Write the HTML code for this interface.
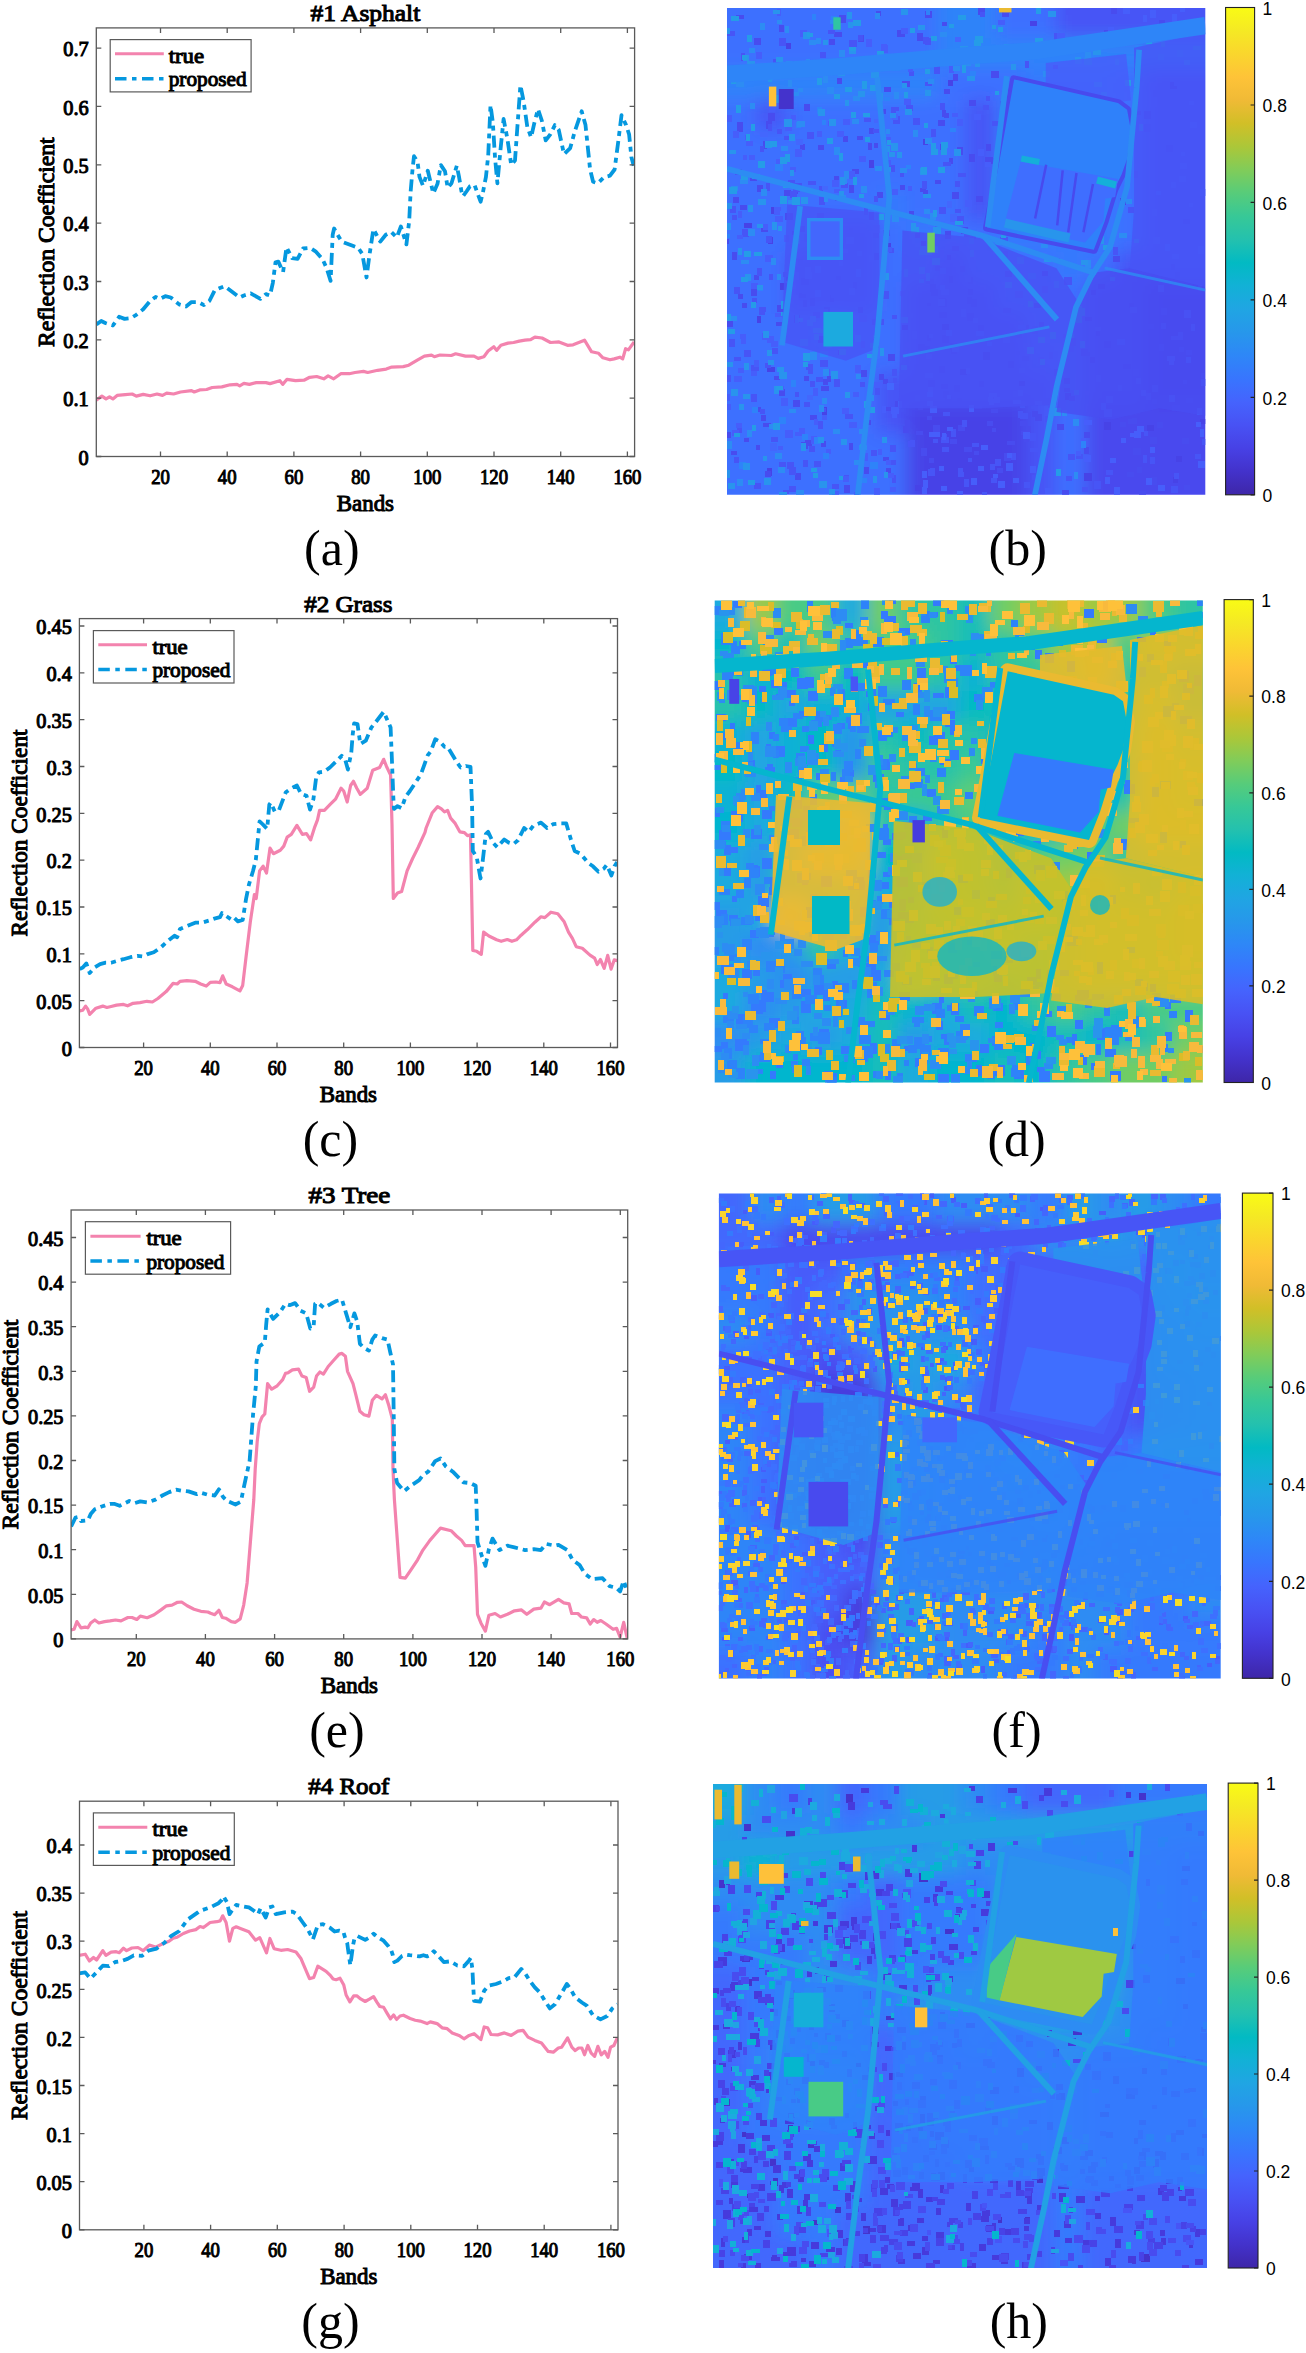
<!DOCTYPE html><html><head><meta charset='utf-8'><style>html,body{margin:0;padding:0;background:#fff}svg{display:block}</style></head><body>
<svg width='1306' height='2353' viewBox='0 0 1306 2353'>
<rect width='1306' height='2353' fill='#fff'/>
<clipPath id='clipa'><rect x='96.3' y='27.9' width='538.3000000000001' height='428.6'/></clipPath>
<g clip-path='url(#clipa)' fill='none' stroke-linejoin='round'>
<polyline points='95.0,400.9 101.9,396.1 106.0,398.9 109.5,396.8 112.9,398.9 117.1,395.4 125.3,394.7 132.2,394.0 136.3,396.1 143.2,394.4 150.1,395.8 157.0,394.0 162.5,395.4 166.7,393.1 173.6,394.0 180.5,392.0 191.5,390.6 194.2,392.0 199.7,389.9 206.6,389.5 212.2,387.5 221.8,386.9 230.1,384.8 237.0,384.4 239.7,385.8 243.9,383.4 249.4,384.4 256.3,382.6 265.9,382.6 270.0,383.6 279.9,380.7 282.7,384.4 287.0,379.3 295.5,380.7 304.0,380.2 309.7,377.3 316.7,376.5 323.8,378.8 328.1,375.9 333.7,378.8 340.8,373.7 349.3,373.7 355.0,372.5 363.5,371.4 367.7,372.5 377.7,370.3 386.2,369.1 391.8,367.1 403.2,366.6 408.8,365.2 417.3,360.1 424.4,356.1 431.5,355.2 434.3,356.7 440.0,355.0 451.3,355.5 455.6,353.8 465.5,356.1 474.0,356.1 478.2,358.4 483.9,356.7 488.1,351.0 493.8,346.7 496.6,350.4 500.9,345.3 508.0,343.1 513.6,342.5 519.3,341.1 525.0,340.2 530.6,339.7 534.9,337.1 542.0,338.0 550.5,342.5 559.0,341.9 567.5,345.3 573.1,344.8 578.8,342.5 584.5,340.2 591.6,351.8 598.6,353.3 602.9,357.8 610.0,359.8 614.2,358.9 619.9,357.2 622.7,358.9 625.6,348.7 628.4,349.9 634.1,341.9' stroke='#f383ae' stroke-width='3.2'/>
<polyline points='96.4,324.4 101.2,321.0 105.3,323.0 112.9,325.5 119.1,316.8 124.6,318.9 130.8,318.2 136.3,314.8 143.2,309.3 150.1,301.0 155.6,296.9 159.8,298.9 165.3,296.2 170.8,297.5 179.1,304.4 186.0,306.5 191.5,302.1 198.4,302.1 203.9,305.1 209.4,301.0 214.9,290.0 224.6,286.1 231.4,291.3 239.7,297.5 243.9,295.5 250.7,293.4 260.4,298.9 265.9,294.1 270.0,295.5 272.8,283.1 275.5,262.3 278.3,261.6 283.1,272.0 286.5,247.2 292.1,258.2 297.6,258.9 303.1,248.5 310.0,247.8 315.5,251.3 322.4,258.9 326.5,267.8 330.6,280.9 332.7,234.7 334.1,228.5 337.5,234.7 341.7,241.6 352.7,245.8 358.2,247.8 362.3,254.0 366.5,277.5 369.2,256.8 373.4,229.2 380.3,241.6 385.8,234.7 391.3,232.0 396.8,237.5 400.9,226.5 406.4,244.4 409.2,221.0 410.6,192.0 412.6,168.6 414.0,156.2 417.5,161.7 419.5,176.9 423.0,185.8 427.8,170.7 433.3,193.4 437.5,183.8 440.9,165.1 445.0,171.3 447.7,187.9 451.5,183.3 456.8,165.7 459.1,177.2 461.4,191.0 463.0,196.3 466.8,191.0 469.9,186.4 474.5,184.9 480.6,201.7 482.9,192.5 485.9,177.2 488.2,155.8 490.5,105.2 492.8,122.1 495.1,158.8 497.4,183.3 500.5,149.6 503.6,119.0 507.4,138.9 511.2,164.9 515.0,160.4 517.3,128.2 520.4,85.3 523.5,100.6 527.3,126.7 531.1,137.4 534.2,123.6 538.0,109.1 541.8,120.5 545.7,140.4 550.3,134.3 554.9,125.1 558.7,129.7 564.0,154.2 570.2,148.1 574.8,131.3 581.7,111.3 585.5,125.1 590.1,169.5 593.1,181.8 597.7,183.3 603.9,177.2 610.0,175.7 614.6,169.5 618.4,140.4 621.5,115.2 626.1,125.1 629.1,134.3 631.4,157.3 633.7,165.7' stroke='#0598df' stroke-width='3.8' stroke-dasharray='12 5 5 5'/>
</g>
<rect x='96.3' y='27.9' width='538.3' height='428.6' fill='none' stroke='#5a5a5a' stroke-width='1.3'/>
<text x='160.5' y='484.0' font-size='20.3' text-anchor='middle' font-weight='normal' font-family="'Liberation Serif', serif" textLength='18.7' lengthAdjust='spacingAndGlyphs' stroke='#000' stroke-width='1.0'>20</text>
<text x='227.2' y='484.0' font-size='20.3' text-anchor='middle' font-weight='normal' font-family="'Liberation Serif', serif" textLength='18.7' lengthAdjust='spacingAndGlyphs' stroke='#000' stroke-width='1.0'>40</text>
<text x='293.9' y='484.0' font-size='20.3' text-anchor='middle' font-weight='normal' font-family="'Liberation Serif', serif" textLength='18.7' lengthAdjust='spacingAndGlyphs' stroke='#000' stroke-width='1.0'>60</text>
<text x='360.6' y='484.0' font-size='20.3' text-anchor='middle' font-weight='normal' font-family="'Liberation Serif', serif" textLength='18.7' lengthAdjust='spacingAndGlyphs' stroke='#000' stroke-width='1.0'>80</text>
<text x='427.3' y='484.0' font-size='20.3' text-anchor='middle' font-weight='normal' font-family="'Liberation Serif', serif" textLength='28.0' lengthAdjust='spacingAndGlyphs' stroke='#000' stroke-width='1.0'>100</text>
<text x='494.0' y='484.0' font-size='20.3' text-anchor='middle' font-weight='normal' font-family="'Liberation Serif', serif" textLength='28.0' lengthAdjust='spacingAndGlyphs' stroke='#000' stroke-width='1.0'>120</text>
<text x='560.7' y='484.0' font-size='20.3' text-anchor='middle' font-weight='normal' font-family="'Liberation Serif', serif" textLength='28.0' lengthAdjust='spacingAndGlyphs' stroke='#000' stroke-width='1.0'>140</text>
<text x='627.4' y='484.0' font-size='20.3' text-anchor='middle' font-weight='normal' font-family="'Liberation Serif', serif" textLength='28.0' lengthAdjust='spacingAndGlyphs' stroke='#000' stroke-width='1.0'>160</text>
<text x='88.7' y='464.7' font-size='20.3' text-anchor='end' font-weight='normal' font-family="'Liberation Serif', serif" stroke='#000' stroke-width='1.0'>0</text>
<text x='88.7' y='406.3' font-size='20.3' text-anchor='end' font-weight='normal' font-family="'Liberation Serif', serif" stroke='#000' stroke-width='1.0'>0.1</text>
<text x='88.7' y='348.0' font-size='20.3' text-anchor='end' font-weight='normal' font-family="'Liberation Serif', serif" stroke='#000' stroke-width='1.0'>0.2</text>
<text x='88.7' y='289.6' font-size='20.3' text-anchor='end' font-weight='normal' font-family="'Liberation Serif', serif" stroke='#000' stroke-width='1.0'>0.3</text>
<text x='88.7' y='231.3' font-size='20.3' text-anchor='end' font-weight='normal' font-family="'Liberation Serif', serif" stroke='#000' stroke-width='1.0'>0.4</text>
<text x='88.7' y='172.9' font-size='20.3' text-anchor='end' font-weight='normal' font-family="'Liberation Serif', serif" stroke='#000' stroke-width='1.0'>0.5</text>
<text x='88.7' y='114.6' font-size='20.3' text-anchor='end' font-weight='normal' font-family="'Liberation Serif', serif" stroke='#000' stroke-width='1.0'>0.6</text>
<text x='88.7' y='56.2' font-size='20.3' text-anchor='end' font-weight='normal' font-family="'Liberation Serif', serif" stroke='#000' stroke-width='1.0'>0.7</text>
<path d='M160.5,456.5v-5M160.5,27.9v5M227.2,456.5v-5M227.2,27.9v5M293.9,456.5v-5M293.9,27.9v5M360.6,456.5v-5M360.6,27.9v5M427.3,456.5v-5M427.3,27.9v5M494.0,456.5v-5M494.0,27.9v5M560.7,456.5v-5M560.7,27.9v5M627.4,456.5v-5M627.4,27.9v5M96.3,456.5h5M634.6,456.5h-5M96.3,398.1h5M634.6,398.1h-5M96.3,339.8h5M634.6,339.8h-5M96.3,281.5h5M634.6,281.5h-5M96.3,223.1h5M634.6,223.1h-5M96.3,164.8h5M634.6,164.8h-5M96.3,106.4h5M634.6,106.4h-5M96.3,48.1h5M634.6,48.1h-5' stroke='#5a5a5a' stroke-width='1.3' fill='none'/>
<text x='365.4' y='21.0' font-size='23.5' text-anchor='middle' font-weight='normal' font-family="'Liberation Serif', serif" textLength='109.7' lengthAdjust='spacingAndGlyphs' stroke='#000' stroke-width='1.0'>#1 Asphalt</text>
<text x='365.4' y='510.7' font-size='22.3' text-anchor='middle' font-weight='normal' font-family="'Liberation Serif', serif" textLength='57.3' lengthAdjust='spacingAndGlyphs' stroke='#000' stroke-width='1.0'>Bands</text>
<text transform='translate(54.0,242.2) rotate(-90)' x='0' y='0' font-size='22.3' text-anchor='middle' font-weight='normal' stroke='#000' stroke-width='1.0' font-family="'Liberation Serif', serif" textLength='209.7' lengthAdjust='spacingAndGlyphs'>Reflection Coefficient</text>
<rect x='110.2' y='39.6' width='140.9' height='52.3' fill='#fff' stroke='#5a5a5a' stroke-width='1.2'/>
<line x1='115.0' y1='53.7' x2='163.8' y2='53.7' stroke='#f383ae' stroke-width='3.1'/>
<line x1='115.0' y1='78.7' x2='163.8' y2='78.7' stroke='#0598df' stroke-width='3.5' stroke-dasharray='11.5 5.5 4.5 5.5'/>
<text x='168.7' y='62.6' font-size='20.5' text-anchor='start' font-weight='normal' font-family="'Liberation Serif', serif" textLength='35.3' lengthAdjust='spacingAndGlyphs' stroke='#000' stroke-width='1.0'>true</text>
<text x='168.7' y='86.1' font-size='20.5' text-anchor='start' font-weight='normal' font-family="'Liberation Serif', serif" textLength='77.9' lengthAdjust='spacingAndGlyphs' stroke='#000' stroke-width='1.0'>proposed</text>
<clipPath id='clipc'><rect x='79.4' y='618.6' width='538.1' height='428.9'/></clipPath>
<g clip-path='url(#clipc)' fill='none' stroke-linejoin='round'>
<polyline points='79.7,1010.9 82.8,1010.2 85.6,1006.1 87.6,1008.9 89.7,1014.4 95.9,1008.2 102.8,1006.1 106.9,1007.5 111.1,1006.5 116.6,1005.1 123.5,1004.4 127.6,1005.8 133.1,1003.3 140.0,1002.6 146.9,1001.3 152.4,1002.0 157.9,998.5 166.2,991.6 173.1,983.4 177.2,984.0 180.0,981.3 186.9,980.6 195.2,981.3 200.7,984.0 206.2,986.1 210.3,982.4 215.8,982.0 220.0,982.7 222.7,975.8 226.2,984.0 232.4,986.8 239.9,990.9 242.7,985.4 246.1,956.5 250.3,922.0 254.4,894.5 256.2,898.5 259.6,870.9 263.1,866.1 266.5,873.0 270.0,848.2 273.4,853.7 280.3,850.2 283.8,846.1 287.2,837.1 291.3,834.4 296.9,825.4 302.4,834.4 306.5,833.7 310.6,839.9 314.8,826.8 317.5,819.9 319.6,810.3 324.4,810.3 329.9,804.7 335.5,799.2 341.0,788.2 343.7,791.0 347.2,802.0 350.6,785.5 353.4,781.3 356.8,788.2 360.3,794.4 367.2,788.2 372.7,770.3 379.6,767.5 383.7,759.3 386.4,766.2 390.6,775.1 392.0,824.0 393.3,898.5 397.5,893.0 401.6,891.6 407.1,870.9 412.6,858.5 418.1,847.5 425.0,832.3 426.1,828.0 432.3,812.7 437.6,806.6 441.4,808.9 444.5,811.9 447.6,810.4 450.6,818.1 455.2,823.4 459.8,831.8 464.4,832.6 467.5,835.7 470.5,834.9 472.8,950.5 476.7,951.3 481.3,954.3 483.6,932.1 488.9,936.0 496.6,939.8 501.2,941.3 507.3,939.5 511.9,941.3 516.5,939.8 521.1,935.2 527.2,929.8 534.9,922.2 541.0,916.8 544.8,917.6 550.9,912.2 557.8,913.8 564.0,921.4 568.5,932.1 572.4,938.3 576.2,946.7 582.3,948.2 590.0,955.1 594.6,958.2 597.3,964.5 600.4,959.5 604.2,968.3 607.7,955.3 611.1,969.1 614.2,959.9 617.2,960.6' stroke='#f383ae' stroke-width='3.2'/>
<polyline points='79.7,968.9 82.8,967.5 86.3,963.4 89.7,973.0 94.5,967.5 100.1,964.1 105.6,962.7 111.1,962.7 118.0,960.6 123.5,959.2 130.4,957.2 137.3,955.8 142.8,956.5 146.9,954.4 153.8,952.3 160.7,947.5 169.0,939.9 174.5,935.8 177.2,937.2 180.0,928.9 188.3,925.5 195.2,922.7 202.0,922.7 208.9,920.6 214.4,918.6 220.0,917.2 222.0,913.1 226.9,916.5 231.0,919.3 233.7,917.2 237.9,921.3 242.7,920.0 246.1,898.6 248.9,884.8 253.0,871.0 255.8,860.0 259.6,821.3 262.4,824.0 267.2,828.9 269.3,804.7 270.7,802.7 274.8,811.6 278.9,810.3 285.8,792.3 291.3,788.2 296.9,785.5 301.0,793.7 306.5,795.8 310.0,809.6 313.4,799.2 316.2,777.2 318.9,772.4 324.4,771.7 329.9,767.5 338.2,759.3 341.7,755.8 345.1,759.3 347.9,769.6 351.3,752.4 352.7,734.5 354.1,723.4 357.5,724.1 360.3,744.1 365.8,740.7 371.3,727.6 376.8,720.7 383.7,711.7 386.4,717.9 390.6,727.6 392.0,762.0 393.3,796.5 394.0,808.9 397.5,806.1 401.6,808.2 405.7,796.5 409.9,791.0 415.4,782.7 420.9,774.4 427.8,755.1 430.7,751.4 435.3,739.2 439.9,741.5 444.5,746.8 447.6,746.8 452.2,754.5 456.8,762.2 460.6,767.5 465.9,766.0 470.5,766.8 472.1,806.6 472.8,851.0 476.7,857.1 480.5,878.5 482.8,860.2 485.8,834.1 488.1,831.8 493.5,843.3 497.3,847.2 504.2,839.5 508.8,842.6 513.4,844.1 518.0,840.3 524.1,828.0 528.7,831.8 533.3,825.7 541.0,822.6 547.1,828.0 553.2,824.2 560.9,823.4 566.2,823.4 571.6,841.8 574.7,851.0 580.8,854.0 588.5,863.2 593.0,866.3 598.4,871.7 603.8,868.6 606.8,864.8 611.4,875.5 614.5,866.3 617.5,861.7 619.1,861.7' stroke='#0598df' stroke-width='3.8' stroke-dasharray='12 5 5 5'/>
</g>
<rect x='79.4' y='618.6' width='538.1' height='428.9' fill='none' stroke='#5a5a5a' stroke-width='1.3'/>
<text x='143.6' y='1075.0' font-size='20.3' text-anchor='middle' font-weight='normal' font-family="'Liberation Serif', serif" textLength='18.7' lengthAdjust='spacingAndGlyphs' stroke='#000' stroke-width='1.0'>20</text>
<text x='210.3' y='1075.0' font-size='20.3' text-anchor='middle' font-weight='normal' font-family="'Liberation Serif', serif" textLength='18.7' lengthAdjust='spacingAndGlyphs' stroke='#000' stroke-width='1.0'>40</text>
<text x='277.0' y='1075.0' font-size='20.3' text-anchor='middle' font-weight='normal' font-family="'Liberation Serif', serif" textLength='18.7' lengthAdjust='spacingAndGlyphs' stroke='#000' stroke-width='1.0'>60</text>
<text x='343.7' y='1075.0' font-size='20.3' text-anchor='middle' font-weight='normal' font-family="'Liberation Serif', serif" textLength='18.7' lengthAdjust='spacingAndGlyphs' stroke='#000' stroke-width='1.0'>80</text>
<text x='410.4' y='1075.0' font-size='20.3' text-anchor='middle' font-weight='normal' font-family="'Liberation Serif', serif" textLength='28.0' lengthAdjust='spacingAndGlyphs' stroke='#000' stroke-width='1.0'>100</text>
<text x='477.1' y='1075.0' font-size='20.3' text-anchor='middle' font-weight='normal' font-family="'Liberation Serif', serif" textLength='28.0' lengthAdjust='spacingAndGlyphs' stroke='#000' stroke-width='1.0'>120</text>
<text x='543.8' y='1075.0' font-size='20.3' text-anchor='middle' font-weight='normal' font-family="'Liberation Serif', serif" textLength='28.0' lengthAdjust='spacingAndGlyphs' stroke='#000' stroke-width='1.0'>140</text>
<text x='610.5' y='1075.0' font-size='20.3' text-anchor='middle' font-weight='normal' font-family="'Liberation Serif', serif" textLength='28.0' lengthAdjust='spacingAndGlyphs' stroke='#000' stroke-width='1.0'>160</text>
<text x='71.8' y='1055.7' font-size='20.3' text-anchor='end' font-weight='normal' font-family="'Liberation Serif', serif" stroke='#000' stroke-width='1.0'>0</text>
<text x='71.8' y='1008.9' font-size='20.3' text-anchor='end' font-weight='normal' font-family="'Liberation Serif', serif" stroke='#000' stroke-width='1.0'>0.05</text>
<text x='71.8' y='962.0' font-size='20.3' text-anchor='end' font-weight='normal' font-family="'Liberation Serif', serif" stroke='#000' stroke-width='1.0'>0.1</text>
<text x='71.8' y='915.2' font-size='20.3' text-anchor='end' font-weight='normal' font-family="'Liberation Serif', serif" stroke='#000' stroke-width='1.0'>0.15</text>
<text x='71.8' y='868.4' font-size='20.3' text-anchor='end' font-weight='normal' font-family="'Liberation Serif', serif" stroke='#000' stroke-width='1.0'>0.2</text>
<text x='71.8' y='821.5' font-size='20.3' text-anchor='end' font-weight='normal' font-family="'Liberation Serif', serif" stroke='#000' stroke-width='1.0'>0.25</text>
<text x='71.8' y='774.7' font-size='20.3' text-anchor='end' font-weight='normal' font-family="'Liberation Serif', serif" stroke='#000' stroke-width='1.0'>0.3</text>
<text x='71.8' y='727.9' font-size='20.3' text-anchor='end' font-weight='normal' font-family="'Liberation Serif', serif" stroke='#000' stroke-width='1.0'>0.35</text>
<text x='71.8' y='681.0' font-size='20.3' text-anchor='end' font-weight='normal' font-family="'Liberation Serif', serif" stroke='#000' stroke-width='1.0'>0.4</text>
<text x='71.8' y='634.2' font-size='20.3' text-anchor='end' font-weight='normal' font-family="'Liberation Serif', serif" stroke='#000' stroke-width='1.0'>0.45</text>
<path d='M143.6,1047.5v-5M143.6,618.6v5M210.3,1047.5v-5M210.3,618.6v5M277.0,1047.5v-5M277.0,618.6v5M343.7,1047.5v-5M343.7,618.6v5M410.4,1047.5v-5M410.4,618.6v5M477.1,1047.5v-5M477.1,618.6v5M543.8,1047.5v-5M543.8,618.6v5M610.5,1047.5v-5M610.5,618.6v5M79.4,1047.5h5M617.5,1047.5h-5M79.4,1000.7h5M617.5,1000.7h-5M79.4,953.8h5M617.5,953.8h-5M79.4,907.0h5M617.5,907.0h-5M79.4,860.2h5M617.5,860.2h-5M79.4,813.3h5M617.5,813.3h-5M79.4,766.5h5M617.5,766.5h-5M79.4,719.7h5M617.5,719.7h-5M79.4,672.8h5M617.5,672.8h-5M79.4,626.0h5M617.5,626.0h-5' stroke='#5a5a5a' stroke-width='1.3' fill='none'/>
<text x='348.4' y='611.7' font-size='23.5' text-anchor='middle' font-weight='normal' font-family="'Liberation Serif', serif" textLength='88.4' lengthAdjust='spacingAndGlyphs' stroke='#000' stroke-width='1.0'>#2 Grass</text>
<text x='348.4' y='1101.7' font-size='22.3' text-anchor='middle' font-weight='normal' font-family="'Liberation Serif', serif" textLength='57.3' lengthAdjust='spacingAndGlyphs' stroke='#000' stroke-width='1.0'>Bands</text>
<text transform='translate(27.2,833.0) rotate(-90)' x='0' y='0' font-size='22.3' text-anchor='middle' font-weight='normal' stroke='#000' stroke-width='1.0' font-family="'Liberation Serif', serif" textLength='207.0' lengthAdjust='spacingAndGlyphs'>Reflection Coefficient</text>
<rect x='93.4' y='630.6' width='140.6' height='52.4' fill='#fff' stroke='#5a5a5a' stroke-width='1.2'/>
<line x1='98.3' y1='644.8' x2='147.0' y2='644.8' stroke='#f383ae' stroke-width='3.1'/>
<line x1='98.3' y1='669.6' x2='147.0' y2='669.6' stroke='#0598df' stroke-width='3.5' stroke-dasharray='11.5 5.5 4.5 5.5'/>
<text x='152.4' y='653.7' font-size='20.5' text-anchor='start' font-weight='normal' font-family="'Liberation Serif', serif" textLength='35.3' lengthAdjust='spacingAndGlyphs' stroke='#000' stroke-width='1.0'>true</text>
<text x='152.4' y='677.2' font-size='20.5' text-anchor='start' font-weight='normal' font-family="'Liberation Serif', serif" textLength='77.9' lengthAdjust='spacingAndGlyphs' stroke='#000' stroke-width='1.0'>proposed</text>
<clipPath id='clipe'><rect x='71.1' y='1210.0' width='556.6' height='428.9000000000001'/></clipPath>
<g clip-path='url(#clipe)' fill='none' stroke-linejoin='round'>
<polyline points='71.1,1629.9 74.1,1629.2 76.9,1621.6 81.0,1627.8 85.2,1627.1 87.9,1627.8 90.7,1623.0 94.8,1620.0 98.9,1623.0 104.5,1621.6 110.0,1620.9 115.5,1620.0 121.0,1620.9 127.9,1617.5 132.0,1617.5 136.8,1619.5 140.3,1616.1 147.2,1617.7 154.1,1614.7 161.0,1609.9 166.5,1605.8 172.0,1605.1 177.5,1602.3 181.6,1602.0 187.2,1605.8 194.0,1609.2 200.9,1611.3 207.8,1612.0 210.6,1613.3 214.7,1614.7 218.9,1610.3 222.3,1617.5 225.7,1618.2 231.3,1621.6 235.4,1622.3 240.2,1618.9 243.7,1605.1 247.1,1583.0 253.8,1499.5 255.2,1469.2 257.2,1441.6 259.3,1423.7 262.1,1416.8 264.8,1414.0 267.6,1383.7 271.7,1389.2 277.2,1385.8 282.7,1379.6 285.5,1373.4 288.2,1372.7 292.4,1369.9 298.6,1369.2 302.0,1376.1 306.2,1377.5 309.6,1391.3 313.7,1387.2 316.5,1376.1 319.9,1372.0 323.4,1374.1 328.2,1366.5 333.7,1360.3 339.2,1354.1 342.0,1353.4 345.4,1356.2 347.5,1371.3 353.0,1383.7 355.8,1394.7 359.9,1411.3 364.0,1414.7 368.9,1416.1 372.3,1400.3 376.4,1395.4 382.0,1398.9 385.4,1394.7 388.9,1405.8 392.3,1418.9 393.0,1469.2 394.4,1499.5 400.0,1577.4 405.3,1578.2 410.6,1570.3 417.6,1559.8 422.9,1550.1 429.9,1540.4 435.2,1534.2 440.5,1528.1 451.1,1530.7 456.4,1536.0 461.6,1540.4 465.2,1545.7 474.0,1545.7 475.7,1566.8 477.5,1614.3 481.0,1623.2 485.4,1631.1 488.9,1615.2 495.1,1613.5 500.4,1617.0 507.4,1614.3 514.5,1610.8 521.5,1609.9 526.8,1614.3 533.8,1609.1 540.9,1608.2 544.4,1602.0 549.7,1604.7 558.5,1599.4 563.8,1602.9 569.1,1603.8 571.7,1613.5 577.9,1613.5 581.4,1617.0 586.7,1617.9 590.2,1624.0 593.7,1619.6 597.2,1622.3 600.8,1620.5 606.0,1624.0 613.1,1629.3 616.6,1628.4 620.1,1637.2 623.7,1622.3 627.2,1638.1' stroke='#f383ae' stroke-width='3.2'/>
<polyline points='71.1,1526.5 75.5,1517.5 78.3,1516.9 81.0,1521.0 87.9,1520.3 90.7,1514.1 94.8,1509.3 101.7,1506.5 110.0,1503.8 114.1,1503.8 119.6,1505.8 129.3,1501.0 134.8,1503.1 140.3,1501.4 147.2,1502.4 155.5,1499.6 162.3,1495.5 169.2,1492.1 176.1,1489.7 181.6,1490.7 188.5,1491.4 196.8,1494.1 200.9,1492.7 207.8,1494.8 214.7,1495.5 218.9,1489.3 223.0,1496.9 227.1,1501.0 235.4,1504.5 240.9,1501.7 243.7,1487.9 246.4,1475.5 249.6,1460.9 253.1,1414.0 255.8,1386.5 256.5,1361.7 259.3,1346.5 264.8,1342.4 266.2,1324.5 267.6,1309.3 273.1,1318.9 280.0,1312.1 285.5,1303.8 289.6,1305.2 295.1,1303.1 300.6,1310.7 306.2,1313.4 310.3,1328.6 313.7,1325.8 315.1,1303.8 317.2,1302.4 324.1,1307.9 331.0,1303.8 336.5,1301.0 342.0,1299.6 346.1,1313.4 350.3,1327.2 354.4,1313.4 357.2,1321.7 359.9,1343.8 364.0,1347.9 368.9,1350.6 372.3,1339.6 375.1,1335.5 382.0,1338.2 387.5,1339.6 390.2,1352.0 393.0,1364.4 393.7,1414.0 394.4,1469.2 397.1,1483.0 404.0,1491.2 410.9,1485.7 419.2,1480.2 422.9,1475.2 428.2,1471.7 435.2,1461.1 440.5,1458.5 445.8,1466.4 452.8,1471.7 463.4,1482.3 470.4,1483.1 475.7,1485.8 476.6,1510.4 477.5,1542.1 481.9,1556.2 485.4,1565.9 488.9,1549.2 492.5,1538.6 499.5,1550.1 507.4,1545.7 514.5,1547.4 525.0,1550.1 533.8,1549.2 540.9,1550.1 546.2,1543.9 555.0,1545.7 558.5,1544.8 567.3,1550.1 572.6,1559.8 579.6,1565.0 584.9,1573.8 592.0,1579.1 602.5,1578.2 609.6,1586.2 616.6,1587.9 620.1,1591.5 623.7,1580.9 627.2,1590.6' stroke='#0598df' stroke-width='3.8' stroke-dasharray='12 5 5 5'/>
</g>
<rect x='71.1' y='1210.0' width='556.6' height='428.9' fill='none' stroke='#5a5a5a' stroke-width='1.3'/>
<text x='136.3' y='1666.4' font-size='20.3' text-anchor='middle' font-weight='normal' font-family="'Liberation Serif', serif" textLength='18.7' lengthAdjust='spacingAndGlyphs' stroke='#000' stroke-width='1.0'>20</text>
<text x='205.4' y='1666.4' font-size='20.3' text-anchor='middle' font-weight='normal' font-family="'Liberation Serif', serif" textLength='18.7' lengthAdjust='spacingAndGlyphs' stroke='#000' stroke-width='1.0'>40</text>
<text x='274.6' y='1666.4' font-size='20.3' text-anchor='middle' font-weight='normal' font-family="'Liberation Serif', serif" textLength='18.7' lengthAdjust='spacingAndGlyphs' stroke='#000' stroke-width='1.0'>60</text>
<text x='343.7' y='1666.4' font-size='20.3' text-anchor='middle' font-weight='normal' font-family="'Liberation Serif', serif" textLength='18.7' lengthAdjust='spacingAndGlyphs' stroke='#000' stroke-width='1.0'>80</text>
<text x='412.9' y='1666.4' font-size='20.3' text-anchor='middle' font-weight='normal' font-family="'Liberation Serif', serif" textLength='28.0' lengthAdjust='spacingAndGlyphs' stroke='#000' stroke-width='1.0'>100</text>
<text x='482.0' y='1666.4' font-size='20.3' text-anchor='middle' font-weight='normal' font-family="'Liberation Serif', serif" textLength='28.0' lengthAdjust='spacingAndGlyphs' stroke='#000' stroke-width='1.0'>120</text>
<text x='551.1' y='1666.4' font-size='20.3' text-anchor='middle' font-weight='normal' font-family="'Liberation Serif', serif" textLength='28.0' lengthAdjust='spacingAndGlyphs' stroke='#000' stroke-width='1.0'>140</text>
<text x='620.3' y='1666.4' font-size='20.3' text-anchor='middle' font-weight='normal' font-family="'Liberation Serif', serif" textLength='28.0' lengthAdjust='spacingAndGlyphs' stroke='#000' stroke-width='1.0'>160</text>
<text x='63.5' y='1647.1' font-size='20.3' text-anchor='end' font-weight='normal' font-family="'Liberation Serif', serif" stroke='#000' stroke-width='1.0'>0</text>
<text x='63.5' y='1602.5' font-size='20.3' text-anchor='end' font-weight='normal' font-family="'Liberation Serif', serif" stroke='#000' stroke-width='1.0'>0.05</text>
<text x='63.5' y='1557.9' font-size='20.3' text-anchor='end' font-weight='normal' font-family="'Liberation Serif', serif" stroke='#000' stroke-width='1.0'>0.1</text>
<text x='63.5' y='1513.3' font-size='20.3' text-anchor='end' font-weight='normal' font-family="'Liberation Serif', serif" stroke='#000' stroke-width='1.0'>0.15</text>
<text x='63.5' y='1468.7' font-size='20.3' text-anchor='end' font-weight='normal' font-family="'Liberation Serif', serif" stroke='#000' stroke-width='1.0'>0.2</text>
<text x='63.5' y='1424.1' font-size='20.3' text-anchor='end' font-weight='normal' font-family="'Liberation Serif', serif" stroke='#000' stroke-width='1.0'>0.25</text>
<text x='63.5' y='1379.5' font-size='20.3' text-anchor='end' font-weight='normal' font-family="'Liberation Serif', serif" stroke='#000' stroke-width='1.0'>0.3</text>
<text x='63.5' y='1334.9' font-size='20.3' text-anchor='end' font-weight='normal' font-family="'Liberation Serif', serif" stroke='#000' stroke-width='1.0'>0.35</text>
<text x='63.5' y='1290.3' font-size='20.3' text-anchor='end' font-weight='normal' font-family="'Liberation Serif', serif" stroke='#000' stroke-width='1.0'>0.4</text>
<text x='63.5' y='1245.7' font-size='20.3' text-anchor='end' font-weight='normal' font-family="'Liberation Serif', serif" stroke='#000' stroke-width='1.0'>0.45</text>
<path d='M136.3,1638.9v-5M136.3,1210.0v5M205.4,1638.9v-5M205.4,1210.0v5M274.6,1638.9v-5M274.6,1210.0v5M343.7,1638.9v-5M343.7,1210.0v5M412.9,1638.9v-5M412.9,1210.0v5M482.0,1638.9v-5M482.0,1210.0v5M551.1,1638.9v-5M551.1,1210.0v5M620.3,1638.9v-5M620.3,1210.0v5M71.1,1638.9h5M627.7,1638.9h-5M71.1,1594.3h5M627.7,1594.3h-5M71.1,1549.7h5M627.7,1549.7h-5M71.1,1505.1h5M627.7,1505.1h-5M71.1,1460.5h5M627.7,1460.5h-5M71.1,1415.9h5M627.7,1415.9h-5M71.1,1371.3h5M627.7,1371.3h-5M71.1,1326.7h5M627.7,1326.7h-5M71.1,1282.1h5M627.7,1282.1h-5M71.1,1237.5h5M627.7,1237.5h-5' stroke='#5a5a5a' stroke-width='1.3' fill='none'/>
<text x='349.4' y='1203.1' font-size='23.5' text-anchor='middle' font-weight='normal' font-family="'Liberation Serif', serif" textLength='81.9' lengthAdjust='spacingAndGlyphs' stroke='#000' stroke-width='1.0'>#3 Tree</text>
<text x='349.4' y='1693.1' font-size='22.3' text-anchor='middle' font-weight='normal' font-family="'Liberation Serif', serif" textLength='57.3' lengthAdjust='spacingAndGlyphs' stroke='#000' stroke-width='1.0'>Bands</text>
<text transform='translate(17.6,1424.5) rotate(-90)' x='0' y='0' font-size='22.3' text-anchor='middle' font-weight='normal' stroke='#000' stroke-width='1.0' font-family="'Liberation Serif', serif" textLength='209.8' lengthAdjust='spacingAndGlyphs'>Reflection Coefficient</text>
<rect x='85.4' y='1221.7' width='145.2' height='52.5' fill='#fff' stroke='#5a5a5a' stroke-width='1.2'/>
<line x1='90.4' y1='1236.2' x2='140.6' y2='1236.2' stroke='#f383ae' stroke-width='3.1'/>
<line x1='90.4' y1='1260.9' x2='140.6' y2='1260.9' stroke='#0598df' stroke-width='3.5' stroke-dasharray='11.5 5.5 4.5 5.5'/>
<text x='146.4' y='1245.1' font-size='20.5' text-anchor='start' font-weight='normal' font-family="'Liberation Serif', serif" textLength='35.3' lengthAdjust='spacingAndGlyphs' stroke='#000' stroke-width='1.0'>true</text>
<text x='146.4' y='1268.6' font-size='20.5' text-anchor='start' font-weight='normal' font-family="'Liberation Serif', serif" textLength='77.9' lengthAdjust='spacingAndGlyphs' stroke='#000' stroke-width='1.0'>proposed</text>
<clipPath id='clipg'><rect x='79.5' y='1801.2' width='538.5' height='428.60000000000014'/></clipPath>
<g clip-path='url(#clipg)' fill='none' stroke-linejoin='round'>
<polyline points='79.0,1955.4 85.2,1954.2 89.4,1961.0 93.5,1957.5 96.6,1960.0 102.8,1950.7 105.9,1955.4 111.1,1952.1 116.2,1951.7 119.3,1952.7 123.5,1948.2 126.6,1950.7 131.8,1948.0 138.0,1947.5 143.1,1950.7 149.3,1945.1 155.5,1947.1 162.8,1943.8 169.0,1941.3 173.1,1938.2 177.2,1937.2 183.4,1933.5 189.6,1931.0 195.8,1929.6 200.0,1926.5 203.4,1927.6 210.1,1922.5 216.8,1921.7 220.2,1920.9 222.7,1915.8 226.1,1922.5 229.5,1941.1 232.8,1928.4 236.2,1926.8 240.4,1928.4 248.9,1931.8 255.6,1940.2 259.8,1937.7 266.5,1952.9 269.9,1938.5 274.1,1948.7 280.9,1950.3 287.6,1949.5 296.0,1952.0 301.1,1958.8 303.3,1964.1 309.5,1978.6 313.7,1977.5 317.8,1966.2 326.1,1971.3 330.0,1975.1 333.1,1979.0 336.1,1979.7 340.0,1978.2 343.8,1985.1 346.1,1995.0 349.9,2001.9 353.7,1995.8 356.8,1995.8 360.6,1998.9 365.2,2001.5 369.8,1998.9 373.6,1996.6 376.7,2001.9 379.8,2006.5 383.6,2007.3 386.7,2012.6 390.5,2018.8 393.6,2014.9 396.6,2019.5 400.0,2016.0 403.4,2015.2 410.1,2018.5 415.2,2020.2 420.2,2021.1 427.0,2023.6 430.3,2021.9 437.1,2023.6 442.1,2027.8 447.2,2028.7 452.2,2032.9 459.0,2035.4 464.0,2038.8 469.1,2035.4 474.1,2033.7 480.9,2039.6 484.2,2027.0 487.6,2027.8 491.0,2034.5 497.7,2034.9 504.4,2032.9 511.2,2035.4 517.9,2031.2 523.0,2030.3 528.0,2037.1 534.8,2040.4 541.5,2043.0 548.2,2051.4 553.3,2052.2 558.3,2048.0 561.7,2047.2 567.6,2037.9 571.8,2047.2 575.2,2050.6 578.6,2048.0 581.9,2048.0 584.5,2054.8 587.8,2045.5 591.2,2053.1 594.6,2056.4 597.9,2046.3 601.3,2054.8 604.7,2051.4 608.0,2057.3 610.6,2047.2 613.9,2045.5 617.3,2037.9' stroke='#f383ae' stroke-width='3.2'/>
<polyline points='79.0,1973.4 85.2,1972.4 90.4,1978.6 96.6,1972.4 102.8,1965.7 109.0,1966.2 115.2,1962.0 121.4,1961.0 127.6,1958.9 133.8,1955.4 142.1,1955.8 148.3,1950.7 156.6,1948.6 164.8,1942.4 171.0,1936.2 179.3,1931.0 187.6,1919.6 197.9,1912.4 200.0,1910.8 210.1,1907.4 218.5,1903.2 221.9,1899.8 223.6,1896.4 227.0,1902.3 229.5,1914.1 232.8,1909.1 236.2,1904.9 243.8,1906.5 248.9,1907.4 253.9,1910.8 258.1,1914.1 260.6,1908.2 265.7,1917.5 269.1,1907.4 272.4,1906.5 275.8,1914.1 284.2,1912.4 292.6,1911.6 296.9,1914.1 302.8,1922.5 307.8,1929.3 312.9,1939.4 317.9,1925.1 323.0,1924.2 330.0,1927.7 334.6,1931.5 339.2,1930.7 343.4,1931.9 345.3,1938.4 347.2,1943.0 348.0,1949.1 349.1,1956.8 350.3,1965.2 351.8,1954.5 353.0,1945.3 354.5,1938.4 357.6,1936.1 362.2,1938.4 365.2,1939.9 369.1,1937.6 373.6,1933.8 378.2,1937.6 383.6,1940.7 388.2,1946.0 391.3,1950.6 392.8,1955.2 394.3,1962.1 397.4,1960.6 402.0,1956.0 405.8,1954.5 409.6,1955.2 414.2,1955.6 419.6,1956.4 423.4,1955.2 427.2,1956.4 430.0,1955.2 433.7,1951.2 438.7,1956.2 443.8,1962.1 450.5,1961.3 457.3,1965.5 464.0,1966.3 469.1,1960.4 470.8,1957.9 472.4,1968.9 473.3,1987.4 474.1,2000.9 480.0,2001.7 484.2,1990.8 488.4,1985.7 496.0,1984.0 502.8,1981.5 508.7,1978.1 514.5,1977.3 521.3,1968.9 525.5,1973.9 529.7,1980.6 534.8,1987.4 539.8,1992.4 544.9,2000.9 549.9,2008.4 555.0,2004.2 560.0,1995.8 566.8,1984.0 570.1,1988.2 575.2,1997.5 581.9,2002.5 587.0,2005.9 592.9,2015.2 600.5,2019.4 607.2,2016.0 612.3,2008.4 617.3,2004.2' stroke='#0598df' stroke-width='3.8' stroke-dasharray='12 5 5 5'/>
</g>
<rect x='79.5' y='1801.2' width='538.5' height='428.6' fill='none' stroke='#5a5a5a' stroke-width='1.3'/>
<text x='143.9' y='2257.3' font-size='20.3' text-anchor='middle' font-weight='normal' font-family="'Liberation Serif', serif" textLength='18.7' lengthAdjust='spacingAndGlyphs' stroke='#000' stroke-width='1.0'>20</text>
<text x='210.6' y='2257.3' font-size='20.3' text-anchor='middle' font-weight='normal' font-family="'Liberation Serif', serif" textLength='18.7' lengthAdjust='spacingAndGlyphs' stroke='#000' stroke-width='1.0'>40</text>
<text x='277.3' y='2257.3' font-size='20.3' text-anchor='middle' font-weight='normal' font-family="'Liberation Serif', serif" textLength='18.7' lengthAdjust='spacingAndGlyphs' stroke='#000' stroke-width='1.0'>60</text>
<text x='344.1' y='2257.3' font-size='20.3' text-anchor='middle' font-weight='normal' font-family="'Liberation Serif', serif" textLength='18.7' lengthAdjust='spacingAndGlyphs' stroke='#000' stroke-width='1.0'>80</text>
<text x='410.8' y='2257.3' font-size='20.3' text-anchor='middle' font-weight='normal' font-family="'Liberation Serif', serif" textLength='28.0' lengthAdjust='spacingAndGlyphs' stroke='#000' stroke-width='1.0'>100</text>
<text x='477.5' y='2257.3' font-size='20.3' text-anchor='middle' font-weight='normal' font-family="'Liberation Serif', serif" textLength='28.0' lengthAdjust='spacingAndGlyphs' stroke='#000' stroke-width='1.0'>120</text>
<text x='544.2' y='2257.3' font-size='20.3' text-anchor='middle' font-weight='normal' font-family="'Liberation Serif', serif" textLength='28.0' lengthAdjust='spacingAndGlyphs' stroke='#000' stroke-width='1.0'>140</text>
<text x='610.9' y='2257.3' font-size='20.3' text-anchor='middle' font-weight='normal' font-family="'Liberation Serif', serif" textLength='28.0' lengthAdjust='spacingAndGlyphs' stroke='#000' stroke-width='1.0'>160</text>
<text x='71.9' y='2238.0' font-size='20.3' text-anchor='end' font-weight='normal' font-family="'Liberation Serif', serif" stroke='#000' stroke-width='1.0'>0</text>
<text x='71.9' y='2189.9' font-size='20.3' text-anchor='end' font-weight='normal' font-family="'Liberation Serif', serif" stroke='#000' stroke-width='1.0'>0.05</text>
<text x='71.9' y='2141.8' font-size='20.3' text-anchor='end' font-weight='normal' font-family="'Liberation Serif', serif" stroke='#000' stroke-width='1.0'>0.1</text>
<text x='71.9' y='2093.7' font-size='20.3' text-anchor='end' font-weight='normal' font-family="'Liberation Serif', serif" stroke='#000' stroke-width='1.0'>0.15</text>
<text x='71.9' y='2045.6' font-size='20.3' text-anchor='end' font-weight='normal' font-family="'Liberation Serif', serif" stroke='#000' stroke-width='1.0'>0.2</text>
<text x='71.9' y='1997.5' font-size='20.3' text-anchor='end' font-weight='normal' font-family="'Liberation Serif', serif" stroke='#000' stroke-width='1.0'>0.25</text>
<text x='71.9' y='1949.4' font-size='20.3' text-anchor='end' font-weight='normal' font-family="'Liberation Serif', serif" stroke='#000' stroke-width='1.0'>0.3</text>
<text x='71.9' y='1901.3' font-size='20.3' text-anchor='end' font-weight='normal' font-family="'Liberation Serif', serif" stroke='#000' stroke-width='1.0'>0.35</text>
<text x='71.9' y='1853.2' font-size='20.3' text-anchor='end' font-weight='normal' font-family="'Liberation Serif', serif" stroke='#000' stroke-width='1.0'>0.4</text>
<path d='M143.9,2229.8v-5M143.9,1801.2v5M210.6,2229.8v-5M210.6,1801.2v5M277.3,2229.8v-5M277.3,1801.2v5M344.1,2229.8v-5M344.1,1801.2v5M410.8,2229.8v-5M410.8,1801.2v5M477.5,2229.8v-5M477.5,1801.2v5M544.2,2229.8v-5M544.2,1801.2v5M610.9,2229.8v-5M610.9,1801.2v5M79.5,2229.8h5M618.0,2229.8h-5M79.5,2181.7h5M618.0,2181.7h-5M79.5,2133.6h5M618.0,2133.6h-5M79.5,2085.5h5M618.0,2085.5h-5M79.5,2037.4h5M618.0,2037.4h-5M79.5,1989.3h5M618.0,1989.3h-5M79.5,1941.2h5M618.0,1941.2h-5M79.5,1893.1h5M618.0,1893.1h-5M79.5,1845.0h5M618.0,1845.0h-5' stroke='#5a5a5a' stroke-width='1.3' fill='none'/>
<text x='348.8' y='1794.3' font-size='23.5' text-anchor='middle' font-weight='normal' font-family="'Liberation Serif', serif" textLength='80.9' lengthAdjust='spacingAndGlyphs' stroke='#000' stroke-width='1.0'>#4 Roof</text>
<text x='348.8' y='2284.0' font-size='22.3' text-anchor='middle' font-weight='normal' font-family="'Liberation Serif', serif" textLength='57.3' lengthAdjust='spacingAndGlyphs' stroke='#000' stroke-width='1.0'>Bands</text>
<text transform='translate(27.2,2015.5) rotate(-90)' x='0' y='0' font-size='22.3' text-anchor='middle' font-weight='normal' stroke='#000' stroke-width='1.0' font-family="'Liberation Serif', serif" textLength='209.2' lengthAdjust='spacingAndGlyphs'>Reflection Coefficient</text>
<rect x='93.4' y='1812.9' width='140.9' height='52.5' fill='#fff' stroke='#5a5a5a' stroke-width='1.2'/>
<line x1='98.3' y1='1827.3' x2='147.3' y2='1827.3' stroke='#f383ae' stroke-width='3.1'/>
<line x1='98.3' y1='1852.2' x2='147.3' y2='1852.2' stroke='#0598df' stroke-width='3.5' stroke-dasharray='11.5 5.5 4.5 5.5'/>
<text x='152.4' y='1836.2' font-size='20.5' text-anchor='start' font-weight='normal' font-family="'Liberation Serif', serif" textLength='35.3' lengthAdjust='spacingAndGlyphs' stroke='#000' stroke-width='1.0'>true</text>
<text x='152.4' y='1859.7' font-size='20.5' text-anchor='start' font-weight='normal' font-family="'Liberation Serif', serif" textLength='77.9' lengthAdjust='spacingAndGlyphs' stroke='#000' stroke-width='1.0'>proposed</text>
<text x='331.8' y='564.5' font-size='50' text-anchor='middle' font-family="'Liberation Serif', serif">(a)</text>
<text x='1017.7' y='564.5' font-size='50' text-anchor='middle' font-family="'Liberation Serif', serif">(b)</text>
<text x='330.4' y='1155.7' font-size='50' text-anchor='middle' font-family="'Liberation Serif', serif">(c)</text>
<text x='1016.6' y='1155.7' font-size='50' text-anchor='middle' font-family="'Liberation Serif', serif">(d)</text>
<text x='336.9' y='1746.5' font-size='50' text-anchor='middle' font-family="'Liberation Serif', serif">(e)</text>
<text x='1016.6' y='1746.5' font-size='50' text-anchor='middle' font-family="'Liberation Serif', serif">(f)</text>
<text x='330.4' y='2337.9' font-size='50' text-anchor='middle' font-family="'Liberation Serif', serif">(g)</text>
<text x='1018.8' y='2337.9' font-size='50' text-anchor='middle' font-family="'Liberation Serif', serif">(h)</text>
<filter id='mblur' x='-5%' y='-5%' width='110%' height='110%'><feGaussianBlur stdDeviation='9'/></filter>
<clipPath id='mcb'><rect x='727.0' y='8.0' width='478.3' height='486.8'/></clipPath>
<g clip-path='url(#mcb)'>
<g filter='url(#mblur)'>
<rect x='697.1' y='-22.4' width='30.5' height='31.0' fill='#3d70ff'/>
<rect x='727.0' y='-22.4' width='30.5' height='31.0' fill='#3d70ff'/>
<rect x='756.9' y='-22.4' width='30.5' height='31.0' fill='#3d70ff'/>
<rect x='786.8' y='-22.4' width='30.5' height='31.0' fill='#3d70ff'/>
<rect x='816.7' y='-22.4' width='30.5' height='31.0' fill='#3d70ff'/>
<rect x='846.6' y='-22.4' width='30.5' height='31.0' fill='#3d70ff'/>
<rect x='876.5' y='-22.4' width='30.5' height='31.0' fill='#3d70ff'/>
<rect x='906.4' y='-22.4' width='30.5' height='31.0' fill='#3d70ff'/>
<rect x='936.3' y='-22.4' width='30.5' height='31.0' fill='#2e83f9'/>
<rect x='966.1' y='-22.4' width='30.5' height='31.0' fill='#2e83f9'/>
<rect x='996.0' y='-22.4' width='30.5' height='31.0' fill='#3d70ff'/>
<rect x='1025.9' y='-22.4' width='30.5' height='31.0' fill='#3d70ff'/>
<rect x='1055.8' y='-22.4' width='30.5' height='31.0' fill='#4755f6'/>
<rect x='1085.7' y='-22.4' width='30.5' height='31.0' fill='#4755f6'/>
<rect x='1115.6' y='-22.4' width='30.5' height='31.0' fill='#4755f6'/>
<rect x='1145.5' y='-22.4' width='30.5' height='31.0' fill='#4755f6'/>
<rect x='1175.4' y='-22.4' width='30.5' height='31.0' fill='#4755f6'/>
<rect x='1205.3' y='-22.4' width='30.5' height='31.0' fill='#4755f6'/>
<rect x='697.1' y='8.0' width='30.5' height='31.0' fill='#3d70ff'/>
<rect x='727.0' y='8.0' width='30.5' height='31.0' fill='#3d70ff'/>
<rect x='756.9' y='8.0' width='30.5' height='31.0' fill='#3d70ff'/>
<rect x='786.8' y='8.0' width='30.5' height='31.0' fill='#3d70ff'/>
<rect x='816.7' y='8.0' width='30.5' height='31.0' fill='#3d70ff'/>
<rect x='846.6' y='8.0' width='30.5' height='31.0' fill='#3d70ff'/>
<rect x='876.5' y='8.0' width='30.5' height='31.0' fill='#3d70ff'/>
<rect x='906.4' y='8.0' width='30.5' height='31.0' fill='#3d70ff'/>
<rect x='936.3' y='8.0' width='30.5' height='31.0' fill='#2e83f9'/>
<rect x='966.1' y='8.0' width='30.5' height='31.0' fill='#2e83f9'/>
<rect x='996.0' y='8.0' width='30.5' height='31.0' fill='#3d70ff'/>
<rect x='1025.9' y='8.0' width='30.5' height='31.0' fill='#3d70ff'/>
<rect x='1055.8' y='8.0' width='30.5' height='31.0' fill='#4755f6'/>
<rect x='1085.7' y='8.0' width='30.5' height='31.0' fill='#4755f6'/>
<rect x='1115.6' y='8.0' width='30.5' height='31.0' fill='#4755f6'/>
<rect x='1145.5' y='8.0' width='30.5' height='31.0' fill='#4755f6'/>
<rect x='1175.4' y='8.0' width='30.5' height='31.0' fill='#4755f6'/>
<rect x='1205.3' y='8.0' width='30.5' height='31.0' fill='#4755f6'/>
<rect x='697.1' y='38.4' width='30.5' height='31.0' fill='#3d70ff'/>
<rect x='727.0' y='38.4' width='30.5' height='31.0' fill='#3d70ff'/>
<rect x='756.9' y='38.4' width='30.5' height='31.0' fill='#3d70ff'/>
<rect x='786.8' y='38.4' width='30.5' height='31.0' fill='#3d70ff'/>
<rect x='816.7' y='38.4' width='30.5' height='31.0' fill='#3d70ff'/>
<rect x='846.6' y='38.4' width='30.5' height='31.0' fill='#3d70ff'/>
<rect x='876.5' y='38.4' width='30.5' height='31.0' fill='#3d70ff'/>
<rect x='906.4' y='38.4' width='30.5' height='31.0' fill='#3d70ff'/>
<rect x='936.3' y='38.4' width='30.5' height='31.0' fill='#2e83f9'/>
<rect x='966.1' y='38.4' width='30.5' height='31.0' fill='#2e83f9'/>
<rect x='996.0' y='38.4' width='30.5' height='31.0' fill='#2e83f9'/>
<rect x='1025.9' y='38.4' width='30.5' height='31.0' fill='#2e83f9'/>
<rect x='1055.8' y='38.4' width='30.5' height='31.0' fill='#2e83f9'/>
<rect x='1085.7' y='38.4' width='30.5' height='31.0' fill='#2e83f9'/>
<rect x='1115.6' y='38.4' width='30.5' height='31.0' fill='#2e83f9'/>
<rect x='1145.5' y='38.4' width='30.5' height='31.0' fill='#2e83f9'/>
<rect x='1175.4' y='38.4' width='30.5' height='31.0' fill='#2e83f9'/>
<rect x='1205.3' y='38.4' width='30.5' height='31.0' fill='#2e83f9'/>
<rect x='697.1' y='68.8' width='30.5' height='31.0' fill='#2e83f9'/>
<rect x='727.0' y='68.8' width='30.5' height='31.0' fill='#2e83f9'/>
<rect x='756.9' y='68.8' width='30.5' height='31.0' fill='#2e83f9'/>
<rect x='786.8' y='68.8' width='30.5' height='31.0' fill='#2e83f9'/>
<rect x='816.7' y='68.8' width='30.5' height='31.0' fill='#2e83f9'/>
<rect x='846.6' y='68.8' width='30.5' height='31.0' fill='#2e83f9'/>
<rect x='876.5' y='68.8' width='30.5' height='31.0' fill='#2e83f9'/>
<rect x='906.4' y='68.8' width='30.5' height='31.0' fill='#2e83f9'/>
<rect x='936.3' y='68.8' width='30.5' height='31.0' fill='#3d70ff'/>
<rect x='966.1' y='68.8' width='30.5' height='31.0' fill='#3d70ff'/>
<rect x='996.0' y='68.8' width='30.5' height='31.0' fill='#3d70ff'/>
<rect x='1025.9' y='68.8' width='30.5' height='31.0' fill='#347afd'/>
<rect x='1055.8' y='68.8' width='30.5' height='31.0' fill='#347afd'/>
<rect x='1085.7' y='68.8' width='30.5' height='31.0' fill='#347afd'/>
<rect x='1115.6' y='68.8' width='30.5' height='31.0' fill='#3d70ff'/>
<rect x='1145.5' y='68.8' width='30.5' height='31.0' fill='#4755f6'/>
<rect x='1175.4' y='68.8' width='30.5' height='31.0' fill='#4755f6'/>
<rect x='1205.3' y='68.8' width='30.5' height='31.0' fill='#4755f6'/>
<rect x='697.1' y='99.3' width='30.5' height='31.0' fill='#3d70ff'/>
<rect x='727.0' y='99.3' width='30.5' height='31.0' fill='#3d70ff'/>
<rect x='756.9' y='99.3' width='30.5' height='31.0' fill='#4755f6'/>
<rect x='786.8' y='99.3' width='30.5' height='31.0' fill='#3d70ff'/>
<rect x='816.7' y='99.3' width='30.5' height='31.0' fill='#3d70ff'/>
<rect x='846.6' y='99.3' width='30.5' height='31.0' fill='#3d70ff'/>
<rect x='876.5' y='99.3' width='30.5' height='31.0' fill='#3d70ff'/>
<rect x='906.4' y='99.3' width='30.5' height='31.0' fill='#3d70ff'/>
<rect x='936.3' y='99.3' width='30.5' height='31.0' fill='#3d70ff'/>
<rect x='966.1' y='99.3' width='30.5' height='31.0' fill='#4755f6'/>
<rect x='996.0' y='99.3' width='30.5' height='31.0' fill='#347afd'/>
<rect x='1025.9' y='99.3' width='30.5' height='31.0' fill='#347afd'/>
<rect x='1055.8' y='99.3' width='30.5' height='31.0' fill='#347afd'/>
<rect x='1085.7' y='99.3' width='30.5' height='31.0' fill='#347afd'/>
<rect x='1115.6' y='99.3' width='30.5' height='31.0' fill='#3d70ff'/>
<rect x='1145.5' y='99.3' width='30.5' height='31.0' fill='#4755f6'/>
<rect x='1175.4' y='99.3' width='30.5' height='31.0' fill='#4755f6'/>
<rect x='1205.3' y='99.3' width='30.5' height='31.0' fill='#4755f6'/>
<rect x='697.1' y='129.7' width='30.5' height='31.0' fill='#3d70ff'/>
<rect x='727.0' y='129.7' width='30.5' height='31.0' fill='#3d70ff'/>
<rect x='756.9' y='129.7' width='30.5' height='31.0' fill='#3d70ff'/>
<rect x='786.8' y='129.7' width='30.5' height='31.0' fill='#3d70ff'/>
<rect x='816.7' y='129.7' width='30.5' height='31.0' fill='#3d70ff'/>
<rect x='846.6' y='129.7' width='30.5' height='31.0' fill='#3d70ff'/>
<rect x='876.5' y='129.7' width='30.5' height='31.0' fill='#3d70ff'/>
<rect x='906.4' y='129.7' width='30.5' height='31.0' fill='#3d70ff'/>
<rect x='936.3' y='129.7' width='30.5' height='31.0' fill='#3d70ff'/>
<rect x='966.1' y='129.7' width='30.5' height='31.0' fill='#4755f6'/>
<rect x='996.0' y='129.7' width='30.5' height='31.0' fill='#347afd'/>
<rect x='1025.9' y='129.7' width='30.5' height='31.0' fill='#347afd'/>
<rect x='1055.8' y='129.7' width='30.5' height='31.0' fill='#347afd'/>
<rect x='1085.7' y='129.7' width='30.5' height='31.0' fill='#347afd'/>
<rect x='1115.6' y='129.7' width='30.5' height='31.0' fill='#3d70ff'/>
<rect x='1145.5' y='129.7' width='30.5' height='31.0' fill='#4755f6'/>
<rect x='1175.4' y='129.7' width='30.5' height='31.0' fill='#4755f6'/>
<rect x='1205.3' y='129.7' width='30.5' height='31.0' fill='#4755f6'/>
<rect x='697.1' y='160.1' width='30.5' height='31.0' fill='#3d70ff'/>
<rect x='727.0' y='160.1' width='30.5' height='31.0' fill='#3d70ff'/>
<rect x='756.9' y='160.1' width='30.5' height='31.0' fill='#3d70ff'/>
<rect x='786.8' y='160.1' width='30.5' height='31.0' fill='#3d70ff'/>
<rect x='816.7' y='160.1' width='30.5' height='31.0' fill='#3d70ff'/>
<rect x='846.6' y='160.1' width='30.5' height='31.0' fill='#3d70ff'/>
<rect x='876.5' y='160.1' width='30.5' height='31.0' fill='#3d70ff'/>
<rect x='906.4' y='160.1' width='30.5' height='31.0' fill='#3d70ff'/>
<rect x='936.3' y='160.1' width='30.5' height='31.0' fill='#3d70ff'/>
<rect x='966.1' y='160.1' width='30.5' height='31.0' fill='#4755f6'/>
<rect x='996.0' y='160.1' width='30.5' height='31.0' fill='#347afd'/>
<rect x='1025.9' y='160.1' width='30.5' height='31.0' fill='#4367fd'/>
<rect x='1055.8' y='160.1' width='30.5' height='31.0' fill='#4367fd'/>
<rect x='1085.7' y='160.1' width='30.5' height='31.0' fill='#347afd'/>
<rect x='1115.6' y='160.1' width='30.5' height='31.0' fill='#3d70ff'/>
<rect x='1145.5' y='160.1' width='30.5' height='31.0' fill='#4755f6'/>
<rect x='1175.4' y='160.1' width='30.5' height='31.0' fill='#4755f6'/>
<rect x='1205.3' y='160.1' width='30.5' height='31.0' fill='#4755f6'/>
<rect x='697.1' y='190.6' width='30.5' height='31.0' fill='#3d70ff'/>
<rect x='727.0' y='190.6' width='30.5' height='31.0' fill='#3d70ff'/>
<rect x='756.9' y='190.6' width='30.5' height='31.0' fill='#3d70ff'/>
<rect x='786.8' y='190.6' width='30.5' height='31.0' fill='#3d70ff'/>
<rect x='816.7' y='190.6' width='30.5' height='31.0' fill='#3d70ff'/>
<rect x='846.6' y='190.6' width='30.5' height='31.0' fill='#3d70ff'/>
<rect x='876.5' y='190.6' width='30.5' height='31.0' fill='#347afd'/>
<rect x='906.4' y='190.6' width='30.5' height='31.0' fill='#3d70ff'/>
<rect x='936.3' y='190.6' width='30.5' height='31.0' fill='#3d70ff'/>
<rect x='966.1' y='190.6' width='30.5' height='31.0' fill='#4755f6'/>
<rect x='996.0' y='190.6' width='30.5' height='31.0' fill='#347afd'/>
<rect x='1025.9' y='190.6' width='30.5' height='31.0' fill='#4367fd'/>
<rect x='1055.8' y='190.6' width='30.5' height='31.0' fill='#4367fd'/>
<rect x='1085.7' y='190.6' width='30.5' height='31.0' fill='#347afd'/>
<rect x='1115.6' y='190.6' width='30.5' height='31.0' fill='#3d70ff'/>
<rect x='1145.5' y='190.6' width='30.5' height='31.0' fill='#4755f6'/>
<rect x='1175.4' y='190.6' width='30.5' height='31.0' fill='#4755f6'/>
<rect x='1205.3' y='190.6' width='30.5' height='31.0' fill='#4755f6'/>
<rect x='697.1' y='221.0' width='30.5' height='31.0' fill='#3d70ff'/>
<rect x='727.0' y='221.0' width='30.5' height='31.0' fill='#3d70ff'/>
<rect x='756.9' y='221.0' width='30.5' height='31.0' fill='#3d70ff'/>
<rect x='786.8' y='221.0' width='30.5' height='31.0' fill='#3d70ff'/>
<rect x='816.7' y='221.0' width='30.5' height='31.0' fill='#4755f6'/>
<rect x='846.6' y='221.0' width='30.5' height='31.0' fill='#4755f6'/>
<rect x='876.5' y='221.0' width='30.5' height='31.0' fill='#3d70ff'/>
<rect x='906.4' y='221.0' width='30.5' height='31.0' fill='#347afd'/>
<rect x='936.3' y='221.0' width='30.5' height='31.0' fill='#3d70ff'/>
<rect x='966.1' y='221.0' width='30.5' height='31.0' fill='#3d70ff'/>
<rect x='996.0' y='221.0' width='30.5' height='31.0' fill='#347afd'/>
<rect x='1025.9' y='221.0' width='30.5' height='31.0' fill='#347afd'/>
<rect x='1055.8' y='221.0' width='30.5' height='31.0' fill='#347afd'/>
<rect x='1085.7' y='221.0' width='30.5' height='31.0' fill='#347afd'/>
<rect x='1115.6' y='221.0' width='30.5' height='31.0' fill='#3d70ff'/>
<rect x='1145.5' y='221.0' width='30.5' height='31.0' fill='#4755f6'/>
<rect x='1175.4' y='221.0' width='30.5' height='31.0' fill='#4755f6'/>
<rect x='1205.3' y='221.0' width='30.5' height='31.0' fill='#4755f6'/>
<rect x='697.1' y='251.4' width='30.5' height='31.0' fill='#3d70ff'/>
<rect x='727.0' y='251.4' width='30.5' height='31.0' fill='#3d70ff'/>
<rect x='756.9' y='251.4' width='30.5' height='31.0' fill='#3d70ff'/>
<rect x='786.8' y='251.4' width='30.5' height='31.0' fill='#4755f6'/>
<rect x='816.7' y='251.4' width='30.5' height='31.0' fill='#4755f6'/>
<rect x='846.6' y='251.4' width='30.5' height='31.0' fill='#4755f6'/>
<rect x='876.5' y='251.4' width='30.5' height='31.0' fill='#3d70ff'/>
<rect x='906.4' y='251.4' width='30.5' height='31.0' fill='#3d70ff'/>
<rect x='936.3' y='251.4' width='30.5' height='31.0' fill='#4755f6'/>
<rect x='966.1' y='251.4' width='30.5' height='31.0' fill='#3d70ff'/>
<rect x='996.0' y='251.4' width='30.5' height='31.0' fill='#3d70ff'/>
<rect x='1025.9' y='251.4' width='30.5' height='31.0' fill='#3d70ff'/>
<rect x='1055.8' y='251.4' width='30.5' height='31.0' fill='#347afd'/>
<rect x='1085.7' y='251.4' width='30.5' height='31.0' fill='#3d70ff'/>
<rect x='1115.6' y='251.4' width='30.5' height='31.0' fill='#4755f6'/>
<rect x='1145.5' y='251.4' width='30.5' height='31.0' fill='#4755f6'/>
<rect x='1175.4' y='251.4' width='30.5' height='31.0' fill='#4755f6'/>
<rect x='1205.3' y='251.4' width='30.5' height='31.0' fill='#4755f6'/>
<rect x='697.1' y='281.8' width='30.5' height='31.0' fill='#3d70ff'/>
<rect x='727.0' y='281.8' width='30.5' height='31.0' fill='#3d70ff'/>
<rect x='756.9' y='281.8' width='30.5' height='31.0' fill='#3d70ff'/>
<rect x='786.8' y='281.8' width='30.5' height='31.0' fill='#4755f6'/>
<rect x='816.7' y='281.8' width='30.5' height='31.0' fill='#4755f6'/>
<rect x='846.6' y='281.8' width='30.5' height='31.0' fill='#4755f6'/>
<rect x='876.5' y='281.8' width='30.5' height='31.0' fill='#3d70ff'/>
<rect x='906.4' y='281.8' width='30.5' height='31.0' fill='#4755f6'/>
<rect x='936.3' y='281.8' width='30.5' height='31.0' fill='#4755f6'/>
<rect x='966.1' y='281.8' width='30.5' height='31.0' fill='#4755f6'/>
<rect x='996.0' y='281.8' width='30.5' height='31.0' fill='#3d70ff'/>
<rect x='1025.9' y='281.8' width='30.5' height='31.0' fill='#3d70ff'/>
<rect x='1055.8' y='281.8' width='30.5' height='31.0' fill='#3d70ff'/>
<rect x='1085.7' y='281.8' width='30.5' height='31.0' fill='#4755f6'/>
<rect x='1115.6' y='281.8' width='30.5' height='31.0' fill='#4755f6'/>
<rect x='1145.5' y='281.8' width='30.5' height='31.0' fill='#4743e7'/>
<rect x='1175.4' y='281.8' width='30.5' height='31.0' fill='#4743e7'/>
<rect x='1205.3' y='281.8' width='30.5' height='31.0' fill='#4743e7'/>
<rect x='697.1' y='312.2' width='30.5' height='31.0' fill='#3d70ff'/>
<rect x='727.0' y='312.2' width='30.5' height='31.0' fill='#3d70ff'/>
<rect x='756.9' y='312.2' width='30.5' height='31.0' fill='#3d70ff'/>
<rect x='786.8' y='312.2' width='30.5' height='31.0' fill='#3d70ff'/>
<rect x='816.7' y='312.2' width='30.5' height='31.0' fill='#347afd'/>
<rect x='846.6' y='312.2' width='30.5' height='31.0' fill='#3d70ff'/>
<rect x='876.5' y='312.2' width='30.5' height='31.0' fill='#3d70ff'/>
<rect x='906.4' y='312.2' width='30.5' height='31.0' fill='#4755f6'/>
<rect x='936.3' y='312.2' width='30.5' height='31.0' fill='#4755f6'/>
<rect x='966.1' y='312.2' width='30.5' height='31.0' fill='#4755f6'/>
<rect x='996.0' y='312.2' width='30.5' height='31.0' fill='#4755f6'/>
<rect x='1025.9' y='312.2' width='30.5' height='31.0' fill='#3d70ff'/>
<rect x='1055.8' y='312.2' width='30.5' height='31.0' fill='#3d70ff'/>
<rect x='1085.7' y='312.2' width='30.5' height='31.0' fill='#4755f6'/>
<rect x='1115.6' y='312.2' width='30.5' height='31.0' fill='#4755f6'/>
<rect x='1145.5' y='312.2' width='30.5' height='31.0' fill='#4743e7'/>
<rect x='1175.4' y='312.2' width='30.5' height='31.0' fill='#4743e7'/>
<rect x='1205.3' y='312.2' width='30.5' height='31.0' fill='#4743e7'/>
<rect x='697.1' y='342.7' width='30.5' height='31.0' fill='#3d70ff'/>
<rect x='727.0' y='342.7' width='30.5' height='31.0' fill='#3d70ff'/>
<rect x='756.9' y='342.7' width='30.5' height='31.0' fill='#3d70ff'/>
<rect x='786.8' y='342.7' width='30.5' height='31.0' fill='#3d70ff'/>
<rect x='816.7' y='342.7' width='30.5' height='31.0' fill='#3d70ff'/>
<rect x='846.6' y='342.7' width='30.5' height='31.0' fill='#3d70ff'/>
<rect x='876.5' y='342.7' width='30.5' height='31.0' fill='#3d70ff'/>
<rect x='906.4' y='342.7' width='30.5' height='31.0' fill='#4755f6'/>
<rect x='936.3' y='342.7' width='30.5' height='31.0' fill='#4755f6'/>
<rect x='966.1' y='342.7' width='30.5' height='31.0' fill='#4755f6'/>
<rect x='996.0' y='342.7' width='30.5' height='31.0' fill='#4755f6'/>
<rect x='1025.9' y='342.7' width='30.5' height='31.0' fill='#4367fd'/>
<rect x='1055.8' y='342.7' width='30.5' height='31.0' fill='#3d70ff'/>
<rect x='1085.7' y='342.7' width='30.5' height='31.0' fill='#4755f6'/>
<rect x='1115.6' y='342.7' width='30.5' height='31.0' fill='#4755f6'/>
<rect x='1145.5' y='342.7' width='30.5' height='31.0' fill='#4743e7'/>
<rect x='1175.4' y='342.7' width='30.5' height='31.0' fill='#4743e7'/>
<rect x='1205.3' y='342.7' width='30.5' height='31.0' fill='#4743e7'/>
<rect x='697.1' y='373.1' width='30.5' height='31.0' fill='#3d70ff'/>
<rect x='727.0' y='373.1' width='30.5' height='31.0' fill='#3d70ff'/>
<rect x='756.9' y='373.1' width='30.5' height='31.0' fill='#3d70ff'/>
<rect x='786.8' y='373.1' width='30.5' height='31.0' fill='#3d70ff'/>
<rect x='816.7' y='373.1' width='30.5' height='31.0' fill='#3d70ff'/>
<rect x='846.6' y='373.1' width='30.5' height='31.0' fill='#3d70ff'/>
<rect x='876.5' y='373.1' width='30.5' height='31.0' fill='#4755f6'/>
<rect x='906.4' y='373.1' width='30.5' height='31.0' fill='#4755f6'/>
<rect x='936.3' y='373.1' width='30.5' height='31.0' fill='#4755f6'/>
<rect x='966.1' y='373.1' width='30.5' height='31.0' fill='#4755f6'/>
<rect x='996.0' y='373.1' width='30.5' height='31.0' fill='#4755f6'/>
<rect x='1025.9' y='373.1' width='30.5' height='31.0' fill='#4755f6'/>
<rect x='1055.8' y='373.1' width='30.5' height='31.0' fill='#3d70ff'/>
<rect x='1085.7' y='373.1' width='30.5' height='31.0' fill='#4755f6'/>
<rect x='1115.6' y='373.1' width='30.5' height='31.0' fill='#4755f6'/>
<rect x='1145.5' y='373.1' width='30.5' height='31.0' fill='#4743e7'/>
<rect x='1175.4' y='373.1' width='30.5' height='31.0' fill='#4743e7'/>
<rect x='1205.3' y='373.1' width='30.5' height='31.0' fill='#4743e7'/>
<rect x='697.1' y='403.5' width='30.5' height='31.0' fill='#3d70ff'/>
<rect x='727.0' y='403.5' width='30.5' height='31.0' fill='#3d70ff'/>
<rect x='756.9' y='403.5' width='30.5' height='31.0' fill='#3d70ff'/>
<rect x='786.8' y='403.5' width='30.5' height='31.0' fill='#3d70ff'/>
<rect x='816.7' y='403.5' width='30.5' height='31.0' fill='#3d70ff'/>
<rect x='846.6' y='403.5' width='30.5' height='31.0' fill='#3d70ff'/>
<rect x='876.5' y='403.5' width='30.5' height='31.0' fill='#4755f6'/>
<rect x='906.4' y='403.5' width='30.5' height='31.0' fill='#4743e7'/>
<rect x='936.3' y='403.5' width='30.5' height='31.0' fill='#4743e7'/>
<rect x='966.1' y='403.5' width='30.5' height='31.0' fill='#4743e7'/>
<rect x='996.0' y='403.5' width='30.5' height='31.0' fill='#4743e7'/>
<rect x='1025.9' y='403.5' width='30.5' height='31.0' fill='#4755f6'/>
<rect x='1055.8' y='403.5' width='30.5' height='31.0' fill='#3d70ff'/>
<rect x='1085.7' y='403.5' width='30.5' height='31.0' fill='#484aee'/>
<rect x='1115.6' y='403.5' width='30.5' height='31.0' fill='#484aee'/>
<rect x='1145.5' y='403.5' width='30.5' height='31.0' fill='#484aee'/>
<rect x='1175.4' y='403.5' width='30.5' height='31.0' fill='#484aee'/>
<rect x='1205.3' y='403.5' width='30.5' height='31.0' fill='#484aee'/>
<rect x='697.1' y='433.9' width='30.5' height='31.0' fill='#3d70ff'/>
<rect x='727.0' y='433.9' width='30.5' height='31.0' fill='#3d70ff'/>
<rect x='756.9' y='433.9' width='30.5' height='31.0' fill='#3d70ff'/>
<rect x='786.8' y='433.9' width='30.5' height='31.0' fill='#3d70ff'/>
<rect x='816.7' y='433.9' width='30.5' height='31.0' fill='#3d70ff'/>
<rect x='846.6' y='433.9' width='30.5' height='31.0' fill='#3d70ff'/>
<rect x='876.5' y='433.9' width='30.5' height='31.0' fill='#3d70ff'/>
<rect x='906.4' y='433.9' width='30.5' height='31.0' fill='#4743e7'/>
<rect x='936.3' y='433.9' width='30.5' height='31.0' fill='#4743e7'/>
<rect x='966.1' y='433.9' width='30.5' height='31.0' fill='#4743e7'/>
<rect x='996.0' y='433.9' width='30.5' height='31.0' fill='#4743e7'/>
<rect x='1025.9' y='433.9' width='30.5' height='31.0' fill='#4755f6'/>
<rect x='1055.8' y='433.9' width='30.5' height='31.0' fill='#3d70ff'/>
<rect x='1085.7' y='433.9' width='30.5' height='31.0' fill='#484aee'/>
<rect x='1115.6' y='433.9' width='30.5' height='31.0' fill='#484aee'/>
<rect x='1145.5' y='433.9' width='30.5' height='31.0' fill='#484aee'/>
<rect x='1175.4' y='433.9' width='30.5' height='31.0' fill='#484aee'/>
<rect x='1205.3' y='433.9' width='30.5' height='31.0' fill='#484aee'/>
<rect x='697.1' y='464.4' width='30.5' height='31.0' fill='#3d70ff'/>
<rect x='727.0' y='464.4' width='30.5' height='31.0' fill='#3d70ff'/>
<rect x='756.9' y='464.4' width='30.5' height='31.0' fill='#3d70ff'/>
<rect x='786.8' y='464.4' width='30.5' height='31.0' fill='#3d70ff'/>
<rect x='816.7' y='464.4' width='30.5' height='31.0' fill='#3d70ff'/>
<rect x='846.6' y='464.4' width='30.5' height='31.0' fill='#3d70ff'/>
<rect x='876.5' y='464.4' width='30.5' height='31.0' fill='#3d70ff'/>
<rect x='906.4' y='464.4' width='30.5' height='31.0' fill='#4743e7'/>
<rect x='936.3' y='464.4' width='30.5' height='31.0' fill='#4743e7'/>
<rect x='966.1' y='464.4' width='30.5' height='31.0' fill='#4743e7'/>
<rect x='996.0' y='464.4' width='30.5' height='31.0' fill='#4743e7'/>
<rect x='1025.9' y='464.4' width='30.5' height='31.0' fill='#4755f6'/>
<rect x='1055.8' y='464.4' width='30.5' height='31.0' fill='#3d70ff'/>
<rect x='1085.7' y='464.4' width='30.5' height='31.0' fill='#484aee'/>
<rect x='1115.6' y='464.4' width='30.5' height='31.0' fill='#484aee'/>
<rect x='1145.5' y='464.4' width='30.5' height='31.0' fill='#484aee'/>
<rect x='1175.4' y='464.4' width='30.5' height='31.0' fill='#484aee'/>
<rect x='1205.3' y='464.4' width='30.5' height='31.0' fill='#484aee'/>
<rect x='697.1' y='494.8' width='30.5' height='31.0' fill='#3d70ff'/>
<rect x='727.0' y='494.8' width='30.5' height='31.0' fill='#3d70ff'/>
<rect x='756.9' y='494.8' width='30.5' height='31.0' fill='#3d70ff'/>
<rect x='786.8' y='494.8' width='30.5' height='31.0' fill='#3d70ff'/>
<rect x='816.7' y='494.8' width='30.5' height='31.0' fill='#3d70ff'/>
<rect x='846.6' y='494.8' width='30.5' height='31.0' fill='#3d70ff'/>
<rect x='876.5' y='494.8' width='30.5' height='31.0' fill='#3d70ff'/>
<rect x='906.4' y='494.8' width='30.5' height='31.0' fill='#4743e7'/>
<rect x='936.3' y='494.8' width='30.5' height='31.0' fill='#4743e7'/>
<rect x='966.1' y='494.8' width='30.5' height='31.0' fill='#4743e7'/>
<rect x='996.0' y='494.8' width='30.5' height='31.0' fill='#4743e7'/>
<rect x='1025.9' y='494.8' width='30.5' height='31.0' fill='#4755f6'/>
<rect x='1055.8' y='494.8' width='30.5' height='31.0' fill='#3d70ff'/>
<rect x='1085.7' y='494.8' width='30.5' height='31.0' fill='#484aee'/>
<rect x='1115.6' y='494.8' width='30.5' height='31.0' fill='#484aee'/>
<rect x='1145.5' y='494.8' width='30.5' height='31.0' fill='#484aee'/>
<rect x='1175.4' y='494.8' width='30.5' height='31.0' fill='#484aee'/>
<rect x='1205.3' y='494.8' width='30.5' height='31.0' fill='#484aee'/>
</g>
<path d='M1030 21h7v5h-7zM786 43h5v6h-5zM948 80h5v6h-5zM1170 82h7v7h-7zM923 139h5v6h-5zM869 160h5v8h-5zM771 207h7v7h-7zM1120 198h6v7h-6zM744 223h8v5h-8zM768 237h5v7h-5zM884 243h7v4h-7zM786 274h7v7h-7zM780 283h8v7h-8zM757 316h4v7h-4zM902 325h6v5h-6zM942 324h7v6h-7zM767 367h8v5h-8zM960 369h7v6h-7zM983 352h7v8h-7zM1019 381h6v5h-6zM822 407h5v8h-5zM1104 422h7v8h-7zM1147 425h7v6h-7zM1200 419h7v5h-7zM1176 456h6v6h-6zM767 468h5v8h-5zM915 485h6v6h-6zM1084 473h8v8h-8zM1173 477h5v6h-5z' fill='#4743e7'/>
<path d='M736 15h8v4h-8zM779 25h5v7h-5zM834 32h8v5h-8zM839 15h7v8h-7zM858 35h6v7h-6zM897 30h8v7h-8zM876 11h5v5h-5zM925 11h7v7h-7zM917 33h6v8h-6zM942 22h5v4h-5zM978 7h7v8h-7zM1002 12h7v5h-7zM1104 30h7v4h-7zM1111 6h6v8h-6zM1123 7h7v7h-7zM1159 20h6v7h-6zM1193 19h7v8h-7zM754 38h7v7h-7zM800 65h7v6h-7zM829 39h6v6h-6zM932 55h5v5h-5zM1001 48h8v7h-8zM1008 50h4v6h-4zM837 78h5v6h-5zM902 81h8v6h-8zM884 87h7v5h-7zM944 89h6v5h-6zM953 74h5v7h-5zM991 71h8v7h-8zM737 122h6v4h-6zM737 125h6v7h-6zM768 113h7v8h-7zM766 121h6v8h-6zM804 104h6v7h-6zM881 109h5v5h-5zM944 113h5v5h-5zM942 110h4v7h-4zM938 120h7v6h-7zM969 100h7v6h-7zM1018 97h4v7h-4zM1026 105h8v6h-8zM1059 109h6v7h-6zM1081 125h5v6h-5zM1083 120h6v6h-6zM1144 111h7v8h-7zM763 141h4v8h-4zM800 144h5v6h-5zM843 136h5v6h-5zM818 145h6v5h-6zM869 128h5v6h-5zM874 143h4v5h-4zM868 143h4v7h-4zM857 136h6v4h-6zM957 147h6v8h-6zM940 144h4v6h-4zM986 144h5v7h-5zM969 154h6v8h-6zM1040 145h4v4h-4zM1166 145h7v7h-7zM750 174h7v7h-7zM757 185h6v7h-6zM793 187h5v7h-5zM834 176h5v7h-5zM852 169h7v5h-7zM849 185h5v8h-5zM900 185h5v5h-5zM920 188h6v4h-6zM949 158h4v6h-4zM935 180h6v4h-6zM985 157h8v7h-8zM1028 178h5v7h-5zM1026 161h7v4h-7zM733 197h6v6h-6zM740 205h7v5h-7zM785 213h8v7h-8zM784 190h7v6h-7zM835 197h8v4h-8zM869 212h5v8h-5zM877 192h6v6h-6zM909 211h5v4h-5zM923 190h5v5h-5zM952 192h7v7h-7zM976 196h7v6h-7zM725 239h4v5h-4zM761 226h7v6h-7zM792 231h6v4h-6zM804 236h6v5h-6zM839 243h5v5h-5zM921 241h5v6h-5zM945 231h6v8h-6zM961 227h7v7h-7zM1042 219h7v5h-7zM1183 219h7v5h-7zM732 252h5v8h-5zM754 275h5v5h-5zM801 278h8v7h-8zM836 276h5v4h-5zM874 253h5v7h-5zM949 276h4v7h-4zM947 255h4v5h-4zM1042 271h6v5h-6zM1113 256h7v6h-7zM1172 278h5v8h-5zM1171 264h4v6h-4zM1175 272h5v8h-5zM738 294h5v5h-5zM742 303h5v5h-5zM751 289h6v7h-6zM777 305h8v7h-8zM810 298h5v8h-5zM803 300h4v7h-4zM799 293h7v5h-7zM827 295h7v7h-7zM824 307h6v6h-6zM853 282h4v7h-4zM858 307h5v6h-5zM881 294h7v5h-7zM927 300h4v6h-4zM930 284h6v8h-6zM931 289h7v7h-7zM939 299h8v8h-8zM939 298h7v5h-7zM967 297h5v7h-5zM968 289h5v6h-5zM971 299h6v8h-6zM1034 303h7v5h-7zM1091 290h5v5h-5zM1098 284h7v5h-7zM1129 303h5v5h-5zM1161 308h6v7h-6zM1186 279h5v8h-5zM727 321h6v6h-6zM776 322h7v4h-7zM794 315h6v8h-6zM818 336h6v7h-6zM927 335h4v6h-4zM942 335h7v8h-7zM939 312h8v6h-8zM967 313h7v8h-7zM978 325h6v6h-6zM1096 329h4v7h-4zM1085 317h7v4h-7zM1147 324h7v5h-7zM838 350h6v5h-6zM888 354h7v7h-7zM918 344h7v6h-7zM922 346h8v7h-8zM939 366h6v7h-6zM951 347h6v7h-6zM950 343h7v7h-7zM1008 361h6v7h-6zM1104 341h7v7h-7zM1090 357h5v6h-5zM1123 364h8v5h-8zM1159 344h5v7h-5zM1179 347h5v5h-5zM1186 350h6v5h-6zM779 389h6v7h-6zM774 376h6v4h-6zM793 400h7v7h-7zM804 376h5v5h-5zM827 376h4v6h-4zM821 386h8v5h-8zM823 379h5v6h-5zM861 370h6v7h-6zM879 374h5v6h-5zM883 379h5v5h-5zM928 380h7v7h-7zM945 396h7v7h-7zM941 384h7v5h-7zM943 391h6v7h-6zM957 398h5v5h-5zM954 385h6v7h-6zM979 381h5v6h-5zM1048 399h6v5h-6zM1065 393h6v7h-6zM1152 399h5v5h-5zM1201 373h4v5h-4zM1186 398h7v5h-7zM1183 380h4v4h-4zM761 415h5v6h-5zM756 407h5v5h-5zM763 423h8v4h-8zM810 415h7v5h-7zM867 420h4v5h-4zM886 407h6v4h-6zM895 401h7v6h-7zM918 405h5v5h-5zM905 420h5v8h-5zM927 416h5v4h-5zM903 426h6v7h-6zM916 431h7v4h-7zM933 425h7v7h-7zM958 425h7v6h-7zM991 409h7v4h-7zM987 421h6v5h-6zM992 428h4v4h-4zM975 404h7v5h-7zM1020 421h7v5h-7zM1021 431h8v4h-8zM1032 411h6v6h-6zM1027 426h4v7h-4zM1035 414h7v7h-7zM1057 424h7v6h-7zM1120 422h6v5h-6zM1128 419h4v5h-4zM1132 418h5v6h-5zM1172 405h8v6h-8zM1157 422h6v6h-6zM731 451h6v4h-6zM725 432h6v6h-6zM744 438h5v4h-5zM756 445h4v5h-4zM801 442h7v7h-7zM805 440h7v6h-7zM821 441h5v6h-5zM849 443h4v7h-4zM883 457h6v4h-6zM929 458h5v5h-5zM921 448h6v8h-6zM950 439h7v5h-7zM974 451h5v4h-5zM964 447h8v5h-8zM1007 441h8v4h-8zM1004 453h7v8h-7zM1024 437h5v5h-5zM1084 432h6v6h-6zM1084 447h5v7h-5zM1133 448h8v7h-8zM1150 437h7v7h-7zM1182 438h7v6h-7zM765 471h6v6h-6zM795 473h6v7h-6zM844 485h6v8h-6zM864 467h5v7h-5zM886 468h5v7h-5zM997 468h6v5h-6zM1062 490h7v5h-7zM1127 472h7v5h-7zM1139 491h7v6h-7zM1137 467h5v6h-5zM1151 477h6v8h-6zM1184 485h6v5h-6z' fill='#484cef'/>
<path d='M727 31h8v5h-8zM828 30h7v4h-7zM858 35h5v6h-5zM980 12h5v5h-5zM1004 7h6v6h-6zM1054 33h6v7h-6zM1066 9h7v6h-7zM1173 14h7v6h-7zM741 53h4v8h-4zM779 38h7v8h-7zM773 59h7v7h-7zM820 52h6v6h-6zM849 40h8v7h-8zM884 59h6v5h-6zM923 37h6v7h-6zM925 38h6v7h-6zM1053 65h5v4h-5zM1025 61h4v7h-4zM728 74h7v7h-7zM925 82h7v4h-7zM909 71h5v5h-5zM934 66h6v8h-6zM986 96h4v5h-4zM1153 90h8v7h-8zM1174 80h6v6h-6zM1180 86h6v4h-6zM768 124h4v7h-4zM864 118h7v4h-7zM891 110h5v8h-5zM893 116h7v8h-7zM891 107h8v4h-8zM904 101h7v4h-7zM906 105h7v6h-7zM913 118h7v7h-7zM940 103h5v7h-5zM983 105h6v5h-6zM992 121h7v5h-7zM1000 101h5v8h-5zM1104 122h7v5h-7zM1135 111h6v4h-6zM1144 124h7v8h-7zM760 146h4v6h-4zM777 129h5v5h-5zM784 136h6v4h-6zM807 132h7v7h-7zM873 129h6v4h-6zM931 129h5v8h-5zM1165 129h5v7h-5zM1176 135h6v8h-6zM735 169h7v6h-7zM766 183h4v8h-4zM808 181h8v4h-8zM795 183h7v6h-7zM788 180h7v7h-7zM793 184h7v8h-7zM819 186h4v7h-4zM841 183h7v5h-7zM900 169h4v8h-4zM887 165h8v7h-8zM922 181h5v8h-5zM958 173h8v4h-8zM943 162h8v4h-8zM955 181h5v6h-5zM993 158h6v4h-6zM1017 178h6v7h-6zM1067 159h8v4h-8zM1158 168h4v7h-4zM732 215h5v5h-5zM730 206h6v7h-6zM799 206h4v7h-4zM790 191h7v7h-7zM819 197h6v8h-6zM817 213h7v5h-7zM874 196h4v6h-4zM864 207h4v8h-4zM956 216h8v8h-8zM955 209h6v4h-6zM939 207h7v7h-7zM1012 201h8v5h-8zM1060 187h7v8h-7zM1100 197h8v5h-8zM1128 207h6v6h-6zM742 229h7v8h-7zM766 236h6v7h-6zM797 226h8v6h-8zM806 237h5v4h-5zM835 220h7v7h-7zM873 232h6v6h-6zM849 228h4v7h-4zM889 248h5v5h-5zM883 230h7v6h-7zM915 233h5v5h-5zM952 246h7v5h-7zM935 223h4v8h-4zM970 233h6v6h-6zM964 231h8v6h-8zM1000 237h8v6h-8zM1094 226h7v4h-7zM1113 247h5v8h-5zM783 272h6v5h-6zM769 274h4v6h-4zM757 268h5v8h-5zM798 259h5v7h-5zM822 275h4v8h-4zM836 263h6v5h-6zM836 266h7v7h-7zM838 260h4v4h-4zM960 266h5v6h-5zM935 266h7v5h-7zM968 277h5v7h-5zM1005 271h7v6h-7zM1056 258h4v4h-4zM1064 277h8v8h-8zM1126 276h4v6h-4zM752 298h5v5h-5zM734 287h6v7h-6zM759 307h6v8h-6zM759 307h7v5h-7zM807 290h5v8h-5zM802 287h4v7h-4zM836 282h7v7h-7zM831 294h5v4h-5zM826 295h4v7h-4zM882 291h7v8h-7zM926 279h8v5h-8zM926 298h7v5h-7zM958 300h8v4h-8zM1003 308h8v5h-8zM1198 285h4v6h-4zM729 339h6v8h-6zM813 312h7v6h-7zM836 332h7v5h-7zM872 319h6v6h-6zM892 315h5v4h-5zM877 319h7v6h-7zM925 323h5v7h-5zM920 310h4v8h-4zM934 337h8v6h-8zM1016 330h6v8h-6zM1021 325h8v4h-8zM1039 322h5v6h-5zM1114 329h4v8h-4zM1122 338h4v6h-4zM1171 336h8v4h-8zM1161 323h5v6h-5zM1178 332h5v8h-5zM744 350h7v7h-7zM734 357h7v4h-7zM751 365h8v6h-8zM765 363h6v5h-6zM772 348h6v6h-6zM808 369h5v5h-5zM806 364h7v6h-7zM820 360h8v7h-8zM892 369h5v7h-5zM929 361h7v5h-7zM920 350h5v7h-5zM947 354h7v8h-7zM969 365h6v5h-6zM1016 351h4v4h-4zM1022 356h7v5h-7zM1054 369h7v7h-7zM1081 349h7v7h-7zM1085 352h5v4h-5zM1113 343h7v7h-7zM1133 369h6v7h-6zM726 375h5v7h-5zM751 394h6v8h-6zM795 392h4v5h-4zM810 381h5v6h-5zM834 379h6v8h-6zM816 377h7v5h-7zM860 382h5v5h-5zM893 378h4v5h-4zM875 387h5v8h-5zM915 395h5v6h-5zM988 386h5v5h-5zM1013 391h7v6h-7zM1043 399h5v7h-5zM1043 398h8v6h-8zM1069 396h6v5h-6zM1064 388h6v4h-6zM1064 378h6v6h-6zM1109 384h4v5h-4zM1125 378h7v7h-7zM1152 385h6v7h-6zM1146 393h5v7h-5zM737 427h5v6h-5zM760 409h5v5h-5zM804 402h6v5h-6zM819 408h7v4h-7zM818 421h5v8h-5zM845 414h8v5h-8zM951 429h5v8h-5zM962 420h5v7h-5zM943 412h7v4h-7zM1020 401h5v7h-5zM1020 413h8v6h-8zM1018 411h5v7h-5zM1045 416h8v6h-8zM1048 402h5v6h-5zM1144 431h4v5h-4zM734 457h5v6h-5zM779 462h7v5h-7zM771 437h7v5h-7zM809 446h6v6h-6zM803 460h5v7h-5zM814 461h7v6h-7zM871 450h6v6h-6zM890 445h6v7h-6zM891 460h5v5h-5zM910 440h5v7h-5zM933 439h5v4h-5zM908 441h6v6h-6zM941 437h8v6h-8zM942 447h7v5h-7zM942 434h5v4h-5zM968 458h4v4h-4zM972 443h7v4h-7zM1011 453h5v7h-5zM995 459h6v7h-6zM1030 433h6v8h-6zM1030 448h8v4h-8zM1038 453h6v7h-6zM1068 454h7v6h-7zM1076 454h7v5h-7zM1143 455h4v8h-4zM1150 457h5v7h-5zM1202 439h7v6h-7zM1195 454h6v5h-6zM783 490h6v4h-6zM754 483h7v6h-7zM787 462h7v7h-7zM789 486h7v6h-7zM789 467h7v8h-7zM832 484h7v5h-7zM844 475h5v4h-5zM892 475h4v8h-4zM930 468h5v7h-5zM928 469h7v7h-7zM958 472h6v5h-6zM958 468h5v7h-5zM964 479h5v8h-5zM982 492h5v4h-5zM991 478h6v5h-6zM990 464h5v6h-5zM1044 490h6v4h-6zM1032 475h4v5h-4zM1024 482h6v6h-6zM1082 487h6v5h-6zM1066 476h6v5h-6zM1094 481h7v8h-7zM1106 470h7v5h-7zM1171 486h7v7h-7zM1174 473h5v6h-5z' fill='#4755f6'/>
<path d='M777 9h4v7h-4zM800 30h7v7h-7zM901 28h7v6h-7zM998 20h7v5h-7zM1057 33h8v6h-8zM1108 27h6v7h-6zM1123 8h7v6h-7zM1143 15h4v7h-4zM1172 14h5v8h-5zM1150 10h6v8h-6zM1180 5h5v7h-5zM756 52h6v7h-6zM866 39h6v8h-6zM884 45h4v8h-4zM881 44h6v7h-6zM908 64h5v8h-5zM952 49h5v7h-5zM949 66h5v7h-5zM1134 69h6v8h-6zM727 115h5v7h-5zM782 103h4v7h-4zM769 108h6v4h-6zM769 105h5v6h-5zM785 123h7v8h-7zM791 115h5v5h-5zM828 121h5v5h-5zM843 119h7v6h-7zM904 99h7v6h-7zM952 113h6v4h-6zM957 119h6v7h-6zM974 114h7v6h-7zM1190 122h7v6h-7zM1189 101h5v4h-5zM733 131h6v7h-6zM746 141h7v5h-7zM745 135h4v5h-4zM749 155h6v5h-6zM743 155h4v5h-4zM795 149h7v8h-7zM817 131h5v6h-5zM837 131h7v6h-7zM859 156h7v6h-7zM884 137h7v8h-7zM978 149h6v7h-6zM1034 139h6v5h-6zM1085 133h6v7h-6zM1118 150h4v6h-4zM1118 129h6v6h-6zM1181 152h4v4h-4zM776 159h7v6h-7zM790 167h6v5h-6zM832 180h7v7h-7zM849 171h6v8h-6zM885 160h6v6h-6zM908 186h4v5h-4zM985 162h6v5h-6zM1067 172h6v4h-6zM1134 171h4v7h-4zM1112 160h7v6h-7zM1171 182h5v6h-5zM1180 163h7v6h-7zM1179 176h7v6h-7zM738 211h4v7h-4zM774 208h6v7h-6zM775 216h8v6h-8zM774 207h7v4h-7zM834 189h6v4h-6zM892 189h6v6h-6zM965 200h7v7h-7zM991 209h6v6h-6zM1069 215h7v5h-7zM1101 214h7v6h-7zM1152 209h5v7h-5zM1200 189h6v7h-6zM1189 203h4v4h-4zM737 235h6v4h-6zM763 224h5v6h-5zM804 234h4v8h-4zM784 235h5v7h-5zM828 243h8v7h-8zM819 219h7v8h-7zM816 240h5v8h-5zM841 249h7v4h-7zM823 219h4v6h-4zM873 225h7v8h-7zM846 237h8v7h-8zM886 247h6v5h-6zM1153 237h7v7h-7zM1198 246h6v8h-6zM765 255h8v7h-8zM805 272h7v7h-7zM796 252h6v5h-6zM805 267h6v5h-6zM793 272h6v8h-6zM839 261h4v5h-4zM869 255h5v7h-5zM857 251h5v5h-5zM940 250h4v8h-4zM965 275h6v7h-6zM1003 251h5v8h-5zM1172 254h7v5h-7zM751 283h7v6h-7zM790 285h6v4h-6zM792 295h6v5h-6zM821 309h7v6h-7zM849 288h6v7h-6zM900 291h5v5h-5zM919 279h6v5h-6zM938 299h7v7h-7zM941 289h8v6h-8zM1015 291h8v7h-8zM1042 286h6v7h-6zM1130 307h7v6h-7zM1158 285h6v7h-6zM741 336h5v8h-5zM740 334h6v5h-6zM767 336h7v7h-7zM775 313h7v4h-7zM762 333h6v7h-6zM823 322h4v4h-4zM827 337h7v6h-7zM859 315h8v7h-8zM929 334h4v4h-4zM912 331h5v8h-5zM908 313h5v5h-5zM961 309h5v8h-5zM973 318h5v5h-5zM1003 335h7v8h-7zM1032 326h6v8h-6zM1069 338h7v8h-7zM1063 334h5v4h-5zM1095 327h6v4h-6zM1191 324h4v7h-4zM1184 310h7v8h-7zM754 360h5v7h-5zM738 368h6v5h-6zM771 341h7v6h-7zM825 369h5v7h-5zM855 365h6v8h-6zM861 341h4v7h-4zM926 354h6v5h-6zM905 342h5v6h-5zM952 347h7v5h-7zM966 368h4v6h-4zM1019 368h6v5h-6zM1038 357h6v6h-6zM1049 352h4v7h-4zM1167 356h8v5h-8zM1169 358h5v7h-5zM734 376h8v6h-8zM725 394h5v7h-5zM751 371h6v5h-6zM781 398h7v8h-7zM779 386h5v5h-5zM813 388h5v8h-5zM853 392h6v5h-6zM874 382h8v6h-8zM928 387h5v5h-5zM927 401h6v5h-6zM925 373h8v5h-8zM947 395h4v4h-4zM989 393h8v4h-8zM988 397h5v5h-5zM989 399h5v6h-5zM994 397h6v6h-6zM1018 390h5v6h-5zM1013 400h8v4h-8zM1035 401h7v4h-7zM1047 375h7v5h-7zM1106 396h7v7h-7zM1085 391h4v4h-4zM1096 375h5v7h-5zM1141 390h5v6h-5zM1136 378h5v6h-5zM1118 385h4v6h-4zM1169 395h6v7h-6zM1201 379h5v7h-5zM736 423h6v5h-6zM724 404h7v6h-7zM732 430h7v6h-7zM795 432h8v4h-8zM785 430h8v8h-8zM814 419h4v6h-4zM799 428h6v6h-6zM822 415h5v5h-5zM842 408h7v6h-7zM849 422h8v6h-8zM898 401h4v7h-4zM891 407h8v7h-8zM892 412h5v6h-5zM882 406h4v7h-4zM930 406h7v7h-7zM947 427h6v4h-6zM969 405h5v7h-5zM1104 409h8v8h-8zM1084 420h8v5h-8zM1137 426h7v6h-7zM1196 422h5v5h-5zM1200 429h4v8h-4zM1197 408h5v7h-5zM778 446h5v4h-5zM811 436h6v8h-6zM826 449h5v5h-5zM863 453h5v8h-5zM886 460h5v5h-5zM878 449h4v6h-4zM929 432h7v5h-7zM933 432h7v5h-7zM942 433h4v7h-4zM981 445h7v5h-7zM1007 453h5v5h-5zM1023 432h7v7h-7zM1076 451h5v5h-5zM1081 438h5v6h-5zM1084 455h7v7h-7zM1110 458h6v5h-6zM1134 431h7v7h-7zM1121 438h5v5h-5zM1130 433h6v4h-6zM1150 447h5v6h-5zM843 476h6v6h-6zM832 491h7v5h-7zM854 492h5v4h-5zM890 487h6v5h-6zM874 488h6v7h-6zM886 473h8v5h-8zM922 487h5v7h-5zM922 471h5v7h-5zM923 480h5v8h-5zM941 486h6v5h-6zM957 491h6v5h-6zM939 466h5v5h-5zM971 478h6v7h-6zM978 466h6v5h-6zM998 481h7v7h-7zM993 474h5v4h-5zM1013 478h6v5h-6zM1006 463h7v8h-7zM1030 466h6v7h-6zM1045 488h7v6h-7zM1105 477h5v7h-5zM1114 487h6v8h-6zM1158 485h7v6h-7zM1146 478h6v7h-6zM1198 461h7v7h-7z' fill='#465efb'/>
<path d='M955 37h6v5h-6zM874 119h4v4h-4zM892 114h6v6h-6zM760 132h8v5h-8zM796 139h7v6h-7zM822 186h6v4h-6zM947 201h5v7h-5zM950 214h7v8h-7zM1035 199h5v7h-5zM1156 191h5v4h-5zM1165 244h5v7h-5zM815 266h6v7h-6zM856 269h5v8h-5zM940 268h6v6h-6zM815 290h6v7h-6zM940 285h5v5h-5zM946 330h6v6h-6zM976 331h8v5h-8zM1018 325h8v4h-8zM1117 339h8v6h-8zM987 342h5v4h-5zM1068 346h6v6h-6zM1186 357h5v6h-5zM807 395h6v5h-6zM887 383h7v7h-7zM927 392h6v5h-6zM1058 410h5v5h-5zM1101 403h5v7h-5zM770 443h7v8h-7z' fill='#4367fd'/>
<path d='M812 14h4v6h-4zM831 16h6v6h-6zM926 10h4v5h-4zM946 30h6v6h-6zM972 24h7v7h-7zM892 64h8v7h-8zM947 47h6v5h-6zM1068 59h5v6h-5zM1135 45h7v7h-7zM738 84h8v4h-8zM763 70h6v6h-6zM801 68h7v5h-7zM884 97h6v4h-6zM970 71h6v5h-6zM1060 86h5v5h-5zM796 122h5v6h-5zM817 107h5v7h-5zM822 120h4v5h-4zM1022 105h8v6h-8zM950 128h6v4h-6zM1073 154h4v6h-4zM775 164h8v7h-8zM906 165h5v4h-5zM725 234h5v4h-5zM969 238h5v6h-5zM919 279h5v4h-5zM1028 273h8v6h-8zM758 285h5v6h-5zM795 315h4v8h-4zM813 351h4v7h-4zM820 351h8v6h-8zM791 380h5v7h-5zM752 407h6v6h-6zM779 417h7v7h-7zM802 434h6v6h-6zM814 437h7v7h-7zM823 453h6v6h-6zM1081 441h5v7h-5zM739 462h7v7h-7zM870 462h8v7h-8zM862 478h5v5h-5z' fill='#2e83f9'/>
<path d='M760 23h5v7h-5zM777 20h5v4h-5zM785 26h4v7h-4zM830 20h7v4h-7zM875 13h5v6h-5zM940 32h7v5h-7zM749 48h6v5h-6zM806 59h4v6h-4zM786 61h6v5h-6zM809 40h7v5h-7zM816 38h5v6h-5zM839 50h6v7h-6zM953 66h7v5h-7zM963 62h8v4h-8zM1078 59h4v5h-4zM1085 52h6v8h-6zM1158 54h6v6h-6zM1177 50h6v7h-6zM736 80h8v7h-8zM768 73h5v7h-5zM779 96h8v5h-8zM779 71h8v6h-8zM798 88h5v4h-5zM795 73h6v4h-6zM793 92h6v4h-6zM788 80h4v7h-4zM827 87h7v7h-7zM823 76h5v7h-5zM853 96h7v5h-7zM894 92h5v7h-5zM928 79h6v5h-6zM1043 71h7v6h-7zM1057 93h5v6h-5zM750 103h5v6h-5zM797 121h8v6h-8zM852 119h7v5h-7zM890 113h6v5h-6zM781 146h7v5h-7zM834 147h6v8h-6zM886 129h4v5h-4zM925 138h7v6h-7zM913 130h5v7h-5zM1002 136h7v4h-7zM1022 143h7v7h-7zM999 133h8v7h-8zM1061 129h8v5h-8zM740 179h8v5h-8zM731 186h7v5h-7zM843 178h4v6h-4zM844 171h5v8h-5zM861 186h6v7h-6zM875 166h7v5h-7zM900 168h7v5h-7zM1018 181h4v7h-4zM1016 175h6v5h-6zM1107 181h5v7h-5zM1098 167h5v7h-5zM761 189h6v7h-6zM788 200h8v4h-8zM841 195h5v7h-5zM824 196h4v6h-4zM892 215h7v7h-7zM924 209h6v5h-6zM930 213h6v7h-6zM996 216h5v6h-5zM993 191h7v4h-7zM1035 197h8v5h-8zM1092 194h5v6h-5zM1126 199h6v5h-6zM748 229h7v7h-7zM920 246h8v8h-8zM995 239h7v6h-7zM1041 244h7v4h-7zM1119 233h8v5h-8zM741 260h8v4h-8zM777 274h4v6h-4zM771 258h5v7h-5zM904 269h4v8h-4zM919 267h6v7h-6zM926 273h4v8h-4zM970 250h4v7h-4zM1017 257h7v7h-7zM1110 277h5v4h-5zM1085 260h6v8h-6zM1054 281h5v7h-5zM731 316h6v5h-6zM807 320h6v6h-6zM810 316h6v6h-6zM855 335h6v7h-6zM901 317h7v6h-7zM810 352h7v8h-7zM800 339h8v7h-8zM826 341h6v7h-6zM823 369h6v7h-6zM901 365h6v5h-6zM822 398h5v6h-5zM867 395h7v6h-7zM856 374h5v5h-5zM1074 390h5v5h-5zM769 424h4v5h-4zM789 409h7v4h-7zM819 405h5v7h-5zM833 429h7v5h-7zM859 429h6v5h-6zM1062 410h5v6h-5zM1073 419h6v7h-6zM726 441h6v8h-6zM747 430h5v7h-5zM775 453h7v6h-7zM854 460h6v5h-6zM859 445h8v5h-8zM737 479h6v7h-6zM778 467h7v6h-7zM796 490h8v7h-8zM1074 472h4v7h-4z' fill='#2d8cf3'/>
<path d='M725 28h5v6h-5zM773 10h7v4h-7zM803 32h7v7h-7zM848 22h5v6h-5zM847 12h5v7h-5zM901 9h7v6h-7zM918 25h7v5h-7zM1048 11h8v6h-8zM747 61h8v7h-8zM743 55h6v6h-6zM776 57h7v5h-7zM823 40h5v5h-5zM849 47h7v7h-7zM960 46h8v5h-8zM975 59h5v8h-5zM1011 64h5v6h-5zM1075 57h6v7h-6zM1093 49h8v6h-8zM1115 59h4v6h-4zM1134 63h4v5h-4zM1184 60h6v5h-6zM744 72h5v6h-5zM768 75h4v7h-4zM774 95h5v8h-5zM785 89h5v7h-5zM838 71h7v5h-7zM858 91h7v6h-7zM871 72h8v6h-8zM877 93h6v8h-6zM902 83h5v5h-5zM925 90h6v6h-6zM967 76h8v5h-8zM1101 92h6v5h-6zM1094 82h8v5h-8zM784 119h8v8h-8zM829 119h7v7h-7zM818 109h7v7h-7zM845 100h4v6h-4zM905 109h7v6h-7zM1004 105h6v7h-6zM1048 104h5v7h-5zM1139 124h4v7h-4zM729 150h7v4h-7zM765 141h7v7h-7zM789 134h6v7h-6zM891 143h7v8h-7zM889 152h6v5h-6zM897 152h5v6h-5zM882 146h8v6h-8zM954 149h7v7h-7zM1107 155h7v6h-7zM790 170h4v6h-4zM840 177h5v8h-5zM887 167h4v5h-4zM920 168h7v7h-7zM725 203h7v6h-7zM748 205h5v7h-5zM758 199h8v6h-8zM801 197h7v7h-7zM839 191h5v5h-5zM923 194h8v4h-8zM726 223h5v7h-5zM757 224h6v4h-6zM778 226h4v5h-4zM772 222h5v8h-5zM911 227h8v6h-8zM911 223h5v7h-5zM934 246h4v7h-4zM933 227h8v7h-8zM1055 231h4v6h-4zM1099 236h5v8h-5zM1134 239h5v4h-5zM738 248h4v7h-4zM745 274h6v7h-6zM884 273h5v7h-5zM919 250h8v5h-8zM1044 256h7v6h-7zM1081 260h7v5h-7zM757 285h6v5h-6zM1005 282h7v6h-7zM763 331h6v7h-6zM798 318h5v4h-5zM813 328h8v5h-8zM873 335h5v4h-5zM726 362h7v5h-7zM744 363h5v7h-5zM767 350h5v6h-5zM777 367h7v5h-7zM768 360h6v5h-6zM880 348h4v8h-4zM1027 347h7v7h-7zM1080 341h5v7h-5zM743 394h7v5h-7zM731 389h7v7h-7zM779 372h8v7h-8zM774 386h5v8h-5zM831 371h7v8h-7zM845 392h5v6h-5zM739 404h5v6h-5zM1054 408h7v8h-7zM763 456h4v5h-4zM801 443h5v8h-5zM841 439h6v6h-6zM818 437h6v6h-6zM882 437h5v6h-5zM724 473h6v5h-6zM725 470h5v6h-5zM743 463h7v7h-7zM728 483h7v6h-7zM764 478h7v7h-7zM779 492h8v5h-8zM829 489h6v6h-6zM819 481h8v7h-8zM873 476h4v7h-4zM884 472h4v6h-4z' fill='#2994ed'/>
<path d='M747 35h5v7h-5zM731 16h8v5h-8zM807 33h6v4h-6zM853 20h8v6h-8zM910 28h5v5h-5zM949 24h5v4h-5zM958 15h8v5h-8zM992 25h4v4h-4zM998 27h5v5h-5zM1036 6h5v8h-5zM742 55h5v5h-5zM863 63h4v7h-4zM849 47h7v4h-7zM877 51h7v5h-7zM931 36h6v5h-6zM975 36h8v7h-8zM974 40h7v6h-7zM1004 44h6v5h-6zM1035 38h8v5h-8zM1084 58h8v7h-8zM1146 40h6v4h-6zM1161 42h4v5h-4zM1193 46h8v4h-8zM731 79h5v5h-5zM735 76h6v4h-6zM834 94h6v5h-6zM817 78h5v7h-5zM845 87h7v5h-7zM870 85h8v6h-8zM862 81h5v8h-5zM925 69h5v5h-5zM904 92h4v6h-4zM962 65h4v8h-4zM1011 85h7v4h-7zM1012 78h7v8h-7zM995 91h4v4h-4zM1013 82h5v7h-5zM1024 83h6v7h-6zM1125 80h6v6h-6zM751 124h4v7h-4zM736 105h5v8h-5zM851 112h5v6h-5zM863 113h7v4h-7zM924 123h4v5h-4zM746 134h4v7h-4zM770 141h7v6h-7zM785 154h5v8h-5zM839 153h4v8h-4zM827 138h6v6h-6zM865 137h5v5h-5zM887 140h4v5h-4zM931 149h7v6h-7zM931 143h5v6h-5zM941 142h7v6h-7zM941 147h6v8h-6zM741 173h7v7h-7zM729 187h8v7h-8zM752 174h8v5h-8zM783 182h7v6h-7zM780 157h7v7h-7zM758 161h7v7h-7zM853 177h4v8h-4zM921 167h6v7h-6zM938 167h7v6h-7zM780 196h7v8h-7zM792 197h8v8h-8zM859 194h5v4h-5zM878 214h6v6h-6zM933 210h4v7h-4zM796 237h4v7h-4zM955 221h8v4h-8zM1001 231h5v7h-5zM1060 229h7v5h-7zM1103 245h7v5h-7zM744 251h7v6h-7zM741 277h7v5h-7zM754 252h8v4h-8zM932 258h8v7h-8zM926 250h6v5h-6zM751 302h5v6h-5zM781 301h6v8h-6zM1028 301h5v6h-5zM1076 306h6v5h-6zM1077 308h8v8h-8zM728 329h7v5h-7zM725 314h6v7h-6zM781 312h5v4h-5zM814 334h5v6h-5zM818 329h5v4h-5zM824 323h7v6h-7zM1038 337h7v6h-7zM1050 332h6v7h-6zM1067 334h7v4h-7zM1074 316h8v7h-8zM803 353h7v8h-7zM803 362h5v5h-5zM839 349h7v6h-7zM870 343h7v5h-7zM867 354h8v4h-8zM1040 359h5v6h-5zM776 386h7v4h-7zM752 425h4v6h-4zM773 423h7v7h-7zM864 401h5v7h-5zM868 407h7v6h-7zM734 433h6v4h-6zM860 444h5v6h-5zM748 480h7v5h-7zM811 468h6v4h-6zM813 473h5v5h-5zM839 476h4v4h-4zM1056 469h5v7h-5z' fill='#259ce7'/>
<polygon points='1096.8,272.2 1129.8,268.3 1205.5,287.2 1205.5,415.8 1159.2,408.3 1111.4,419.6 1056.5,412.1 1065.7,347.8 1078.5,302.4' fill='#484ef1' fill-opacity='0.8'/>
<polygon points='902.4,230.5 979.4,238.1 1056.5,268.3 1078.5,302.4 1065.7,347.8 1056.5,404.5 983.2,408.3 898.8,408.3' fill='#4851f4' fill-opacity='0.8'/>
<polygon points='787.1,204.4 879.2,212.5 878.9,347.8 845.9,360.8 781.5,341.8' fill='#4755f6' fill-opacity='0.8'/>
<polygon points='1045.8,63.0 1126.1,53.9 1131.0,100.3 1119.3,102.3 1045.8,86.2' fill='#475cfa' fill-opacity='0.8'/>
<polygon points='1134.0,47.8 1205.5,32.6 1205.5,287.2 1129.8,268.3 1134.0,209.4' fill='#4755f6' fill-opacity='0.8'/>
<polygon points='1014.1,79.4 1118.0,103.1 1127.1,109.7 1130.9,130.6 1127.1,159.0 1121.7,174.2 1114.4,189.2 1104.6,221.5 1093.8,249.8 987.0,227.6 993.0,196.9' fill='none' stroke='#484aee' stroke-width='8' stroke-linejoin='round'/>
<polygon points='1014.1,79.4 1118.0,103.1 1127.1,109.7 1130.9,130.6 1127.1,159.0 1121.7,174.2 1114.4,189.2 1104.6,221.5 1093.8,249.8 987.0,227.6 993.0,196.9' fill='#2f81fa'/>
<polygon points='1020.6,161.8 1118.0,178.9 1115.2,196.9 1105.2,198.8 1103.3,221.5 1085.0,242.4 1004.0,225.4' fill='#3f6eff'/>
<polyline points='727.0,74.1 840.0,66.5 965.4,55.9 1036.0,50.8 1205.5,25.6' fill='none' stroke='#2e85f8' stroke-width='17.2'/>
<polyline points='1139.1,49.7 1136.7,87.2 1131.8,137.2 1127.0,187.2 1110.0,247.2 1090.6,277.2 1076.0,307.2 1066.3,347.2 1056.5,387.2 1046.9,437.2 1034.8,495.3' fill='none' stroke='#2d8cf3' stroke-width='5.7' stroke-linejoin='round'/>
<polyline points='727.0,168.7 848.0,200.8 980.1,234.9 1093.9,272.8' fill='none' stroke='#2d8cf3' stroke-width='5.7' stroke-linejoin='round'/>
<polyline points='877.2,77.6 889.3,197.2 884.1,259.9 877.1,337.2 867.4,411.5 857.7,495.3' fill='none' stroke='#2d8cf3' stroke-width='5.7' stroke-linejoin='round'/>
<polyline points='800.2,206.1 782.0,345.4' fill='none' stroke='#2d8cf3' stroke-width='5.7' stroke-linejoin='round'/>
<polyline points='1006.8,76.1 987.7,227.0' fill='none' stroke='#2d8cf3' stroke-width='5.7' stroke-linejoin='round'/>
<polyline points='983.3,235.3 1057.0,319.5' fill='none' stroke='#2d8cf3' stroke-width='5.7' stroke-linejoin='round'/>
<polyline points='1104.6,268.0 1205.5,290.2' fill='none' stroke='#2d8cf3' stroke-width='2.9' stroke-opacity='0.8'/>
<polyline points='903.0,356.1 1049.4,326.9' fill='none' stroke='#2d8cf3' stroke-width='2.9' stroke-opacity='0.8'/>
<line x1='1046.2' y1='164.7' x2='1035.1' y2='218.5' stroke='#484aee' stroke-width='2.5'/>
<line x1='1062.7' y1='170.3' x2='1057.2' y2='225.4' stroke='#484aee' stroke-width='2.5'/>
<line x1='1076.5' y1='173.0' x2='1068.2' y2='232.3' stroke='#484aee' stroke-width='2.5'/>
<line x1='1093.0' y1='184.0' x2='1083.4' y2='232.3' stroke='#484aee' stroke-width='2.5'/>
<line x1='1021.3' y1='158.5' x2='1039.3' y2='162.0' stroke='#15afd9' stroke-width='6'/>
<line x1='1097.0' y1='180.0' x2='1116.0' y2='185.0' stroke='#15afd9' stroke-width='7'/>
<line x1='1004.8' y1='223.0' x2='1069.6' y2='238.0' stroke='#2895ec' stroke-width='9'/>
<rect x='807.0' y='218.0' width='36.0' height='42.0' fill='#2d8cf3'/>
<rect x='810.5' y='221.3' width='29.1' height='35.3' fill='#4367fd'/>
<rect x='768.9' y='86.6' width='7.4' height='19.8' fill='#fec13a'/>
<rect x='778.8' y='89.0' width='14.9' height='20.0' fill='#4433cc'/>
<rect x='927.3' y='232.7' width='7.5' height='19.8' fill='#71cd64'/>
<rect x='833.3' y='17.3' width='7.4' height='12.4' fill='#2fc5a2'/>
<rect x='999.0' y='7.4' width='12.5' height='5.0' fill='#eaba31'/>
<rect x='823.4' y='311.9' width='29.6' height='34.6' fill='#1caadf'/>
</g>
<clipPath id='mcd'><rect x='714.7' y='600.6' width='488.1' height='481.9'/></clipPath>
<g clip-path='url(#mcd)'>
<g filter='url(#mblur)'>
<rect x='684.2' y='570.5' width='31.1' height='30.7' fill='#1caadf'/>
<rect x='714.7' y='570.5' width='31.1' height='30.7' fill='#1caadf'/>
<rect x='745.2' y='570.5' width='31.1' height='30.7' fill='#9fc942'/>
<rect x='775.7' y='570.5' width='31.1' height='30.7' fill='#48cb86'/>
<rect x='806.2' y='570.5' width='31.1' height='30.7' fill='#48cb86'/>
<rect x='836.7' y='570.5' width='31.1' height='30.7' fill='#1caadf'/>
<rect x='867.2' y='570.5' width='31.1' height='30.7' fill='#71cd64'/>
<rect x='897.7' y='570.5' width='31.1' height='30.7' fill='#2fc5a2'/>
<rect x='928.2' y='570.5' width='31.1' height='30.7' fill='#2fc5a2'/>
<rect x='958.8' y='570.5' width='31.1' height='30.7' fill='#12beb9'/>
<rect x='989.3' y='570.5' width='31.1' height='30.7' fill='#71cd64'/>
<rect x='1019.8' y='570.5' width='31.1' height='30.7' fill='#9fc942'/>
<rect x='1050.3' y='570.5' width='31.1' height='30.7' fill='#c8c129'/>
<rect x='1080.8' y='570.5' width='31.1' height='30.7' fill='#9fc942'/>
<rect x='1111.3' y='570.5' width='31.1' height='30.7' fill='#9fc942'/>
<rect x='1141.8' y='570.5' width='31.1' height='30.7' fill='#48cb86'/>
<rect x='1172.3' y='570.5' width='31.1' height='30.7' fill='#2fc5a2'/>
<rect x='1202.8' y='570.5' width='31.1' height='30.7' fill='#2fc5a2'/>
<rect x='684.2' y='600.6' width='31.1' height='30.7' fill='#1caadf'/>
<rect x='714.7' y='600.6' width='31.1' height='30.7' fill='#1caadf'/>
<rect x='745.2' y='600.6' width='31.1' height='30.7' fill='#9fc942'/>
<rect x='775.7' y='600.6' width='31.1' height='30.7' fill='#48cb86'/>
<rect x='806.2' y='600.6' width='31.1' height='30.7' fill='#48cb86'/>
<rect x='836.7' y='600.6' width='31.1' height='30.7' fill='#1caadf'/>
<rect x='867.2' y='600.6' width='31.1' height='30.7' fill='#71cd64'/>
<rect x='897.7' y='600.6' width='31.1' height='30.7' fill='#2fc5a2'/>
<rect x='928.2' y='600.6' width='31.1' height='30.7' fill='#2fc5a2'/>
<rect x='958.8' y='600.6' width='31.1' height='30.7' fill='#12beb9'/>
<rect x='989.3' y='600.6' width='31.1' height='30.7' fill='#71cd64'/>
<rect x='1019.8' y='600.6' width='31.1' height='30.7' fill='#9fc942'/>
<rect x='1050.3' y='600.6' width='31.1' height='30.7' fill='#c8c129'/>
<rect x='1080.8' y='600.6' width='31.1' height='30.7' fill='#9fc942'/>
<rect x='1111.3' y='600.6' width='31.1' height='30.7' fill='#9fc942'/>
<rect x='1141.8' y='600.6' width='31.1' height='30.7' fill='#48cb86'/>
<rect x='1172.3' y='600.6' width='31.1' height='30.7' fill='#2fc5a2'/>
<rect x='1202.8' y='600.6' width='31.1' height='30.7' fill='#2fc5a2'/>
<rect x='684.2' y='630.7' width='31.1' height='30.7' fill='#05b6ce'/>
<rect x='714.7' y='630.7' width='31.1' height='30.7' fill='#05b6ce'/>
<rect x='745.2' y='630.7' width='31.1' height='30.7' fill='#48cb86'/>
<rect x='775.7' y='630.7' width='31.1' height='30.7' fill='#12beb9'/>
<rect x='806.2' y='630.7' width='31.1' height='30.7' fill='#71cd64'/>
<rect x='836.7' y='630.7' width='31.1' height='30.7' fill='#2fc5a2'/>
<rect x='867.2' y='630.7' width='31.1' height='30.7' fill='#48cb86'/>
<rect x='897.7' y='630.7' width='31.1' height='30.7' fill='#48cb86'/>
<rect x='928.2' y='630.7' width='31.1' height='30.7' fill='#2fc5a2'/>
<rect x='958.8' y='630.7' width='31.1' height='30.7' fill='#12beb9'/>
<rect x='989.3' y='630.7' width='31.1' height='30.7' fill='#2fc5a2'/>
<rect x='1019.8' y='630.7' width='31.1' height='30.7' fill='#48cb86'/>
<rect x='1050.3' y='630.7' width='31.1' height='30.7' fill='#9fc942'/>
<rect x='1080.8' y='630.7' width='31.1' height='30.7' fill='#c8c129'/>
<rect x='1111.3' y='630.7' width='31.1' height='30.7' fill='#48cb86'/>
<rect x='1141.8' y='630.7' width='31.1' height='30.7' fill='#9fc942'/>
<rect x='1172.3' y='630.7' width='31.1' height='30.7' fill='#71cd64'/>
<rect x='1202.8' y='630.7' width='31.1' height='30.7' fill='#71cd64'/>
<rect x='684.2' y='660.8' width='31.1' height='30.7' fill='#27c2ac'/>
<rect x='714.7' y='660.8' width='31.1' height='30.7' fill='#27c2ac'/>
<rect x='745.2' y='660.8' width='31.1' height='30.7' fill='#11b1d6'/>
<rect x='775.7' y='660.8' width='31.1' height='30.7' fill='#04bbc2'/>
<rect x='806.2' y='660.8' width='31.1' height='30.7' fill='#3bc992'/>
<rect x='836.7' y='660.8' width='31.1' height='30.7' fill='#04bbc2'/>
<rect x='867.2' y='660.8' width='31.1' height='30.7' fill='#3bc992'/>
<rect x='897.7' y='660.8' width='31.1' height='30.7' fill='#3bc992'/>
<rect x='928.2' y='660.8' width='31.1' height='30.7' fill='#27c2ac'/>
<rect x='958.8' y='660.8' width='31.1' height='30.7' fill='#11b1d6'/>
<rect x='989.3' y='660.8' width='31.1' height='30.7' fill='#2fc5a2'/>
<rect x='1019.8' y='660.8' width='31.1' height='30.7' fill='#2fc5a2'/>
<rect x='1050.3' y='660.8' width='31.1' height='30.7' fill='#71cd64'/>
<rect x='1080.8' y='660.8' width='31.1' height='30.7' fill='#c8c129'/>
<rect x='1111.3' y='660.8' width='31.1' height='30.7' fill='#2fc5a2'/>
<rect x='1141.8' y='660.8' width='31.1' height='30.7' fill='#48cb86'/>
<rect x='1172.3' y='660.8' width='31.1' height='30.7' fill='#12beb9'/>
<rect x='1202.8' y='660.8' width='31.1' height='30.7' fill='#12beb9'/>
<rect x='684.2' y='691.0' width='31.1' height='30.7' fill='#27c2ac'/>
<rect x='714.7' y='691.0' width='31.1' height='30.7' fill='#27c2ac'/>
<rect x='745.2' y='691.0' width='31.1' height='30.7' fill='#04bbc2'/>
<rect x='775.7' y='691.0' width='31.1' height='30.7' fill='#20a4e3'/>
<rect x='806.2' y='691.0' width='31.1' height='30.7' fill='#11b1d6'/>
<rect x='836.7' y='691.0' width='31.1' height='30.7' fill='#11b1d6'/>
<rect x='867.2' y='691.0' width='31.1' height='30.7' fill='#20a4e3'/>
<rect x='897.7' y='691.0' width='31.1' height='30.7' fill='#20a4e3'/>
<rect x='928.2' y='691.0' width='31.1' height='30.7' fill='#20a4e3'/>
<rect x='958.8' y='691.0' width='31.1' height='30.7' fill='#04bbc2'/>
<rect x='989.3' y='691.0' width='31.1' height='30.7' fill='#12beb9'/>
<rect x='1019.8' y='691.0' width='31.1' height='30.7' fill='#05b6ce'/>
<rect x='1050.3' y='691.0' width='31.1' height='30.7' fill='#05b6ce'/>
<rect x='1080.8' y='691.0' width='31.1' height='30.7' fill='#12beb9'/>
<rect x='1111.3' y='691.0' width='31.1' height='30.7' fill='#2fc5a2'/>
<rect x='1141.8' y='691.0' width='31.1' height='30.7' fill='#9fc942'/>
<rect x='1172.3' y='691.0' width='31.1' height='30.7' fill='#12beb9'/>
<rect x='1202.8' y='691.0' width='31.1' height='30.7' fill='#12beb9'/>
<rect x='684.2' y='721.1' width='31.1' height='30.7' fill='#11b1d6'/>
<rect x='714.7' y='721.1' width='31.1' height='30.7' fill='#11b1d6'/>
<rect x='745.2' y='721.1' width='31.1' height='30.7' fill='#20a4e3'/>
<rect x='775.7' y='721.1' width='31.1' height='30.7' fill='#11b1d6'/>
<rect x='806.2' y='721.1' width='31.1' height='30.7' fill='#04bbc2'/>
<rect x='836.7' y='721.1' width='31.1' height='30.7' fill='#2895ec'/>
<rect x='867.2' y='721.1' width='31.1' height='30.7' fill='#27c2ac'/>
<rect x='897.7' y='721.1' width='31.1' height='30.7' fill='#04bbc2'/>
<rect x='928.2' y='721.1' width='31.1' height='30.7' fill='#27c2ac'/>
<rect x='958.8' y='721.1' width='31.1' height='30.7' fill='#27c2ac'/>
<rect x='989.3' y='721.1' width='31.1' height='30.7' fill='#05b6ce'/>
<rect x='1019.8' y='721.1' width='31.1' height='30.7' fill='#05b6ce'/>
<rect x='1050.3' y='721.1' width='31.1' height='30.7' fill='#05b6ce'/>
<rect x='1080.8' y='721.1' width='31.1' height='30.7' fill='#12beb9'/>
<rect x='1111.3' y='721.1' width='31.1' height='30.7' fill='#48cb86'/>
<rect x='1141.8' y='721.1' width='31.1' height='30.7' fill='#c8c129'/>
<rect x='1172.3' y='721.1' width='31.1' height='30.7' fill='#71cd64'/>
<rect x='1202.8' y='721.1' width='31.1' height='30.7' fill='#71cd64'/>
<rect x='684.2' y='751.2' width='31.1' height='30.7' fill='#04bbc2'/>
<rect x='714.7' y='751.2' width='31.1' height='30.7' fill='#04bbc2'/>
<rect x='745.2' y='751.2' width='31.1' height='30.7' fill='#20a4e3'/>
<rect x='775.7' y='751.2' width='31.1' height='30.7' fill='#11b1d6'/>
<rect x='806.2' y='751.2' width='31.1' height='30.7' fill='#04bbc2'/>
<rect x='836.7' y='751.2' width='31.1' height='30.7' fill='#2895ec'/>
<rect x='867.2' y='751.2' width='31.1' height='30.7' fill='#3bc992'/>
<rect x='897.7' y='751.2' width='31.1' height='30.7' fill='#27c2ac'/>
<rect x='928.2' y='751.2' width='31.1' height='30.7' fill='#27c2ac'/>
<rect x='958.8' y='751.2' width='31.1' height='30.7' fill='#3bc992'/>
<rect x='989.3' y='751.2' width='31.1' height='30.7' fill='#259ce7'/>
<rect x='1019.8' y='751.2' width='31.1' height='30.7' fill='#347afd'/>
<rect x='1050.3' y='751.2' width='31.1' height='30.7' fill='#2d8cf3'/>
<rect x='1080.8' y='751.2' width='31.1' height='30.7' fill='#12beb9'/>
<rect x='1111.3' y='751.2' width='31.1' height='30.7' fill='#2fc5a2'/>
<rect x='1141.8' y='751.2' width='31.1' height='30.7' fill='#c8c129'/>
<rect x='1172.3' y='751.2' width='31.1' height='30.7' fill='#9fc942'/>
<rect x='1202.8' y='751.2' width='31.1' height='30.7' fill='#9fc942'/>
<rect x='684.2' y='781.3' width='31.1' height='30.7' fill='#11b1d6'/>
<rect x='714.7' y='781.3' width='31.1' height='30.7' fill='#11b1d6'/>
<rect x='745.2' y='781.3' width='31.1' height='30.7' fill='#20a4e3'/>
<rect x='775.7' y='781.3' width='31.1' height='30.7' fill='#04bbc2'/>
<rect x='806.2' y='781.3' width='31.1' height='30.7' fill='#60cd72'/>
<rect x='836.7' y='781.3' width='31.1' height='30.7' fill='#60cd72'/>
<rect x='867.2' y='781.3' width='31.1' height='30.7' fill='#27c2ac'/>
<rect x='897.7' y='781.3' width='31.1' height='30.7' fill='#3bc992'/>
<rect x='928.2' y='781.3' width='31.1' height='30.7' fill='#3bc992'/>
<rect x='958.8' y='781.3' width='31.1' height='30.7' fill='#60cd72'/>
<rect x='989.3' y='781.3' width='31.1' height='30.7' fill='#05b6ce'/>
<rect x='1019.8' y='781.3' width='31.1' height='30.7' fill='#347afd'/>
<rect x='1050.3' y='781.3' width='31.1' height='30.7' fill='#347afd'/>
<rect x='1080.8' y='781.3' width='31.1' height='30.7' fill='#1caadf'/>
<rect x='1111.3' y='781.3' width='31.1' height='30.7' fill='#2fc5a2'/>
<rect x='1141.8' y='781.3' width='31.1' height='30.7' fill='#c8c129'/>
<rect x='1172.3' y='781.3' width='31.1' height='30.7' fill='#9fc942'/>
<rect x='1202.8' y='781.3' width='31.1' height='30.7' fill='#9fc942'/>
<rect x='684.2' y='811.4' width='31.1' height='30.7' fill='#05b6ce'/>
<rect x='714.7' y='811.4' width='31.1' height='30.7' fill='#05b6ce'/>
<rect x='745.2' y='811.4' width='31.1' height='30.7' fill='#1caadf'/>
<rect x='775.7' y='811.4' width='31.1' height='30.7' fill='#05b6ce'/>
<rect x='806.2' y='811.4' width='31.1' height='30.7' fill='#05b6ce'/>
<rect x='836.7' y='811.4' width='31.1' height='30.7' fill='#eaba31'/>
<rect x='867.2' y='811.4' width='31.1' height='30.7' fill='#2fc5a2'/>
<rect x='897.7' y='811.4' width='31.1' height='30.7' fill='#1caadf'/>
<rect x='928.2' y='811.4' width='31.1' height='30.7' fill='#2fc5a2'/>
<rect x='958.8' y='811.4' width='31.1' height='30.7' fill='#48cb86'/>
<rect x='989.3' y='811.4' width='31.1' height='30.7' fill='#12beb9'/>
<rect x='1019.8' y='811.4' width='31.1' height='30.7' fill='#05b6ce'/>
<rect x='1050.3' y='811.4' width='31.1' height='30.7' fill='#12beb9'/>
<rect x='1080.8' y='811.4' width='31.1' height='30.7' fill='#48cb86'/>
<rect x='1111.3' y='811.4' width='31.1' height='30.7' fill='#71cd64'/>
<rect x='1141.8' y='811.4' width='31.1' height='30.7' fill='#c8c129'/>
<rect x='1172.3' y='811.4' width='31.1' height='30.7' fill='#c8c129'/>
<rect x='1202.8' y='811.4' width='31.1' height='30.7' fill='#c8c129'/>
<rect x='684.2' y='841.5' width='31.1' height='30.7' fill='#1caadf'/>
<rect x='714.7' y='841.5' width='31.1' height='30.7' fill='#1caadf'/>
<rect x='745.2' y='841.5' width='31.1' height='30.7' fill='#259ce7'/>
<rect x='775.7' y='841.5' width='31.1' height='30.7' fill='#2fc5a2'/>
<rect x='806.2' y='841.5' width='31.1' height='30.7' fill='#c8c129'/>
<rect x='836.7' y='841.5' width='31.1' height='30.7' fill='#c8c129'/>
<rect x='867.2' y='841.5' width='31.1' height='30.7' fill='#05b6ce'/>
<rect x='897.7' y='841.5' width='31.1' height='30.7' fill='#05b6ce'/>
<rect x='928.2' y='841.5' width='31.1' height='30.7' fill='#9fc942'/>
<rect x='958.8' y='841.5' width='31.1' height='30.7' fill='#71cd64'/>
<rect x='989.3' y='841.5' width='31.1' height='30.7' fill='#12beb9'/>
<rect x='1019.8' y='841.5' width='31.1' height='30.7' fill='#48cb86'/>
<rect x='1050.3' y='841.5' width='31.1' height='30.7' fill='#71cd64'/>
<rect x='1080.8' y='841.5' width='31.1' height='30.7' fill='#71cd64'/>
<rect x='1111.3' y='841.5' width='31.1' height='30.7' fill='#2fc5a2'/>
<rect x='1141.8' y='841.5' width='31.1' height='30.7' fill='#71cd64'/>
<rect x='1172.3' y='841.5' width='31.1' height='30.7' fill='#71cd64'/>
<rect x='1202.8' y='841.5' width='31.1' height='30.7' fill='#71cd64'/>
<rect x='684.2' y='871.7' width='31.1' height='30.7' fill='#1caadf'/>
<rect x='714.7' y='871.7' width='31.1' height='30.7' fill='#1caadf'/>
<rect x='745.2' y='871.7' width='31.1' height='30.7' fill='#259ce7'/>
<rect x='775.7' y='871.7' width='31.1' height='30.7' fill='#2fc5a2'/>
<rect x='806.2' y='871.7' width='31.1' height='30.7' fill='#2fc5a2'/>
<rect x='836.7' y='871.7' width='31.1' height='30.7' fill='#48cb86'/>
<rect x='867.2' y='871.7' width='31.1' height='30.7' fill='#1caadf'/>
<rect x='897.7' y='871.7' width='31.1' height='30.7' fill='#05b6ce'/>
<rect x='928.2' y='871.7' width='31.1' height='30.7' fill='#9fc942'/>
<rect x='958.8' y='871.7' width='31.1' height='30.7' fill='#71cd64'/>
<rect x='989.3' y='871.7' width='31.1' height='30.7' fill='#2fc5a2'/>
<rect x='1019.8' y='871.7' width='31.1' height='30.7' fill='#9fc942'/>
<rect x='1050.3' y='871.7' width='31.1' height='30.7' fill='#9fc942'/>
<rect x='1080.8' y='871.7' width='31.1' height='30.7' fill='#c8c129'/>
<rect x='1111.3' y='871.7' width='31.1' height='30.7' fill='#71cd64'/>
<rect x='1141.8' y='871.7' width='31.1' height='30.7' fill='#48cb86'/>
<rect x='1172.3' y='871.7' width='31.1' height='30.7' fill='#9fc942'/>
<rect x='1202.8' y='871.7' width='31.1' height='30.7' fill='#9fc942'/>
<rect x='684.2' y='901.8' width='31.1' height='30.7' fill='#259ce7'/>
<rect x='714.7' y='901.8' width='31.1' height='30.7' fill='#259ce7'/>
<rect x='745.2' y='901.8' width='31.1' height='30.7' fill='#1caadf'/>
<rect x='775.7' y='901.8' width='31.1' height='30.7' fill='#eaba31'/>
<rect x='806.2' y='901.8' width='31.1' height='30.7' fill='#12beb9'/>
<rect x='836.7' y='901.8' width='31.1' height='30.7' fill='#2fc5a2'/>
<rect x='867.2' y='901.8' width='31.1' height='30.7' fill='#259ce7'/>
<rect x='897.7' y='901.8' width='31.1' height='30.7' fill='#2fc5a2'/>
<rect x='928.2' y='901.8' width='31.1' height='30.7' fill='#71cd64'/>
<rect x='958.8' y='901.8' width='31.1' height='30.7' fill='#9fc942'/>
<rect x='989.3' y='901.8' width='31.1' height='30.7' fill='#71cd64'/>
<rect x='1019.8' y='901.8' width='31.1' height='30.7' fill='#9fc942'/>
<rect x='1050.3' y='901.8' width='31.1' height='30.7' fill='#71cd64'/>
<rect x='1080.8' y='901.8' width='31.1' height='30.7' fill='#9fc942'/>
<rect x='1111.3' y='901.8' width='31.1' height='30.7' fill='#9fc942'/>
<rect x='1141.8' y='901.8' width='31.1' height='30.7' fill='#9fc942'/>
<rect x='1172.3' y='901.8' width='31.1' height='30.7' fill='#c8c129'/>
<rect x='1202.8' y='901.8' width='31.1' height='30.7' fill='#c8c129'/>
<rect x='684.2' y='931.9' width='31.1' height='30.7' fill='#259ce7'/>
<rect x='714.7' y='931.9' width='31.1' height='30.7' fill='#259ce7'/>
<rect x='745.2' y='931.9' width='31.1' height='30.7' fill='#2d8cf3'/>
<rect x='775.7' y='931.9' width='31.1' height='30.7' fill='#259ce7'/>
<rect x='806.2' y='931.9' width='31.1' height='30.7' fill='#2fc5a2'/>
<rect x='836.7' y='931.9' width='31.1' height='30.7' fill='#1caadf'/>
<rect x='867.2' y='931.9' width='31.1' height='30.7' fill='#259ce7'/>
<rect x='897.7' y='931.9' width='31.1' height='30.7' fill='#48cb86'/>
<rect x='928.2' y='931.9' width='31.1' height='30.7' fill='#48cb86'/>
<rect x='958.8' y='931.9' width='31.1' height='30.7' fill='#48cb86'/>
<rect x='989.3' y='931.9' width='31.1' height='30.7' fill='#9fc942'/>
<rect x='1019.8' y='931.9' width='31.1' height='30.7' fill='#48cb86'/>
<rect x='1050.3' y='931.9' width='31.1' height='30.7' fill='#71cd64'/>
<rect x='1080.8' y='931.9' width='31.1' height='30.7' fill='#9fc942'/>
<rect x='1111.3' y='931.9' width='31.1' height='30.7' fill='#9fc942'/>
<rect x='1141.8' y='931.9' width='31.1' height='30.7' fill='#9fc942'/>
<rect x='1172.3' y='931.9' width='31.1' height='30.7' fill='#c8c129'/>
<rect x='1202.8' y='931.9' width='31.1' height='30.7' fill='#c8c129'/>
<rect x='684.2' y='962.0' width='31.1' height='30.7' fill='#1caadf'/>
<rect x='714.7' y='962.0' width='31.1' height='30.7' fill='#1caadf'/>
<rect x='745.2' y='962.0' width='31.1' height='30.7' fill='#259ce7'/>
<rect x='775.7' y='962.0' width='31.1' height='30.7' fill='#2d8cf3'/>
<rect x='806.2' y='962.0' width='31.1' height='30.7' fill='#259ce7'/>
<rect x='836.7' y='962.0' width='31.1' height='30.7' fill='#259ce7'/>
<rect x='867.2' y='962.0' width='31.1' height='30.7' fill='#1caadf'/>
<rect x='897.7' y='962.0' width='31.1' height='30.7' fill='#71cd64'/>
<rect x='928.2' y='962.0' width='31.1' height='30.7' fill='#48cb86'/>
<rect x='958.8' y='962.0' width='31.1' height='30.7' fill='#48cb86'/>
<rect x='989.3' y='962.0' width='31.1' height='30.7' fill='#2fc5a2'/>
<rect x='1019.8' y='962.0' width='31.1' height='30.7' fill='#48cb86'/>
<rect x='1050.3' y='962.0' width='31.1' height='30.7' fill='#71cd64'/>
<rect x='1080.8' y='962.0' width='31.1' height='30.7' fill='#9fc942'/>
<rect x='1111.3' y='962.0' width='31.1' height='30.7' fill='#9fc942'/>
<rect x='1141.8' y='962.0' width='31.1' height='30.7' fill='#9fc942'/>
<rect x='1172.3' y='962.0' width='31.1' height='30.7' fill='#9fc942'/>
<rect x='1202.8' y='962.0' width='31.1' height='30.7' fill='#9fc942'/>
<rect x='684.2' y='992.1' width='31.1' height='30.7' fill='#1caadf'/>
<rect x='714.7' y='992.1' width='31.1' height='30.7' fill='#1caadf'/>
<rect x='745.2' y='992.1' width='31.1' height='30.7' fill='#2d8cf3'/>
<rect x='775.7' y='992.1' width='31.1' height='30.7' fill='#259ce7'/>
<rect x='806.2' y='992.1' width='31.1' height='30.7' fill='#1caadf'/>
<rect x='836.7' y='992.1' width='31.1' height='30.7' fill='#1caadf'/>
<rect x='867.2' y='992.1' width='31.1' height='30.7' fill='#12beb9'/>
<rect x='897.7' y='992.1' width='31.1' height='30.7' fill='#05b6ce'/>
<rect x='928.2' y='992.1' width='31.1' height='30.7' fill='#1caadf'/>
<rect x='958.8' y='992.1' width='31.1' height='30.7' fill='#12beb9'/>
<rect x='989.3' y='992.1' width='31.1' height='30.7' fill='#05b6ce'/>
<rect x='1019.8' y='992.1' width='31.1' height='30.7' fill='#2fc5a2'/>
<rect x='1050.3' y='992.1' width='31.1' height='30.7' fill='#48cb86'/>
<rect x='1080.8' y='992.1' width='31.1' height='30.7' fill='#2fc5a2'/>
<rect x='1111.3' y='992.1' width='31.1' height='30.7' fill='#12beb9'/>
<rect x='1141.8' y='992.1' width='31.1' height='30.7' fill='#48cb86'/>
<rect x='1172.3' y='992.1' width='31.1' height='30.7' fill='#48cb86'/>
<rect x='1202.8' y='992.1' width='31.1' height='30.7' fill='#48cb86'/>
<rect x='684.2' y='1022.3' width='31.1' height='30.7' fill='#2d8cf3'/>
<rect x='714.7' y='1022.3' width='31.1' height='30.7' fill='#2d8cf3'/>
<rect x='745.2' y='1022.3' width='31.1' height='30.7' fill='#259ce7'/>
<rect x='775.7' y='1022.3' width='31.1' height='30.7' fill='#1caadf'/>
<rect x='806.2' y='1022.3' width='31.1' height='30.7' fill='#259ce7'/>
<rect x='836.7' y='1022.3' width='31.1' height='30.7' fill='#1caadf'/>
<rect x='867.2' y='1022.3' width='31.1' height='30.7' fill='#12beb9'/>
<rect x='897.7' y='1022.3' width='31.1' height='30.7' fill='#259ce7'/>
<rect x='928.2' y='1022.3' width='31.1' height='30.7' fill='#1caadf'/>
<rect x='958.8' y='1022.3' width='31.1' height='30.7' fill='#1caadf'/>
<rect x='989.3' y='1022.3' width='31.1' height='30.7' fill='#05b6ce'/>
<rect x='1019.8' y='1022.3' width='31.1' height='30.7' fill='#05b6ce'/>
<rect x='1050.3' y='1022.3' width='31.1' height='30.7' fill='#12beb9'/>
<rect x='1080.8' y='1022.3' width='31.1' height='30.7' fill='#05b6ce'/>
<rect x='1111.3' y='1022.3' width='31.1' height='30.7' fill='#12beb9'/>
<rect x='1141.8' y='1022.3' width='31.1' height='30.7' fill='#2fc5a2'/>
<rect x='1172.3' y='1022.3' width='31.1' height='30.7' fill='#71cd64'/>
<rect x='1202.8' y='1022.3' width='31.1' height='30.7' fill='#71cd64'/>
<rect x='684.2' y='1052.4' width='31.1' height='30.7' fill='#259ce7'/>
<rect x='714.7' y='1052.4' width='31.1' height='30.7' fill='#259ce7'/>
<rect x='745.2' y='1052.4' width='31.1' height='30.7' fill='#05b6ce'/>
<rect x='775.7' y='1052.4' width='31.1' height='30.7' fill='#05b6ce'/>
<rect x='806.2' y='1052.4' width='31.1' height='30.7' fill='#05b6ce'/>
<rect x='836.7' y='1052.4' width='31.1' height='30.7' fill='#05b6ce'/>
<rect x='867.2' y='1052.4' width='31.1' height='30.7' fill='#12beb9'/>
<rect x='897.7' y='1052.4' width='31.1' height='30.7' fill='#1caadf'/>
<rect x='928.2' y='1052.4' width='31.1' height='30.7' fill='#05b6ce'/>
<rect x='958.8' y='1052.4' width='31.1' height='30.7' fill='#05b6ce'/>
<rect x='989.3' y='1052.4' width='31.1' height='30.7' fill='#12beb9'/>
<rect x='1019.8' y='1052.4' width='31.1' height='30.7' fill='#05b6ce'/>
<rect x='1050.3' y='1052.4' width='31.1' height='30.7' fill='#2fc5a2'/>
<rect x='1080.8' y='1052.4' width='31.1' height='30.7' fill='#48cb86'/>
<rect x='1111.3' y='1052.4' width='31.1' height='30.7' fill='#71cd64'/>
<rect x='1141.8' y='1052.4' width='31.1' height='30.7' fill='#71cd64'/>
<rect x='1172.3' y='1052.4' width='31.1' height='30.7' fill='#9fc942'/>
<rect x='1202.8' y='1052.4' width='31.1' height='30.7' fill='#9fc942'/>
<rect x='684.2' y='1082.5' width='31.1' height='30.7' fill='#259ce7'/>
<rect x='714.7' y='1082.5' width='31.1' height='30.7' fill='#259ce7'/>
<rect x='745.2' y='1082.5' width='31.1' height='30.7' fill='#05b6ce'/>
<rect x='775.7' y='1082.5' width='31.1' height='30.7' fill='#05b6ce'/>
<rect x='806.2' y='1082.5' width='31.1' height='30.7' fill='#05b6ce'/>
<rect x='836.7' y='1082.5' width='31.1' height='30.7' fill='#05b6ce'/>
<rect x='867.2' y='1082.5' width='31.1' height='30.7' fill='#12beb9'/>
<rect x='897.7' y='1082.5' width='31.1' height='30.7' fill='#1caadf'/>
<rect x='928.2' y='1082.5' width='31.1' height='30.7' fill='#05b6ce'/>
<rect x='958.8' y='1082.5' width='31.1' height='30.7' fill='#05b6ce'/>
<rect x='989.3' y='1082.5' width='31.1' height='30.7' fill='#12beb9'/>
<rect x='1019.8' y='1082.5' width='31.1' height='30.7' fill='#05b6ce'/>
<rect x='1050.3' y='1082.5' width='31.1' height='30.7' fill='#2fc5a2'/>
<rect x='1080.8' y='1082.5' width='31.1' height='30.7' fill='#48cb86'/>
<rect x='1111.3' y='1082.5' width='31.1' height='30.7' fill='#71cd64'/>
<rect x='1141.8' y='1082.5' width='31.1' height='30.7' fill='#71cd64'/>
<rect x='1172.3' y='1082.5' width='31.1' height='30.7' fill='#9fc942'/>
<rect x='1202.8' y='1082.5' width='31.1' height='30.7' fill='#9fc942'/>
</g>
<path d='M733 601h9v7h-9zM723 608h10v5h-10zM808 609h6v7h-6zM832 612h10v9h-10zM845 623h8v5h-8zM881 611h7v8h-7zM889 598h7v6h-7zM884 616h12v10h-12zM933 596h11v10h-11zM931 612h7v5h-7zM1084 609h10v9h-10zM1150 627h6v8h-6zM1192 616h8v6h-8zM774 628h9v7h-9zM902 647h6v9h-6zM899 628h11v7h-11zM941 640h12v7h-12zM950 657h7v7h-7zM973 636h6v12h-6zM1035 650h7v9h-7zM1097 631h10v12h-10zM1137 637h9v5h-9zM1134 655h7v6h-7zM1164 641h7v9h-7zM711 681h11v9h-11zM762 669h10v7h-10zM771 680h8v8h-8zM759 686h7v6h-7zM791 665h8v12h-8zM782 682h5v7h-5zM797 678h11v11h-11zM805 677h9v11h-9zM857 657h11v11h-11zM852 656h5v11h-5zM917 668h9v11h-9zM914 683h8v12h-8zM955 665h12v6h-12zM1179 671h10v11h-10zM716 714h10v7h-10zM742 696h8v6h-8zM799 711h9v6h-9zM789 701h6v5h-6zM776 694h8v6h-8zM786 690h10v8h-10zM808 691h10v10h-10zM868 703h6v8h-6zM866 691h8v6h-8zM871 688h5v10h-5zM896 712h8v5h-8zM945 687h10v11h-10zM944 711h11v8h-11zM933 693h11v5h-11zM1039 707h9v12h-9zM730 723h5v7h-5zM766 744h5v6h-5zM769 732h6v7h-6zM774 746h11v11h-11zM788 718h9v9h-9zM821 744h7v8h-7zM808 735h6v9h-6zM848 721h7v8h-7zM837 723h8v6h-8zM882 730h5v7h-5zM945 720h10v7h-10zM929 736h9v9h-9zM950 727h9v8h-9zM934 732h11v10h-11zM984 748h7v6h-7zM1030 731h11v10h-11zM1092 720h6v8h-6zM713 765h10v5h-10zM748 760h7v11h-7zM767 764h6v11h-6zM765 767h10v7h-10zM816 773h8v7h-8zM840 777h9v5h-9zM835 750h6v7h-6zM848 770h6v7h-6zM880 759h10v11h-10zM873 774h11v8h-11zM940 759h11v6h-11zM950 750h9v10h-9zM981 757h11v7h-11zM1011 774h5v9h-5zM756 790h11v10h-11zM756 785h5v12h-5zM904 783h11v6h-11zM927 789h9v8h-9zM999 803h10v12h-10zM1025 788h7v9h-7zM1026 799h9v9h-9zM1100 803h6v8h-6zM1124 784h11v10h-11zM1125 780h6v6h-6zM1152 787h7v10h-7zM1194 799h11v7h-11zM731 811h12v11h-12zM719 830h12v10h-12zM715 808h5v9h-5zM762 810h10v9h-10zM751 829h11v10h-11zM818 825h10v8h-10zM817 829h12v7h-12zM892 833h11v7h-11zM923 812h9v9h-9zM942 828h6v10h-6zM1015 826h9v10h-9zM724 845h7v10h-7zM731 847h7v6h-7zM749 865h9v7h-9zM762 858h10v11h-10zM753 866h7v11h-7zM874 852h12v6h-12zM883 839h8v6h-8zM895 856h8v10h-8zM1087 852h9v7h-9zM1117 839h10v11h-10zM1180 841h6v7h-6zM732 896h5v6h-5zM724 867h7v9h-7zM769 887h10v8h-10zM802 876h6v9h-6zM821 876h11v11h-11zM857 877h7v11h-7zM883 872h7v5h-7zM878 882h11v7h-11zM896 877h12v10h-12zM1006 868h5v10h-5zM729 915h9v6h-9zM711 902h9v8h-9zM716 910h11v7h-11zM758 896h11v11h-11zM755 906h9v11h-9zM755 912h7v9h-7zM806 907h9v11h-9zM822 918h6v10h-6zM834 909h9v9h-9zM860 907h11v10h-11zM889 899h5v9h-5zM897 912h9v7h-9zM750 930h9v8h-9zM866 936h9v5h-9zM869 935h10v10h-10zM948 943h9v10h-9zM721 963h8v11h-8zM742 969h10v10h-10zM753 964h7v12h-7zM783 974h9v9h-9zM780 980h12v8h-12zM827 963h9v6h-9zM814 984h12v11h-12zM832 981h6v7h-6zM866 963h10v12h-10zM869 970h12v11h-12zM933 972h7v9h-7zM994 972h8v10h-8zM1036 969h5v10h-5zM1047 970h6v10h-6zM1027 977h10v8h-10zM1150 984h6v8h-6zM723 993h5v6h-5zM736 1014h10v10h-10zM761 990h6v11h-6zM751 1004h12v10h-12zM766 992h8v10h-8zM757 1000h9v12h-9zM800 989h11v8h-11zM801 1001h6v9h-6zM823 989h7v12h-7zM801 1003h10v10h-10zM836 1000h9v6h-9zM841 1000h6v8h-6zM880 1010h10v10h-10zM899 995h8v10h-8zM951 1003h8v12h-8zM932 1003h10v11h-10zM939 997h5v6h-5zM1045 1011h7v6h-7zM1077 990h12v8h-12zM1165 1002h6v7h-6zM1185 1010h8v12h-8zM711 1046h11v6h-11zM741 1041h8v9h-8zM721 1042h7v7h-7zM735 1039h12v12h-12zM769 1018h11v10h-11zM797 1043h7v7h-7zM815 1047h7v8h-7zM819 1037h8v6h-8zM819 1029h10v12h-10zM841 1046h11v6h-11zM841 1046h10v8h-10zM870 1043h7v11h-7zM904 1046h6v5h-6zM936 1021h7v9h-7zM941 1034h12v5h-12zM944 1038h5v7h-5zM980 1044h9v9h-9zM1028 1048h11v7h-11zM1072 1034h5v11h-5zM1047 1026h9v11h-9zM1075 1020h8v9h-8zM1097 1028h8v12h-8zM1165 1032h7v9h-7zM770 1071h6v8h-6zM776 1060h7v8h-7zM824 1071h8v7h-8zM827 1073h10v11h-10zM885 1069h6v11h-6zM915 1058h7v9h-7zM938 1074h11v11h-11zM976 1065h6v11h-6zM994 1065h11v11h-11zM1014 1068h10v11h-10zM1035 1051h6v8h-6zM1037 1067h8v5h-8zM1039 1071h11v11h-11zM1105 1049h11v8h-11zM1079 1055h8v10h-8zM1091 1063h10v7h-10zM1110 1071h11v10h-11zM1162 1076h5v6h-5z' fill='#347afd'/>
<path d='M713 606h8v9h-8zM797 621h10v8h-10zM831 606h6v12h-6zM807 601h6v11h-6zM861 599h8v10h-8zM921 611h9v12h-9zM1011 620h7v7h-7zM1195 612h11v6h-11zM1192 618h5v6h-5zM1197 600h10v6h-10zM721 633h10v12h-10zM733 646h7v8h-7zM731 641h6v12h-6zM739 641h7v8h-7zM789 644h11v7h-11zM852 638h9v8h-9zM854 653h10v12h-10zM852 630h9v11h-9zM845 638h8v10h-8zM857 637h11v9h-11zM873 637h11v10h-11zM869 651h6v6h-6zM943 647h11v6h-11zM1045 653h9v10h-9zM1027 640h8v10h-8zM1053 635h10v11h-10zM722 672h11v8h-11zM726 665h8v11h-8zM750 664h9v5h-9zM771 668h9v7h-9zM781 657h11v10h-11zM844 668h9v11h-9zM855 683h10v8h-10zM867 682h8v10h-8zM902 680h9v10h-9zM960 665h12v11h-12zM990 682h7v6h-7zM1067 661h8v11h-8zM1194 675h7v11h-7zM793 713h10v6h-10zM815 711h9v11h-9zM822 715h10v5h-10zM855 713h7v11h-7zM837 689h8v12h-8zM846 717h9v6h-9zM878 686h9v11h-9zM883 699h12v6h-12zM913 704h7v11h-7zM930 710h12v11h-12zM974 694h10v8h-10zM1061 702h10v7h-10zM1180 716h12v8h-12zM734 742h9v9h-9zM723 732h10v8h-10zM751 732h8v12h-8zM802 726h7v6h-7zM779 718h9v8h-9zM773 734h6v7h-6zM781 726h11v6h-11zM800 746h9v6h-9zM832 740h8v7h-8zM811 720h11v7h-11zM850 725h6v7h-6zM857 726h12v7h-12zM833 724h9v10h-9zM886 729h7v8h-7zM878 731h9v10h-9zM999 746h9v5h-9zM1009 726h9v11h-9zM773 750h6v8h-6zM796 753h9v8h-9zM793 777h9v8h-9zM831 772h5v9h-5zM842 769h8v11h-8zM844 761h9v11h-9zM855 749h6v10h-6zM878 760h9v9h-9zM915 768h10v8h-10zM937 768h9v9h-9zM1011 764h10v7h-10zM1002 769h10v9h-10zM769 806h6v5h-6zM792 798h10v11h-10zM784 795h5v12h-5zM810 794h7v11h-7zM803 806h7v6h-7zM880 798h10v9h-10zM884 800h9v10h-9zM914 779h9v9h-9zM965 792h8v7h-8zM994 806h9v8h-9zM1057 783h11v12h-11zM1049 804h8v5h-8zM721 821h9v10h-9zM789 829h10v11h-10zM806 830h7v8h-7zM883 824h5v10h-5zM879 828h10v12h-10zM909 816h8v8h-8zM1031 813h10v9h-10zM1044 811h12v10h-12zM1062 825h6v10h-6zM1088 828h12v8h-12zM718 841h8v6h-8zM746 863h8v6h-8zM1034 865h11v9h-11zM1033 841h8v6h-8zM1117 843h12v5h-12zM736 890h8v8h-8zM719 889h11v6h-11zM744 878h7v10h-7zM764 877h11v7h-11zM770 884h7v10h-7zM749 868h10v10h-10zM853 881h12v9h-12zM877 896h6v8h-6zM868 866h8v12h-8zM908 897h6v6h-6zM922 882h8v7h-8zM958 875h10v8h-10zM1006 871h6v6h-6zM1110 895h6v9h-6zM730 918h10v8h-10zM721 914h7v11h-7zM741 917h11v8h-11zM824 926h11v9h-11zM867 900h9v8h-9zM881 909h9v10h-9zM889 917h10v8h-10zM899 899h7v12h-7zM905 912h9v11h-9zM954 907h7v8h-7zM986 919h9v8h-9zM988 897h7v10h-7zM729 954h11v7h-11zM713 947h6v8h-6zM763 931h11v6h-11zM767 928h8v7h-8zM742 939h10v11h-10zM859 956h10v6h-10zM843 950h5v7h-5zM840 927h7v12h-7zM855 929h12v11h-12zM870 943h8v9h-8zM927 947h6v6h-6zM967 940h6v5h-6zM991 951h11v12h-11zM723 964h10v7h-10zM766 961h11v11h-11zM777 966h8v7h-8zM817 975h7v10h-7zM813 968h9v7h-9zM838 983h11v10h-11zM858 958h7v9h-7zM852 980h5v9h-5zM869 982h8v9h-8zM884 970h10v7h-10zM944 974h9v10h-9zM995 973h6v5h-6zM1097 962h6v12h-6zM1138 983h10v8h-10zM723 1016h11v7h-11zM748 994h11v10h-11zM743 1016h10v12h-10zM792 990h10v9h-10zM792 1012h7v12h-7zM805 995h12v9h-12zM824 1005h7v6h-7zM839 999h5v10h-5zM835 1008h7v9h-7zM856 1017h9v10h-9zM867 987h5v11h-5zM899 992h11v9h-11zM912 1017h12v6h-12zM936 1009h9v9h-9zM947 1005h8v6h-8zM974 1006h10v10h-10zM955 1016h9v6h-9zM1013 1001h7v9h-7zM993 1003h10v8h-10zM1075 995h11v6h-11zM1104 1007h6v9h-6zM1080 990h8v9h-8zM1170 995h11v8h-11zM1169 1011h8v7h-8zM764 1023h11v8h-11zM749 1025h9v8h-9zM760 1039h10v5h-10zM798 1037h8v9h-8zM796 1031h8v9h-8zM818 1032h12v12h-12zM810 1033h9v8h-9zM859 1035h12v9h-12zM861 1046h12v12h-12zM863 1021h12v6h-12zM892 1039h9v7h-9zM908 1045h9v8h-9zM920 1045h11v11h-11zM914 1037h11v12h-11zM914 1022h6v5h-6zM926 1036h6v6h-6zM956 1031h9v9h-9zM964 1027h5v11h-5zM960 1024h10v8h-10zM995 1022h8v6h-8zM992 1036h6v10h-6zM994 1039h10v11h-10zM1030 1043h7v6h-7zM1066 1037h6v6h-6zM1096 1044h5v11h-5zM1105 1027h9v10h-9zM1109 1035h10v10h-10zM1111 1025h11v12h-11zM1163 1044h5v8h-5zM1197 1046h6v7h-6zM727 1060h10v9h-10zM736 1068h9v11h-9zM724 1048h8v11h-8zM759 1055h11v7h-11zM756 1069h7v5h-7zM760 1052h6v7h-6zM793 1054h5v6h-5zM802 1059h8v7h-8zM791 1061h7v6h-7zM825 1077h11v7h-11zM861 1057h7v5h-7zM873 1071h7v7h-7zM883 1066h6v10h-6zM897 1073h6v7h-6zM904 1060h5v6h-5zM938 1048h11v9h-11zM951 1074h9v9h-9zM965 1054h12v8h-12zM1012 1065h8v12h-8zM1011 1068h10v9h-10zM987 1068h8v11h-8zM1026 1055h5v10h-5z' fill='#2e83f9'/>
<path d='M729 607h6v8h-6zM773 608h8v10h-8zM833 617h8v7h-8zM836 609h11v12h-11zM860 617h8v5h-8zM921 606h5v10h-5zM947 606h6v8h-6zM929 612h8v6h-8zM965 606h6v7h-6zM1126 604h11v10h-11zM1138 616h10v8h-10zM720 651h8v5h-8zM723 653h11v9h-11zM763 635h11v10h-11zM823 631h9v7h-9zM840 640h6v12h-6zM910 639h6v7h-6zM898 631h7v11h-7zM928 646h6v6h-6zM971 633h8v9h-8zM986 645h5v11h-5zM977 634h11v11h-11zM1015 628h9v9h-9zM1147 654h7v8h-7zM736 665h7v11h-7zM715 661h5v9h-5zM743 685h11v6h-11zM916 659h9v8h-9zM944 672h12v11h-12zM940 666h8v7h-8zM950 678h8v10h-8zM1025 680h8v8h-8zM1183 684h11v10h-11zM719 693h6v10h-6zM727 690h6v10h-6zM746 686h11v12h-11zM747 697h10v7h-10zM761 697h6v6h-6zM778 687h9v11h-9zM772 695h12v5h-12zM831 707h8v10h-8zM823 716h6v10h-6zM830 687h6v9h-6zM837 687h5v11h-5zM924 706h6v11h-6zM917 692h11v6h-11zM940 707h7v7h-7zM982 687h11v11h-11zM997 706h6v6h-6zM1086 694h5v11h-5zM1163 706h12v11h-12zM1172 703h7v7h-7zM765 746h11v11h-11zM766 722h6v9h-6zM859 739h7v8h-7zM893 727h5v6h-5zM902 732h10v9h-10zM971 738h6v6h-6zM1014 718h5v6h-5zM1013 745h6v8h-6zM1008 741h8v9h-8zM1043 733h9v6h-9zM1063 744h10v9h-10zM713 754h10v8h-10zM745 766h11v11h-11zM747 762h6v8h-6zM748 751h5v10h-5zM785 762h7v11h-7zM795 758h7v8h-7zM798 764h9v11h-9zM807 753h12v12h-12zM820 769h9v9h-9zM833 751h11v6h-11zM845 776h8v6h-8zM889 754h7v8h-7zM876 755h7v10h-7zM925 775h5v8h-5zM909 763h8v7h-8zM930 755h7v7h-7zM969 748h6v8h-6zM1034 776h5v11h-5zM1048 775h5v10h-5zM735 797h9v9h-9zM741 789h5v7h-5zM736 793h10v7h-10zM751 793h9v8h-9zM795 803h6v6h-6zM875 781h9v7h-9zM901 776h9v12h-9zM937 806h12v8h-12zM993 806h10v10h-10zM1077 799h12v8h-12zM1083 788h9v8h-9zM1160 781h11v8h-11zM722 825h8v7h-8zM743 829h7v9h-7zM769 835h7v6h-7zM792 818h10v9h-10zM790 818h7v5h-7zM814 829h8v6h-8zM866 824h9v8h-9zM897 832h9v7h-9zM897 811h11v9h-11zM918 826h6v7h-6zM904 822h10v7h-10zM1098 829h9v9h-9zM1129 818h10v5h-10zM1160 832h7v11h-7zM714 840h11v9h-11zM759 844h9v6h-9zM890 853h7v9h-7zM888 867h10v8h-10zM902 854h12v5h-12zM988 838h9v11h-9zM1067 842h11v7h-11zM1052 862h8v8h-8zM755 884h10v11h-10zM774 868h9v7h-9zM797 873h12v10h-12zM810 894h7v6h-7zM805 873h6v7h-6zM846 870h11v9h-11zM848 879h8v11h-8zM870 880h12v11h-12zM1062 891h6v11h-6zM714 920h8v8h-8zM712 916h12v8h-12zM745 915h9v9h-9zM828 903h7v5h-7zM836 909h10v7h-10zM722 943h6v9h-6zM724 944h11v11h-11zM760 927h9v11h-9zM756 928h10v9h-10zM798 940h8v8h-8zM780 933h5v11h-5zM794 949h8v7h-8zM784 939h10v10h-10zM822 932h12v8h-12zM827 959h12v5h-12zM809 931h9v6h-9zM851 948h9v8h-9zM847 949h11v5h-11zM876 931h11v10h-11zM877 956h10v5h-10zM1004 957h9v6h-9zM1067 935h11v11h-11zM1127 947h8v6h-8zM728 967h11v11h-11zM767 979h7v10h-7zM747 961h7v7h-7zM784 979h11v11h-11zM801 961h12v6h-12zM813 975h7v10h-7zM824 983h9v7h-9zM860 979h11v7h-11zM862 967h9v9h-9zM849 958h12v8h-12zM875 987h8v9h-8zM902 977h10v8h-10zM952 971h6v8h-6zM973 962h7v5h-7zM993 965h6v11h-6zM1035 982h8v5h-8zM1032 986h7v5h-7zM1060 970h9v6h-9zM1135 979h8v9h-8zM726 1011h11v6h-11zM728 1011h10v8h-10zM743 992h5v5h-5zM793 1006h6v11h-6zM775 998h12v6h-12zM814 1013h8v6h-8zM833 1016h5v11h-5zM884 1009h11v6h-11zM900 1003h7v7h-7zM915 1006h9v9h-9zM924 1004h11v7h-11zM966 991h12v6h-12zM1010 995h10v8h-10zM1009 1004h6v10h-6zM989 998h7v11h-7zM1020 989h12v8h-12zM1057 1006h12v5h-12zM1052 994h9v6h-9zM1095 994h9v5h-9zM1129 1016h10v12h-10zM1152 993h9v10h-9zM1158 997h11v10h-11zM736 1024h11v5h-11zM727 1021h7v8h-7zM715 1028h6v9h-6zM742 1033h8v6h-8zM743 1045h6v10h-6zM785 1045h6v8h-6zM813 1027h5v9h-5zM822 1018h9v8h-9zM807 1047h5v6h-5zM846 1027h8v7h-8zM883 1044h7v9h-7zM882 1048h6v5h-6zM902 1036h11v8h-11zM922 1034h7v10h-7zM961 1035h7v5h-7zM956 1036h10v7h-10zM988 1038h8v5h-8zM1032 1025h10v6h-10zM1059 1039h8v6h-8zM1056 1035h8v5h-8zM1106 1043h5v6h-5zM1125 1036h7v5h-7zM1168 1048h6v5h-6zM718 1064h8v9h-8zM721 1053h8v8h-8zM752 1055h7v11h-7zM792 1064h6v9h-6zM806 1066h5v9h-5zM848 1075h7v6h-7zM844 1055h5v7h-5zM849 1056h6v7h-6zM893 1076h10v7h-10zM876 1071h7v8h-7zM930 1060h11v9h-11zM967 1061h5v6h-5zM964 1067h8v7h-8zM1044 1063h9v6h-9zM1029 1050h5v11h-5zM1068 1053h10v5h-10z' fill='#2d8cf3'/>
<path d='M719 610h10v6h-10zM882 597h9v8h-9zM966 612h7v11h-7zM775 652h8v9h-8zM970 647h6v9h-6zM833 684h10v5h-10zM854 661h6v6h-6zM1139 667h7v10h-7zM739 695h8v5h-8zM717 692h7v9h-7zM820 711h6v6h-6zM924 690h6v12h-6zM933 707h11v10h-11zM976 700h7v10h-7zM809 721h9v10h-9zM841 743h7v9h-7zM834 739h7v10h-7zM911 725h7v11h-7zM1095 731h8v10h-8zM744 771h6v5h-6zM798 756h8v11h-8zM807 750h9v10h-9zM868 765h11v10h-11zM1028 761h8v7h-8zM733 796h6v9h-6zM716 807h8v6h-8zM922 784h5v12h-5zM933 796h8v9h-8zM754 825h7v10h-7zM800 812h11v9h-11zM801 836h5v10h-5zM719 867h5v9h-5zM912 853h10v10h-10zM972 890h8v9h-8zM731 919h10v7h-10zM817 926h8v10h-8zM887 910h11v8h-11zM870 901h12v9h-12zM717 932h6v6h-6zM734 957h7v8h-7zM753 958h6v7h-6zM761 952h10v7h-10zM775 941h12v8h-12zM912 942h10v6h-10zM906 936h5v7h-5zM775 967h8v9h-8zM892 963h8v8h-8zM732 1006h7v7h-7zM787 1011h10v9h-10zM968 993h7v9h-7zM992 998h9v10h-9zM1085 999h7v9h-7zM1092 994h9v6h-9zM897 1036h10v8h-10zM947 1033h7v9h-7zM949 1036h7v12h-7zM949 1049h8v5h-8zM970 1040h9v10h-9zM1020 1037h6v7h-6zM1094 1018h9v11h-9zM1093 1026h9v12h-9zM728 1072h10v6h-10zM746 1069h12v10h-12zM922 1052h7v12h-7zM1007 1056h9v9h-9zM1046 1057h10v7h-10zM1184 1078h7v5h-7z' fill='#2994ed'/>
<path d='M740 621h10v10h-10zM768 602h6v9h-6zM771 622h10v6h-10zM796 619h7v10h-7zM940 612h5v10h-5zM1023 626h7v7h-7zM723 632h10v11h-10zM760 645h12v9h-12zM836 626h7v9h-7zM882 638h10v7h-10zM863 644h10v12h-10zM1059 650h7v7h-7zM947 681h9v6h-9zM1162 681h7v7h-7zM872 696h6v10h-6zM949 687h9v11h-9zM1076 690h7v5h-7zM1144 695h9v9h-9zM717 719h6v12h-6zM746 717h5v9h-5zM746 741h6v11h-6zM721 763h6v10h-6zM820 774h10v9h-10zM851 828h10v7h-10zM838 854h11v9h-11zM853 839h6v12h-6zM938 840h8v10h-8zM946 859h10v11h-10zM1094 855h11v8h-11zM1152 867h10v9h-10zM1036 870h9v11h-9zM1190 886h11v10h-11zM802 910h5v10h-5zM850 925h12v11h-12zM962 907h12v10h-12zM1156 924h10v12h-10zM1193 904h10v9h-10zM816 953h11v12h-11zM921 943h9v6h-9zM980 940h7v11h-7zM1021 947h11v10h-11zM727 978h9v7h-9zM863 977h10v12h-10zM1132 959h9v9h-9zM1167 984h12v10h-12zM1168 971h12v11h-12zM843 1009h6v6h-6zM889 998h11v6h-11zM888 1001h9v11h-9zM873 991h7v11h-7zM1066 1004h6v9h-6zM1175 989h11v9h-11zM839 1020h5v8h-5zM878 1044h7v12h-7zM794 1065h8v12h-8zM776 1056h8v6h-8zM826 1050h7v10h-7zM880 1054h9v8h-9zM924 1074h11v6h-11zM1078 1057h5v8h-5zM1179 1053h10v8h-10zM1195 1057h7v9h-7z' fill='#dabd28'/>
<path d='M738 599h7v7h-7zM744 607h9v11h-9zM791 612h11v10h-11zM831 602h8v6h-8zM820 605h10v10h-10zM893 623h6v8h-6zM918 603h9v11h-9zM901 598h7v12h-7zM910 625h12v8h-12zM906 596h9v11h-9zM957 614h11v6h-11zM969 604h8v11h-8zM979 603h12v9h-12zM1020 603h10v11h-10zM1037 600h10v7h-10zM1044 613h10v11h-10zM1074 600h10v7h-10zM1067 598h11v11h-11zM1082 623h6v9h-6zM1119 614h8v8h-8zM1112 610h5v6h-5zM1153 601h11v11h-11zM1156 605h6v12h-6zM1154 601h10v8h-10zM789 641h11v10h-11zM783 646h6v9h-6zM808 634h6v8h-6zM807 638h11v7h-11zM827 644h10v12h-10zM832 629h8v10h-8zM870 633h7v11h-7zM863 631h9v9h-9zM901 636h7v10h-7zM917 629h10v7h-10zM932 643h8v8h-8zM941 641h7v6h-7zM964 642h7v7h-7zM984 631h11v9h-11zM1014 629h6v6h-6zM986 636h7v10h-7zM1008 653h7v6h-7zM1071 645h12v10h-12zM1049 634h7v8h-7zM1088 640h8v11h-8zM1111 653h5v9h-5zM1165 649h8v11h-8zM1164 646h12v6h-12zM1195 632h9v7h-9zM1198 627h10v9h-10zM759 671h11v10h-11zM776 668h10v10h-10zM820 674h7v6h-7zM825 679h6v9h-6zM891 668h9v7h-9zM868 657h9v10h-9zM870 666h10v12h-10zM913 684h5v9h-5zM946 668h10v11h-10zM937 665h6v8h-6zM930 658h10v11h-10zM1004 679h6v10h-6zM1004 671h11v11h-11zM985 666h12v12h-12zM1066 676h11v7h-11zM1116 681h12v11h-12zM1160 661h7v12h-7zM1187 683h5v5h-5zM762 692h5v10h-5zM804 707h12v9h-12zM892 703h11v6h-11zM899 698h8v11h-8zM942 714h8v11h-8zM1016 714h8v8h-8zM1121 701h7v8h-7zM1121 699h10v6h-10zM1150 688h5v10h-5zM1182 693h8v7h-8zM824 733h10v11h-10zM874 723h8v7h-8zM864 746h9v10h-9zM920 717h7v11h-7zM909 742h12v11h-12zM912 731h8v8h-8zM954 731h6v6h-6zM938 739h10v9h-10zM977 721h7v5h-7zM978 739h8v9h-8zM1162 746h11v6h-11zM1190 738h9v12h-9zM744 768h7v6h-7zM818 759h10v6h-10zM881 777h7v9h-7zM909 761h7v7h-7zM909 771h12v11h-12zM899 748h6v9h-6zM944 761h7v6h-7zM999 753h9v11h-9zM1088 747h6v11h-6zM1138 763h7v8h-7zM1139 761h10v11h-10zM1152 774h7v9h-7zM1180 759h6v8h-6zM1197 773h11v10h-11zM1183 771h10v9h-10zM716 794h6v9h-6zM793 781h9v10h-9zM795 791h6v9h-6zM825 802h5v7h-5zM856 780h10v12h-10zM846 786h8v8h-8zM888 794h8v9h-8zM870 802h6v10h-6zM895 793h12v10h-12zM938 782h6v11h-6zM954 797h10v8h-10zM1161 782h9v7h-9zM1150 778h5v8h-5zM1190 785h6v8h-6zM1187 782h8v8h-8zM738 835h7v11h-7zM780 826h9v5h-9zM833 830h8v6h-8zM806 832h8v8h-8zM841 811h11v7h-11zM840 833h7v8h-7zM872 832h7v8h-7zM934 837h6v6h-6zM929 824h7v7h-7zM930 835h9v11h-9zM962 817h7v12h-7zM996 826h11v8h-11zM1013 835h5v7h-5zM1085 813h12v10h-12zM1077 836h10v11h-10zM1129 828h7v10h-7zM1180 820h6v10h-6zM727 863h10v5h-10zM716 856h10v12h-10zM780 850h8v6h-8zM812 853h12v10h-12zM854 845h12v7h-12zM857 838h9v9h-9zM865 860h8v10h-8zM905 846h9v7h-9zM936 857h12v6h-12zM940 845h11v11h-11zM961 839h5v9h-5zM1015 852h8v7h-8zM1067 842h10v7h-10zM1064 845h9v7h-9zM1092 859h12v8h-12zM1148 850h9v6h-9zM1182 845h8v10h-8zM733 883h11v6h-11zM854 883h5v6h-5zM918 885h6v7h-6zM937 880h10v6h-10zM931 894h12v11h-12zM963 874h10v7h-10zM996 894h11v6h-11zM993 871h6v8h-6zM1026 885h5v9h-5zM1023 897h8v7h-8zM1046 866h11v12h-11zM1178 882h8v11h-8zM760 912h9v11h-9zM753 905h8v11h-8zM800 922h8v11h-8zM861 924h9v9h-9zM870 908h5v6h-5zM956 919h9v7h-9zM958 899h5v6h-5zM986 901h11v7h-11zM1035 917h9v7h-9zM1024 917h10v6h-10zM1063 900h12v10h-12zM1121 908h8v11h-8zM1127 915h12v11h-12zM1158 926h7v12h-7zM1178 905h11v11h-11zM825 940h12v11h-12zM897 932h7v11h-7zM934 940h10v9h-10zM1008 949h11v11h-11zM1019 942h10v8h-10zM1043 936h12v8h-12zM1076 939h6v6h-6zM1157 940h12v10h-12zM1156 951h7v6h-7zM753 961h7v9h-7zM750 960h6v10h-6zM776 959h8v7h-8zM835 985h7v5h-7zM921 963h9v5h-9zM923 968h8v10h-8zM903 975h6v9h-6zM896 971h9v11h-9zM932 962h7v9h-7zM972 982h5v9h-5zM1003 976h5v10h-5zM1021 981h12v8h-12zM1074 971h6v5h-6zM1051 987h8v6h-8zM1088 968h6v7h-6zM1110 960h7v10h-7zM1135 986h11v9h-11zM745 1011h11v9h-11zM781 992h8v8h-8zM832 1006h9v10h-9zM879 1011h7v7h-7zM901 1004h6v6h-6zM952 1003h6v8h-6zM977 1013h10v6h-10zM1114 995h9v9h-9zM1127 1002h9v7h-9zM1128 1007h8v12h-8zM1152 1001h8v5h-8zM1146 995h8v8h-8zM1190 1015h9v10h-9zM769 1030h7v12h-7zM778 1021h7v10h-7zM1002 1035h12v8h-12zM1003 1044h9v5h-9zM1014 1034h10v8h-10zM1032 1044h5v8h-5zM1034 1020h6v6h-6zM1059 1046h6v7h-6zM1151 1045h8v12h-8zM1179 1025h5v11h-5zM764 1051h7v9h-7zM831 1061h8v9h-8zM807 1049h12v8h-12zM855 1050h9v9h-9zM857 1060h8v5h-8zM887 1060h9v11h-9zM894 1049h11v8h-11zM932 1050h8v5h-8zM970 1069h8v8h-8zM972 1051h7v9h-7zM989 1064h9v7h-9zM1059 1059h10v7h-10zM1094 1066h11v11h-11zM1113 1063h7v6h-7zM1150 1070h11v6h-11zM1198 1074h8v6h-8zM1183 1051h7v9h-7z' fill='#eaba31'/>
<path d='M728 618h6v9h-6zM761 617h5v9h-5zM746 607h10v11h-10zM800 620h10v7h-10zM785 627h7v5h-7zM812 615h11v6h-11zM881 623h6v11h-6zM907 612h11v9h-11zM943 598h7v8h-7zM978 606h10v6h-10zM987 599h5v7h-5zM1013 627h12v8h-12zM1037 622h12v8h-12zM1069 612h5v7h-5zM1100 613h10v7h-10zM1106 595h9v12h-9zM1099 601h12v11h-12zM1116 605h9v10h-9zM1170 597h10v9h-10zM1184 625h9v11h-9zM761 651h6v11h-6zM765 639h7v8h-7zM767 639h11v8h-11zM758 632h8v12h-8zM795 630h11v5h-11zM793 647h7v11h-7zM817 654h8v12h-8zM825 651h5v9h-5zM851 629h5v10h-5zM915 650h12v12h-12zM951 651h6v11h-6zM985 634h12v7h-12zM1024 646h5v9h-5zM1092 657h11v6h-11zM1087 645h7v6h-7zM1083 649h6v7h-6zM1130 642h5v5h-5zM1164 654h8v7h-8zM1168 635h9v7h-9zM717 662h10v9h-10zM718 680h7v7h-7zM734 663h8v12h-8zM750 668h7v9h-7zM792 659h8v5h-8zM832 657h8v12h-8zM825 673h7v11h-7zM851 684h7v8h-7zM852 656h11v12h-11zM868 677h12v6h-12zM879 664h5v11h-5zM867 666h7v7h-7zM917 678h11v7h-11zM907 667h5v12h-5zM929 668h10v7h-10zM1037 682h10v9h-10zM1089 681h5v7h-5zM1088 677h9v10h-9zM1108 661h9v7h-9zM717 715h11v5h-11zM749 695h6v11h-6zM746 689h6v8h-6zM791 695h8v8h-8zM844 707h12v6h-12zM851 715h9v11h-9zM879 703h6v9h-6zM906 693h12v10h-12zM917 717h11v7h-11zM1000 715h10v12h-10zM1081 699h12v8h-12zM726 738h10v10h-10zM716 733h7v12h-7zM725 729h9v9h-9zM789 730h7v7h-7zM826 731h8v10h-8zM819 745h5v7h-5zM884 725h9v7h-9zM908 740h10v6h-10zM902 726h10v9h-10zM908 730h8v10h-8zM955 725h7v10h-7zM1060 739h8v10h-8zM1111 735h11v9h-11zM1121 739h9v11h-9zM1142 741h11v12h-11zM1160 740h10v8h-10zM1187 719h8v10h-8zM1183 736h10v12h-10zM719 751h9v11h-9zM742 762h6v5h-6zM733 749h11v6h-11zM799 770h11v8h-11zM918 754h11v6h-11zM981 748h7v11h-7zM1060 766h8v12h-8zM1108 774h9v8h-9zM1116 762h12v6h-12zM1142 760h10v12h-10zM761 798h7v9h-7zM778 794h11v6h-11zM775 781h6v7h-6zM807 784h10v6h-10zM839 784h6v11h-6zM839 794h8v10h-8zM857 785h7v5h-7zM889 793h11v11h-11zM898 779h12v10h-12zM940 800h10v9h-10zM974 784h6v8h-6zM1100 799h10v10h-10zM1109 791h10v9h-10zM1132 802h9v10h-9zM1188 787h10v8h-10zM751 808h9v7h-9zM783 835h11v6h-11zM817 807h9v11h-9zM854 833h6v5h-6zM984 838h10v6h-10zM957 836h8v11h-8zM1041 834h8v8h-8zM1082 813h11v10h-11zM1135 822h10v11h-10zM1114 838h7v7h-7zM1107 810h10v6h-10zM1162 825h6v7h-6zM1139 814h10v11h-10zM1183 811h10v6h-10zM771 837h6v10h-6zM769 844h9v8h-9zM784 859h5v11h-5zM814 861h8v9h-8zM835 863h7v7h-7zM981 860h10v8h-10zM957 840h9v9h-9zM997 845h6v7h-6zM1025 850h6v10h-6zM1113 843h10v11h-10zM1157 845h7v5h-7zM717 886h7v6h-7zM802 868h7v12h-7zM827 896h11v10h-11zM882 894h11v8h-11zM913 872h9v10h-9zM943 872h12v6h-12zM939 885h6v7h-6zM1070 875h12v11h-12zM1133 883h7v11h-7zM757 906h9v9h-9zM794 921h11v10h-11zM777 920h8v5h-8zM803 922h10v10h-10zM843 909h10v12h-10zM893 921h12v10h-12zM909 910h9v11h-9zM936 927h7v9h-7zM944 921h7v9h-7zM953 926h7v12h-7zM926 924h10v10h-10zM982 913h8v7h-8zM968 926h9v11h-9zM998 915h9v8h-9zM1062 924h9v6h-9zM1046 917h11v7h-11zM1110 922h7v6h-7zM1149 909h12v7h-12zM717 956h12v9h-12zM869 953h8v11h-8zM955 940h7v10h-7zM928 951h9v8h-9zM974 931h9v10h-9zM969 929h10v7h-10zM1002 950h9v6h-9zM1099 935h9v8h-9zM1182 945h11v12h-11zM724 967h11v8h-11zM738 978h12v8h-12zM794 985h7v9h-7zM793 978h12v6h-12zM872 986h8v9h-8zM922 979h9v6h-9zM948 970h7v7h-7zM930 966h10v12h-10zM964 988h10v7h-10zM960 975h6v9h-6zM959 988h8v6h-8zM959 965h9v11h-9zM965 958h7v8h-7zM999 968h8v7h-8zM997 965h11v9h-11zM991 959h11v7h-11zM1050 979h5v12h-5zM1124 972h6v9h-6zM1164 961h11v9h-11zM1139 958h6v11h-6zM1149 971h10v7h-10zM1141 981h6v6h-6zM1191 974h11v11h-11zM1180 961h11v9h-11zM1181 975h9v10h-9zM1194 962h11v6h-11zM715 1007h12v8h-12zM720 999h6v8h-6zM960 991h12v8h-12zM969 988h6v11h-6zM992 993h7v11h-7zM1030 989h10v8h-10zM1057 1011h7v6h-7zM1122 989h9v7h-9zM1153 1016h7v7h-7zM763 1041h8v12h-8zM891 1046h9v11h-9zM931 1018h10v9h-10zM1015 1037h11v8h-11zM1075 1041h10v12h-10zM1105 1038h7v11h-7zM1083 1044h12v11h-12zM1125 1019h8v10h-8zM1123 1032h11v5h-11zM1132 1037h8v10h-8zM1140 1019h6v8h-6zM1157 1036h9v12h-9zM1160 1045h5v10h-5zM1179 1027h8v12h-8zM1191 1032h11v6h-11zM1189 1042h10v10h-10zM1197 1045h6v8h-6zM718 1060h6v10h-6zM725 1069h7v6h-7zM822 1072h11v8h-11zM883 1066h5v10h-5zM919 1059h8v12h-8zM918 1066h5v9h-5zM982 1066h11v12h-11zM997 1067h6v11h-6zM1052 1073h12v7h-12zM1059 1053h10v7h-10zM1095 1061h10v7h-10zM1084 1048h5v9h-5zM1079 1073h10v6h-10zM1115 1056h12v11h-12zM1131 1049h6v9h-6zM1114 1055h10v10h-10zM1138 1056h7v12h-7zM1150 1055h11v7h-11zM1156 1059h7v10h-7zM1140 1069h8v6h-8zM1165 1059h11v5h-11zM1196 1070h9v10h-9zM1169 1078h8v7h-8z' fill='#f8ba3d'/>
<path d='M721 598h11v12h-11zM757 606h12v5h-12zM762 618h11v9h-11zM747 602h7v7h-7zM800 621h7v10h-7zM813 622h9v8h-9zM808 606h12v10h-12zM861 620h8v6h-8zM859 627h8v7h-8zM885 599h8v10h-8zM884 622h9v10h-9zM909 617h10v6h-10zM949 598h8v12h-8zM941 597h9v11h-9zM995 620h10v5h-10zM990 624h8v12h-8zM1002 611h11v8h-11zM1024 615h11v11h-11zM1077 616h6v12h-6zM1062 615h7v9h-7zM1068 601h12v11h-12zM1097 601h6v9h-6zM1108 600h9v11h-9zM1116 598h7v11h-7zM1161 621h8v9h-8zM733 628h11v9h-11zM741 640h11v5h-11zM751 654h5v7h-5zM776 654h11v6h-11zM821 643h6v11h-6zM890 649h6v5h-6zM890 633h12v12h-12zM919 633h6v12h-6zM948 644h7v7h-7zM1019 636h7v11h-7zM1017 653h10v5h-10zM1075 648h10v9h-10zM1077 634h6v10h-6zM1077 648h10v8h-10zM1116 651h7v9h-7zM1138 654h5v7h-5zM1155 634h9v8h-9zM1195 644h6v10h-6zM1185 649h11v7h-11zM1179 628h7v7h-7zM774 674h8v12h-8zM791 659h8v9h-8zM828 668h8v9h-8zM817 680h7v6h-7zM817 684h8v9h-8zM865 679h11v10h-11zM920 683h8v7h-8zM972 670h7v6h-7zM982 663h5v11h-5zM1151 660h12v5h-12zM1167 674h9v10h-9zM1177 670h10v9h-10zM719 688h5v11h-5zM741 689h8v11h-8zM747 707h8v9h-8zM846 700h9v8h-9zM834 694h9v11h-9zM985 692h8v11h-8zM1013 715h9v11h-9zM993 708h11v9h-11zM1155 712h8v7h-8zM1160 686h8v12h-8zM1171 711h5v9h-5zM1174 705h10v5h-10zM740 742h6v6h-6zM743 741h6v9h-6zM882 727h9v8h-9zM933 726h9v9h-9zM955 740h8v6h-8zM1164 730h10v11h-10zM1148 717h11v10h-11zM1194 744h11v6h-11zM1170 735h6v11h-6zM733 767h7v6h-7zM716 753h8v9h-8zM804 768h8v11h-8zM892 765h8v7h-8zM918 753h7v9h-7zM925 749h11v11h-11zM939 757h6v6h-6zM937 750h12v6h-12zM976 766h10v8h-10zM961 757h9v7h-9zM990 764h6v9h-6zM1099 768h10v11h-10zM1166 754h8v6h-8zM1179 762h6v7h-6zM1187 772h10v6h-10zM737 802h10v12h-10zM745 788h9v7h-9zM766 783h7v11h-7zM809 787h6v10h-6zM819 806h10v8h-10zM821 782h7v12h-7zM837 782h11v7h-11zM864 780h6v6h-6zM880 780h9v11h-9zM955 789h7v6h-7zM981 803h6v11h-6zM980 790h12v10h-12zM1014 779h11v11h-11zM988 797h11v11h-11zM1103 803h11v12h-11zM1134 796h6v8h-6zM731 815h10v11h-10zM768 822h7v6h-7zM849 820h10v6h-10zM854 828h7v6h-7zM862 826h7v6h-7zM891 809h8v9h-8zM889 812h6v10h-6zM945 818h11v10h-11zM944 821h6v9h-6zM962 818h6v11h-6zM954 829h12v8h-12zM1006 815h8v10h-8zM1006 825h10v10h-10zM1146 834h12v9h-12zM1177 808h7v10h-7zM1189 824h10v10h-10zM790 839h12v8h-12zM792 860h10v11h-10zM825 839h8v8h-8zM808 855h7v6h-7zM834 854h9v11h-9zM892 865h8v11h-8zM897 860h10v7h-10zM934 841h9v6h-9zM964 843h10v8h-10zM987 843h6v12h-6zM1019 852h8v10h-8zM1173 841h6v9h-6zM739 870h10v7h-10zM762 893h6v5h-6zM843 876h10v10h-10zM945 867h9v10h-9zM981 869h8v7h-8zM1035 894h7v9h-7zM1054 891h11v8h-11zM1081 895h5v11h-5zM1080 880h10v8h-10zM1101 897h12v8h-12zM1120 887h5v5h-5zM1162 879h10v11h-10zM1146 896h7v9h-7zM1160 891h10v11h-10zM1194 875h7v10h-7zM775 898h8v8h-8zM799 927h6v8h-6zM839 901h12v12h-12zM1007 921h7v9h-7zM1022 909h6v6h-6zM1030 912h7v5h-7zM1072 927h11v9h-11zM1098 901h8v10h-8zM1086 925h9v12h-9zM1080 910h8v6h-8zM1185 911h9v8h-9zM737 947h9v10h-9zM784 944h7v9h-7zM812 931h6v10h-6zM845 945h9v9h-9zM880 932h8v12h-8zM911 950h9v12h-9zM972 937h9v10h-9zM994 928h8v11h-8zM1038 941h9v9h-9zM1064 937h9v5h-9zM1058 942h7v10h-7zM1083 932h6v5h-6zM1094 939h9v6h-9zM1125 934h12v7h-12zM1123 949h6v11h-6zM1158 956h10v11h-10zM1181 957h9v6h-9zM1180 955h8v11h-8zM734 963h10v5h-10zM711 972h8v7h-8zM756 986h6v7h-6zM848 959h5v9h-5zM905 962h11v10h-11zM941 988h11v5h-11zM1073 960h10v5h-10zM1049 960h10v10h-10zM1079 976h8v7h-8zM1086 977h6v8h-6zM1106 971h8v8h-8zM1081 962h12v10h-12zM1129 973h7v7h-7zM815 999h8v11h-8zM828 989h10v8h-10zM834 992h9v8h-9zM883 1002h5v8h-5zM899 1000h8v10h-8zM1037 1011h9v7h-9zM1018 1004h10v12h-10zM1040 1003h9v11h-9zM1061 1012h12v7h-12zM1139 1017h6v10h-6zM1192 989h11v8h-11zM726 1028h6v11h-6zM801 1044h7v6h-7zM789 1040h11v11h-11zM792 1033h9v7h-9zM860 1025h8v10h-8zM853 1046h9v11h-9zM883 1030h8v8h-8zM963 1030h7v6h-7zM995 1032h11v12h-11zM1026 1046h6v10h-6zM1119 1021h6v6h-6zM1128 1024h8v11h-8zM1178 1026h8v6h-8zM771 1053h5v6h-5zM772 1057h11v8h-11zM839 1074h7v6h-7zM859 1072h10v9h-10zM921 1054h7v6h-7zM936 1056h6v6h-6zM939 1052h9v12h-9zM958 1066h7v7h-7zM1024 1075h9v7h-9zM1018 1063h8v7h-8zM1069 1049h11v11h-11zM1060 1065h8v6h-8zM1073 1068h10v10h-10zM1137 1071h6v9h-6zM1111 1075h7v9h-7zM1161 1063h11v8h-11z' fill='#fec13a'/>
<polygon points='1092.1,862.1 1125.8,858.3 1203.0,877.0 1203.0,1004.3 1155.8,996.9 1107.0,1008.1 1051.0,1000.6 1060.3,937.0 1073.4,892.0' fill='#d7be28' fill-opacity='0.9'/>
<polygon points='893.7,820.9 972.3,828.4 1051.0,858.3 1073.4,892.0 1060.3,937.0 1051.0,993.1 976.1,996.9 890.0,996.9' fill='#c8c129' fill-opacity='0.9'/>
<polygon points='776.0,795.0 870.0,803.0 869.7,937.0 836.0,949.8 770.3,931.0' fill='#eaba31' fill-opacity='0.9'/>
<polygon points='1040.0,655.0 1122.0,646.0 1127.0,692.0 1115.0,694.0 1040.0,678.0' fill='#e4bb2c' fill-opacity='0.9'/>
<polygon points='1130.0,640.0 1203.0,625.0 1203.0,877.0 1125.8,858.3 1130.0,800.0' fill='#debd29' fill-opacity='0.9'/>
<polygon points='1007.7,671.3 1113.7,694.7 1123.0,701.3 1126.9,722.0 1123.0,750.1 1117.5,765.1 1110.0,780.0 1100.0,812.0 1089.0,840.0 980.0,818.0 986.1,787.6' fill='none' stroke='#eaba31' stroke-width='16' stroke-linejoin='round'/>
<polygon points='1007.7,671.3 1113.7,694.7 1123.0,701.3 1126.9,722.0 1123.0,750.1 1117.5,765.1 1110.0,780.0 1100.0,812.0 1089.0,840.0 980.0,818.0 986.1,787.6' fill='#05b6ce'/>
<polygon points='1014.3,752.9 1113.7,769.8 1110.9,787.6 1100.6,789.5 1098.7,812.0 1080.0,832.6 997.4,815.8' fill='#347afd'/>
<polyline points='714.7,666.0 830.0,658.5 958.0,648.0 1030.0,643.0 1203.0,618.0' fill='none' stroke='#05b6ce' stroke-width='14.2'/>
<polyline points='1135.2,641.9 1132.8,679.0 1127.8,728.5 1122.9,778.0 1105.5,837.4 1085.7,867.1 1070.9,896.8 1061.0,936.4 1051.0,976.0 1041.2,1025.5 1028.8,1083.0' fill='none' stroke='#05b6ce' stroke-width='5.9' stroke-linejoin='round'/>
<polyline points='714.7,759.7 838.2,791.5 973.0,825.2 1089.1,862.7' fill='none' stroke='#05b6ce' stroke-width='5.9' stroke-linejoin='round'/>
<polyline points='868.0,669.5 880.3,787.9 875.0,850.0 867.9,926.5 858.0,1000.0 848.1,1083.0' fill='none' stroke='#05b6ce' stroke-width='5.9' stroke-linejoin='round'/>
<polyline points='789.4,796.7 770.8,934.6' fill='none' stroke='#05b6ce' stroke-width='5.9' stroke-linejoin='round'/>
<polyline points='1000.2,668.0 980.7,817.4' fill='none' stroke='#05b6ce' stroke-width='5.9' stroke-linejoin='round'/>
<polyline points='976.3,825.6 1051.5,909.0' fill='none' stroke='#05b6ce' stroke-width='5.9' stroke-linejoin='round'/>
<polyline points='1100.0,858.0 1203.0,880.0' fill='none' stroke='#05b6ce' stroke-width='2.9' stroke-opacity='0.8'/>
<polyline points='894.3,945.2 1043.7,916.2' fill='none' stroke='#05b6ce' stroke-width='2.9' stroke-opacity='0.8'/>
<rect x='912.5' y='820.1' width='12.4' height='22.3' fill='#463cde'/>
<rect x='729.3' y='679.0' width='9.9' height='24.8' fill='#4743e7'/>
<rect x='808.0' y='810.0' width='32.0' height='35.0' fill='#01b9c6'/>
<rect x='812.0' y='896.0' width='37.5' height='38.0' fill='#01b9c6'/>
<rect x='850.6' y='676.5' width='7.4' height='14.9' fill='#4755f6'/>
<ellipse cx='939.7' cy='891.9' rx='17.3' ry='14.9' fill='#15afd9' fill-opacity='0.75'/>
<ellipse cx='971.9' cy='956.2' rx='34.6' ry='19.8' fill='#05b6ce' fill-opacity='0.75'/>
<ellipse cx='1021.4' cy='951.3' rx='14.9' ry='9.9' fill='#15afd9' fill-opacity='0.75'/>
<ellipse cx='1100.0' cy='905.0' rx='10.0' ry='10.0' fill='#05b6ce' fill-opacity='0.75'/>
</g>
<clipPath id='mcf'><rect x='718.9' y='1193.4' width='501.8' height='485.2'/></clipPath>
<g clip-path='url(#mcf)'>
<g filter='url(#mblur)'>
<rect x='687.5' y='1163.1' width='32.0' height='30.9' fill='#4367fd'/>
<rect x='718.9' y='1163.1' width='32.0' height='30.9' fill='#4367fd'/>
<rect x='750.3' y='1163.1' width='32.0' height='30.9' fill='#2d8cf3'/>
<rect x='781.6' y='1163.1' width='32.0' height='30.9' fill='#347afd'/>
<rect x='813.0' y='1163.1' width='32.0' height='30.9' fill='#259ce7'/>
<rect x='844.4' y='1163.1' width='32.0' height='30.9' fill='#259ce7'/>
<rect x='875.7' y='1163.1' width='32.0' height='30.9' fill='#347afd'/>
<rect x='907.1' y='1163.1' width='32.0' height='30.9' fill='#347afd'/>
<rect x='938.4' y='1163.1' width='32.0' height='30.9' fill='#2d8cf3'/>
<rect x='969.8' y='1163.1' width='32.0' height='30.9' fill='#2d8cf3'/>
<rect x='1001.2' y='1163.1' width='32.0' height='30.9' fill='#2d8cf3'/>
<rect x='1032.5' y='1163.1' width='32.0' height='30.9' fill='#347afd'/>
<rect x='1063.9' y='1163.1' width='32.0' height='30.9' fill='#259ce7'/>
<rect x='1095.2' y='1163.1' width='32.0' height='30.9' fill='#2d8cf3'/>
<rect x='1126.6' y='1163.1' width='32.0' height='30.9' fill='#259ce7'/>
<rect x='1158.0' y='1163.1' width='32.0' height='30.9' fill='#2d8cf3'/>
<rect x='1189.3' y='1163.1' width='32.0' height='30.9' fill='#347afd'/>
<rect x='1220.7' y='1163.1' width='32.0' height='30.9' fill='#347afd'/>
<rect x='687.5' y='1193.4' width='32.0' height='30.9' fill='#4367fd'/>
<rect x='718.9' y='1193.4' width='32.0' height='30.9' fill='#4367fd'/>
<rect x='750.3' y='1193.4' width='32.0' height='30.9' fill='#2d8cf3'/>
<rect x='781.6' y='1193.4' width='32.0' height='30.9' fill='#347afd'/>
<rect x='813.0' y='1193.4' width='32.0' height='30.9' fill='#259ce7'/>
<rect x='844.4' y='1193.4' width='32.0' height='30.9' fill='#259ce7'/>
<rect x='875.7' y='1193.4' width='32.0' height='30.9' fill='#347afd'/>
<rect x='907.1' y='1193.4' width='32.0' height='30.9' fill='#347afd'/>
<rect x='938.4' y='1193.4' width='32.0' height='30.9' fill='#2d8cf3'/>
<rect x='969.8' y='1193.4' width='32.0' height='30.9' fill='#2d8cf3'/>
<rect x='1001.2' y='1193.4' width='32.0' height='30.9' fill='#2d8cf3'/>
<rect x='1032.5' y='1193.4' width='32.0' height='30.9' fill='#347afd'/>
<rect x='1063.9' y='1193.4' width='32.0' height='30.9' fill='#259ce7'/>
<rect x='1095.2' y='1193.4' width='32.0' height='30.9' fill='#2d8cf3'/>
<rect x='1126.6' y='1193.4' width='32.0' height='30.9' fill='#259ce7'/>
<rect x='1158.0' y='1193.4' width='32.0' height='30.9' fill='#2d8cf3'/>
<rect x='1189.3' y='1193.4' width='32.0' height='30.9' fill='#347afd'/>
<rect x='1220.7' y='1193.4' width='32.0' height='30.9' fill='#347afd'/>
<rect x='687.5' y='1223.7' width='32.0' height='30.9' fill='#4367fd'/>
<rect x='718.9' y='1223.7' width='32.0' height='30.9' fill='#4367fd'/>
<rect x='750.3' y='1223.7' width='32.0' height='30.9' fill='#4367fd'/>
<rect x='781.6' y='1223.7' width='32.0' height='30.9' fill='#484aee'/>
<rect x='813.0' y='1223.7' width='32.0' height='30.9' fill='#484aee'/>
<rect x='844.4' y='1223.7' width='32.0' height='30.9' fill='#484aee'/>
<rect x='875.7' y='1223.7' width='32.0' height='30.9' fill='#484aee'/>
<rect x='907.1' y='1223.7' width='32.0' height='30.9' fill='#484aee'/>
<rect x='938.4' y='1223.7' width='32.0' height='30.9' fill='#484aee'/>
<rect x='969.8' y='1223.7' width='32.0' height='30.9' fill='#484aee'/>
<rect x='1001.2' y='1223.7' width='32.0' height='30.9' fill='#4367fd'/>
<rect x='1032.5' y='1223.7' width='32.0' height='30.9' fill='#2d8cf3'/>
<rect x='1063.9' y='1223.7' width='32.0' height='30.9' fill='#2d8cf3'/>
<rect x='1095.2' y='1223.7' width='32.0' height='30.9' fill='#259ce7'/>
<rect x='1126.6' y='1223.7' width='32.0' height='30.9' fill='#2d8cf3'/>
<rect x='1158.0' y='1223.7' width='32.0' height='30.9' fill='#2d8cf3'/>
<rect x='1189.3' y='1223.7' width='32.0' height='30.9' fill='#2d8cf3'/>
<rect x='1220.7' y='1223.7' width='32.0' height='30.9' fill='#2d8cf3'/>
<rect x='687.5' y='1254.1' width='32.0' height='30.9' fill='#347afd'/>
<rect x='718.9' y='1254.1' width='32.0' height='30.9' fill='#347afd'/>
<rect x='750.3' y='1254.1' width='32.0' height='30.9' fill='#347afd'/>
<rect x='781.6' y='1254.1' width='32.0' height='30.9' fill='#475cfa'/>
<rect x='813.0' y='1254.1' width='32.0' height='30.9' fill='#475cfa'/>
<rect x='844.4' y='1254.1' width='32.0' height='30.9' fill='#2f81fa'/>
<rect x='875.7' y='1254.1' width='32.0' height='30.9' fill='#2f81fa'/>
<rect x='907.1' y='1254.1' width='32.0' height='30.9' fill='#2f81fa'/>
<rect x='938.4' y='1254.1' width='32.0' height='30.9' fill='#2f81fa'/>
<rect x='969.8' y='1254.1' width='32.0' height='30.9' fill='#3f6eff'/>
<rect x='1001.2' y='1254.1' width='32.0' height='30.9' fill='#4367fd'/>
<rect x='1032.5' y='1254.1' width='32.0' height='30.9' fill='#4367fd'/>
<rect x='1063.9' y='1254.1' width='32.0' height='30.9' fill='#4367fd'/>
<rect x='1095.2' y='1254.1' width='32.0' height='30.9' fill='#4367fd'/>
<rect x='1126.6' y='1254.1' width='32.0' height='30.9' fill='#4367fd'/>
<rect x='1158.0' y='1254.1' width='32.0' height='30.9' fill='#259ce7'/>
<rect x='1189.3' y='1254.1' width='32.0' height='30.9' fill='#2d8cf3'/>
<rect x='1220.7' y='1254.1' width='32.0' height='30.9' fill='#2d8cf3'/>
<rect x='687.5' y='1284.4' width='32.0' height='30.9' fill='#347afd'/>
<rect x='718.9' y='1284.4' width='32.0' height='30.9' fill='#347afd'/>
<rect x='750.3' y='1284.4' width='32.0' height='30.9' fill='#347afd'/>
<rect x='781.6' y='1284.4' width='32.0' height='30.9' fill='#475cfa'/>
<rect x='813.0' y='1284.4' width='32.0' height='30.9' fill='#3f6eff'/>
<rect x='844.4' y='1284.4' width='32.0' height='30.9' fill='#2a92ee'/>
<rect x='875.7' y='1284.4' width='32.0' height='30.9' fill='#2a92ee'/>
<rect x='907.1' y='1284.4' width='32.0' height='30.9' fill='#2a92ee'/>
<rect x='938.4' y='1284.4' width='32.0' height='30.9' fill='#2f81fa'/>
<rect x='969.8' y='1284.4' width='32.0' height='30.9' fill='#3f6eff'/>
<rect x='1001.2' y='1284.4' width='32.0' height='30.9' fill='#4367fd'/>
<rect x='1032.5' y='1284.4' width='32.0' height='30.9' fill='#4367fd'/>
<rect x='1063.9' y='1284.4' width='32.0' height='30.9' fill='#4367fd'/>
<rect x='1095.2' y='1284.4' width='32.0' height='30.9' fill='#4367fd'/>
<rect x='1126.6' y='1284.4' width='32.0' height='30.9' fill='#4367fd'/>
<rect x='1158.0' y='1284.4' width='32.0' height='30.9' fill='#2d8cf3'/>
<rect x='1189.3' y='1284.4' width='32.0' height='30.9' fill='#259ce7'/>
<rect x='1220.7' y='1284.4' width='32.0' height='30.9' fill='#259ce7'/>
<rect x='687.5' y='1314.7' width='32.0' height='30.9' fill='#2d8cf3'/>
<rect x='718.9' y='1314.7' width='32.0' height='30.9' fill='#2d8cf3'/>
<rect x='750.3' y='1314.7' width='32.0' height='30.9' fill='#347afd'/>
<rect x='781.6' y='1314.7' width='32.0' height='30.9' fill='#475cfa'/>
<rect x='813.0' y='1314.7' width='32.0' height='30.9' fill='#3f6eff'/>
<rect x='844.4' y='1314.7' width='32.0' height='30.9' fill='#2a92ee'/>
<rect x='875.7' y='1314.7' width='32.0' height='30.9' fill='#2a92ee'/>
<rect x='907.1' y='1314.7' width='32.0' height='30.9' fill='#2a92ee'/>
<rect x='938.4' y='1314.7' width='32.0' height='30.9' fill='#2a92ee'/>
<rect x='969.8' y='1314.7' width='32.0' height='30.9' fill='#3f6eff'/>
<rect x='1001.2' y='1314.7' width='32.0' height='30.9' fill='#4367fd'/>
<rect x='1032.5' y='1314.7' width='32.0' height='30.9' fill='#3d70ff'/>
<rect x='1063.9' y='1314.7' width='32.0' height='30.9' fill='#3d70ff'/>
<rect x='1095.2' y='1314.7' width='32.0' height='30.9' fill='#4367fd'/>
<rect x='1126.6' y='1314.7' width='32.0' height='30.9' fill='#4755f6'/>
<rect x='1158.0' y='1314.7' width='32.0' height='30.9' fill='#347afd'/>
<rect x='1189.3' y='1314.7' width='32.0' height='30.9' fill='#2d8cf3'/>
<rect x='1220.7' y='1314.7' width='32.0' height='30.9' fill='#2d8cf3'/>
<rect x='687.5' y='1345.0' width='32.0' height='30.9' fill='#3b72ff'/>
<rect x='718.9' y='1345.0' width='32.0' height='30.9' fill='#3b72ff'/>
<rect x='750.3' y='1345.0' width='32.0' height='30.9' fill='#3b72ff'/>
<rect x='781.6' y='1345.0' width='32.0' height='30.9' fill='#465ffb'/>
<rect x='813.0' y='1345.0' width='32.0' height='30.9' fill='#484ef1'/>
<rect x='844.4' y='1345.0' width='32.0' height='30.9' fill='#465ffb'/>
<rect x='875.7' y='1345.0' width='32.0' height='30.9' fill='#1caadf'/>
<rect x='907.1' y='1345.0' width='32.0' height='30.9' fill='#259ce7'/>
<rect x='938.4' y='1345.0' width='32.0' height='30.9' fill='#1caadf'/>
<rect x='969.8' y='1345.0' width='32.0' height='30.9' fill='#347afd'/>
<rect x='1001.2' y='1345.0' width='32.0' height='30.9' fill='#4367fd'/>
<rect x='1032.5' y='1345.0' width='32.0' height='30.9' fill='#3d70ff'/>
<rect x='1063.9' y='1345.0' width='32.0' height='30.9' fill='#3d70ff'/>
<rect x='1095.2' y='1345.0' width='32.0' height='30.9' fill='#4367fd'/>
<rect x='1126.6' y='1345.0' width='32.0' height='30.9' fill='#4755f6'/>
<rect x='1158.0' y='1345.0' width='32.0' height='30.9' fill='#347afd'/>
<rect x='1189.3' y='1345.0' width='32.0' height='30.9' fill='#347afd'/>
<rect x='1220.7' y='1345.0' width='32.0' height='30.9' fill='#347afd'/>
<rect x='687.5' y='1375.3' width='32.0' height='30.9' fill='#3b72ff'/>
<rect x='718.9' y='1375.3' width='32.0' height='30.9' fill='#3b72ff'/>
<rect x='750.3' y='1375.3' width='32.0' height='30.9' fill='#3b72ff'/>
<rect x='781.6' y='1375.3' width='32.0' height='30.9' fill='#465ffb'/>
<rect x='813.0' y='1375.3' width='32.0' height='30.9' fill='#463cde'/>
<rect x='844.4' y='1375.3' width='32.0' height='30.9' fill='#463cde'/>
<rect x='875.7' y='1375.3' width='32.0' height='30.9' fill='#2d8cf3'/>
<rect x='907.1' y='1375.3' width='32.0' height='30.9' fill='#259ce7'/>
<rect x='938.4' y='1375.3' width='32.0' height='30.9' fill='#2d8cf3'/>
<rect x='969.8' y='1375.3' width='32.0' height='30.9' fill='#4367fd'/>
<rect x='1001.2' y='1375.3' width='32.0' height='30.9' fill='#4367fd'/>
<rect x='1032.5' y='1375.3' width='32.0' height='30.9' fill='#3d70ff'/>
<rect x='1063.9' y='1375.3' width='32.0' height='30.9' fill='#4367fd'/>
<rect x='1095.2' y='1375.3' width='32.0' height='30.9' fill='#4367fd'/>
<rect x='1126.6' y='1375.3' width='32.0' height='30.9' fill='#4755f6'/>
<rect x='1158.0' y='1375.3' width='32.0' height='30.9' fill='#4367fd'/>
<rect x='1189.3' y='1375.3' width='32.0' height='30.9' fill='#347afd'/>
<rect x='1220.7' y='1375.3' width='32.0' height='30.9' fill='#347afd'/>
<rect x='687.5' y='1405.7' width='32.0' height='30.9' fill='#2e85f8'/>
<rect x='718.9' y='1405.7' width='32.0' height='30.9' fill='#2e85f8'/>
<rect x='750.3' y='1405.7' width='32.0' height='30.9' fill='#3b72ff'/>
<rect x='781.6' y='1405.7' width='32.0' height='30.9' fill='#465ffb'/>
<rect x='813.0' y='1405.7' width='32.0' height='30.9' fill='#463cde'/>
<rect x='844.4' y='1405.7' width='32.0' height='30.9' fill='#463cde'/>
<rect x='875.7' y='1405.7' width='32.0' height='30.9' fill='#2d8cf3'/>
<rect x='907.1' y='1405.7' width='32.0' height='30.9' fill='#259ce7'/>
<rect x='938.4' y='1405.7' width='32.0' height='30.9' fill='#347afd'/>
<rect x='969.8' y='1405.7' width='32.0' height='30.9' fill='#347afd'/>
<rect x='1001.2' y='1405.7' width='32.0' height='30.9' fill='#4367fd'/>
<rect x='1032.5' y='1405.7' width='32.0' height='30.9' fill='#4367fd'/>
<rect x='1063.9' y='1405.7' width='32.0' height='30.9' fill='#4367fd'/>
<rect x='1095.2' y='1405.7' width='32.0' height='30.9' fill='#4367fd'/>
<rect x='1126.6' y='1405.7' width='32.0' height='30.9' fill='#4755f6'/>
<rect x='1158.0' y='1405.7' width='32.0' height='30.9' fill='#4367fd'/>
<rect x='1189.3' y='1405.7' width='32.0' height='30.9' fill='#347afd'/>
<rect x='1220.7' y='1405.7' width='32.0' height='30.9' fill='#347afd'/>
<rect x='687.5' y='1436.0' width='32.0' height='30.9' fill='#2e85f8'/>
<rect x='718.9' y='1436.0' width='32.0' height='30.9' fill='#2e85f8'/>
<rect x='750.3' y='1436.0' width='32.0' height='30.9' fill='#3b72ff'/>
<rect x='781.6' y='1436.0' width='32.0' height='30.9' fill='#484ef1'/>
<rect x='813.0' y='1436.0' width='32.0' height='30.9' fill='#463cde'/>
<rect x='844.4' y='1436.0' width='32.0' height='30.9' fill='#463cde'/>
<rect x='875.7' y='1436.0' width='32.0' height='30.9' fill='#259ce7'/>
<rect x='907.1' y='1436.0' width='32.0' height='30.9' fill='#2d8cf3'/>
<rect x='938.4' y='1436.0' width='32.0' height='30.9' fill='#347afd'/>
<rect x='969.8' y='1436.0' width='32.0' height='30.9' fill='#2d8cf3'/>
<rect x='1001.2' y='1436.0' width='32.0' height='30.9' fill='#259ce7'/>
<rect x='1032.5' y='1436.0' width='32.0' height='30.9' fill='#2d8cf3'/>
<rect x='1063.9' y='1436.0' width='32.0' height='30.9' fill='#347afd'/>
<rect x='1095.2' y='1436.0' width='32.0' height='30.9' fill='#4367fd'/>
<rect x='1126.6' y='1436.0' width='32.0' height='30.9' fill='#347afd'/>
<rect x='1158.0' y='1436.0' width='32.0' height='30.9' fill='#2d8cf3'/>
<rect x='1189.3' y='1436.0' width='32.0' height='30.9' fill='#2d8cf3'/>
<rect x='1220.7' y='1436.0' width='32.0' height='30.9' fill='#2d8cf3'/>
<rect x='687.5' y='1466.3' width='32.0' height='30.9' fill='#2e85f8'/>
<rect x='718.9' y='1466.3' width='32.0' height='30.9' fill='#2e85f8'/>
<rect x='750.3' y='1466.3' width='32.0' height='30.9' fill='#3b72ff'/>
<rect x='781.6' y='1466.3' width='32.0' height='30.9' fill='#484ef1'/>
<rect x='813.0' y='1466.3' width='32.0' height='30.9' fill='#463cde'/>
<rect x='844.4' y='1466.3' width='32.0' height='30.9' fill='#463cde'/>
<rect x='875.7' y='1466.3' width='32.0' height='30.9' fill='#259ce7'/>
<rect x='907.1' y='1466.3' width='32.0' height='30.9' fill='#2d8cf3'/>
<rect x='938.4' y='1466.3' width='32.0' height='30.9' fill='#347afd'/>
<rect x='969.8' y='1466.3' width='32.0' height='30.9' fill='#347afd'/>
<rect x='1001.2' y='1466.3' width='32.0' height='30.9' fill='#2d8cf3'/>
<rect x='1032.5' y='1466.3' width='32.0' height='30.9' fill='#347afd'/>
<rect x='1063.9' y='1466.3' width='32.0' height='30.9' fill='#347afd'/>
<rect x='1095.2' y='1466.3' width='32.0' height='30.9' fill='#347afd'/>
<rect x='1126.6' y='1466.3' width='32.0' height='30.9' fill='#347afd'/>
<rect x='1158.0' y='1466.3' width='32.0' height='30.9' fill='#347afd'/>
<rect x='1189.3' y='1466.3' width='32.0' height='30.9' fill='#347afd'/>
<rect x='1220.7' y='1466.3' width='32.0' height='30.9' fill='#347afd'/>
<rect x='687.5' y='1496.7' width='32.0' height='30.9' fill='#2e85f8'/>
<rect x='718.9' y='1496.7' width='32.0' height='30.9' fill='#2e85f8'/>
<rect x='750.3' y='1496.7' width='32.0' height='30.9' fill='#3b72ff'/>
<rect x='781.6' y='1496.7' width='32.0' height='30.9' fill='#484ef1'/>
<rect x='813.0' y='1496.7' width='32.0' height='30.9' fill='#422ebe'/>
<rect x='844.4' y='1496.7' width='32.0' height='30.9' fill='#463cde'/>
<rect x='875.7' y='1496.7' width='32.0' height='30.9' fill='#259ce7'/>
<rect x='907.1' y='1496.7' width='32.0' height='30.9' fill='#2d8cf3'/>
<rect x='938.4' y='1496.7' width='32.0' height='30.9' fill='#347afd'/>
<rect x='969.8' y='1496.7' width='32.0' height='30.9' fill='#347afd'/>
<rect x='1001.2' y='1496.7' width='32.0' height='30.9' fill='#347afd'/>
<rect x='1032.5' y='1496.7' width='32.0' height='30.9' fill='#2d8cf3'/>
<rect x='1063.9' y='1496.7' width='32.0' height='30.9' fill='#347afd'/>
<rect x='1095.2' y='1496.7' width='32.0' height='30.9' fill='#347afd'/>
<rect x='1126.6' y='1496.7' width='32.0' height='30.9' fill='#347afd'/>
<rect x='1158.0' y='1496.7' width='32.0' height='30.9' fill='#347afd'/>
<rect x='1189.3' y='1496.7' width='32.0' height='30.9' fill='#347afd'/>
<rect x='1220.7' y='1496.7' width='32.0' height='30.9' fill='#347afd'/>
<rect x='687.5' y='1527.0' width='32.0' height='30.9' fill='#2e85f8'/>
<rect x='718.9' y='1527.0' width='32.0' height='30.9' fill='#2e85f8'/>
<rect x='750.3' y='1527.0' width='32.0' height='30.9' fill='#2e85f8'/>
<rect x='781.6' y='1527.0' width='32.0' height='30.9' fill='#3b72ff'/>
<rect x='813.0' y='1527.0' width='32.0' height='30.9' fill='#465ffb'/>
<rect x='844.4' y='1527.0' width='32.0' height='30.9' fill='#484ef1'/>
<rect x='875.7' y='1527.0' width='32.0' height='30.9' fill='#2d8cf3'/>
<rect x='907.1' y='1527.0' width='32.0' height='30.9' fill='#347afd'/>
<rect x='938.4' y='1527.0' width='32.0' height='30.9' fill='#347afd'/>
<rect x='969.8' y='1527.0' width='32.0' height='30.9' fill='#347afd'/>
<rect x='1001.2' y='1527.0' width='32.0' height='30.9' fill='#347afd'/>
<rect x='1032.5' y='1527.0' width='32.0' height='30.9' fill='#347afd'/>
<rect x='1063.9' y='1527.0' width='32.0' height='30.9' fill='#347afd'/>
<rect x='1095.2' y='1527.0' width='32.0' height='30.9' fill='#4367fd'/>
<rect x='1126.6' y='1527.0' width='32.0' height='30.9' fill='#4367fd'/>
<rect x='1158.0' y='1527.0' width='32.0' height='30.9' fill='#4367fd'/>
<rect x='1189.3' y='1527.0' width='32.0' height='30.9' fill='#4367fd'/>
<rect x='1220.7' y='1527.0' width='32.0' height='30.9' fill='#4367fd'/>
<rect x='687.5' y='1557.3' width='32.0' height='30.9' fill='#2e85f8'/>
<rect x='718.9' y='1557.3' width='32.0' height='30.9' fill='#2e85f8'/>
<rect x='750.3' y='1557.3' width='32.0' height='30.9' fill='#2e85f8'/>
<rect x='781.6' y='1557.3' width='32.0' height='30.9' fill='#3b72ff'/>
<rect x='813.0' y='1557.3' width='32.0' height='30.9' fill='#465ffb'/>
<rect x='844.4' y='1557.3' width='32.0' height='30.9' fill='#465ffb'/>
<rect x='875.7' y='1557.3' width='32.0' height='30.9' fill='#2d8cf3'/>
<rect x='907.1' y='1557.3' width='32.0' height='30.9' fill='#347afd'/>
<rect x='938.4' y='1557.3' width='32.0' height='30.9' fill='#347afd'/>
<rect x='969.8' y='1557.3' width='32.0' height='30.9' fill='#347afd'/>
<rect x='1001.2' y='1557.3' width='32.0' height='30.9' fill='#347afd'/>
<rect x='1032.5' y='1557.3' width='32.0' height='30.9' fill='#2d8cf3'/>
<rect x='1063.9' y='1557.3' width='32.0' height='30.9' fill='#4367fd'/>
<rect x='1095.2' y='1557.3' width='32.0' height='30.9' fill='#4367fd'/>
<rect x='1126.6' y='1557.3' width='32.0' height='30.9' fill='#4367fd'/>
<rect x='1158.0' y='1557.3' width='32.0' height='30.9' fill='#4367fd'/>
<rect x='1189.3' y='1557.3' width='32.0' height='30.9' fill='#4367fd'/>
<rect x='1220.7' y='1557.3' width='32.0' height='30.9' fill='#4367fd'/>
<rect x='687.5' y='1587.6' width='32.0' height='30.9' fill='#2e85f8'/>
<rect x='718.9' y='1587.6' width='32.0' height='30.9' fill='#2e85f8'/>
<rect x='750.3' y='1587.6' width='32.0' height='30.9' fill='#2e85f8'/>
<rect x='781.6' y='1587.6' width='32.0' height='30.9' fill='#3b72ff'/>
<rect x='813.0' y='1587.6' width='32.0' height='30.9' fill='#465ffb'/>
<rect x='844.4' y='1587.6' width='32.0' height='30.9' fill='#463cde'/>
<rect x='875.7' y='1587.6' width='32.0' height='30.9' fill='#259ce7'/>
<rect x='907.1' y='1587.6' width='32.0' height='30.9' fill='#259ce7'/>
<rect x='938.4' y='1587.6' width='32.0' height='30.9' fill='#2d8cf3'/>
<rect x='969.8' y='1587.6' width='32.0' height='30.9' fill='#2d8cf3'/>
<rect x='1001.2' y='1587.6' width='32.0' height='30.9' fill='#2d8cf3'/>
<rect x='1032.5' y='1587.6' width='32.0' height='30.9' fill='#2d8cf3'/>
<rect x='1063.9' y='1587.6' width='32.0' height='30.9' fill='#2d8cf3'/>
<rect x='1095.2' y='1587.6' width='32.0' height='30.9' fill='#2d8cf3'/>
<rect x='1126.6' y='1587.6' width='32.0' height='30.9' fill='#347afd'/>
<rect x='1158.0' y='1587.6' width='32.0' height='30.9' fill='#347afd'/>
<rect x='1189.3' y='1587.6' width='32.0' height='30.9' fill='#2d8cf3'/>
<rect x='1220.7' y='1587.6' width='32.0' height='30.9' fill='#2d8cf3'/>
<rect x='687.5' y='1617.9' width='32.0' height='30.9' fill='#2e85f8'/>
<rect x='718.9' y='1617.9' width='32.0' height='30.9' fill='#2e85f8'/>
<rect x='750.3' y='1617.9' width='32.0' height='30.9' fill='#2e85f8'/>
<rect x='781.6' y='1617.9' width='32.0' height='30.9' fill='#3b72ff'/>
<rect x='813.0' y='1617.9' width='32.0' height='30.9' fill='#484ef1'/>
<rect x='844.4' y='1617.9' width='32.0' height='30.9' fill='#463cde'/>
<rect x='875.7' y='1617.9' width='32.0' height='30.9' fill='#259ce7'/>
<rect x='907.1' y='1617.9' width='32.0' height='30.9' fill='#259ce7'/>
<rect x='938.4' y='1617.9' width='32.0' height='30.9' fill='#2d8cf3'/>
<rect x='969.8' y='1617.9' width='32.0' height='30.9' fill='#2d8cf3'/>
<rect x='1001.2' y='1617.9' width='32.0' height='30.9' fill='#2d8cf3'/>
<rect x='1032.5' y='1617.9' width='32.0' height='30.9' fill='#347afd'/>
<rect x='1063.9' y='1617.9' width='32.0' height='30.9' fill='#2d8cf3'/>
<rect x='1095.2' y='1617.9' width='32.0' height='30.9' fill='#2d8cf3'/>
<rect x='1126.6' y='1617.9' width='32.0' height='30.9' fill='#347afd'/>
<rect x='1158.0' y='1617.9' width='32.0' height='30.9' fill='#347afd'/>
<rect x='1189.3' y='1617.9' width='32.0' height='30.9' fill='#347afd'/>
<rect x='1220.7' y='1617.9' width='32.0' height='30.9' fill='#347afd'/>
<rect x='687.5' y='1648.3' width='32.0' height='30.9' fill='#3b72ff'/>
<rect x='718.9' y='1648.3' width='32.0' height='30.9' fill='#3b72ff'/>
<rect x='750.3' y='1648.3' width='32.0' height='30.9' fill='#2e85f8'/>
<rect x='781.6' y='1648.3' width='32.0' height='30.9' fill='#3b72ff'/>
<rect x='813.0' y='1648.3' width='32.0' height='30.9' fill='#484ef1'/>
<rect x='844.4' y='1648.3' width='32.0' height='30.9' fill='#465ffb'/>
<rect x='875.7' y='1648.3' width='32.0' height='30.9' fill='#259ce7'/>
<rect x='907.1' y='1648.3' width='32.0' height='30.9' fill='#2d8cf3'/>
<rect x='938.4' y='1648.3' width='32.0' height='30.9' fill='#2d8cf3'/>
<rect x='969.8' y='1648.3' width='32.0' height='30.9' fill='#2d8cf3'/>
<rect x='1001.2' y='1648.3' width='32.0' height='30.9' fill='#347afd'/>
<rect x='1032.5' y='1648.3' width='32.0' height='30.9' fill='#347afd'/>
<rect x='1063.9' y='1648.3' width='32.0' height='30.9' fill='#2d8cf3'/>
<rect x='1095.2' y='1648.3' width='32.0' height='30.9' fill='#347afd'/>
<rect x='1126.6' y='1648.3' width='32.0' height='30.9' fill='#347afd'/>
<rect x='1158.0' y='1648.3' width='32.0' height='30.9' fill='#347afd'/>
<rect x='1189.3' y='1648.3' width='32.0' height='30.9' fill='#347afd'/>
<rect x='1220.7' y='1648.3' width='32.0' height='30.9' fill='#347afd'/>
<rect x='687.5' y='1678.6' width='32.0' height='30.9' fill='#3b72ff'/>
<rect x='718.9' y='1678.6' width='32.0' height='30.9' fill='#3b72ff'/>
<rect x='750.3' y='1678.6' width='32.0' height='30.9' fill='#2e85f8'/>
<rect x='781.6' y='1678.6' width='32.0' height='30.9' fill='#3b72ff'/>
<rect x='813.0' y='1678.6' width='32.0' height='30.9' fill='#484ef1'/>
<rect x='844.4' y='1678.6' width='32.0' height='30.9' fill='#465ffb'/>
<rect x='875.7' y='1678.6' width='32.0' height='30.9' fill='#259ce7'/>
<rect x='907.1' y='1678.6' width='32.0' height='30.9' fill='#2d8cf3'/>
<rect x='938.4' y='1678.6' width='32.0' height='30.9' fill='#2d8cf3'/>
<rect x='969.8' y='1678.6' width='32.0' height='30.9' fill='#2d8cf3'/>
<rect x='1001.2' y='1678.6' width='32.0' height='30.9' fill='#347afd'/>
<rect x='1032.5' y='1678.6' width='32.0' height='30.9' fill='#347afd'/>
<rect x='1063.9' y='1678.6' width='32.0' height='30.9' fill='#2d8cf3'/>
<rect x='1095.2' y='1678.6' width='32.0' height='30.9' fill='#347afd'/>
<rect x='1126.6' y='1678.6' width='32.0' height='30.9' fill='#347afd'/>
<rect x='1158.0' y='1678.6' width='32.0' height='30.9' fill='#347afd'/>
<rect x='1189.3' y='1678.6' width='32.0' height='30.9' fill='#347afd'/>
<rect x='1220.7' y='1678.6' width='32.0' height='30.9' fill='#347afd'/>
</g>
<path d='M743 1210h4v4h-4zM812 1221h6v4h-6zM923 1199h4v6h-4zM930 1191h4v7h-4zM961 1203h6v5h-6zM951 1197h5v6h-5zM1015 1213h5v4h-5zM1040 1207h4v4h-4zM1099 1211h7v4h-7zM1185 1210h5v5h-5zM739 1242h5v5h-5zM768 1232h6v4h-6zM802 1235h6v4h-6zM831 1227h5v6h-5zM869 1245h6v4h-6zM847 1249h7v5h-7zM925 1229h4v4h-4zM909 1250h6v4h-6zM955 1236h5v5h-5zM980 1235h4v6h-4zM1008 1233h5v6h-5zM1035 1228h5v6h-5zM1063 1235h4v6h-4zM1136 1229h6v6h-6zM1152 1237h4v7h-4zM1178 1235h4v7h-4zM756 1268h4v7h-4zM790 1271h5v5h-5zM833 1263h5v6h-5zM812 1260h7v4h-7zM858 1278h4v5h-4zM973 1267h5v7h-5zM981 1266h7v6h-7zM1020 1260h5v6h-5zM1006 1265h4v5h-4zM1133 1268h6v7h-6zM751 1295h6v6h-6zM794 1301h7v6h-7zM796 1284h5v5h-5zM838 1304h7v6h-7zM963 1306h7v4h-7zM938 1310h5v6h-5zM994 1308h6v5h-6zM975 1298h6v7h-6zM1128 1298h4v6h-4zM733 1331h6v7h-6zM744 1334h5v5h-5zM768 1313h6v5h-6zM766 1331h6v5h-6zM791 1339h6v5h-6zM830 1334h5v4h-5zM899 1338h5v5h-5zM936 1325h6v5h-6zM971 1339h6v6h-6zM973 1325h6v5h-6zM1020 1318h6v6h-6zM1031 1333h6v5h-6zM1051 1339h5v6h-5zM1068 1322h6v6h-6zM730 1354h5v5h-5zM724 1366h6v4h-6zM746 1357h6v5h-6zM792 1353h5v7h-5zM791 1360h6v6h-6zM873 1366h4v6h-4zM848 1347h4v6h-4zM848 1346h6v4h-6zM921 1344h7v6h-7zM939 1358h5v7h-5zM936 1360h7v5h-7zM943 1346h5v4h-5zM984 1363h5v6h-5zM1021 1346h7v6h-7zM1050 1343h7v4h-7zM1162 1356h7v4h-7zM1194 1357h6v7h-6zM923 1387h5v6h-5zM944 1386h6v5h-6zM945 1377h4v5h-4zM993 1398h7v6h-7zM1029 1401h5v7h-5zM1037 1379h4v6h-4zM808 1418h6v5h-6zM831 1432h5v4h-5zM824 1403h5v5h-5zM825 1426h7v7h-7zM861 1430h7v6h-7zM847 1426h6v6h-6zM849 1416h5v5h-5zM914 1421h6v4h-6zM725 1440h5v4h-5zM795 1452h4v5h-4zM799 1443h6v4h-6zM796 1447h4v5h-4zM839 1460h6v4h-6zM1177 1451h5v7h-5zM1209 1443h5v6h-5zM761 1486h4v7h-4zM761 1479h6v4h-6zM761 1467h5v5h-5zM793 1480h6v4h-6zM810 1483h6v5h-6zM850 1466h5v5h-5zM924 1465h6v7h-6zM939 1476h6v7h-6zM1074 1484h6v6h-6zM1082 1480h6v5h-6zM1163 1474h7v5h-7zM1185 1464h4v7h-4zM732 1499h7v5h-7zM758 1497h5v4h-5zM850 1495h6v7h-6zM860 1511h6v6h-6zM935 1516h6v5h-6zM927 1514h4v6h-4zM926 1500h6v5h-6zM940 1510h7v6h-7zM1090 1506h5v7h-5zM1184 1510h5v5h-5zM746 1531h5v7h-5zM725 1525h5v7h-5zM802 1552h7v4h-7zM794 1536h5v4h-5zM830 1534h5v7h-5zM817 1537h6v7h-6zM855 1537h4v6h-4zM953 1527h7v5h-7zM958 1549h7v5h-7zM1042 1535h6v7h-6zM1106 1542h6v5h-6zM1167 1544h6v7h-6zM1193 1544h4v6h-4zM731 1580h7v6h-7zM781 1578h5v6h-5zM836 1558h5v5h-5zM864 1571h4v6h-4zM918 1581h6v6h-6zM998 1572h5v6h-5zM1007 1580h4v4h-4zM1017 1573h4v6h-4zM1038 1565h5v7h-5zM1069 1569h7v7h-7zM1127 1582h6v5h-6zM1182 1555h6v7h-6zM1216 1575h6v5h-6zM1198 1575h6v5h-6zM808 1600h7v5h-7zM801 1589h4v6h-4zM828 1597h5v6h-5zM870 1590h6v4h-6zM865 1614h6v4h-6zM899 1589h5v5h-5zM873 1601h7v4h-7zM875 1600h5v7h-5zM988 1608h6v6h-6zM1015 1612h6v6h-6zM1078 1603h4v5h-4zM1117 1609h6v6h-6zM1127 1590h7v7h-7zM722 1637h7v4h-7zM749 1626h6v5h-6zM826 1639h5v5h-5zM816 1618h7v5h-7zM825 1640h5v5h-5zM857 1628h5v5h-5zM935 1636h6v5h-6zM906 1637h5v6h-5zM906 1620h7v6h-7zM966 1643h6v5h-6zM943 1637h6v4h-6zM944 1621h4v5h-4zM1048 1633h6v6h-6zM1066 1622h6v4h-6zM1069 1634h5v7h-5zM1104 1628h5v7h-5zM1098 1619h6v4h-6zM1159 1619h4v6h-4zM1183 1616h5v6h-5zM852 1666h6v5h-6zM877 1661h6v4h-6zM928 1673h4v5h-4zM981 1666h4v7h-4zM1051 1646h5v7h-5zM1110 1666h7v6h-7zM1215 1656h5v5h-5zM1207 1663h5v4h-5z' fill='#465efb'/>
<path d='M724 1195h5v4h-5zM738 1218h6v6h-6zM775 1205h6v6h-6zM769 1197h5v6h-5zM777 1196h4v6h-4zM823 1214h7v5h-7zM815 1219h4v5h-4zM817 1201h6v5h-6zM849 1200h6v4h-6zM859 1203h6v5h-6zM848 1194h4v7h-4zM884 1211h4v5h-4zM883 1196h6v6h-6zM896 1191h7v5h-7zM899 1216h6v7h-6zM919 1199h6v5h-6zM912 1205h6v7h-6zM920 1193h4v6h-4zM947 1216h6v5h-6zM940 1201h7v6h-7zM947 1216h7v6h-7zM936 1215h6v4h-6zM984 1193h4v5h-4zM1030 1196h5v6h-5zM1009 1193h6v5h-6zM1042 1211h6v5h-6zM1043 1205h5v6h-5zM1034 1219h5v6h-5zM1067 1195h6v5h-6zM1122 1203h6v5h-6zM1109 1196h6v6h-6zM1130 1219h6v6h-6zM1129 1199h6v7h-6zM1139 1217h5v5h-5zM1151 1194h7v5h-7zM1160 1194h6v6h-6zM1206 1212h4v5h-4zM720 1242h5v7h-5zM736 1229h5v5h-5zM731 1224h6v6h-6zM792 1238h7v5h-7zM789 1249h6v7h-6zM840 1230h7v6h-7zM819 1246h5v5h-5zM833 1221h7v7h-7zM837 1231h5v4h-5zM822 1232h5v5h-5zM843 1247h6v7h-6zM870 1237h4v7h-4zM862 1240h5v6h-5zM897 1240h7v5h-7zM873 1250h6v5h-6zM880 1240h5v6h-5zM886 1250h6v6h-6zM914 1241h5v4h-5zM911 1243h5v4h-5zM951 1250h5v6h-5zM950 1237h5v6h-5zM949 1240h5v6h-5zM945 1237h5v5h-5zM989 1226h6v4h-6zM986 1234h7v7h-7zM970 1234h4v6h-4zM1025 1239h7v5h-7zM1026 1233h6v4h-6zM1001 1248h5v7h-5zM1007 1240h5v6h-5zM1000 1229h5v4h-5zM1043 1244h5v4h-5zM1047 1225h4v4h-4zM1058 1242h6v7h-6zM1037 1228h4v5h-4zM1100 1225h5v7h-5zM1130 1241h5v5h-5zM1142 1231h6v7h-6zM1197 1231h4v5h-4zM1208 1245h4v4h-4zM720 1258h5v4h-5zM743 1264h6v7h-6zM747 1258h5v5h-5zM762 1252h5v6h-5zM751 1255h4v6h-4zM781 1267h5v5h-5zM800 1256h6v5h-6zM822 1280h5v5h-5zM812 1264h4v4h-4zM869 1260h6v6h-6zM846 1273h5v6h-5zM849 1262h7v5h-7zM887 1261h6v5h-6zM893 1260h6v7h-6zM895 1274h6v5h-6zM882 1276h7v5h-7zM903 1271h6v7h-6zM885 1282h5v4h-5zM909 1270h5v6h-5zM918 1261h5v6h-5zM914 1254h5v4h-5zM961 1252h4v7h-4zM967 1260h4v5h-4zM955 1275h4v6h-4zM989 1278h6v5h-6zM1023 1264h7v6h-7zM1013 1264h5v6h-5zM1014 1272h5v7h-5zM1144 1266h5v6h-5zM1131 1265h4v6h-4zM1173 1260h6v6h-6zM1165 1268h6v6h-6zM1180 1260h5v4h-5zM1195 1262h6v6h-6zM1190 1262h7v5h-7zM1199 1273h6v6h-6zM1210 1270h6v7h-6zM1192 1254h6v5h-6zM718 1306h5v6h-5zM721 1285h5v6h-5zM724 1287h6v4h-6zM771 1302h6v6h-6zM768 1293h6v6h-6zM758 1294h6v5h-6zM782 1297h6v5h-6zM807 1309h7v6h-7zM823 1286h5v7h-5zM828 1285h7v6h-7zM815 1292h4v7h-4zM819 1282h6v6h-6zM851 1310h7v5h-7zM862 1299h4v6h-4zM867 1308h5v6h-5zM881 1285h6v5h-6zM895 1286h6v7h-6zM923 1290h6v5h-6zM910 1284h5v5h-5zM922 1308h6v6h-6zM918 1283h5v6h-5zM950 1309h5v5h-5zM995 1284h6v6h-6zM999 1302h6v7h-6zM1000 1312h6v5h-6zM1029 1294h4v6h-4zM1109 1309h6v5h-6zM1147 1299h5v6h-5zM1159 1305h6v7h-6zM1185 1309h4v7h-4zM1186 1305h5v5h-5zM1213 1290h5v5h-5zM731 1339h5v5h-5zM723 1326h6v5h-6zM745 1325h6v5h-6zM750 1317h5v6h-5zM776 1313h6v6h-6zM779 1331h5v6h-5zM770 1339h6v4h-6zM766 1329h5v4h-5zM791 1340h5v5h-5zM786 1329h5v5h-5zM799 1334h7v5h-7zM783 1339h5v7h-5zM782 1324h5v7h-5zM799 1331h4v5h-4zM824 1313h5v6h-5zM839 1318h5v7h-5zM811 1325h7v6h-7zM856 1331h5v5h-5zM867 1337h5v7h-5zM861 1338h6v5h-6zM856 1319h4v5h-4zM884 1334h5v6h-5zM898 1342h7v5h-7zM903 1317h5v6h-5zM923 1322h4v6h-4zM925 1331h5v7h-5zM910 1317h5v4h-5zM953 1326h6v4h-6zM944 1326h6v5h-6zM995 1334h6v4h-6zM981 1316h5v6h-5zM983 1320h5v4h-5zM1011 1312h7v6h-7zM1012 1316h6v5h-6zM1015 1337h5v6h-5zM1019 1332h7v7h-7zM1049 1330h6v4h-6zM1049 1334h6v6h-6zM1057 1330h6v7h-6zM1054 1313h6v4h-6zM1071 1318h6v6h-6zM1092 1337h5v6h-5zM1184 1321h6v6h-6zM1202 1312h6v7h-6zM766 1347h6v5h-6zM758 1356h6v5h-6zM770 1355h6v4h-6zM777 1353h7v5h-7zM793 1356h7v4h-7zM781 1346h6v6h-6zM807 1361h6v6h-6zM791 1346h6v6h-6zM800 1355h7v5h-7zM815 1368h5v7h-5zM811 1345h5v6h-5zM837 1361h6v7h-6zM854 1358h7v6h-7zM879 1354h6v6h-6zM883 1353h5v5h-5zM899 1361h6v5h-6zM899 1366h5v6h-5zM922 1370h7v7h-7zM921 1356h4v6h-4zM930 1363h4v4h-4zM953 1362h6v6h-6zM941 1347h5v6h-5zM964 1371h6v5h-6zM976 1349h6v6h-6zM980 1362h4v4h-4zM1025 1360h5v7h-5zM1025 1369h6v6h-6zM1028 1356h5v4h-5zM1020 1366h5v5h-5zM1039 1344h5v6h-5zM1033 1349h7v4h-7zM1037 1368h6v6h-6zM1039 1345h5v4h-5zM1050 1348h5v6h-5zM1077 1354h4v5h-4zM1081 1347h7v4h-7zM1071 1343h7v5h-7zM1064 1368h6v7h-6zM1173 1371h6v4h-6zM1177 1360h6v4h-6zM1211 1352h5v6h-5zM1197 1362h6v4h-6zM1205 1347h6v5h-6zM740 1377h6v5h-6zM744 1398h4v7h-4zM746 1399h5v5h-5zM744 1400h6v4h-6zM728 1379h5v6h-5zM744 1383h6v4h-6zM728 1376h5v4h-5zM772 1390h7v5h-7zM758 1399h6v6h-6zM755 1389h6v4h-6zM748 1389h5v6h-5zM748 1383h4v4h-4zM795 1382h7v6h-7zM779 1379h5v5h-5zM795 1393h5v7h-5zM808 1386h6v4h-6zM794 1401h4v6h-4zM803 1387h6v6h-6zM838 1377h5v5h-5zM841 1396h4v6h-4zM814 1376h6v5h-6zM836 1379h7v6h-7zM827 1384h5v5h-5zM847 1382h6v6h-6zM891 1391h7v5h-7zM922 1400h7v5h-7zM910 1403h6v4h-6zM942 1392h4v4h-4zM960 1401h6v6h-6zM955 1398h7v5h-7zM947 1376h6v5h-6zM940 1375h5v5h-5zM983 1394h6v4h-6zM993 1377h5v6h-5zM989 1393h6v5h-6zM997 1378h6v7h-6zM1078 1390h7v6h-7zM1207 1402h5v4h-5zM722 1414h7v7h-7zM742 1410h7v5h-7zM776 1426h5v4h-5zM769 1406h5v6h-5zM773 1430h5v5h-5zM775 1425h7v7h-7zM770 1430h6v4h-6zM766 1407h5v6h-5zM792 1410h6v6h-6zM807 1415h6v5h-6zM803 1403h5v5h-5zM795 1418h6v6h-6zM803 1404h5v4h-5zM782 1416h5v5h-5zM799 1407h6v6h-6zM784 1405h5v6h-5zM810 1430h4v4h-4zM817 1405h7v7h-7zM838 1415h4v5h-4zM815 1404h6v7h-6zM831 1418h5v5h-5zM816 1432h6v6h-6zM858 1404h6v6h-6zM856 1428h4v6h-4zM859 1427h6v6h-6zM871 1403h6v6h-6zM888 1415h4v6h-4zM880 1418h5v5h-5zM887 1410h5v4h-5zM906 1430h6v7h-6zM945 1426h7v5h-7zM957 1424h6v7h-6zM961 1404h5v6h-5zM962 1427h5v7h-5zM946 1421h6v5h-6zM956 1424h6v6h-6zM943 1429h5v6h-5zM996 1405h6v5h-6zM987 1407h6v6h-6zM968 1408h4v5h-4zM988 1413h4v7h-4zM1022 1411h5v7h-5zM1021 1432h5v7h-5zM998 1408h6v5h-6zM1041 1407h7v4h-7zM1099 1410h5v4h-5zM1170 1405h7v7h-7zM1157 1409h6v5h-6zM744 1451h6v5h-6zM727 1457h6v5h-6zM733 1433h5v7h-5zM765 1461h6v6h-6zM809 1450h5v6h-5zM797 1437h4v5h-4zM788 1436h4v7h-4zM781 1454h5v4h-5zM830 1446h5v6h-5zM815 1440h6v4h-6zM832 1433h6v7h-6zM838 1436h5v4h-5zM838 1436h7v7h-7zM836 1461h6v4h-6zM814 1443h6v6h-6zM833 1443h7v5h-7zM856 1440h7v5h-7zM855 1446h4v6h-4zM931 1464h5v4h-5zM929 1446h7v6h-7zM925 1446h5v7h-5zM961 1452h6v6h-6zM937 1456h5v5h-5zM949 1446h7v7h-7zM1010 1446h5v6h-5zM1018 1437h5v5h-5zM1059 1450h6v7h-6zM1076 1439h4v5h-4zM1121 1445h7v6h-7zM1124 1441h4v6h-4zM718 1491h6v5h-6zM742 1490h5v6h-5zM774 1491h6v7h-6zM775 1472h6v5h-6zM806 1482h6v5h-6zM779 1483h5v5h-5zM805 1491h5v5h-5zM790 1494h4v5h-4zM784 1476h5v5h-5zM796 1490h5v6h-5zM825 1467h4v6h-4zM840 1479h6v5h-6zM829 1467h4v6h-4zM814 1491h6v6h-6zM855 1475h4v6h-4zM874 1478h4v6h-4zM927 1476h6v4h-6zM912 1493h7v7h-7zM910 1479h6v7h-6zM917 1490h5v6h-5zM950 1481h7v6h-7zM942 1473h6v5h-6zM964 1469h5v6h-5zM1023 1485h6v5h-6zM1060 1485h5v4h-5zM1037 1490h4v4h-4zM1054 1474h6v4h-6zM1077 1478h4v4h-4zM1077 1475h7v5h-7zM1203 1493h7v7h-7zM1202 1489h7v5h-7zM742 1503h5v5h-5zM729 1503h7v4h-7zM755 1512h6v7h-6zM762 1497h4v6h-4zM776 1508h4v4h-4zM776 1515h4v7h-4zM750 1500h6v6h-6zM788 1513h6v6h-6zM804 1503h6v7h-6zM785 1497h5v5h-5zM805 1514h5v5h-5zM810 1519h4v5h-4zM824 1524h4v5h-4zM836 1516h6v5h-6zM830 1506h5v4h-5zM841 1501h7v4h-7zM835 1497h7v4h-7zM820 1523h6v5h-6zM849 1522h5v4h-5zM870 1512h6v6h-6zM891 1519h5v4h-5zM883 1503h5v5h-5zM928 1499h5v7h-5zM920 1511h4v4h-4zM927 1505h5v6h-5zM925 1517h6v6h-6zM908 1501h4v5h-4zM958 1495h4v5h-4zM984 1517h5v6h-5zM999 1495h4v5h-4zM983 1509h7v5h-7zM1029 1514h6v7h-6zM1017 1498h6v7h-6zM1049 1511h5v6h-5zM1042 1518h7v6h-7zM1087 1504h5v5h-5zM1120 1505h6v7h-6zM1101 1505h7v5h-7zM1161 1503h6v5h-6zM1187 1518h4v4h-4zM1192 1498h6v6h-6zM750 1545h7v4h-7zM749 1553h4v7h-4zM752 1525h6v6h-6zM753 1527h7v6h-7zM790 1543h6v5h-6zM781 1527h6v4h-6zM810 1528h5v7h-5zM825 1549h6v6h-6zM830 1551h6v4h-6zM836 1540h4v5h-4zM832 1543h5v6h-5zM861 1531h4v5h-4zM847 1540h6v7h-6zM858 1552h6v6h-6zM855 1531h5v5h-5zM853 1554h4v5h-4zM851 1536h5v4h-5zM877 1535h6v5h-6zM877 1542h6v6h-6zM911 1548h6v4h-6zM909 1548h6v7h-6zM907 1548h4v6h-4zM951 1537h7v5h-7zM941 1525h6v5h-6zM963 1546h6v4h-6zM968 1552h4v4h-4zM986 1527h4v5h-4zM1011 1537h7v4h-7zM1011 1550h5v6h-5zM1054 1547h6v6h-6zM1051 1553h6v5h-6zM1079 1539h4v6h-4zM1091 1537h4v5h-4zM1177 1528h6v7h-6zM725 1570h7v6h-7zM753 1563h7v4h-7zM769 1555h6v6h-6zM791 1557h5v6h-5zM809 1570h6v6h-6zM805 1567h7v6h-7zM801 1578h6v7h-6zM827 1577h7v6h-7zM831 1585h6v4h-6zM840 1562h6v4h-6zM818 1573h6v6h-6zM860 1562h7v5h-7zM853 1574h7v5h-7zM870 1583h4v6h-4zM888 1558h5v6h-5zM899 1575h7v5h-7zM888 1578h6v6h-6zM909 1575h6v5h-6zM931 1556h7v6h-7zM923 1580h5v4h-5zM931 1560h4v5h-4zM957 1555h7v7h-7zM967 1579h6v7h-6zM959 1567h4v5h-4zM946 1572h7v6h-7zM948 1570h4v5h-4zM986 1560h5v5h-5zM990 1563h4v6h-4zM1004 1563h6v4h-6zM1042 1559h6v6h-6zM1042 1564h5v6h-5zM1061 1561h5v7h-5zM1041 1564h7v4h-7zM1062 1563h6v6h-6zM1080 1581h6v4h-6zM1063 1582h7v4h-7zM1116 1568h7v6h-7zM1102 1571h6v5h-6zM1124 1582h5v6h-5zM1181 1581h4v6h-4zM1161 1570h4v7h-4zM1191 1577h5v6h-5zM744 1587h4v6h-4zM736 1598h6v4h-6zM733 1594h5v6h-5zM728 1595h7v7h-7zM755 1586h4v6h-4zM798 1610h7v6h-7zM802 1607h7v6h-7zM781 1600h6v4h-6zM822 1615h6v5h-6zM834 1605h5v6h-5zM830 1595h7v6h-7zM872 1602h4v6h-4zM849 1599h7v5h-7zM844 1605h7v6h-7zM857 1591h5v6h-5zM885 1596h4v5h-4zM896 1595h5v6h-5zM881 1608h5v5h-5zM903 1589h6v4h-6zM887 1606h6v5h-6zM909 1608h5v7h-5zM932 1592h4v6h-4zM964 1588h6v7h-6zM951 1588h6v6h-6zM961 1589h5v6h-5zM942 1594h6v6h-6zM936 1605h5v5h-5zM940 1598h6v4h-6zM1023 1593h6v7h-6zM1024 1603h4v5h-4zM1051 1588h4v4h-4zM1049 1604h6v5h-6zM1036 1612h6v6h-6zM1084 1592h4v5h-4zM1089 1603h6v4h-6zM1071 1587h6v5h-6zM1066 1614h4v5h-4zM1117 1601h5v5h-5zM1107 1586h7v4h-7zM1097 1591h7v6h-7zM1096 1592h4v5h-4zM1113 1591h5v5h-5zM1115 1607h5v6h-5zM1128 1607h6v5h-6zM1162 1612h4v5h-4zM1192 1611h6v6h-6zM1202 1595h5v6h-5zM1215 1586h6v5h-6zM738 1637h5v4h-5zM721 1628h7v4h-7zM725 1644h5v5h-5zM759 1621h6v6h-6zM761 1618h6v4h-6zM763 1624h5v4h-5zM777 1617h5v6h-5zM766 1636h6v4h-6zM784 1633h5v5h-5zM784 1618h5v5h-5zM792 1645h5v5h-5zM796 1631h5v6h-5zM838 1637h4v5h-4zM839 1634h5v5h-5zM811 1627h7v5h-7zM812 1624h5v4h-5zM839 1625h5v6h-5zM812 1629h6v6h-6zM828 1618h6v7h-6zM850 1632h6v6h-6zM857 1631h4v7h-4zM850 1641h5v6h-5zM881 1643h5v5h-5zM896 1638h6v6h-6zM919 1616h5v7h-5zM912 1622h4v5h-4zM927 1620h6v4h-6zM963 1630h4v6h-4zM944 1632h6v5h-6zM946 1621h7v5h-7zM998 1632h5v6h-5zM998 1629h5v7h-5zM968 1642h5v5h-5zM1026 1621h7v5h-7zM1006 1639h4v6h-4zM1022 1631h5v6h-5zM1008 1634h6v5h-6zM1042 1634h5v7h-5zM1083 1627h5v5h-5zM1071 1623h6v7h-6zM1080 1627h6v5h-6zM1116 1619h5v6h-5zM1136 1636h4v4h-4zM1127 1641h6v4h-6zM1166 1624h5v6h-5zM1167 1627h6v4h-6zM1184 1619h6v4h-6zM1161 1619h6v5h-6zM1205 1621h6v5h-6zM1203 1621h6v5h-6zM1187 1625h6v4h-6zM746 1667h4v4h-4zM719 1670h5v5h-5zM728 1650h6v7h-6zM722 1668h7v4h-7zM732 1664h5v4h-5zM761 1671h6v5h-6zM764 1667h5v6h-5zM771 1660h5v4h-5zM757 1674h5v5h-5zM757 1646h6v6h-6zM810 1675h5v5h-5zM807 1669h5v6h-5zM791 1649h6v5h-6zM790 1657h5v4h-5zM791 1653h6v6h-6zM821 1672h4v4h-4zM836 1658h5v7h-5zM818 1646h6v6h-6zM816 1673h6v5h-6zM816 1664h4v5h-4zM811 1653h5v5h-5zM843 1675h7v5h-7zM866 1671h4v5h-4zM845 1670h4v6h-4zM872 1667h5v6h-5zM854 1659h7v5h-7zM879 1657h5v6h-5zM884 1665h6v5h-6zM894 1646h6v6h-6zM892 1655h5v7h-5zM956 1664h6v4h-6zM951 1649h4v7h-4zM953 1655h6v4h-6zM944 1656h6v5h-6zM944 1660h7v6h-7zM993 1659h6v4h-6zM991 1652h7v6h-7zM1007 1650h4v5h-4zM1044 1651h5v5h-5zM1053 1646h4v6h-4zM1050 1671h6v5h-6zM1050 1673h6v6h-6zM1037 1658h6v6h-6zM1067 1649h6v5h-6zM1117 1673h6v6h-6zM1103 1654h5v6h-5zM1131 1672h5v7h-5zM1152 1667h6v4h-6zM1184 1656h5v4h-5zM1179 1676h6v5h-6zM1180 1652h5v5h-5zM1215 1659h5v5h-5zM1197 1665h4v6h-4z' fill='#4367fd'/>
<path d='M740 1215h4v5h-4zM729 1206h6v6h-6zM717 1198h7v5h-7zM752 1206h6v6h-6zM751 1207h7v6h-7zM784 1218h6v7h-6zM809 1195h5v5h-5zM780 1202h5v6h-5zM791 1217h5v7h-5zM812 1215h6v5h-6zM868 1219h7v6h-7zM879 1192h5v4h-5zM904 1216h6v5h-6zM896 1201h4v6h-4zM908 1194h5v5h-5zM954 1202h6v5h-6zM947 1221h6v5h-6zM991 1215h7v6h-7zM995 1218h5v4h-5zM975 1198h6v6h-6zM987 1204h6v6h-6zM1020 1205h6v7h-6zM1031 1194h7v6h-7zM1059 1197h5v6h-5zM1067 1199h5v6h-5zM1087 1218h5v5h-5zM1115 1193h4v6h-4zM1105 1220h4v5h-4zM1109 1202h5v6h-5zM1126 1212h5v6h-5zM1173 1210h5v7h-5zM1182 1203h5v5h-5zM1176 1207h4v4h-4zM1162 1198h5v5h-5zM1215 1213h7v6h-7zM1191 1194h4v6h-4zM747 1231h5v6h-5zM737 1226h5v7h-5zM728 1247h6v6h-6zM743 1246h7v4h-7zM772 1246h6v6h-6zM767 1244h4v6h-4zM766 1231h4v6h-4zM760 1230h6v4h-6zM752 1223h6v5h-6zM797 1249h5v4h-5zM796 1243h6v7h-6zM781 1250h6v4h-6zM797 1232h6v6h-6zM798 1238h6v7h-6zM791 1247h6v5h-6zM812 1245h7v4h-7zM851 1226h7v6h-7zM842 1238h5v7h-5zM858 1244h6v6h-6zM896 1237h7v6h-7zM895 1233h6v6h-6zM879 1226h7v5h-7zM909 1239h4v5h-4zM930 1235h5v5h-5zM914 1245h4v5h-4zM913 1230h4v6h-4zM941 1225h7v4h-7zM954 1235h7v5h-7zM958 1230h7v6h-7zM980 1227h6v6h-6zM994 1235h7v6h-7zM976 1244h5v7h-5zM989 1248h5v4h-5zM1007 1242h5v7h-5zM1000 1233h5v5h-5zM1058 1248h4v5h-4zM1053 1237h6v6h-6zM1036 1231h6v5h-6zM1092 1236h5v4h-5zM1080 1238h4v5h-4zM1062 1243h4v7h-4zM1091 1236h5v5h-5zM1093 1250h5v7h-5zM1105 1241h4v4h-4zM1144 1240h7v6h-7zM1178 1229h6v5h-6zM1182 1233h5v5h-5zM1178 1240h7v5h-7zM1209 1236h5v4h-5zM1188 1248h5v5h-5zM769 1256h6v7h-6zM788 1261h6v6h-6zM801 1262h7v6h-7zM783 1273h4v5h-4zM799 1261h4v7h-4zM779 1274h6v5h-6zM818 1270h5v7h-5zM812 1275h4v6h-4zM819 1269h5v6h-5zM825 1253h5v7h-5zM831 1282h5v4h-5zM868 1279h6v5h-6zM851 1280h5v5h-5zM865 1261h7v6h-7zM842 1267h7v7h-7zM867 1252h7v6h-7zM900 1273h7v5h-7zM874 1273h6v5h-6zM884 1261h6v6h-6zM930 1273h7v5h-7zM913 1259h6v6h-6zM934 1277h6v4h-6zM966 1258h6v4h-6zM954 1281h6v5h-6zM967 1260h5v6h-5zM961 1253h5v6h-5zM994 1279h4v6h-4zM985 1279h7v5h-7zM1097 1278h7v5h-7zM1142 1254h6v6h-6zM1184 1281h7v5h-7zM1188 1276h6v4h-6zM1191 1279h5v6h-5zM739 1309h4v5h-4zM749 1285h6v5h-6zM780 1301h4v6h-4zM805 1287h5v5h-5zM787 1289h5v5h-5zM828 1283h6v5h-6zM822 1299h7v5h-7zM859 1305h4v7h-4zM844 1299h6v5h-6zM857 1281h6v7h-6zM891 1302h4v5h-4zM888 1304h5v4h-5zM886 1303h5v6h-5zM880 1312h5v5h-5zM932 1288h6v6h-6zM946 1296h4v6h-4zM952 1298h5v6h-5zM955 1306h6v6h-6zM953 1287h5v5h-5zM970 1290h4v4h-4zM988 1288h6v4h-6zM978 1284h5v6h-5zM1025 1306h5v5h-5zM1016 1292h5v5h-5zM1006 1281h6v7h-6zM1095 1286h5v4h-5zM1183 1299h6v7h-6zM1156 1305h6v6h-6zM1203 1299h6v5h-6zM725 1326h6v7h-6zM718 1315h6v4h-6zM729 1317h6v6h-6zM748 1317h7v5h-7zM759 1312h6v5h-6zM777 1316h6v4h-6zM779 1324h6v7h-6zM788 1313h6v6h-6zM781 1334h5v7h-5zM787 1335h6v4h-6zM812 1331h6v5h-6zM836 1319h4v4h-4zM822 1323h6v7h-6zM833 1342h4v5h-4zM841 1329h5v6h-5zM835 1334h4v5h-4zM815 1338h4v5h-4zM855 1323h5v5h-5zM858 1339h5v7h-5zM860 1332h6v5h-6zM904 1319h4v4h-4zM906 1336h4v6h-4zM936 1316h4v7h-4zM913 1324h6v6h-6zM922 1335h4v5h-4zM962 1340h6v7h-6zM943 1325h5v7h-5zM940 1342h6v4h-6zM987 1314h4v6h-4zM986 1339h7v7h-7zM1004 1341h7v6h-7zM1021 1338h5v6h-5zM1010 1313h5v6h-5zM1005 1325h6v6h-6zM1017 1336h6v7h-6zM1032 1330h5v6h-5zM1039 1326h6v6h-6zM1059 1317h6v6h-6zM1085 1322h5v5h-5zM1069 1338h6v6h-6zM1073 1329h5v5h-5zM1216 1336h7v5h-7zM726 1351h7v5h-7zM726 1351h5v7h-5zM718 1365h6v5h-6zM731 1362h7v5h-7zM721 1344h5v4h-5zM721 1346h4v5h-4zM753 1351h6v6h-6zM760 1363h7v4h-7zM762 1355h6v5h-6zM754 1351h7v7h-7zM763 1342h6v7h-6zM768 1359h4v5h-4zM753 1357h5v4h-5zM806 1343h5v6h-5zM784 1349h4v6h-4zM800 1367h5v5h-5zM801 1365h5v7h-5zM800 1366h6v4h-6zM808 1358h5v4h-5zM822 1348h5v4h-5zM837 1366h7v4h-7zM840 1362h5v6h-5zM823 1370h5v7h-5zM836 1365h6v6h-6zM837 1372h6v5h-6zM872 1352h7v5h-7zM867 1358h6v4h-6zM842 1354h7v5h-7zM851 1342h6v6h-6zM868 1355h5v4h-5zM860 1348h7v6h-7zM870 1361h5v7h-5zM899 1351h6v5h-6zM896 1350h5v5h-5zM892 1352h7v7h-7zM905 1357h4v5h-4zM923 1366h5v6h-5zM906 1344h6v4h-6zM926 1349h7v5h-7zM968 1370h7v5h-7zM997 1348h6v5h-6zM982 1369h7v5h-7zM991 1357h4v4h-4zM1021 1358h5v6h-5zM1036 1369h7v5h-7zM1038 1372h7v6h-7zM1083 1365h6v7h-6zM1077 1346h6v5h-6zM1070 1355h5v5h-5zM744 1379h5v4h-5zM739 1402h6v6h-6zM762 1374h7v6h-7zM760 1376h5v5h-5zM757 1394h5v5h-5zM759 1396h7v7h-7zM751 1382h5v4h-5zM799 1381h5v5h-5zM789 1380h5v7h-5zM832 1396h5v6h-5zM822 1380h5v5h-5zM839 1378h6v4h-6zM839 1379h6v5h-6zM823 1398h6v4h-6zM815 1386h6v6h-6zM816 1381h6v4h-6zM863 1399h4v5h-4zM868 1394h4v5h-4zM849 1395h4v6h-4zM864 1378h5v6h-5zM890 1385h7v6h-7zM882 1401h5v6h-5zM905 1379h5v5h-5zM923 1377h6v5h-6zM906 1394h7v5h-7zM932 1396h5v6h-5zM963 1399h5v4h-5zM947 1383h6v7h-6zM1005 1399h4v5h-4zM1018 1388h5v6h-5zM1107 1385h6v5h-6zM1101 1388h5v6h-5zM1155 1399h4v5h-4zM1173 1393h5v6h-5zM1199 1388h4v4h-4zM736 1414h4v6h-4zM729 1416h6v5h-6zM743 1423h7v4h-7zM736 1407h7v6h-7zM740 1402h6v7h-6zM744 1411h6v5h-6zM733 1419h6v5h-6zM762 1407h5v6h-5zM777 1409h6v7h-6zM750 1414h5v5h-5zM761 1427h7v7h-7zM799 1418h6v6h-6zM812 1426h4v6h-4zM833 1420h5v5h-5zM839 1422h5v6h-5zM812 1425h5v5h-5zM837 1433h5v6h-5zM898 1421h6v4h-6zM882 1408h6v6h-6zM928 1433h5v4h-5zM964 1429h7v6h-7zM953 1408h7v5h-7zM962 1413h5v7h-5zM996 1424h6v5h-6zM971 1428h7v6h-7zM1029 1427h5v4h-5zM1000 1423h7v6h-7zM1116 1414h5v4h-5zM1115 1404h4v6h-4zM1128 1408h6v6h-6zM1149 1412h6v7h-6zM1178 1413h7v5h-7zM1210 1406h4v6h-4zM1201 1424h6v7h-6zM718 1447h5v6h-5zM723 1447h4v4h-4zM764 1454h6v4h-6zM757 1436h5v7h-5zM775 1454h7v6h-7zM788 1455h6v4h-6zM788 1445h4v5h-4zM799 1444h6v6h-6zM790 1455h7v6h-7zM822 1437h6v6h-6zM838 1444h6v6h-6zM838 1459h5v4h-5zM848 1446h6v7h-6zM869 1447h6v7h-6zM845 1434h6v6h-6zM894 1452h5v5h-5zM917 1440h6v6h-6zM926 1441h4v6h-4zM923 1446h7v4h-7zM959 1452h6v6h-6zM940 1456h7v4h-7zM997 1436h5v5h-5zM1016 1455h5v4h-5zM999 1456h7v5h-7zM1017 1454h6v4h-6zM1057 1457h5v6h-5zM1054 1460h6v6h-6zM1083 1450h7v5h-7zM1109 1445h5v6h-5zM743 1477h6v6h-6zM728 1490h7v7h-7zM743 1485h4v5h-4zM732 1480h5v7h-5zM724 1493h5v5h-5zM725 1480h6v7h-6zM762 1465h5v5h-5zM748 1467h6v7h-6zM771 1464h6v6h-6zM775 1473h6v7h-6zM770 1493h7v5h-7zM749 1466h6v7h-6zM774 1475h5v7h-5zM784 1464h6v6h-6zM806 1479h7v6h-7zM825 1482h6v7h-6zM816 1473h6v4h-6zM838 1463h5v7h-5zM841 1492h4v6h-4zM811 1478h5v5h-5zM869 1493h6v6h-6zM844 1479h7v6h-7zM897 1478h5v5h-5zM906 1477h5v5h-5zM909 1482h4v7h-4zM978 1485h5v7h-5zM994 1477h5v5h-5zM985 1465h6v7h-6zM1002 1492h4v7h-4zM1015 1489h6v5h-6zM1056 1490h5v7h-5zM1041 1476h7v6h-7zM1091 1467h5v4h-5zM1078 1487h5v7h-5zM1111 1473h6v6h-6zM1097 1484h6v6h-6zM1151 1466h6v4h-6zM1136 1469h7v5h-7zM1159 1487h6v5h-6zM1194 1467h7v7h-7zM726 1496h5v6h-5zM717 1502h6v7h-6zM751 1515h6v7h-6zM753 1516h6v4h-6zM754 1510h5v6h-5zM770 1523h6v4h-6zM797 1506h7v5h-7zM802 1517h5v5h-5zM804 1520h6v6h-6zM806 1495h6v5h-6zM815 1507h5v6h-5zM840 1504h6v6h-6zM829 1515h5v7h-5zM820 1514h5v6h-5zM829 1504h5v4h-5zM839 1506h5v7h-5zM815 1496h6v4h-6zM860 1495h4v6h-4zM847 1495h4v4h-4zM868 1510h6v6h-6zM896 1500h4v7h-4zM875 1518h5v5h-5zM908 1516h4v7h-4zM951 1497h5v5h-5zM947 1496h5v6h-5zM959 1519h6v5h-6zM938 1503h6v5h-6zM973 1502h5v5h-5zM1002 1503h7v7h-7zM1017 1510h5v7h-5zM1010 1521h6v6h-6zM1003 1503h7v5h-7zM1058 1508h5v5h-5zM1041 1500h6v5h-6zM1075 1512h4v5h-4zM1071 1520h6v5h-6zM1098 1509h5v6h-5zM1096 1505h5v6h-5zM1106 1505h5v7h-5zM1218 1510h5v6h-5zM732 1547h5v5h-5zM731 1527h7v5h-7zM755 1536h5v6h-5zM776 1531h6v5h-6zM773 1544h6v6h-6zM773 1549h5v6h-5zM805 1526h6v5h-6zM782 1530h5v4h-5zM781 1550h5v7h-5zM801 1526h7v6h-7zM789 1528h5v6h-5zM810 1538h4v6h-4zM827 1546h5v5h-5zM819 1535h6v6h-6zM828 1548h4v6h-4zM837 1531h6v4h-6zM904 1544h5v4h-5zM903 1535h7v4h-7zM910 1540h5v6h-5zM924 1550h6v7h-6zM922 1535h4v6h-4zM922 1539h6v7h-6zM913 1537h7v6h-7zM967 1533h5v7h-5zM952 1537h7v6h-7zM961 1525h5v6h-5zM984 1544h4v4h-4zM998 1525h5v7h-5zM1024 1541h6v6h-6zM1017 1551h6v4h-6zM1029 1526h5v4h-5zM1052 1543h5v5h-5zM1032 1540h6v6h-6zM1035 1551h5v7h-5zM1066 1542h5v5h-5zM1085 1533h7v4h-7zM1075 1528h5v5h-5zM1061 1551h5v4h-5zM1086 1547h5v6h-5zM1077 1529h6v6h-6zM1098 1554h6v5h-6zM1147 1540h6v6h-6zM1145 1525h6v6h-6zM1165 1549h5v5h-5zM1191 1534h5v6h-5zM1200 1553h7v5h-7zM716 1583h6v6h-6zM735 1585h4v4h-4zM737 1557h4v6h-4zM748 1571h4v5h-4zM726 1570h7v6h-7zM759 1583h6v5h-6zM749 1581h6v6h-6zM758 1567h5v5h-5zM750 1582h5v4h-5zM754 1558h5v5h-5zM783 1566h4v7h-4zM782 1558h7v7h-7zM829 1564h6v5h-6zM838 1568h6v4h-6zM840 1580h6v4h-6zM823 1558h4v6h-4zM823 1582h7v4h-7zM827 1579h5v7h-5zM813 1566h5v6h-5zM834 1574h4v5h-4zM815 1566h5v6h-5zM861 1555h7v7h-7zM864 1583h5v5h-5zM844 1567h6v5h-6zM860 1573h5v4h-5zM849 1565h5v5h-5zM850 1576h4v5h-4zM867 1564h5v7h-5zM863 1583h7v6h-7zM879 1563h5v5h-5zM918 1558h4v6h-4zM907 1571h6v5h-6zM931 1580h6v5h-6zM962 1583h6v5h-6zM945 1571h6v5h-6zM948 1562h6v5h-6zM937 1572h7v6h-7zM995 1571h6v6h-6zM979 1556h5v7h-5zM1030 1584h5v6h-5zM1026 1582h4v5h-4zM1000 1572h6v6h-6zM1049 1583h5v6h-5zM1038 1576h5v6h-5zM1088 1560h5v7h-5zM1086 1566h5v6h-5zM1065 1563h5v5h-5zM1064 1576h4v5h-4zM1089 1578h6v6h-6zM1088 1555h6v5h-6zM1064 1579h6v5h-6zM1112 1579h5v5h-5zM1114 1558h5v7h-5zM1107 1577h5v5h-5zM1103 1583h6v5h-6zM1148 1569h4v6h-4zM1142 1555h6v7h-6zM1153 1580h6v6h-6zM1146 1582h5v5h-5zM1169 1559h5v5h-5zM1176 1576h7v5h-7zM1162 1557h7v7h-7zM1195 1562h7v4h-7zM1199 1560h6v7h-6zM1215 1582h5v4h-5zM718 1591h4v4h-4zM716 1605h7v6h-7zM732 1590h6v5h-6zM720 1601h5v5h-5zM746 1602h7v7h-7zM736 1603h7v5h-7zM750 1585h6v7h-6zM755 1594h4v7h-4zM763 1585h6v6h-6zM800 1611h6v6h-6zM781 1604h7v5h-7zM809 1590h5v7h-5zM799 1588h5v4h-5zM817 1600h7v7h-7zM816 1593h5v4h-5zM813 1604h4v7h-4zM819 1589h5v6h-5zM814 1587h5v4h-5zM816 1611h6v5h-6zM812 1591h5v6h-5zM856 1613h4v6h-4zM846 1605h5v6h-5zM852 1590h6v7h-6zM852 1593h6v6h-6zM862 1597h4v6h-4zM888 1614h6v5h-6zM892 1604h7v6h-7zM883 1602h7v5h-7zM923 1586h5v5h-5zM930 1589h5v4h-5zM944 1597h5v5h-5zM946 1609h5v7h-5zM947 1591h5v6h-5zM942 1613h7v6h-7zM970 1608h5v6h-5zM981 1601h4v5h-4zM989 1607h6v4h-6zM970 1610h6v5h-6zM983 1604h6v7h-6zM989 1598h6v6h-6zM974 1594h5v6h-5zM977 1598h5v7h-5zM1026 1613h5v7h-5zM1018 1604h7v5h-7zM1020 1609h6v5h-6zM1002 1603h5v6h-5zM1014 1608h6v6h-6zM1059 1615h5v5h-5zM1032 1604h7v5h-7zM1038 1586h5v7h-5zM1049 1607h7v7h-7zM1058 1606h5v6h-5zM1040 1604h4v7h-4zM1041 1592h4v6h-4zM1083 1595h5v5h-5zM1064 1611h5v7h-5zM1106 1589h7v4h-7zM1114 1600h7v4h-7zM1103 1607h7v4h-7zM1150 1596h4v5h-4zM1130 1604h6v6h-6zM1148 1603h7v7h-7zM1168 1593h6v5h-6zM1202 1600h4v6h-4zM1210 1614h7v5h-7zM1213 1609h5v7h-5zM723 1623h4v5h-4zM720 1622h5v6h-5zM731 1644h7v6h-7zM746 1645h6v5h-6zM750 1623h5v5h-5zM766 1623h7v6h-7zM807 1640h4v5h-4zM782 1635h6v6h-6zM800 1622h4v6h-4zM788 1632h6v4h-6zM793 1624h4v4h-4zM783 1631h7v4h-7zM827 1637h5v6h-5zM814 1635h6v6h-6zM831 1632h5v6h-5zM835 1632h6v4h-6zM843 1620h7v6h-7zM856 1634h5v6h-5zM849 1633h6v6h-6zM843 1618h7v5h-7zM848 1621h5v7h-5zM898 1633h6v6h-6zM880 1628h6v5h-6zM892 1633h5v7h-5zM893 1640h5v4h-5zM888 1643h5v7h-5zM917 1618h7v6h-7zM960 1623h5v6h-5zM961 1643h5v5h-5zM936 1634h6v4h-6zM987 1632h6v5h-6zM1002 1629h6v7h-6zM1010 1616h6v7h-6zM1043 1623h7v7h-7zM1059 1627h4v5h-4zM1052 1636h6v5h-6zM1062 1620h7v6h-7zM1114 1641h5v5h-5zM1146 1630h7v7h-7zM1159 1616h4v7h-4zM1217 1643h5v6h-5zM1198 1638h6v7h-6zM1200 1621h4v6h-4zM1193 1622h6v6h-6zM746 1672h6v4h-6zM741 1646h7v6h-7zM726 1657h6v5h-6zM720 1655h6v5h-6zM739 1649h4v4h-4zM719 1666h6v6h-6zM751 1655h5v6h-5zM810 1647h5v6h-5zM811 1659h5v6h-5zM795 1653h5v4h-5zM824 1666h4v6h-4zM820 1673h6v7h-6zM956 1661h5v6h-5zM938 1653h5v4h-5zM1013 1675h4v4h-4zM1002 1672h5v5h-5zM1024 1646h6v6h-6zM1035 1667h6v5h-6zM1034 1653h5v6h-5zM1035 1656h5v5h-5zM1063 1656h6v5h-6zM1063 1676h6v4h-6zM1109 1659h5v5h-5zM1098 1647h5v5h-5zM1111 1659h6v6h-6zM1120 1669h7v5h-7zM1128 1646h5v6h-5zM1125 1658h6v6h-6zM1147 1657h5v7h-5zM1141 1652h7v4h-7zM1178 1673h6v5h-6zM1197 1667h6v4h-6zM1201 1648h7v5h-7z' fill='#3d70ff'/>
<path d='M721 1201h6v5h-6zM745 1201h5v6h-5zM754 1212h6v7h-6zM761 1214h5v6h-5zM800 1219h6v4h-6zM821 1193h6v5h-6zM853 1201h6v6h-6zM892 1203h6v7h-6zM919 1199h5v7h-5zM966 1210h6v4h-6zM965 1209h7v7h-7zM948 1215h5v6h-5zM997 1199h5v4h-5zM985 1214h4v6h-4zM1005 1205h5v6h-5zM1020 1195h7v6h-7zM1014 1199h5v4h-5zM1057 1205h7v4h-7zM1053 1213h5v5h-5zM1080 1193h5v6h-5zM1120 1195h6v5h-6zM1122 1204h5v5h-5zM1105 1217h4v4h-4zM1109 1219h7v4h-7zM1151 1199h6v6h-6zM1182 1216h5v4h-5zM1172 1218h7v6h-7zM1204 1212h4v5h-4zM1217 1197h7v6h-7zM1201 1202h6v5h-6zM727 1231h6v5h-6zM750 1245h7v5h-7zM804 1245h7v6h-7zM820 1235h7v7h-7zM835 1238h6v7h-6zM854 1223h5v4h-5zM862 1222h6v5h-6zM851 1229h5v5h-5zM876 1250h7v6h-7zM881 1224h5v4h-5zM919 1241h7v5h-7zM908 1225h6v5h-6zM958 1241h5v5h-5zM946 1232h5v6h-5zM988 1237h7v7h-7zM984 1228h6v5h-6zM978 1250h5v5h-5zM1004 1248h5v5h-5zM1013 1232h5v6h-5zM1031 1234h4v4h-4zM1039 1229h6v5h-6zM1109 1232h4v6h-4zM1196 1228h7v4h-7zM726 1269h7v4h-7zM745 1258h7v6h-7zM751 1275h6v4h-6zM778 1263h7v6h-7zM750 1256h5v7h-5zM769 1275h6v6h-6zM763 1279h5v5h-5zM795 1277h7v7h-7zM786 1257h4v5h-4zM841 1256h5v6h-5zM835 1263h6v4h-6zM908 1264h7v6h-7zM905 1261h6v6h-6zM933 1272h5v6h-5zM943 1277h5v5h-5zM968 1256h5v7h-5zM978 1259h6v5h-6zM980 1254h4v7h-4zM971 1271h5v5h-5zM1000 1267h5v6h-5zM1027 1273h5v6h-5zM1005 1278h6v6h-6zM1107 1270h5v5h-5zM1104 1267h6v4h-6zM1095 1269h6v6h-6zM1098 1256h5v7h-5zM1167 1269h6v5h-6zM719 1296h6v5h-6zM732 1311h5v5h-5zM719 1298h7v4h-7zM808 1293h5v7h-5zM801 1308h6v5h-6zM790 1282h6v5h-6zM820 1311h6v6h-6zM848 1286h5v6h-5zM871 1286h5v5h-5zM857 1291h7v6h-7zM878 1292h5v6h-5zM933 1284h5v4h-5zM913 1311h6v4h-6zM939 1300h6v7h-6zM943 1310h7v7h-7zM998 1283h5v5h-5zM976 1308h7v6h-7zM984 1291h5v6h-5zM1008 1300h5v4h-5zM1018 1299h5v6h-5zM1120 1290h6v6h-6zM1108 1287h4v5h-4zM1106 1297h5v4h-5zM1187 1293h5v5h-5zM1202 1287h6v6h-6zM744 1330h7v6h-7zM741 1325h7v4h-7zM728 1334h6v4h-6zM740 1329h5v7h-5zM728 1315h6v6h-6zM763 1316h6v5h-6zM775 1335h5v6h-5zM778 1340h4v6h-4zM782 1336h6v7h-6zM786 1318h6v7h-6zM796 1341h4v6h-4zM822 1341h4v4h-4zM818 1322h5v6h-5zM833 1337h6v5h-6zM826 1327h5v7h-5zM861 1319h5v6h-5zM902 1317h4v4h-4zM893 1333h4v7h-4zM877 1328h5v6h-5zM931 1314h5v5h-5zM948 1342h4v5h-4zM989 1327h6v6h-6zM997 1333h5v5h-5zM997 1335h5v6h-5zM989 1328h7v4h-7zM975 1327h7v4h-7zM1005 1316h5v6h-5zM1023 1324h7v7h-7zM1019 1314h6v6h-6zM1027 1331h6v5h-6zM1010 1313h5v6h-5zM1047 1327h5v6h-5zM1032 1312h7v6h-7zM1089 1315h5v5h-5zM1062 1339h5v6h-5zM1163 1324h6v6h-6zM1196 1322h6v5h-6zM1212 1339h7v4h-7zM717 1368h5v6h-5zM730 1371h6v6h-6zM758 1344h4v7h-4zM764 1350h4v4h-4zM773 1347h4v7h-4zM767 1356h5v6h-5zM788 1354h5v4h-5zM795 1345h7v5h-7zM781 1370h7v5h-7zM814 1362h5v6h-5zM823 1354h5v5h-5zM836 1345h5v5h-5zM824 1355h5v6h-5zM827 1362h4v4h-4zM847 1358h4v4h-4zM872 1343h4v5h-4zM854 1368h4v6h-4zM853 1365h4v5h-4zM905 1363h5v5h-5zM889 1372h4v6h-4zM917 1343h7v4h-7zM924 1357h5v4h-5zM923 1344h4v5h-4zM941 1361h6v4h-6zM951 1367h6v4h-6zM969 1352h6v7h-6zM968 1345h4v6h-4zM1004 1353h5v4h-5zM1005 1350h7v7h-7zM1013 1369h4v4h-4zM1024 1345h6v4h-6zM1024 1347h6v6h-6zM1011 1352h4v5h-4zM1029 1343h6v5h-6zM1033 1357h6v6h-6zM1082 1348h6v5h-6zM739 1384h5v5h-5zM723 1375h4v6h-4zM776 1396h6v7h-6zM769 1389h6v6h-6zM784 1386h5v5h-5zM806 1387h4v6h-4zM788 1403h5v6h-5zM782 1384h7v7h-7zM800 1387h6v5h-6zM790 1384h4v6h-4zM792 1380h5v5h-5zM819 1380h7v5h-7zM832 1399h4v6h-4zM826 1376h5v5h-5zM837 1373h6v4h-6zM867 1399h6v6h-6zM855 1392h5v4h-5zM855 1392h7v5h-7zM868 1388h5v5h-5zM904 1392h4v6h-4zM921 1384h5v6h-5zM921 1380h4v6h-4zM918 1402h7v6h-7zM954 1377h5v6h-5zM967 1378h5v6h-5zM979 1375h5v6h-5zM1074 1382h4v4h-4zM1104 1380h5v5h-5zM1143 1400h6v6h-6zM1138 1384h6v4h-6zM735 1404h5v6h-5zM742 1414h6v5h-6zM741 1408h5v4h-5zM755 1421h5v6h-5zM764 1432h5v5h-5zM754 1408h7v7h-7zM754 1409h4v6h-4zM761 1407h7v4h-7zM754 1408h6v7h-6zM780 1409h6v5h-6zM792 1430h5v6h-5zM795 1407h5v6h-5zM828 1421h6v4h-6zM841 1409h6v6h-6zM835 1431h5v7h-5zM848 1416h7v6h-7zM872 1410h5v6h-5zM897 1414h5v5h-5zM907 1415h7v4h-7zM928 1431h6v7h-6zM940 1414h5v6h-5zM1078 1434h6v4h-6zM1080 1408h5v4h-5zM1178 1428h6v4h-6zM1192 1420h6v6h-6zM737 1456h4v5h-4zM721 1455h6v6h-6zM734 1447h7v4h-7zM730 1452h5v6h-5zM738 1451h5v5h-5zM778 1443h6v4h-6zM763 1457h4v7h-4zM772 1449h5v5h-5zM752 1444h5v4h-5zM772 1437h5v5h-5zM756 1442h5v4h-5zM794 1438h5v7h-5zM786 1461h4v6h-4zM781 1451h6v6h-6zM785 1450h7v4h-7zM834 1452h6v6h-6zM838 1451h6v7h-6zM815 1445h5v6h-5zM832 1463h6v5h-6zM823 1458h4v5h-4zM842 1456h6v7h-6zM933 1446h7v7h-7zM966 1460h4v4h-4zM943 1434h5v5h-5zM949 1441h5v4h-5zM953 1433h6v5h-6zM969 1437h5v5h-5zM994 1459h7v7h-7zM985 1447h5v6h-5zM1075 1447h5v5h-5zM1116 1438h6v7h-6zM1127 1458h4v7h-4zM1128 1439h5v5h-5zM1170 1448h6v6h-6zM737 1481h5v6h-5zM733 1481h7v5h-7zM722 1491h5v4h-5zM739 1481h5v4h-5zM719 1481h6v5h-6zM736 1470h4v4h-4zM770 1482h6v6h-6zM772 1484h5v5h-5zM754 1486h5v5h-5zM776 1492h5v4h-5zM782 1465h6v6h-6zM786 1492h7v6h-7zM791 1493h6v5h-6zM780 1479h7v5h-7zM808 1487h5v5h-5zM833 1464h6v5h-6zM834 1491h7v7h-7zM829 1471h5v7h-5zM817 1491h4v5h-4zM841 1480h4v6h-4zM818 1478h6v6h-6zM870 1487h6v4h-6zM870 1466h5v5h-5zM851 1473h5v6h-5zM903 1490h5v5h-5zM901 1491h5v4h-5zM895 1464h6v7h-6zM911 1467h7v4h-7zM921 1489h5v6h-5zM962 1478h7v7h-7zM955 1474h5v5h-5zM949 1473h6v6h-6zM989 1483h6v5h-6zM990 1470h5v6h-5zM1004 1474h7v6h-7zM1002 1477h5v6h-5zM1028 1491h5v7h-5zM1042 1485h5v6h-5zM1034 1476h5v4h-5zM1098 1474h5v7h-5zM1102 1493h7v6h-7zM1140 1481h6v5h-6zM721 1509h6v5h-6zM718 1502h6v5h-6zM717 1516h4v7h-4zM719 1495h6v6h-6zM745 1495h4v6h-4zM721 1514h4v6h-4zM729 1519h6v5h-6zM719 1494h5v6h-5zM727 1514h4v5h-4zM743 1507h5v5h-5zM728 1518h4v7h-4zM774 1516h6v7h-6zM776 1498h5v6h-5zM775 1515h5v5h-5zM804 1501h5v5h-5zM784 1493h5v7h-5zM788 1505h4v7h-4zM813 1517h5v5h-5zM840 1511h4v6h-4zM831 1512h6v5h-6zM837 1505h7v4h-7zM818 1496h7v5h-7zM845 1503h6v6h-6zM859 1519h4v7h-4zM866 1524h5v5h-5zM890 1517h7v5h-7zM885 1519h5v6h-5zM936 1514h4v6h-4zM908 1505h6v6h-6zM908 1525h5v4h-5zM961 1513h5v5h-5zM942 1505h6v7h-6zM959 1516h7v7h-7zM945 1520h6v5h-6zM971 1509h7v6h-7zM1057 1502h4v7h-4zM1072 1519h7v5h-7zM1075 1506h6v7h-6zM1086 1521h7v5h-7zM1126 1518h6v4h-6zM1159 1507h5v6h-5zM730 1552h6v4h-6zM729 1529h5v6h-5zM748 1546h5v4h-5zM726 1547h7v6h-7zM719 1529h6v6h-6zM725 1548h4v7h-4zM764 1537h7v7h-7zM759 1549h6v6h-6zM750 1546h5v6h-5zM778 1534h6v4h-6zM792 1525h6v7h-6zM794 1540h5v6h-5zM832 1540h5v6h-5zM817 1529h5v7h-5zM833 1546h6v6h-6zM826 1539h4v6h-4zM851 1545h4v7h-4zM863 1535h5v6h-5zM883 1550h6v4h-6zM899 1535h6v7h-6zM884 1539h6v5h-6zM909 1529h5v5h-5zM912 1539h5v7h-5zM954 1539h7v6h-7zM939 1534h7v7h-7zM959 1546h7v5h-7zM946 1530h6v4h-6zM945 1543h5v7h-5zM991 1534h7v6h-7zM994 1530h6v5h-6zM1026 1524h5v7h-5zM1041 1531h5v7h-5zM1047 1537h6v6h-6zM1089 1541h6v5h-6zM1067 1535h6v6h-6zM1112 1543h6v6h-6zM1113 1530h4v4h-4zM1110 1534h5v5h-5zM1130 1538h7v5h-7zM1172 1546h5v7h-5zM726 1581h5v7h-5zM718 1582h5v7h-5zM755 1556h4v7h-4zM768 1581h7v6h-7zM765 1574h6v7h-6zM750 1567h4v5h-4zM804 1560h7v6h-7zM809 1583h7v4h-7zM785 1575h4v5h-4zM792 1558h4v7h-4zM795 1568h5v4h-5zM813 1571h6v6h-6zM827 1577h4v6h-4zM817 1585h6v5h-6zM869 1556h4v5h-4zM848 1557h4v6h-4zM859 1576h4v5h-4zM881 1575h7v4h-7zM897 1567h6v4h-6zM893 1568h5v6h-5zM883 1557h6v5h-6zM926 1584h6v5h-6zM922 1584h4v5h-4zM927 1580h5v4h-5zM988 1570h6v6h-6zM982 1554h5v7h-5zM980 1572h5v5h-5zM974 1571h4v5h-4zM986 1575h6v4h-6zM972 1585h6v4h-6zM1000 1577h5v4h-5zM1002 1577h5v5h-5zM1024 1564h7v6h-7zM1028 1583h7v6h-7zM1028 1576h6v5h-6zM1031 1574h7v4h-7zM1057 1571h6v5h-6zM1052 1567h6v4h-6zM1061 1567h6v6h-6zM1111 1556h6v6h-6zM1126 1576h4v5h-4zM1124 1573h6v4h-6zM1185 1559h5v5h-5zM1178 1583h5v4h-5zM1179 1564h7v5h-7zM1194 1579h6v5h-6zM1206 1567h4v5h-4zM729 1614h6v4h-6zM734 1603h5v5h-5zM729 1596h4v6h-4zM754 1597h6v6h-6zM775 1609h6v4h-6zM776 1595h4v6h-4zM770 1599h5v5h-5zM777 1612h5v7h-5zM769 1614h5v7h-5zM805 1600h6v6h-6zM804 1586h4v6h-4zM821 1608h5v5h-5zM814 1607h6v5h-6zM812 1588h5v5h-5zM871 1605h4v4h-4zM871 1614h7v5h-7zM861 1587h4v5h-4zM871 1596h7v5h-7zM877 1605h5v6h-5zM933 1599h5v6h-5zM905 1599h5v5h-5zM928 1601h5v7h-5zM967 1586h4v6h-4zM942 1590h5v5h-5zM1047 1588h5v5h-5zM1069 1610h5v6h-5zM1081 1604h5v6h-5zM1074 1600h5v5h-5zM1078 1588h7v4h-7zM1069 1615h5v4h-5zM1137 1604h6v6h-6zM1159 1607h4v6h-4zM1155 1588h6v6h-6zM1164 1590h4v6h-4zM1174 1613h4v7h-4zM1159 1608h5v5h-5zM1213 1606h7v4h-7zM1206 1596h4v6h-4zM737 1645h4v5h-4zM725 1646h5v5h-5zM726 1633h6v6h-6zM735 1616h7v7h-7zM727 1618h5v5h-5zM770 1630h6v6h-6zM770 1621h5v4h-5zM754 1644h5v7h-5zM753 1621h5v4h-5zM750 1619h4v6h-4zM802 1625h4v6h-4zM792 1637h6v6h-6zM793 1635h5v6h-5zM836 1625h5v6h-5zM846 1621h5v5h-5zM867 1621h4v5h-4zM849 1615h6v6h-6zM860 1643h6v6h-6zM843 1629h6v6h-6zM853 1630h4v5h-4zM855 1641h6v5h-6zM904 1646h6v4h-6zM892 1624h6v7h-6zM891 1632h6v6h-6zM934 1624h4v5h-4zM938 1635h5v5h-5zM963 1623h5v7h-5zM942 1621h5v4h-5zM947 1619h5v5h-5zM940 1636h5v5h-5zM981 1620h7v5h-7zM994 1619h7v5h-7zM996 1619h5v5h-5zM975 1645h5v4h-5zM1017 1644h6v7h-6zM1023 1640h6v6h-6zM1014 1646h4v5h-4zM1007 1639h6v6h-6zM1060 1617h4v6h-4zM1087 1628h5v5h-5zM1091 1634h5v6h-5zM1071 1619h5v6h-5zM1073 1626h6v5h-6zM1119 1641h5v4h-5zM1127 1630h4v7h-4zM1148 1628h7v6h-7zM1135 1626h4v5h-4zM1125 1639h7v6h-7zM1162 1643h6v5h-6zM1178 1621h6v6h-6zM768 1658h5v7h-5zM755 1664h6v6h-6zM755 1649h4v6h-4zM752 1656h4v5h-4zM766 1649h7v4h-7zM804 1672h5v5h-5zM795 1661h5v7h-5zM796 1665h5v6h-5zM806 1673h4v6h-4zM829 1658h5v7h-5zM829 1676h7v5h-7zM826 1654h4v7h-4zM824 1651h7v6h-7zM819 1668h7v4h-7zM872 1667h6v5h-6zM842 1648h6v5h-6zM860 1665h5v6h-5zM905 1669h5v5h-5zM927 1666h5v5h-5zM927 1675h5v4h-5zM908 1670h6v6h-6zM904 1652h6v4h-6zM935 1654h5v6h-5zM950 1669h7v4h-7zM983 1674h4v5h-4zM983 1648h6v4h-6zM972 1659h7v5h-7zM999 1652h5v5h-5zM1000 1653h7v6h-7zM1011 1676h5v4h-5zM1010 1648h5v7h-5zM1032 1670h4v5h-4zM1052 1655h6v5h-6zM1035 1672h6v6h-6zM1048 1660h7v6h-7zM1087 1654h7v4h-7zM1079 1655h4v6h-4zM1076 1666h6v7h-6zM1070 1673h4v5h-4zM1100 1653h5v6h-5zM1125 1666h4v6h-4zM1151 1656h5v7h-5zM1140 1647h5v5h-5zM1170 1659h5v6h-5zM1189 1652h5v6h-5z' fill='#347afd'/>
<path d='M785 1193h7v4h-7zM812 1211h7v4h-7zM840 1204h6v5h-6zM823 1209h6v5h-6zM820 1194h7v4h-7zM863 1218h5v7h-5zM857 1216h6v5h-6zM900 1200h4v7h-4zM887 1212h5v6h-5zM933 1199h6v7h-6zM917 1216h4v7h-4zM922 1194h7v6h-7zM980 1201h6v4h-6zM1022 1219h7v5h-7zM1002 1220h6v4h-6zM1002 1208h5v5h-5zM1055 1192h6v6h-6zM1048 1206h7v5h-7zM1061 1198h5v5h-5zM1070 1203h7v5h-7zM1074 1216h4v4h-4zM1159 1211h6v6h-6zM1184 1213h6v6h-6zM1203 1195h4v6h-4zM721 1250h6v7h-6zM735 1242h4v5h-4zM742 1221h7v5h-7zM753 1245h5v5h-5zM754 1236h6v4h-6zM797 1232h5v6h-5zM789 1236h4v6h-4zM812 1241h4v5h-4zM889 1236h5v6h-5zM901 1235h5v6h-5zM976 1250h5v4h-5zM1098 1230h6v7h-6zM1099 1229h7v4h-7zM1108 1230h6v5h-6zM1165 1224h5v4h-5zM1217 1224h5v6h-5zM794 1281h4v6h-4zM845 1276h7v6h-7zM851 1272h7v6h-7zM860 1272h4v7h-4zM875 1265h4v7h-4zM885 1272h6v7h-6zM878 1267h5v7h-5zM930 1253h7v4h-7zM923 1274h5v5h-5zM951 1261h5v4h-5zM951 1263h5v5h-5zM1022 1264h7v6h-7zM1157 1263h6v5h-6zM1157 1277h5v6h-5zM1204 1257h5v6h-5zM746 1292h5v7h-5zM776 1295h6v6h-6zM782 1283h4v6h-4zM865 1283h7v7h-7zM867 1309h4v6h-4zM890 1293h4v5h-4zM886 1285h4v7h-4zM896 1298h7v7h-7zM879 1301h7v5h-7zM917 1310h7v5h-7zM931 1304h6v6h-6zM945 1310h7v6h-7zM937 1308h7v6h-7zM967 1285h6v5h-6zM998 1287h4v6h-4zM991 1290h5v4h-5zM1017 1296h6v5h-6zM1015 1306h5v6h-5zM1013 1283h7v6h-7zM1135 1298h7v7h-7zM1149 1290h4v6h-4zM1155 1311h7v6h-7zM1199 1285h4v7h-4zM1198 1294h7v6h-7zM1196 1282h7v5h-7zM1203 1292h6v5h-6zM735 1333h4v4h-4zM799 1315h5v6h-5zM814 1317h5v5h-5zM831 1318h5v5h-5zM851 1335h6v7h-6zM847 1327h7v6h-7zM898 1312h5v7h-5zM897 1341h5v7h-5zM900 1326h6v7h-6zM911 1325h6v5h-6zM915 1312h6v7h-6zM928 1317h6v5h-6zM916 1326h4v7h-4zM951 1316h5v6h-5zM965 1333h4v4h-4zM957 1329h7v6h-7zM952 1329h4v6h-4zM938 1317h5v6h-5zM965 1335h6v7h-6zM989 1314h6v5h-6zM1080 1337h4v6h-4zM1089 1339h7v7h-7zM1159 1319h5v5h-5zM1180 1324h5v5h-5zM732 1357h6v6h-6zM777 1369h7v6h-7zM910 1343h6v5h-6zM963 1367h5v5h-5zM967 1349h4v5h-4zM965 1362h5v6h-5zM956 1344h5v6h-5zM963 1371h5v6h-5zM977 1357h5v5h-5zM979 1372h5v4h-5zM1024 1350h4v4h-4zM1079 1356h7v5h-7zM1161 1351h6v6h-6zM1157 1367h6v4h-6zM742 1383h4v4h-4zM733 1383h7v5h-7zM721 1384h6v6h-6zM720 1391h5v5h-5zM748 1401h7v7h-7zM775 1394h4v5h-4zM803 1389h4v6h-4zM838 1376h6v7h-6zM847 1375h6v6h-6zM899 1378h6v7h-6zM892 1398h7v5h-7zM934 1391h6v5h-6zM938 1400h5v5h-5zM1117 1386h5v5h-5zM729 1416h6v6h-6zM750 1422h6v5h-6zM781 1427h5v5h-5zM798 1417h5v6h-5zM863 1410h5v4h-5zM888 1416h7v6h-7zM920 1431h6v7h-6zM932 1423h6v6h-6zM933 1426h6v5h-6zM914 1418h7v7h-7zM967 1405h5v7h-5zM724 1454h7v5h-7zM728 1435h7v4h-7zM751 1447h7v5h-7zM765 1451h6v5h-6zM856 1463h6v4h-6zM902 1441h7v4h-7zM922 1462h4v5h-4zM933 1450h7v5h-7zM921 1463h7v4h-7zM917 1459h6v7h-6zM924 1450h7v6h-7zM932 1464h5v4h-5zM956 1453h6v6h-6zM968 1462h5v7h-5zM1037 1440h7v5h-7zM1065 1439h5v5h-5zM1152 1439h6v5h-6zM1219 1436h4v6h-4zM733 1480h4v4h-4zM787 1475h6v5h-6zM813 1482h5v5h-5zM880 1466h5v6h-5zM904 1472h5v6h-5zM927 1478h6v4h-6zM926 1474h4v5h-4zM908 1481h5v7h-5zM939 1470h6v6h-6zM949 1479h6v5h-6zM986 1472h5v5h-5zM997 1481h6v6h-6zM991 1487h6v4h-6zM1214 1487h7v4h-7zM757 1501h5v5h-5zM898 1496h6v5h-6zM883 1498h5v6h-5zM912 1519h5v6h-5zM933 1502h6v4h-6zM951 1524h6v5h-6zM966 1497h6v4h-6zM938 1506h4v6h-4zM976 1521h5v6h-5zM997 1495h5v5h-5zM1041 1512h7v7h-7zM1044 1503h6v6h-6zM1044 1501h5v7h-5zM1112 1501h5v6h-5zM1132 1501h7v7h-7zM1151 1499h5v5h-5zM1125 1524h4v6h-4zM1165 1503h4v5h-4zM744 1535h5v5h-5zM739 1527h7v6h-7zM735 1535h5v6h-5zM718 1542h5v6h-5zM734 1534h5v6h-5zM777 1536h7v6h-7zM760 1553h6v5h-6zM810 1546h5v6h-5zM950 1552h6v5h-6zM979 1551h6v5h-6zM1021 1540h5v7h-5zM1027 1534h7v6h-7zM723 1575h7v5h-7zM750 1572h7v5h-7zM758 1554h6v7h-6zM797 1557h6v4h-6zM799 1562h7v4h-7zM886 1558h6v6h-6zM914 1562h5v6h-5zM939 1557h5v5h-5zM937 1580h7v5h-7zM964 1582h6v5h-6zM959 1559h7v6h-7zM990 1566h6v6h-6zM974 1580h5v5h-5zM984 1584h5v6h-5zM1013 1558h7v4h-7zM1024 1578h7v7h-7zM1019 1573h6v7h-6zM1035 1567h6v6h-6zM1033 1558h5v5h-5zM1072 1578h4v5h-4zM1065 1565h5v5h-5zM1093 1572h5v6h-5zM1141 1572h7v5h-7zM1169 1567h6v6h-6zM1196 1562h6v6h-6zM723 1596h5v6h-5zM773 1594h4v6h-4zM789 1606h7v5h-7zM798 1606h6v4h-6zM800 1595h5v4h-5zM823 1613h6v6h-6zM841 1609h5v4h-5zM865 1607h7v7h-7zM909 1589h6v7h-6zM942 1587h6v5h-6zM981 1599h5v4h-5zM968 1613h5v6h-5zM981 1593h5v7h-5zM978 1612h5v6h-5zM1018 1597h5v5h-5zM1012 1607h6v4h-6zM1032 1591h5v4h-5zM1051 1614h5v6h-5zM1097 1585h7v6h-7zM1144 1606h6v6h-6zM1130 1604h6v5h-6zM1131 1588h6v5h-6zM1132 1599h4v5h-4zM730 1622h5v5h-5zM741 1619h5v6h-5zM743 1629h4v5h-4zM768 1634h5v5h-5zM779 1624h5v7h-5zM808 1631h6v5h-6zM829 1627h7v5h-7zM877 1632h7v5h-7zM891 1626h5v6h-5zM935 1624h6v6h-6zM947 1641h6v6h-6zM983 1628h4v7h-4zM979 1629h6v4h-6zM976 1628h5v4h-5zM970 1619h6v7h-6zM1029 1633h6v6h-6zM1001 1629h5v5h-5zM1000 1617h5v5h-5zM1019 1629h4v5h-4zM1037 1619h6v6h-6zM1047 1633h5v6h-5zM1043 1626h5v6h-5zM1033 1627h6v5h-6zM1046 1642h5v4h-5zM1075 1638h4v7h-4zM1077 1624h4v6h-4zM1113 1616h7v5h-7zM1111 1632h4v6h-4zM1145 1639h6v6h-6zM1128 1640h4v4h-4zM1174 1645h4v6h-4zM1214 1631h4v5h-4zM733 1675h5v6h-5zM745 1665h6v5h-6zM779 1661h5v4h-5zM751 1669h7v5h-7zM775 1650h4v6h-4zM780 1649h6v4h-6zM784 1650h5v5h-5zM819 1650h7v5h-7zM815 1667h6v4h-6zM862 1666h4v5h-4zM853 1645h6v6h-6zM895 1647h4v5h-4zM900 1661h5v4h-5zM873 1659h6v6h-6zM923 1648h5v4h-5zM913 1655h5v6h-5zM904 1672h7v7h-7zM944 1676h7v4h-7zM947 1657h5v4h-5zM948 1668h7v4h-7zM938 1669h6v7h-6zM992 1649h7v5h-7zM997 1676h6v5h-6zM967 1650h7v6h-7zM1004 1654h7v7h-7zM1017 1674h6v6h-6zM1073 1668h7v6h-7zM1061 1664h6v6h-6zM1080 1652h6v5h-6zM1127 1669h6v5h-6zM1154 1654h4v5h-4zM1185 1668h5v5h-5zM1173 1664h6v5h-6z' fill='#fec13a'/>
<path d='M722 1217h6v6h-6zM748 1207h4v5h-4zM775 1200h7v6h-7zM800 1216h6v5h-6zM797 1220h7v6h-7zM826 1192h6v5h-6zM833 1197h7v4h-7zM849 1205h6v5h-6zM885 1205h6v7h-6zM922 1212h7v5h-7zM950 1192h4v6h-4zM986 1207h7v5h-7zM984 1198h6v6h-6zM993 1198h5v4h-5zM1013 1195h4v5h-4zM1011 1208h5v5h-5zM1079 1218h6v6h-6zM1072 1217h7v4h-7zM1073 1212h6v7h-6zM1084 1197h4v6h-4zM1075 1193h6v6h-6zM1192 1207h5v4h-5zM765 1231h5v4h-5zM751 1247h4v6h-4zM817 1245h6v4h-6zM849 1241h4v7h-4zM915 1237h7v6h-7zM926 1229h4v4h-4zM1001 1240h5v7h-5zM1042 1247h4v5h-4zM1036 1238h4v5h-4zM1067 1229h4v5h-4zM1082 1224h5v7h-5zM1067 1232h4v6h-4zM1081 1239h6v6h-6zM1093 1242h4v4h-4zM1103 1234h6v5h-6zM1145 1236h7v6h-7zM1156 1232h4v5h-4zM1168 1251h6v4h-6zM1180 1228h5v5h-5zM1189 1250h5v7h-5zM1201 1226h6v6h-6zM1210 1242h4v7h-4zM1216 1226h5v6h-5zM738 1269h7v6h-7zM739 1277h6v7h-6zM777 1269h5v7h-5zM809 1260h5v6h-5zM830 1259h6v7h-6zM842 1261h6v4h-6zM850 1264h5v6h-5zM866 1268h6v6h-6zM879 1272h6v5h-6zM883 1261h5v5h-5zM885 1265h7v5h-7zM918 1263h6v5h-6zM904 1255h7v5h-7zM917 1254h6v6h-6zM946 1271h6v4h-6zM939 1263h6v6h-6zM944 1269h5v6h-5zM969 1266h5v5h-5zM989 1278h5v5h-5zM1024 1263h5v5h-5zM1028 1252h7v5h-7zM1008 1258h7v6h-7zM1022 1281h5v5h-5zM773 1289h6v6h-6zM836 1291h4v5h-4zM818 1305h7v4h-7zM870 1298h6v6h-6zM856 1289h5v4h-5zM865 1282h6v6h-6zM860 1310h7v5h-7zM895 1294h4v5h-4zM918 1290h5v4h-5zM917 1284h4v5h-4zM922 1288h6v6h-6zM944 1294h6v5h-6zM941 1281h7v6h-7zM990 1295h7v7h-7zM1004 1300h6v6h-6zM1191 1299h7v5h-7zM741 1327h5v5h-5zM717 1313h7v7h-7zM751 1331h7v5h-7zM751 1319h4v6h-4zM768 1323h5v6h-5zM784 1314h7v5h-7zM807 1340h5v5h-5zM817 1321h4v6h-4zM859 1323h6v5h-6zM870 1341h4v6h-4zM849 1321h5v7h-5zM868 1316h5v5h-5zM890 1335h7v6h-7zM903 1330h5v4h-5zM880 1320h5v6h-5zM886 1332h5v6h-5zM912 1313h6v6h-6zM919 1326h7v5h-7zM913 1317h7v5h-7zM973 1328h5v6h-5zM1061 1331h6v6h-6zM1086 1322h5v7h-5zM1157 1340h5v5h-5zM1167 1328h6v6h-6zM718 1369h6v7h-6zM724 1354h5v4h-5zM729 1359h6v5h-6zM785 1353h5v7h-5zM815 1365h4v5h-4zM829 1349h6v6h-6zM818 1370h5v5h-5zM846 1360h5v5h-5zM864 1363h5v6h-5zM893 1354h4v6h-4zM901 1366h7v5h-7zM901 1357h7v5h-7zM875 1349h6v6h-6zM934 1348h5v4h-5zM935 1358h5v5h-5zM955 1361h7v7h-7zM968 1356h4v5h-4zM988 1354h6v7h-6zM1019 1355h4v7h-4zM1020 1353h4v7h-4zM1046 1362h7v6h-7zM1055 1360h6v5h-6zM1038 1361h6v6h-6zM1031 1350h7v5h-7zM1088 1373h6v4h-6zM1087 1360h4v5h-4zM1069 1355h4v7h-4zM1161 1359h6v5h-6zM747 1378h5v6h-5zM806 1381h6v6h-6zM822 1384h4v4h-4zM924 1376h6v7h-6zM917 1394h5v6h-5zM952 1394h6v6h-6zM966 1395h6v7h-6zM1005 1394h6v5h-6zM1004 1387h7v4h-7zM1003 1392h5v5h-5zM1034 1381h5v7h-5zM1153 1383h7v5h-7zM1207 1387h6v5h-6zM1193 1401h7v4h-7zM809 1433h5v6h-5zM822 1428h5v5h-5zM902 1403h4v7h-4zM890 1406h5v6h-5zM916 1420h6v4h-6zM911 1413h5v4h-5zM924 1403h4v6h-4zM910 1404h5v5h-5zM943 1432h6v6h-6zM1042 1426h5v4h-5zM1133 1407h6v6h-6zM1154 1422h4v5h-4zM1198 1432h4v7h-4zM744 1445h5v4h-5zM718 1449h5v6h-5zM720 1452h6v5h-6zM773 1449h7v4h-7zM769 1454h6v6h-6zM748 1444h7v5h-7zM761 1442h5v6h-5zM822 1445h6v7h-6zM925 1456h6v5h-6zM962 1453h5v5h-5zM958 1453h4v6h-4zM986 1449h7v7h-7zM988 1444h6v6h-6zM1044 1451h4v5h-4zM1052 1456h4v7h-4zM1045 1444h4v5h-4zM1087 1460h7v6h-7zM1088 1437h4v4h-4zM1179 1450h5v7h-5zM723 1474h5v6h-5zM729 1465h5v7h-5zM774 1492h6v5h-6zM799 1477h5v5h-5zM798 1487h6v5h-6zM921 1476h6v6h-6zM909 1474h5v5h-5zM922 1476h6v4h-6zM942 1490h6v5h-6zM950 1487h5v7h-5zM1015 1475h4v7h-4zM1068 1484h5v5h-5zM763 1510h5v6h-5zM761 1507h6v7h-6zM781 1513h7v6h-7zM811 1501h4v6h-4zM800 1515h6v5h-6zM904 1498h6v5h-6zM893 1502h5v5h-5zM919 1504h5v6h-5zM1018 1507h7v5h-7zM1004 1500h5v5h-5zM1036 1506h6v4h-6zM1089 1520h5v4h-5zM1068 1520h4v6h-4zM751 1527h6v4h-6zM841 1533h5v6h-5zM893 1536h5v5h-5zM908 1529h4v4h-4zM930 1527h6v4h-6zM959 1531h4v4h-4zM1008 1554h6v6h-6zM1000 1552h5v5h-5zM1058 1531h4v7h-4zM732 1567h5v6h-5zM737 1574h6v4h-6zM726 1584h7v6h-7zM717 1556h7v6h-7zM776 1569h7v7h-7zM773 1584h5v5h-5zM781 1577h6v5h-6zM843 1561h4v6h-4zM880 1570h6v5h-6zM888 1579h5v6h-5zM903 1576h4v6h-4zM912 1570h4v5h-4zM929 1583h4v6h-4zM947 1561h6v6h-6zM951 1573h6v5h-6zM981 1581h5v7h-5zM978 1567h6v6h-6zM999 1581h5v6h-5zM1024 1571h4v6h-4zM1037 1585h5v6h-5zM1065 1573h6v6h-6zM1081 1569h6v4h-6zM1114 1576h5v5h-5zM1107 1557h4v5h-4zM1153 1580h4v4h-4zM736 1610h5v5h-5zM724 1594h5v6h-5zM770 1603h6v6h-6zM768 1610h6v6h-6zM794 1593h6v4h-6zM826 1595h4v5h-4zM874 1597h5v6h-5zM883 1590h6v7h-6zM889 1603h6v4h-6zM928 1609h5v6h-5zM926 1601h6v6h-6zM924 1594h6v5h-6zM946 1605h7v7h-7zM978 1600h7v5h-7zM1013 1598h6v6h-6zM1060 1589h7v7h-7zM1058 1590h7v6h-7zM1081 1602h4v7h-4zM1124 1609h7v7h-7zM1130 1593h5v5h-5zM1167 1595h5v5h-5zM766 1623h5v6h-5zM791 1633h7v7h-7zM816 1641h6v6h-6zM877 1624h7v5h-7zM920 1625h6v6h-6zM933 1617h7v5h-7zM918 1619h5v6h-5zM978 1618h5v6h-5zM982 1622h5v4h-5zM981 1621h4v6h-4zM1022 1640h5v7h-5zM1034 1621h5v6h-5zM1089 1631h4v4h-4zM1119 1622h6v4h-6zM741 1662h6v7h-6zM723 1672h4v6h-4zM728 1650h5v7h-5zM747 1662h4v6h-4zM763 1660h6v5h-6zM748 1659h6v6h-6zM797 1651h6v6h-6zM784 1647h6v5h-6zM834 1669h6v7h-6zM856 1668h5v5h-5zM865 1650h4v5h-4zM864 1657h5v6h-5zM881 1652h6v5h-6zM900 1652h5v5h-5zM889 1661h5v5h-5zM885 1662h4v5h-4zM883 1667h6v7h-6zM927 1658h6v7h-6zM907 1662h6v6h-6zM915 1664h6v7h-6zM929 1646h6v7h-6zM941 1675h5v4h-5zM956 1668h7v7h-7zM972 1668h7v5h-7zM988 1650h6v4h-6zM987 1649h6v4h-6zM1028 1670h6v5h-6zM1023 1650h4v6h-4zM1022 1669h7v6h-7zM1001 1654h6v6h-6zM1039 1650h4v6h-4zM1086 1661h6v4h-6zM1072 1666h6v6h-6zM1118 1675h7v5h-7zM1120 1667h4v4h-4zM1150 1646h4v6h-4zM1174 1672h5v5h-5zM1190 1676h6v6h-6z' fill='#feca33'/>
<path d='M726 1208h4v5h-4zM720 1211h6v6h-6zM736 1219h5v5h-5zM750 1192h4v5h-4zM774 1207h7v4h-7zM751 1197h7v7h-7zM808 1195h4v5h-4zM809 1209h6v6h-6zM791 1217h7v6h-7zM851 1215h6v4h-6zM864 1205h6v6h-6zM876 1201h6v6h-6zM912 1207h6v5h-6zM975 1212h6v5h-6zM1059 1219h6v5h-6zM1082 1207h5v7h-5zM1147 1212h6v7h-6zM1133 1202h5v4h-5zM1128 1192h4v5h-4zM1199 1198h6v5h-6zM1197 1210h6v4h-6zM748 1224h6v6h-6zM817 1231h5v5h-5zM896 1225h6v5h-6zM946 1233h5v6h-5zM960 1236h5v5h-5zM1026 1233h6v5h-6zM1075 1232h7v5h-7zM1112 1234h6v5h-6zM1131 1244h5v5h-5zM1138 1228h7v7h-7zM1156 1243h5v6h-5zM736 1275h7v6h-7zM740 1278h6v5h-6zM864 1270h7v5h-7zM877 1265h6v6h-6zM910 1281h6v5h-6zM911 1267h4v5h-4zM966 1257h4v5h-4zM976 1260h4v7h-4zM987 1276h7v7h-7zM991 1257h7v7h-7zM1123 1271h6v7h-6zM1153 1268h6v5h-6zM1134 1267h6v7h-6zM733 1294h4v6h-4zM739 1308h6v7h-6zM768 1291h7v6h-7zM805 1302h5v7h-5zM896 1295h7v7h-7zM888 1303h7v5h-7zM907 1310h5v7h-5zM916 1304h7v6h-7zM924 1301h6v4h-6zM950 1310h4v6h-4zM946 1304h7v5h-7zM952 1306h7v6h-7zM987 1303h6v4h-6zM1006 1289h4v5h-4zM1009 1299h4v7h-4zM1129 1296h5v7h-5zM1174 1308h5v4h-5zM720 1334h4v5h-4zM761 1315h5v4h-5zM759 1317h4v6h-4zM844 1318h4v5h-4zM864 1323h6v5h-6zM892 1321h6v4h-6zM900 1325h7v4h-7zM892 1318h6v7h-6zM927 1320h6v7h-6zM963 1329h6v5h-6zM962 1317h5v7h-5zM963 1328h5v7h-5zM943 1312h4v7h-4zM941 1318h5v4h-5zM986 1323h6v6h-6zM989 1341h5v5h-5zM1007 1319h4v5h-4zM1035 1340h6v5h-6zM1070 1338h6v7h-6zM1069 1324h5v6h-5zM1078 1315h5v7h-5zM1212 1338h7v6h-7zM1187 1335h6v6h-6zM736 1352h5v7h-5zM763 1365h6v5h-6zM769 1359h6v6h-6zM813 1352h6v7h-6zM887 1359h5v4h-5zM877 1352h5v5h-5zM883 1363h4v6h-4zM886 1345h7v6h-7zM925 1344h6v6h-6zM920 1367h5v7h-5zM909 1350h5v5h-5zM907 1342h6v7h-6zM954 1366h4v4h-4zM937 1365h5v6h-5zM944 1367h7v6h-7zM997 1356h5v6h-5zM985 1364h4v4h-4zM1067 1345h5v6h-5zM1091 1348h6v6h-6zM1193 1350h5v7h-5zM1194 1365h5v6h-5zM736 1392h6v6h-6zM722 1376h7v6h-7zM750 1399h6v6h-6zM762 1379h4v6h-4zM793 1401h5v4h-5zM890 1390h4v4h-4zM888 1383h5v4h-5zM906 1391h6v5h-6zM932 1392h6v7h-6zM905 1388h4v5h-4zM947 1381h4v4h-4zM1174 1384h6v6h-6zM732 1432h6v5h-6zM738 1424h5v7h-5zM722 1422h6v5h-6zM739 1425h4v6h-4zM773 1415h6v5h-6zM788 1405h5v4h-5zM819 1416h5v5h-5zM876 1421h6v5h-6zM930 1419h6v6h-6zM916 1426h5v7h-5zM930 1412h5v6h-5zM957 1416h4v6h-4zM942 1408h7v5h-7zM1024 1432h7v6h-7zM1096 1417h6v5h-6zM741 1439h4v4h-4zM751 1451h5v5h-5zM752 1452h4v7h-4zM780 1439h5v6h-5zM810 1453h6v5h-6zM802 1460h5v7h-5zM871 1444h6v7h-6zM903 1449h7v4h-7zM900 1440h7v7h-7zM887 1435h5v6h-5zM900 1454h7v7h-7zM919 1435h6v4h-6zM962 1456h6v5h-6zM945 1434h6v6h-6zM975 1450h5v4h-5zM1008 1448h4v7h-4zM1009 1450h4v5h-4zM999 1450h4v5h-4zM1064 1452h4v6h-4zM1147 1461h4v6h-4zM1191 1433h5v7h-5zM723 1464h5v5h-5zM752 1464h6v7h-6zM800 1467h5v5h-5zM815 1476h5v5h-5zM865 1485h4v5h-4zM908 1475h7v5h-7zM937 1469h4v4h-4zM948 1489h5v4h-5zM955 1473h7v7h-7zM950 1488h5v5h-5zM966 1473h6v5h-6zM1018 1479h4v6h-4zM1034 1479h5v6h-5zM1142 1489h6v4h-6zM1159 1486h6v5h-6zM734 1499h6v6h-6zM718 1518h6v7h-6zM765 1504h4v5h-4zM805 1503h5v6h-5zM802 1523h4v5h-4zM929 1521h7v5h-7zM942 1511h6v4h-6zM961 1499h5v6h-5zM979 1511h5v5h-5zM986 1509h6v5h-6zM971 1508h4v7h-4zM1007 1517h7v6h-7zM1004 1511h6v4h-6zM1035 1514h7v7h-7zM1087 1514h4v7h-4zM1124 1523h7v5h-7zM1133 1521h7v6h-7zM1213 1494h6v7h-6zM734 1541h5v5h-5zM731 1549h6v4h-6zM755 1530h7v6h-7zM754 1532h5v6h-5zM778 1537h7v5h-7zM782 1527h6v6h-6zM789 1553h4v6h-4zM808 1551h7v5h-7zM792 1529h6v5h-6zM830 1539h5v7h-5zM823 1538h7v7h-7zM847 1534h7v6h-7zM885 1544h6v5h-6zM890 1550h5v5h-5zM925 1531h5v5h-5zM906 1531h6v5h-6zM914 1552h5v7h-5zM969 1535h5v5h-5zM992 1536h5v5h-5zM991 1534h4v7h-4zM991 1553h6v7h-6zM1093 1529h5v5h-5zM1155 1552h5v4h-5zM1130 1549h6v5h-6zM735 1561h5v6h-5zM743 1561h7v5h-7zM728 1563h7v5h-7zM717 1564h5v5h-5zM769 1577h5v5h-5zM778 1562h6v5h-6zM749 1554h7v6h-7zM781 1558h5v7h-5zM794 1556h6v6h-6zM828 1556h4v5h-4zM883 1563h5v7h-5zM887 1576h6v5h-6zM886 1579h7v5h-7zM927 1562h6v5h-6zM921 1580h7v6h-7zM957 1574h6v5h-6zM1046 1578h5v5h-5zM1049 1561h5v6h-5zM1081 1573h6v5h-6zM1136 1559h5v7h-5zM1136 1581h7v6h-7zM1191 1571h4v4h-4zM732 1595h6v5h-6zM769 1595h5v4h-5zM766 1600h4v7h-4zM754 1609h6v5h-6zM776 1613h4v4h-4zM769 1601h5v5h-5zM780 1610h6v7h-6zM801 1606h5v7h-5zM841 1614h5v7h-5zM898 1596h5v4h-5zM922 1609h6v5h-6zM926 1608h5v5h-5zM935 1602h5v7h-5zM929 1615h5v5h-5zM956 1585h5v5h-5zM955 1594h7v7h-7zM982 1610h4v5h-4zM966 1601h7v5h-7zM1004 1614h4v6h-4zM1030 1608h5v5h-5zM1010 1613h6v5h-6zM1029 1603h7v5h-7zM1030 1612h7v7h-7zM1077 1605h7v4h-7zM1072 1606h6v7h-6zM1115 1588h5v7h-5zM1199 1597h7v6h-7zM734 1621h4v7h-4zM809 1644h6v4h-6zM788 1620h7v5h-7zM813 1631h4v5h-4zM880 1624h5v4h-5zM889 1618h7v6h-7zM900 1637h5v5h-5zM928 1635h4v6h-4zM920 1627h5v5h-5zM920 1619h7v4h-7zM946 1618h6v7h-6zM997 1631h5v7h-5zM1015 1634h5v6h-5zM1057 1632h6v7h-6zM1047 1621h6v6h-6zM1075 1628h4v5h-4zM1109 1619h7v6h-7zM1104 1626h4v7h-4zM1111 1615h6v7h-6zM1141 1633h6v6h-6zM1145 1632h6v5h-6zM1140 1632h4v6h-4zM1210 1624h6v5h-6zM1196 1628h5v6h-5zM717 1674h4v6h-4zM766 1657h5v6h-5zM762 1670h7v4h-7zM790 1670h6v7h-6zM788 1652h6v5h-6zM817 1651h6v5h-6zM870 1670h5v5h-5zM865 1671h5v6h-5zM874 1675h7v7h-7zM932 1675h6v6h-6zM917 1665h6v5h-6zM961 1653h4v6h-4zM989 1661h5v5h-5zM974 1666h6v6h-6zM973 1654h6v4h-6zM1021 1676h6v4h-6zM1073 1647h5v5h-5zM1160 1649h7v6h-7zM1192 1652h4v7h-4zM1210 1654h6v4h-6z' fill='#fad42e'/>
<path d='M787 1192h5v7h-5zM856 1204h6v4h-6zM843 1207h5v7h-5zM1126 1195h5v4h-5zM1083 1242h6v7h-6zM1079 1241h5v5h-5zM1147 1227h6v5h-6zM1180 1229h5v6h-5zM1162 1243h5v6h-5zM745 1252h6v5h-6zM956 1270h6v6h-6zM943 1278h6v7h-6zM1010 1269h5v6h-5zM1174 1276h5v7h-5zM750 1284h6v6h-6zM771 1289h6v5h-6zM817 1291h5v6h-5zM810 1291h7v6h-7zM844 1282h7v7h-7zM884 1297h4v5h-4zM904 1296h5v4h-5zM933 1302h4v6h-4zM1096 1309h4v7h-4zM1133 1312h5v5h-5zM743 1329h4v6h-4zM802 1334h4v4h-4zM862 1337h5v7h-5zM845 1320h7v6h-7zM930 1328h5v5h-5zM951 1323h4v6h-4zM1032 1322h7v5h-7zM743 1351h6v5h-6zM722 1353h4v7h-4zM790 1358h4v7h-4zM860 1371h5v7h-5zM909 1350h4v5h-4zM962 1352h6v5h-6zM972 1365h4v4h-4zM1050 1348h5v5h-5zM756 1381h4v4h-4zM766 1377h7v5h-7zM889 1392h5v4h-5zM902 1380h5v4h-5zM961 1397h6v5h-6zM1174 1397h6v6h-6zM1161 1393h6v5h-6zM726 1422h5v6h-5zM938 1413h6v4h-6zM718 1444h5v4h-5zM903 1435h6v4h-6zM888 1452h7v6h-7zM920 1446h6v7h-6zM937 1464h6v5h-6zM946 1446h5v5h-5zM1035 1445h4v5h-4zM1068 1440h6v6h-6zM1176 1462h5v6h-5zM1203 1458h6v4h-6zM875 1464h6v5h-6zM1081 1490h7v4h-7zM778 1522h4v5h-4zM786 1494h7v6h-7zM950 1516h6v5h-6zM720 1534h7v6h-7zM831 1538h6v6h-6zM934 1548h5v6h-5zM1052 1544h6v6h-6zM1153 1527h4v6h-4zM1194 1538h6v6h-6zM782 1563h5v4h-5zM881 1570h4v4h-4zM1098 1558h5v5h-5zM1101 1575h5v4h-5zM727 1595h7v7h-7zM786 1607h7v6h-7zM927 1610h5v7h-5zM1004 1601h6v5h-6zM1069 1611h5v6h-5zM1175 1599h7v7h-7zM1163 1596h5v7h-5zM1189 1596h6v5h-6zM724 1635h6v5h-6zM773 1634h6v4h-6zM774 1625h5v5h-5zM798 1619h5v7h-5zM909 1637h6v5h-6zM1099 1616h7v6h-7zM826 1664h7v5h-7zM892 1671h6v6h-6zM880 1652h5v6h-5zM948 1671h6v5h-6zM998 1672h4v5h-4zM1005 1656h6v7h-6zM1088 1663h5v5h-5zM1096 1651h4v5h-4zM1114 1670h6v7h-6zM1169 1652h6v4h-6z' fill='#f6de29'/>
<polygon points='1106.9,1456.7 1141.5,1452.9 1220.9,1471.7 1220.9,1599.9 1172.4,1592.4 1122.2,1603.7 1064.6,1596.1 1074.2,1532.1 1087.7,1486.8' fill='#2e85f8' fill-opacity='0.9'/>
<polygon points='902.9,1415.2 983.7,1422.8 1064.6,1452.9 1087.7,1486.8 1074.2,1532.1 1064.6,1588.6 987.6,1592.4 899.1,1592.4' fill='#2e85f8' fill-opacity='0.9'/>
<polygon points='781.9,1389.1 878.6,1397.2 878.3,1532.1 843.6,1545.0 776.1,1526.1' fill='#2d8cf3' fill-opacity='0.9'/>
<polygon points='1053.3,1248.2 1137.6,1239.1 1142.8,1285.4 1130.4,1287.4 1053.3,1271.3' fill='#2a92ee' fill-opacity='0.9'/>
<polygon points='1145.9,1233.1 1220.9,1218.0 1220.9,1471.7 1141.5,1452.9 1145.9,1394.2' fill='#2a92ee' fill-opacity='0.9'/>
<polygon points='1020.1,1264.6 1129.1,1288.1 1138.7,1294.8 1142.7,1315.6 1138.7,1343.9 1133.0,1359.0 1125.3,1374.0 1115.0,1406.2 1103.7,1434.4 991.6,1412.3 997.9,1381.7' fill='none' stroke='#4758f8' stroke-width='26' stroke-linejoin='round'/>
<polygon points='1020.1,1264.6 1129.1,1288.1 1138.7,1294.8 1142.7,1315.6 1138.7,1343.9 1133.0,1359.0 1125.3,1374.0 1115.0,1406.2 1103.7,1434.4 991.6,1412.3 997.9,1381.7' fill='#465ffb'/>
<polygon points='1026.9,1346.7 1129.1,1363.8 1126.2,1381.7 1115.6,1383.6 1113.7,1406.2 1094.5,1427.0 1009.5,1410.1' fill='#3f6eff'/>
<polyline points='718.9,1259.2 837.4,1251.7 969.0,1241.1 1043.0,1236.1 1220.9,1210.9' fill='none' stroke='#4755f6' stroke-width='16.1'/>
<polyline points='1151.2,1235.0 1148.7,1272.3 1143.6,1322.2 1138.6,1372.0 1120.7,1431.8 1100.3,1461.7 1085.1,1491.6 1074.9,1531.5 1064.6,1571.4 1054.6,1621.2 1041.8,1679.1' fill='none' stroke='#484ef1' stroke-width='6.0' stroke-linejoin='round'/>
<polyline points='718.9,1353.6 845.9,1385.6 984.4,1419.5 1103.8,1457.3' fill='none' stroke='#484ef1' stroke-width='6.0' stroke-linejoin='round'/>
<polyline points='876.5,1262.8 889.1,1382.0 883.7,1444.5 876.4,1521.5 866.2,1595.5 856.0,1679.1' fill='none' stroke='#484ef1' stroke-width='6.0' stroke-linejoin='round'/>
<polyline points='795.7,1390.8 776.6,1529.7' fill='none' stroke='#484ef1' stroke-width='6.0' stroke-linejoin='round'/>
<polyline points='1012.4,1261.3 992.4,1411.7' fill='none' stroke='#484ef1' stroke-width='6.0' stroke-linejoin='round'/>
<polyline points='987.8,1419.9 1065.2,1503.9' fill='none' stroke='#484ef1' stroke-width='6.0' stroke-linejoin='round'/>
<polyline points='1115.0,1452.6 1220.9,1474.7' fill='none' stroke='#484ef1' stroke-width='3.0' stroke-opacity='0.8'/>
<polyline points='903.6,1540.3 1057.1,1511.2' fill='none' stroke='#484ef1' stroke-width='3.0' stroke-opacity='0.8'/>
<rect x='808.5' y='1481.9' width='39.6' height='44.5' fill='#484aee'/>
<rect x='793.7' y='1402.7' width='29.7' height='34.6' fill='#4755f6'/>
<rect x='922.4' y='1417.5' width='34.6' height='24.8' fill='#4367fd'/>
</g>
<clipPath id='mch'><rect x='713.1' y='1784.1' width='493.9' height='483.9'/></clipPath>
<g clip-path='url(#mch)'>
<g filter='url(#mblur)'>
<rect x='682.2' y='1753.9' width='31.5' height='30.8' fill='#1caadf'/>
<rect x='713.1' y='1753.9' width='31.5' height='30.8' fill='#1caadf'/>
<rect x='744.0' y='1753.9' width='31.5' height='30.8' fill='#2d8cf3'/>
<rect x='774.8' y='1753.9' width='31.5' height='30.8' fill='#347afd'/>
<rect x='805.7' y='1753.9' width='31.5' height='30.8' fill='#2d8cf3'/>
<rect x='836.6' y='1753.9' width='31.5' height='30.8' fill='#4367fd'/>
<rect x='867.4' y='1753.9' width='31.5' height='30.8' fill='#347afd'/>
<rect x='898.3' y='1753.9' width='31.5' height='30.8' fill='#259ce7'/>
<rect x='929.2' y='1753.9' width='31.5' height='30.8' fill='#259ce7'/>
<rect x='960.0' y='1753.9' width='31.5' height='30.8' fill='#2d8cf3'/>
<rect x='990.9' y='1753.9' width='31.5' height='30.8' fill='#347afd'/>
<rect x='1021.8' y='1753.9' width='31.5' height='30.8' fill='#4367fd'/>
<rect x='1052.7' y='1753.9' width='31.5' height='30.8' fill='#4367fd'/>
<rect x='1083.5' y='1753.9' width='31.5' height='30.8' fill='#4367fd'/>
<rect x='1114.4' y='1753.9' width='31.5' height='30.8' fill='#347afd'/>
<rect x='1145.3' y='1753.9' width='31.5' height='30.8' fill='#347afd'/>
<rect x='1176.1' y='1753.9' width='31.5' height='30.8' fill='#347afd'/>
<rect x='1207.0' y='1753.9' width='31.5' height='30.8' fill='#347afd'/>
<rect x='682.2' y='1784.1' width='31.5' height='30.8' fill='#1caadf'/>
<rect x='713.1' y='1784.1' width='31.5' height='30.8' fill='#1caadf'/>
<rect x='744.0' y='1784.1' width='31.5' height='30.8' fill='#2d8cf3'/>
<rect x='774.8' y='1784.1' width='31.5' height='30.8' fill='#347afd'/>
<rect x='805.7' y='1784.1' width='31.5' height='30.8' fill='#2d8cf3'/>
<rect x='836.6' y='1784.1' width='31.5' height='30.8' fill='#4367fd'/>
<rect x='867.4' y='1784.1' width='31.5' height='30.8' fill='#347afd'/>
<rect x='898.3' y='1784.1' width='31.5' height='30.8' fill='#259ce7'/>
<rect x='929.2' y='1784.1' width='31.5' height='30.8' fill='#259ce7'/>
<rect x='960.0' y='1784.1' width='31.5' height='30.8' fill='#2d8cf3'/>
<rect x='990.9' y='1784.1' width='31.5' height='30.8' fill='#347afd'/>
<rect x='1021.8' y='1784.1' width='31.5' height='30.8' fill='#4367fd'/>
<rect x='1052.7' y='1784.1' width='31.5' height='30.8' fill='#4367fd'/>
<rect x='1083.5' y='1784.1' width='31.5' height='30.8' fill='#4367fd'/>
<rect x='1114.4' y='1784.1' width='31.5' height='30.8' fill='#347afd'/>
<rect x='1145.3' y='1784.1' width='31.5' height='30.8' fill='#347afd'/>
<rect x='1176.1' y='1784.1' width='31.5' height='30.8' fill='#347afd'/>
<rect x='1207.0' y='1784.1' width='31.5' height='30.8' fill='#347afd'/>
<rect x='682.2' y='1814.3' width='31.5' height='30.8' fill='#259ce7'/>
<rect x='713.1' y='1814.3' width='31.5' height='30.8' fill='#259ce7'/>
<rect x='744.0' y='1814.3' width='31.5' height='30.8' fill='#2d8cf3'/>
<rect x='774.8' y='1814.3' width='31.5' height='30.8' fill='#2d8cf3'/>
<rect x='805.7' y='1814.3' width='31.5' height='30.8' fill='#2d8cf3'/>
<rect x='836.6' y='1814.3' width='31.5' height='30.8' fill='#347afd'/>
<rect x='867.4' y='1814.3' width='31.5' height='30.8' fill='#2d8cf3'/>
<rect x='898.3' y='1814.3' width='31.5' height='30.8' fill='#2d8cf3'/>
<rect x='929.2' y='1814.3' width='31.5' height='30.8' fill='#259ce7'/>
<rect x='960.0' y='1814.3' width='31.5' height='30.8' fill='#259ce7'/>
<rect x='990.9' y='1814.3' width='31.5' height='30.8' fill='#259ce7'/>
<rect x='1021.8' y='1814.3' width='31.5' height='30.8' fill='#259ce7'/>
<rect x='1052.7' y='1814.3' width='31.5' height='30.8' fill='#259ce7'/>
<rect x='1083.5' y='1814.3' width='31.5' height='30.8' fill='#259ce7'/>
<rect x='1114.4' y='1814.3' width='31.5' height='30.8' fill='#259ce7'/>
<rect x='1145.3' y='1814.3' width='31.5' height='30.8' fill='#259ce7'/>
<rect x='1176.1' y='1814.3' width='31.5' height='30.8' fill='#259ce7'/>
<rect x='1207.0' y='1814.3' width='31.5' height='30.8' fill='#259ce7'/>
<rect x='682.2' y='1844.6' width='31.5' height='30.8' fill='#259ce7'/>
<rect x='713.1' y='1844.6' width='31.5' height='30.8' fill='#259ce7'/>
<rect x='744.0' y='1844.6' width='31.5' height='30.8' fill='#05b6ce'/>
<rect x='774.8' y='1844.6' width='31.5' height='30.8' fill='#259ce7'/>
<rect x='805.7' y='1844.6' width='31.5' height='30.8' fill='#259ce7'/>
<rect x='836.6' y='1844.6' width='31.5' height='30.8' fill='#259ce7'/>
<rect x='867.4' y='1844.6' width='31.5' height='30.8' fill='#259ce7'/>
<rect x='898.3' y='1844.6' width='31.5' height='30.8' fill='#259ce7'/>
<rect x='929.2' y='1844.6' width='31.5' height='30.8' fill='#259ce7'/>
<rect x='960.0' y='1844.6' width='31.5' height='30.8' fill='#2d8cf3'/>
<rect x='990.9' y='1844.6' width='31.5' height='30.8' fill='#2d8cf3'/>
<rect x='1021.8' y='1844.6' width='31.5' height='30.8' fill='#2d8cf3'/>
<rect x='1052.7' y='1844.6' width='31.5' height='30.8' fill='#2d8cf3'/>
<rect x='1083.5' y='1844.6' width='31.5' height='30.8' fill='#2d8cf3'/>
<rect x='1114.4' y='1844.6' width='31.5' height='30.8' fill='#2d8cf3'/>
<rect x='1145.3' y='1844.6' width='31.5' height='30.8' fill='#2d8cf3'/>
<rect x='1176.1' y='1844.6' width='31.5' height='30.8' fill='#347afd'/>
<rect x='1207.0' y='1844.6' width='31.5' height='30.8' fill='#347afd'/>
<rect x='682.2' y='1874.8' width='31.5' height='30.8' fill='#2d8cf3'/>
<rect x='713.1' y='1874.8' width='31.5' height='30.8' fill='#2d8cf3'/>
<rect x='744.0' y='1874.8' width='31.5' height='30.8' fill='#2d8cf3'/>
<rect x='774.8' y='1874.8' width='31.5' height='30.8' fill='#2d8cf3'/>
<rect x='805.7' y='1874.8' width='31.5' height='30.8' fill='#2d8cf3'/>
<rect x='836.6' y='1874.8' width='31.5' height='30.8' fill='#347afd'/>
<rect x='867.4' y='1874.8' width='31.5' height='30.8' fill='#4367fd'/>
<rect x='898.3' y='1874.8' width='31.5' height='30.8' fill='#347afd'/>
<rect x='929.2' y='1874.8' width='31.5' height='30.8' fill='#347afd'/>
<rect x='960.0' y='1874.8' width='31.5' height='30.8' fill='#347afd'/>
<rect x='990.9' y='1874.8' width='31.5' height='30.8' fill='#2d8cf3'/>
<rect x='1021.8' y='1874.8' width='31.5' height='30.8' fill='#2d8cf3'/>
<rect x='1052.7' y='1874.8' width='31.5' height='30.8' fill='#2d8cf3'/>
<rect x='1083.5' y='1874.8' width='31.5' height='30.8' fill='#2d8cf3'/>
<rect x='1114.4' y='1874.8' width='31.5' height='30.8' fill='#2d8cf3'/>
<rect x='1145.3' y='1874.8' width='31.5' height='30.8' fill='#2d8cf3'/>
<rect x='1176.1' y='1874.8' width='31.5' height='30.8' fill='#347afd'/>
<rect x='1207.0' y='1874.8' width='31.5' height='30.8' fill='#347afd'/>
<rect x='682.2' y='1905.1' width='31.5' height='30.8' fill='#347afd'/>
<rect x='713.1' y='1905.1' width='31.5' height='30.8' fill='#347afd'/>
<rect x='744.0' y='1905.1' width='31.5' height='30.8' fill='#2d8cf3'/>
<rect x='774.8' y='1905.1' width='31.5' height='30.8' fill='#2d8cf3'/>
<rect x='805.7' y='1905.1' width='31.5' height='30.8' fill='#2d8cf3'/>
<rect x='836.6' y='1905.1' width='31.5' height='30.8' fill='#4367fd'/>
<rect x='867.4' y='1905.1' width='31.5' height='30.8' fill='#4367fd'/>
<rect x='898.3' y='1905.1' width='31.5' height='30.8' fill='#347afd'/>
<rect x='929.2' y='1905.1' width='31.5' height='30.8' fill='#347afd'/>
<rect x='960.0' y='1905.1' width='31.5' height='30.8' fill='#347afd'/>
<rect x='990.9' y='1905.1' width='31.5' height='30.8' fill='#2d8cf3'/>
<rect x='1021.8' y='1905.1' width='31.5' height='30.8' fill='#05b6ce'/>
<rect x='1052.7' y='1905.1' width='31.5' height='30.8' fill='#259ce7'/>
<rect x='1083.5' y='1905.1' width='31.5' height='30.8' fill='#2d8cf3'/>
<rect x='1114.4' y='1905.1' width='31.5' height='30.8' fill='#2d8cf3'/>
<rect x='1145.3' y='1905.1' width='31.5' height='30.8' fill='#2d8cf3'/>
<rect x='1176.1' y='1905.1' width='31.5' height='30.8' fill='#347afd'/>
<rect x='1207.0' y='1905.1' width='31.5' height='30.8' fill='#347afd'/>
<rect x='682.2' y='1935.3' width='31.5' height='30.8' fill='#347afd'/>
<rect x='713.1' y='1935.3' width='31.5' height='30.8' fill='#347afd'/>
<rect x='744.0' y='1935.3' width='31.5' height='30.8' fill='#347afd'/>
<rect x='774.8' y='1935.3' width='31.5' height='30.8' fill='#347afd'/>
<rect x='805.7' y='1935.3' width='31.5' height='30.8' fill='#2d8cf3'/>
<rect x='836.6' y='1935.3' width='31.5' height='30.8' fill='#4367fd'/>
<rect x='867.4' y='1935.3' width='31.5' height='30.8' fill='#4367fd'/>
<rect x='898.3' y='1935.3' width='31.5' height='30.8' fill='#347afd'/>
<rect x='929.2' y='1935.3' width='31.5' height='30.8' fill='#347afd'/>
<rect x='960.0' y='1935.3' width='31.5' height='30.8' fill='#347afd'/>
<rect x='990.9' y='1935.3' width='31.5' height='30.8' fill='#1caadf'/>
<rect x='1021.8' y='1935.3' width='31.5' height='30.8' fill='#48cb86'/>
<rect x='1052.7' y='1935.3' width='31.5' height='30.8' fill='#48cb86'/>
<rect x='1083.5' y='1935.3' width='31.5' height='30.8' fill='#2fc5a2'/>
<rect x='1114.4' y='1935.3' width='31.5' height='30.8' fill='#2d8cf3'/>
<rect x='1145.3' y='1935.3' width='31.5' height='30.8' fill='#2d8cf3'/>
<rect x='1176.1' y='1935.3' width='31.5' height='30.8' fill='#347afd'/>
<rect x='1207.0' y='1935.3' width='31.5' height='30.8' fill='#347afd'/>
<rect x='682.2' y='1965.6' width='31.5' height='30.8' fill='#4367fd'/>
<rect x='713.1' y='1965.6' width='31.5' height='30.8' fill='#4367fd'/>
<rect x='744.0' y='1965.6' width='31.5' height='30.8' fill='#347afd'/>
<rect x='774.8' y='1965.6' width='31.5' height='30.8' fill='#347afd'/>
<rect x='805.7' y='1965.6' width='31.5' height='30.8' fill='#2d8cf3'/>
<rect x='836.6' y='1965.6' width='31.5' height='30.8' fill='#2d8cf3'/>
<rect x='867.4' y='1965.6' width='31.5' height='30.8' fill='#347afd'/>
<rect x='898.3' y='1965.6' width='31.5' height='30.8' fill='#347afd'/>
<rect x='929.2' y='1965.6' width='31.5' height='30.8' fill='#2d8cf3'/>
<rect x='960.0' y='1965.6' width='31.5' height='30.8' fill='#2d8cf3'/>
<rect x='990.9' y='1965.6' width='31.5' height='30.8' fill='#12beb9'/>
<rect x='1021.8' y='1965.6' width='31.5' height='30.8' fill='#48cb86'/>
<rect x='1052.7' y='1965.6' width='31.5' height='30.8' fill='#48cb86'/>
<rect x='1083.5' y='1965.6' width='31.5' height='30.8' fill='#2fc5a2'/>
<rect x='1114.4' y='1965.6' width='31.5' height='30.8' fill='#2d8cf3'/>
<rect x='1145.3' y='1965.6' width='31.5' height='30.8' fill='#2d8cf3'/>
<rect x='1176.1' y='1965.6' width='31.5' height='30.8' fill='#347afd'/>
<rect x='1207.0' y='1965.6' width='31.5' height='30.8' fill='#347afd'/>
<rect x='682.2' y='1995.8' width='31.5' height='30.8' fill='#4367fd'/>
<rect x='713.1' y='1995.8' width='31.5' height='30.8' fill='#4367fd'/>
<rect x='744.0' y='1995.8' width='31.5' height='30.8' fill='#347afd'/>
<rect x='774.8' y='1995.8' width='31.5' height='30.8' fill='#347afd'/>
<rect x='805.7' y='1995.8' width='31.5' height='30.8' fill='#2d8cf3'/>
<rect x='836.6' y='1995.8' width='31.5' height='30.8' fill='#2d8cf3'/>
<rect x='867.4' y='1995.8' width='31.5' height='30.8' fill='#347afd'/>
<rect x='898.3' y='1995.8' width='31.5' height='30.8' fill='#259ce7'/>
<rect x='929.2' y='1995.8' width='31.5' height='30.8' fill='#2d8cf3'/>
<rect x='960.0' y='1995.8' width='31.5' height='30.8' fill='#2d8cf3'/>
<rect x='990.9' y='1995.8' width='31.5' height='30.8' fill='#259ce7'/>
<rect x='1021.8' y='1995.8' width='31.5' height='30.8' fill='#1caadf'/>
<rect x='1052.7' y='1995.8' width='31.5' height='30.8' fill='#05b6ce'/>
<rect x='1083.5' y='1995.8' width='31.5' height='30.8' fill='#259ce7'/>
<rect x='1114.4' y='1995.8' width='31.5' height='30.8' fill='#2d8cf3'/>
<rect x='1145.3' y='1995.8' width='31.5' height='30.8' fill='#2d8cf3'/>
<rect x='1176.1' y='1995.8' width='31.5' height='30.8' fill='#347afd'/>
<rect x='1207.0' y='1995.8' width='31.5' height='30.8' fill='#347afd'/>
<rect x='682.2' y='2026.0' width='31.5' height='30.8' fill='#4367fd'/>
<rect x='713.1' y='2026.0' width='31.5' height='30.8' fill='#4367fd'/>
<rect x='744.0' y='2026.0' width='31.5' height='30.8' fill='#347afd'/>
<rect x='774.8' y='2026.0' width='31.5' height='30.8' fill='#2d8cf3'/>
<rect x='805.7' y='2026.0' width='31.5' height='30.8' fill='#347afd'/>
<rect x='836.6' y='2026.0' width='31.5' height='30.8' fill='#347afd'/>
<rect x='867.4' y='2026.0' width='31.5' height='30.8' fill='#4367fd'/>
<rect x='898.3' y='2026.0' width='31.5' height='30.8' fill='#347afd'/>
<rect x='929.2' y='2026.0' width='31.5' height='30.8' fill='#347afd'/>
<rect x='960.0' y='2026.0' width='31.5' height='30.8' fill='#2d8cf3'/>
<rect x='990.9' y='2026.0' width='31.5' height='30.8' fill='#347afd'/>
<rect x='1021.8' y='2026.0' width='31.5' height='30.8' fill='#2d8cf3'/>
<rect x='1052.7' y='2026.0' width='31.5' height='30.8' fill='#2d8cf3'/>
<rect x='1083.5' y='2026.0' width='31.5' height='30.8' fill='#2d8cf3'/>
<rect x='1114.4' y='2026.0' width='31.5' height='30.8' fill='#2d8cf3'/>
<rect x='1145.3' y='2026.0' width='31.5' height='30.8' fill='#347afd'/>
<rect x='1176.1' y='2026.0' width='31.5' height='30.8' fill='#347afd'/>
<rect x='1207.0' y='2026.0' width='31.5' height='30.8' fill='#347afd'/>
<rect x='682.2' y='2056.3' width='31.5' height='30.8' fill='#4367fd'/>
<rect x='713.1' y='2056.3' width='31.5' height='30.8' fill='#4367fd'/>
<rect x='744.0' y='2056.3' width='31.5' height='30.8' fill='#347afd'/>
<rect x='774.8' y='2056.3' width='31.5' height='30.8' fill='#2d8cf3'/>
<rect x='805.7' y='2056.3' width='31.5' height='30.8' fill='#2d8cf3'/>
<rect x='836.6' y='2056.3' width='31.5' height='30.8' fill='#2d8cf3'/>
<rect x='867.4' y='2056.3' width='31.5' height='30.8' fill='#4367fd'/>
<rect x='898.3' y='2056.3' width='31.5' height='30.8' fill='#347afd'/>
<rect x='929.2' y='2056.3' width='31.5' height='30.8' fill='#347afd'/>
<rect x='960.0' y='2056.3' width='31.5' height='30.8' fill='#347afd'/>
<rect x='990.9' y='2056.3' width='31.5' height='30.8' fill='#347afd'/>
<rect x='1021.8' y='2056.3' width='31.5' height='30.8' fill='#2d8cf3'/>
<rect x='1052.7' y='2056.3' width='31.5' height='30.8' fill='#2d8cf3'/>
<rect x='1083.5' y='2056.3' width='31.5' height='30.8' fill='#347afd'/>
<rect x='1114.4' y='2056.3' width='31.5' height='30.8' fill='#347afd'/>
<rect x='1145.3' y='2056.3' width='31.5' height='30.8' fill='#347afd'/>
<rect x='1176.1' y='2056.3' width='31.5' height='30.8' fill='#347afd'/>
<rect x='1207.0' y='2056.3' width='31.5' height='30.8' fill='#347afd'/>
<rect x='682.2' y='2086.5' width='31.5' height='30.8' fill='#4367fd'/>
<rect x='713.1' y='2086.5' width='31.5' height='30.8' fill='#4367fd'/>
<rect x='744.0' y='2086.5' width='31.5' height='30.8' fill='#347afd'/>
<rect x='774.8' y='2086.5' width='31.5' height='30.8' fill='#2d8cf3'/>
<rect x='805.7' y='2086.5' width='31.5' height='30.8' fill='#259ce7'/>
<rect x='836.6' y='2086.5' width='31.5' height='30.8' fill='#2d8cf3'/>
<rect x='867.4' y='2086.5' width='31.5' height='30.8' fill='#4367fd'/>
<rect x='898.3' y='2086.5' width='31.5' height='30.8' fill='#347afd'/>
<rect x='929.2' y='2086.5' width='31.5' height='30.8' fill='#347afd'/>
<rect x='960.0' y='2086.5' width='31.5' height='30.8' fill='#347afd'/>
<rect x='990.9' y='2086.5' width='31.5' height='30.8' fill='#347afd'/>
<rect x='1021.8' y='2086.5' width='31.5' height='30.8' fill='#347afd'/>
<rect x='1052.7' y='2086.5' width='31.5' height='30.8' fill='#2d8cf3'/>
<rect x='1083.5' y='2086.5' width='31.5' height='30.8' fill='#347afd'/>
<rect x='1114.4' y='2086.5' width='31.5' height='30.8' fill='#347afd'/>
<rect x='1145.3' y='2086.5' width='31.5' height='30.8' fill='#347afd'/>
<rect x='1176.1' y='2086.5' width='31.5' height='30.8' fill='#347afd'/>
<rect x='1207.0' y='2086.5' width='31.5' height='30.8' fill='#347afd'/>
<rect x='682.2' y='2116.8' width='31.5' height='30.8' fill='#4367fd'/>
<rect x='713.1' y='2116.8' width='31.5' height='30.8' fill='#4367fd'/>
<rect x='744.0' y='2116.8' width='31.5' height='30.8' fill='#347afd'/>
<rect x='774.8' y='2116.8' width='31.5' height='30.8' fill='#347afd'/>
<rect x='805.7' y='2116.8' width='31.5' height='30.8' fill='#347afd'/>
<rect x='836.6' y='2116.8' width='31.5' height='30.8' fill='#347afd'/>
<rect x='867.4' y='2116.8' width='31.5' height='30.8' fill='#4367fd'/>
<rect x='898.3' y='2116.8' width='31.5' height='30.8' fill='#4367fd'/>
<rect x='929.2' y='2116.8' width='31.5' height='30.8' fill='#347afd'/>
<rect x='960.0' y='2116.8' width='31.5' height='30.8' fill='#347afd'/>
<rect x='990.9' y='2116.8' width='31.5' height='30.8' fill='#347afd'/>
<rect x='1021.8' y='2116.8' width='31.5' height='30.8' fill='#347afd'/>
<rect x='1052.7' y='2116.8' width='31.5' height='30.8' fill='#2d8cf3'/>
<rect x='1083.5' y='2116.8' width='31.5' height='30.8' fill='#347afd'/>
<rect x='1114.4' y='2116.8' width='31.5' height='30.8' fill='#347afd'/>
<rect x='1145.3' y='2116.8' width='31.5' height='30.8' fill='#347afd'/>
<rect x='1176.1' y='2116.8' width='31.5' height='30.8' fill='#347afd'/>
<rect x='1207.0' y='2116.8' width='31.5' height='30.8' fill='#347afd'/>
<rect x='682.2' y='2147.0' width='31.5' height='30.8' fill='#4367fd'/>
<rect x='713.1' y='2147.0' width='31.5' height='30.8' fill='#4367fd'/>
<rect x='744.0' y='2147.0' width='31.5' height='30.8' fill='#4367fd'/>
<rect x='774.8' y='2147.0' width='31.5' height='30.8' fill='#347afd'/>
<rect x='805.7' y='2147.0' width='31.5' height='30.8' fill='#347afd'/>
<rect x='836.6' y='2147.0' width='31.5' height='30.8' fill='#347afd'/>
<rect x='867.4' y='2147.0' width='31.5' height='30.8' fill='#4367fd'/>
<rect x='898.3' y='2147.0' width='31.5' height='30.8' fill='#4367fd'/>
<rect x='929.2' y='2147.0' width='31.5' height='30.8' fill='#4367fd'/>
<rect x='960.0' y='2147.0' width='31.5' height='30.8' fill='#347afd'/>
<rect x='990.9' y='2147.0' width='31.5' height='30.8' fill='#347afd'/>
<rect x='1021.8' y='2147.0' width='31.5' height='30.8' fill='#347afd'/>
<rect x='1052.7' y='2147.0' width='31.5' height='30.8' fill='#2d8cf3'/>
<rect x='1083.5' y='2147.0' width='31.5' height='30.8' fill='#347afd'/>
<rect x='1114.4' y='2147.0' width='31.5' height='30.8' fill='#347afd'/>
<rect x='1145.3' y='2147.0' width='31.5' height='30.8' fill='#347afd'/>
<rect x='1176.1' y='2147.0' width='31.5' height='30.8' fill='#347afd'/>
<rect x='1207.0' y='2147.0' width='31.5' height='30.8' fill='#347afd'/>
<rect x='682.2' y='2177.3' width='31.5' height='30.8' fill='#4367fd'/>
<rect x='713.1' y='2177.3' width='31.5' height='30.8' fill='#4367fd'/>
<rect x='744.0' y='2177.3' width='31.5' height='30.8' fill='#4367fd'/>
<rect x='774.8' y='2177.3' width='31.5' height='30.8' fill='#347afd'/>
<rect x='805.7' y='2177.3' width='31.5' height='30.8' fill='#347afd'/>
<rect x='836.6' y='2177.3' width='31.5' height='30.8' fill='#347afd'/>
<rect x='867.4' y='2177.3' width='31.5' height='30.8' fill='#4367fd'/>
<rect x='898.3' y='2177.3' width='31.5' height='30.8' fill='#4367fd'/>
<rect x='929.2' y='2177.3' width='31.5' height='30.8' fill='#4367fd'/>
<rect x='960.0' y='2177.3' width='31.5' height='30.8' fill='#4367fd'/>
<rect x='990.9' y='2177.3' width='31.5' height='30.8' fill='#4367fd'/>
<rect x='1021.8' y='2177.3' width='31.5' height='30.8' fill='#4367fd'/>
<rect x='1052.7' y='2177.3' width='31.5' height='30.8' fill='#347afd'/>
<rect x='1083.5' y='2177.3' width='31.5' height='30.8' fill='#4367fd'/>
<rect x='1114.4' y='2177.3' width='31.5' height='30.8' fill='#4367fd'/>
<rect x='1145.3' y='2177.3' width='31.5' height='30.8' fill='#4367fd'/>
<rect x='1176.1' y='2177.3' width='31.5' height='30.8' fill='#4367fd'/>
<rect x='1207.0' y='2177.3' width='31.5' height='30.8' fill='#4367fd'/>
<rect x='682.2' y='2207.5' width='31.5' height='30.8' fill='#4367fd'/>
<rect x='713.1' y='2207.5' width='31.5' height='30.8' fill='#4367fd'/>
<rect x='744.0' y='2207.5' width='31.5' height='30.8' fill='#4367fd'/>
<rect x='774.8' y='2207.5' width='31.5' height='30.8' fill='#347afd'/>
<rect x='805.7' y='2207.5' width='31.5' height='30.8' fill='#347afd'/>
<rect x='836.6' y='2207.5' width='31.5' height='30.8' fill='#4367fd'/>
<rect x='867.4' y='2207.5' width='31.5' height='30.8' fill='#4367fd'/>
<rect x='898.3' y='2207.5' width='31.5' height='30.8' fill='#4367fd'/>
<rect x='929.2' y='2207.5' width='31.5' height='30.8' fill='#4367fd'/>
<rect x='960.0' y='2207.5' width='31.5' height='30.8' fill='#4367fd'/>
<rect x='990.9' y='2207.5' width='31.5' height='30.8' fill='#4367fd'/>
<rect x='1021.8' y='2207.5' width='31.5' height='30.8' fill='#4367fd'/>
<rect x='1052.7' y='2207.5' width='31.5' height='30.8' fill='#347afd'/>
<rect x='1083.5' y='2207.5' width='31.5' height='30.8' fill='#4367fd'/>
<rect x='1114.4' y='2207.5' width='31.5' height='30.8' fill='#4367fd'/>
<rect x='1145.3' y='2207.5' width='31.5' height='30.8' fill='#4367fd'/>
<rect x='1176.1' y='2207.5' width='31.5' height='30.8' fill='#4367fd'/>
<rect x='1207.0' y='2207.5' width='31.5' height='30.8' fill='#4367fd'/>
<rect x='682.2' y='2237.8' width='31.5' height='30.8' fill='#4367fd'/>
<rect x='713.1' y='2237.8' width='31.5' height='30.8' fill='#4367fd'/>
<rect x='744.0' y='2237.8' width='31.5' height='30.8' fill='#4367fd'/>
<rect x='774.8' y='2237.8' width='31.5' height='30.8' fill='#4367fd'/>
<rect x='805.7' y='2237.8' width='31.5' height='30.8' fill='#347afd'/>
<rect x='836.6' y='2237.8' width='31.5' height='30.8' fill='#4367fd'/>
<rect x='867.4' y='2237.8' width='31.5' height='30.8' fill='#4367fd'/>
<rect x='898.3' y='2237.8' width='31.5' height='30.8' fill='#4367fd'/>
<rect x='929.2' y='2237.8' width='31.5' height='30.8' fill='#4367fd'/>
<rect x='960.0' y='2237.8' width='31.5' height='30.8' fill='#4367fd'/>
<rect x='990.9' y='2237.8' width='31.5' height='30.8' fill='#4367fd'/>
<rect x='1021.8' y='2237.8' width='31.5' height='30.8' fill='#4367fd'/>
<rect x='1052.7' y='2237.8' width='31.5' height='30.8' fill='#347afd'/>
<rect x='1083.5' y='2237.8' width='31.5' height='30.8' fill='#4367fd'/>
<rect x='1114.4' y='2237.8' width='31.5' height='30.8' fill='#4367fd'/>
<rect x='1145.3' y='2237.8' width='31.5' height='30.8' fill='#4367fd'/>
<rect x='1176.1' y='2237.8' width='31.5' height='30.8' fill='#4367fd'/>
<rect x='1207.0' y='2237.8' width='31.5' height='30.8' fill='#4367fd'/>
<rect x='682.2' y='2268.0' width='31.5' height='30.8' fill='#4367fd'/>
<rect x='713.1' y='2268.0' width='31.5' height='30.8' fill='#4367fd'/>
<rect x='744.0' y='2268.0' width='31.5' height='30.8' fill='#4367fd'/>
<rect x='774.8' y='2268.0' width='31.5' height='30.8' fill='#4367fd'/>
<rect x='805.7' y='2268.0' width='31.5' height='30.8' fill='#347afd'/>
<rect x='836.6' y='2268.0' width='31.5' height='30.8' fill='#4367fd'/>
<rect x='867.4' y='2268.0' width='31.5' height='30.8' fill='#4367fd'/>
<rect x='898.3' y='2268.0' width='31.5' height='30.8' fill='#4367fd'/>
<rect x='929.2' y='2268.0' width='31.5' height='30.8' fill='#4367fd'/>
<rect x='960.0' y='2268.0' width='31.5' height='30.8' fill='#4367fd'/>
<rect x='990.9' y='2268.0' width='31.5' height='30.8' fill='#4367fd'/>
<rect x='1021.8' y='2268.0' width='31.5' height='30.8' fill='#4367fd'/>
<rect x='1052.7' y='2268.0' width='31.5' height='30.8' fill='#347afd'/>
<rect x='1083.5' y='2268.0' width='31.5' height='30.8' fill='#4367fd'/>
<rect x='1114.4' y='2268.0' width='31.5' height='30.8' fill='#4367fd'/>
<rect x='1145.3' y='2268.0' width='31.5' height='30.8' fill='#4367fd'/>
<rect x='1176.1' y='2268.0' width='31.5' height='30.8' fill='#4367fd'/>
<rect x='1207.0' y='2268.0' width='31.5' height='30.8' fill='#4367fd'/>
</g>
<path d='M846 1794h7v9h-7zM1139 1793h7v7h-7zM744 1824h7v7h-7zM786 1831h9v7h-9zM719 1880h6v8h-6zM919 1873h9v9h-9zM890 1923h8v6h-8zM945 1929h9v5h-9zM742 1958h8v4h-8zM746 1979h6v7h-6zM789 1990h6v9h-6zM1176 1978h9v6h-9zM812 2007h8v6h-8zM886 2016h9v4h-9zM1073 2027h9v8h-9zM856 2063h5v4h-5zM722 2099h8v7h-8zM1100 2112h9v5h-9zM742 2132h4v5h-4zM788 2125h5v6h-5zM808 2143h6v5h-6zM920 2114h5v9h-5zM770 2159h6v7h-6zM747 2194h4v4h-4zM773 2178h5v8h-5zM853 2202h4v4h-4zM1037 2175h6v8h-6zM813 2220h5v5h-5zM835 2207h6v6h-6zM863 2226h7v8h-7zM998 2217h4v6h-4zM1025 2217h5v7h-5zM1141 2254h9v8h-9z' fill='#4433cc'/>
<path d='M792 1808h6v6h-6zM861 1788h8v5h-8zM848 1802h7v8h-7zM969 1786h6v5h-6zM1008 1788h9v5h-9zM1044 1788h8v8h-8zM1126 1792h5v6h-5zM1192 1795h6v8h-6zM865 1833h6v8h-6zM940 1814h5v4h-5zM1198 1831h6v5h-6zM795 1845h7v5h-7zM803 1840h5v9h-5zM905 1869h7v8h-7zM912 1845h5v7h-5zM990 1843h5v7h-5zM1004 1857h7v5h-7zM988 1843h7v8h-7zM1182 1866h8v5h-8zM726 1878h4v7h-4zM775 1895h9v5h-9zM804 1901h9v7h-9zM872 1871h7v8h-7zM876 1889h8v7h-8zM865 1872h5v8h-5zM933 1894h5v8h-5zM935 1886h8v6h-8zM982 1891h8v7h-8zM1004 1888h4v6h-4zM824 1925h9v8h-9zM813 1921h5v5h-5zM840 1921h9v7h-9zM852 1925h6v5h-6zM841 1922h6v6h-6zM851 1917h6v9h-6zM956 1907h5v5h-5zM955 1914h8v6h-8zM981 1909h8v7h-8zM718 1957h9v9h-9zM740 1956h7v5h-7zM745 1952h8v8h-8zM777 1944h8v8h-8zM776 1939h6v8h-6zM830 1961h7v6h-7zM843 1937h6v7h-6zM844 1943h7v6h-7zM867 1956h5v8h-5zM871 1946h4v8h-4zM873 1933h4v8h-4zM910 1950h8v4h-8zM949 1944h9v6h-9zM1129 1944h7v5h-7zM711 1988h8v6h-8zM731 1982h7v8h-7zM730 1984h5v7h-5zM752 1977h7v4h-7zM754 1991h8v8h-8zM815 1967h4v7h-4zM817 1987h9v5h-9zM807 1971h5v6h-5zM883 1973h8v7h-8zM899 1985h8v5h-8zM928 1985h4v9h-4zM949 1976h4v6h-4zM735 2006h5v7h-5zM795 2007h9v7h-9zM829 2004h6v8h-6zM842 2020h7v7h-7zM923 1993h8v7h-8zM940 2012h5v8h-5zM981 2010h9v5h-9zM1183 2004h5v5h-5zM711 2025h8v5h-8zM738 2042h4v8h-4zM723 2024h7v5h-7zM728 2050h8v8h-8zM758 2026h6v5h-6zM752 2036h5v9h-5zM750 2033h9v6h-9zM770 2043h6v7h-6zM776 2030h5v8h-5zM809 2022h5v8h-5zM885 2046h7v5h-7zM872 2027h7v7h-7zM898 2042h8v8h-8zM897 2027h9v6h-9zM966 2023h9v5h-9zM1047 2030h5v7h-5zM1068 2038h8v8h-8zM1053 2049h6v8h-6zM1201 2027h5v5h-5zM711 2060h5v4h-5zM731 2067h6v4h-6zM719 2063h7v4h-7zM749 2081h7v6h-7zM766 2072h6v8h-6zM751 2075h8v5h-8zM810 2060h5v9h-5zM862 2075h7v5h-7zM889 2073h6v7h-6zM896 2072h7v5h-7zM937 2055h6v8h-6zM1017 2068h7v9h-7zM1113 2076h6v8h-6zM1142 2068h5v6h-5zM714 2098h4v7h-4zM766 2084h5v9h-5zM797 2098h6v5h-6zM788 2113h7v5h-7zM893 2101h5v5h-5zM875 2106h6v5h-6zM920 2096h6v8h-6zM990 2087h9v7h-9zM1059 2093h6v7h-6zM1126 2094h9v5h-9zM720 2118h5v5h-5zM718 2138h5v7h-5zM710 2141h8v6h-8zM760 2120h7v6h-7zM762 2135h8v6h-8zM746 2133h8v6h-8zM785 2120h9v4h-9zM808 2114h5v5h-5zM865 2125h6v4h-6zM869 2133h6v6h-6zM886 2130h4v6h-4zM906 2125h5v6h-5zM895 2123h8v9h-8zM918 2127h5v4h-5zM929 2144h8v6h-8zM930 2131h4v6h-4zM927 2120h7v6h-7zM935 2132h9v8h-9zM992 2116h6v9h-6zM1047 2122h6v8h-6zM1029 2120h8v4h-8zM1062 2137h7v7h-7zM1139 2120h7v5h-7zM1134 2138h4v6h-4zM1202 2134h8v4h-8zM1176 2130h8v5h-8zM728 2159h6v7h-6zM738 2144h7v9h-7zM740 2168h7v4h-7zM743 2167h9v6h-9zM773 2165h8v8h-8zM799 2170h6v4h-6zM803 2154h8v7h-8zM822 2172h7v8h-7zM807 2160h6v7h-6zM814 2146h7v6h-7zM840 2163h7v8h-7zM895 2171h4v6h-4zM868 2156h9v8h-9zM938 2172h7v8h-7zM980 2146h9v4h-9zM969 2164h5v8h-5zM1017 2160h7v8h-7zM1015 2158h9v7h-9zM1037 2168h8v8h-8zM1053 2147h9v7h-9zM1085 2150h8v6h-8zM1134 2167h6v7h-6zM1139 2152h7v8h-7zM1160 2152h6v8h-6zM1155 2151h8v5h-8zM1153 2159h6v9h-6zM1198 2148h6v8h-6zM729 2198h4v6h-4zM731 2181h7v7h-7zM770 2181h8v4h-8zM758 2184h7v7h-7zM779 2185h5v8h-5zM798 2176h6v6h-6zM782 2182h6v6h-6zM787 2189h6v9h-6zM804 2194h6v6h-6zM803 2200h5v9h-5zM810 2196h6v6h-6zM845 2193h6v9h-6zM856 2198h6v4h-6zM852 2181h6v5h-6zM850 2184h8v8h-8zM891 2199h7v8h-7zM887 2184h7v5h-7zM880 2188h8v7h-8zM885 2177h5v6h-5zM918 2189h5v9h-5zM912 2183h8v8h-8zM910 2187h7v4h-7zM931 2173h5v8h-5zM940 2185h4v8h-4zM926 2197h7v5h-7zM966 2203h5v8h-5zM1016 2181h5v9h-5zM990 2179h8v4h-8zM1027 2196h5v8h-5zM1025 2192h7v6h-7zM1076 2196h9v7h-9zM1064 2184h5v5h-5zM1058 2185h8v4h-8zM1059 2193h7v9h-7zM1095 2196h5v5h-5zM1109 2176h5v5h-5zM1158 2188h6v7h-6zM1166 2179h7v5h-7zM1179 2196h7v5h-7zM1178 2187h4v4h-4zM723 2210h8v9h-8zM765 2231h6v6h-6zM747 2229h5v7h-5zM749 2207h9v5h-9zM754 2226h7v4h-7zM777 2214h6v6h-6zM797 2206h5v8h-5zM861 2213h5v8h-5zM836 2230h7v8h-7zM836 2231h5v4h-5zM878 2225h8v8h-8zM870 2228h6v4h-6zM898 2219h5v7h-5zM908 2225h4v6h-4zM917 2218h7v5h-7zM900 2218h4v8h-4zM936 2208h5v7h-5zM936 2232h8v9h-8zM981 2216h8v6h-8zM982 2210h8v6h-8zM986 2225h8v7h-8zM992 2223h4v9h-4zM1005 2229h6v6h-6zM1024 2226h5v5h-5zM1037 2205h9v7h-9zM1024 2218h6v6h-6zM1064 2221h7v7h-7zM1054 2230h6v7h-6zM1095 2213h6v6h-6zM1110 2217h6v9h-6zM1134 2230h6v5h-6zM1160 2230h5v6h-5zM1195 2229h5v8h-5zM719 2260h5v8h-5zM721 2238h4v9h-4zM741 2263h5v6h-5zM755 2263h6v6h-6zM744 2254h8v6h-8zM772 2255h5v5h-5zM742 2237h6v6h-6zM787 2247h9v9h-9zM783 2252h5v6h-5zM771 2257h9v4h-9zM801 2258h5v4h-5zM811 2242h8v7h-8zM826 2247h9v5h-9zM809 2261h7v6h-7zM846 2238h7v6h-7zM862 2254h6v8h-6zM843 2239h5v7h-5zM836 2248h6v7h-6zM862 2262h9v4h-9zM922 2247h7v8h-7zM922 2236h6v5h-6zM907 2241h8v5h-8zM898 2259h7v5h-7zM913 2253h8v6h-8zM933 2260h7v4h-7zM967 2263h9v5h-9zM979 2244h7v7h-7zM1001 2257h7v7h-7zM992 2255h7v5h-7zM1022 2262h4v6h-4zM1065 2238h7v5h-7zM1083 2240h6v5h-6zM1105 2258h6v8h-6zM1128 2256h7v7h-7zM1132 2256h4v8h-4zM1115 2239h6v9h-6zM1161 2238h5v7h-5zM1189 2243h4v5h-4zM1195 2259h8v6h-8z' fill='#463adc'/>
<path d='M808 1798h4v7h-4zM976 1796h7v7h-7zM1039 1795h5v6h-5zM742 1837h5v4h-5zM858 1833h8v6h-8zM1186 1823h6v8h-6zM832 1847h6v6h-6zM839 1862h6v8h-6zM974 1861h7v8h-7zM976 1850h8v6h-8zM1008 1870h7v6h-7zM1129 1851h6v6h-6zM728 1885h7v9h-7zM756 1892h6v5h-6zM781 1873h7v5h-7zM818 1899h9v8h-9zM848 1883h8v5h-8zM839 1890h9v8h-9zM882 1891h8v5h-8zM886 1884h7v7h-7zM924 1897h6v6h-6zM946 1891h7v4h-7zM934 1897h4v9h-4zM986 1901h7v5h-7zM1110 1899h5v7h-5zM713 1905h6v7h-6zM738 1921h6v7h-6zM743 1919h5v8h-5zM766 1920h9v9h-9zM791 1913h5v5h-5zM781 1928h8v7h-8zM792 1921h9v9h-9zM814 1902h4v8h-4zM827 1912h9v7h-9zM859 1930h7v9h-7zM896 1923h4v4h-4zM896 1926h5v4h-5zM956 1908h7v5h-7zM971 1904h5v4h-5zM973 1927h6v5h-6zM1119 1916h7v9h-7zM1192 1922h5v4h-5zM724 1951h8v5h-8zM714 1961h9v7h-9zM722 1934h6v9h-6zM744 1954h5v7h-5zM781 1961h5v4h-5zM824 1934h4v6h-4zM850 1935h8v7h-8zM860 1941h4v4h-4zM873 1944h6v4h-6zM889 1955h7v7h-7zM904 1938h8v9h-8zM948 1960h6v5h-6zM931 1937h5v7h-5zM930 1954h5v8h-5zM971 1951h6v4h-6zM1192 1950h8v8h-8zM1180 1956h5v7h-5zM738 1980h5v9h-5zM720 1990h4v6h-4zM723 1988h8v5h-8zM765 1970h4v5h-4zM759 1964h5v5h-5zM792 1993h7v5h-7zM776 1981h6v4h-6zM789 1993h7v5h-7zM795 1992h6v7h-6zM824 1973h6v8h-6zM926 1974h5v8h-5zM1126 1980h9v8h-9zM726 2003h5v8h-5zM765 1997h9v8h-9zM765 1994h6v6h-6zM770 2009h8v7h-8zM758 1997h8v6h-8zM803 2010h5v8h-5zM919 2022h4v7h-4zM988 2012h4v6h-4zM1002 2000h8v5h-8zM718 2048h7v7h-7zM729 2047h5v8h-5zM768 2040h7v5h-7zM755 2039h5v8h-5zM814 2033h4v4h-4zM871 2042h8v5h-8zM935 2044h5v6h-5zM930 2044h6v6h-6zM952 2043h5v5h-5zM1103 2052h8v9h-8zM1168 2038h7v8h-7zM1200 2033h7v7h-7zM718 2080h7v8h-7zM767 2063h8v6h-8zM755 2083h9v8h-9zM764 2070h5v8h-5zM795 2067h8v6h-8zM786 2079h5v6h-5zM802 2077h7v7h-7zM819 2060h6v5h-6zM912 2082h8v7h-8zM1036 2066h6v5h-6zM1161 2068h6v7h-6zM722 2088h7v7h-7zM791 2099h5v4h-5zM817 2086h9v8h-9zM817 2095h6v5h-6zM927 2113h8v7h-8zM934 2113h4v6h-4zM1056 2094h5v6h-5zM1056 2084h7v6h-7zM1105 2104h5v4h-5zM1162 2087h5v8h-5zM1171 2091h9v6h-9zM1188 2088h8v4h-8zM716 2132h8v9h-8zM756 2113h6v7h-6zM794 2126h6v6h-6zM787 2130h7v7h-7zM786 2143h7v5h-7zM806 2120h5v9h-5zM810 2141h7v4h-7zM829 2117h6v8h-6zM855 2129h8v9h-8zM941 2140h8v8h-8zM1106 2132h7v6h-7zM1171 2133h5v9h-5zM716 2162h7v6h-7zM741 2161h6v8h-6zM763 2161h6v6h-6zM749 2149h7v6h-7zM754 2156h4v7h-4zM767 2145h8v8h-8zM794 2174h6v5h-6zM784 2151h7v9h-7zM835 2152h6v5h-6zM842 2160h9v6h-9zM893 2170h8v7h-8zM923 2155h6v7h-6zM902 2167h6v8h-6zM919 2172h5v7h-5zM935 2159h4v8h-4zM965 2160h8v8h-8zM985 2155h4v9h-4zM1008 2166h7v4h-7zM1038 2156h6v9h-6zM1036 2154h8v5h-8zM1061 2165h7v6h-7zM1080 2156h8v4h-8zM1091 2162h7v5h-7zM1088 2166h8v7h-8zM1142 2148h8v4h-8zM1181 2153h8v7h-8zM721 2188h8v6h-8zM731 2175h7v7h-7zM716 2200h7v5h-7zM751 2184h8v5h-8zM767 2193h9v8h-9zM749 2203h6v4h-6zM786 2182h5v5h-5zM833 2185h7v6h-7zM871 2184h6v8h-6zM899 2204h4v6h-4zM903 2201h8v8h-8zM931 2176h9v5h-9zM937 2199h8v6h-8zM932 2197h6v4h-6zM963 2174h4v9h-4zM972 2191h6v8h-6zM1008 2180h5v7h-5zM1016 2190h8v6h-8zM1032 2176h7v4h-7zM1025 2188h8v5h-8zM1025 2181h9v6h-9zM1101 2190h9v7h-9zM1091 2180h7v6h-7zM1137 2195h8v6h-8zM1124 2204h9v6h-9zM1127 2186h6v5h-6zM1167 2189h7v7h-7zM1162 2194h5v7h-5zM1162 2192h7v9h-7zM1160 2185h7v6h-7zM1185 2189h9v7h-9zM728 2218h7v9h-7zM732 2204h9v7h-9zM740 2219h8v5h-8zM757 2213h7v8h-7zM764 2206h5v6h-5zM799 2226h7v7h-7zM806 2207h5v9h-5zM855 2231h5v5h-5zM846 2213h6v7h-6zM863 2228h5v5h-5zM893 2207h6v9h-6zM877 2226h5v6h-5zM874 2208h9v8h-9zM900 2230h8v6h-8zM947 2222h6v5h-6zM949 2218h9v5h-9zM973 2213h8v7h-8zM958 2222h5v6h-5zM999 2228h6v7h-6zM1011 2228h8v7h-8zM1018 2209h9v5h-9zM1069 2207h4v6h-4zM1136 2221h8v8h-8zM1114 2226h9v7h-9zM1181 2222h6v7h-6zM1190 2226h6v6h-6zM1200 2229h6v6h-6zM719 2250h6v7h-6zM763 2240h7v8h-7zM745 2235h4v8h-4zM789 2263h7v4h-7zM791 2261h6v6h-6zM820 2253h8v4h-8zM844 2239h7v7h-7zM859 2254h6v8h-6zM881 2247h4v7h-4zM880 2235h9v6h-9zM881 2248h6v6h-6zM870 2235h6v8h-6zM884 2245h4v7h-4zM889 2239h9v6h-9zM896 2255h7v7h-7zM948 2245h7v5h-7zM936 2238h8v8h-8zM926 2263h9v5h-9zM987 2238h6v7h-6zM960 2243h4v8h-4zM1001 2253h8v7h-8zM1023 2262h8v9h-8zM1027 2254h7v6h-7zM1037 2251h5v6h-5zM1078 2265h5v4h-5zM1051 2247h4v7h-4zM1109 2265h7v6h-7zM1089 2240h8v7h-8zM1139 2252h5v9h-5zM1148 2238h7v5h-7zM1154 2242h9v7h-9zM1182 2265h7v5h-7z' fill='#4743e7'/>
<path d='M789 1794h9v8h-9zM894 1786h5v8h-5zM883 1804h9v5h-9zM880 1800h8v5h-8zM1022 1801h6v8h-6zM1061 1801h7v6h-7zM1102 1810h4v8h-4zM1165 1783h5v8h-5zM762 1816h9v7h-9zM865 1832h4v5h-4zM1013 1841h5v4h-5zM1047 1810h6v8h-6zM845 1864h8v8h-8zM969 1844h4v5h-4zM744 1885h7v8h-7zM784 1886h6v7h-6zM827 1895h7v5h-7zM820 1872h6v7h-6zM806 1878h7v8h-7zM902 1893h7v5h-7zM940 1881h7v6h-7zM970 1880h6v6h-6zM996 1876h5v9h-5zM1103 1876h6v7h-6zM1146 1879h4v7h-4zM1181 1879h7v6h-7zM716 1906h4v5h-4zM739 1931h9v5h-9zM743 1909h7v6h-7zM771 1901h6v9h-6zM799 1928h6v6h-6zM854 1924h6v9h-6zM838 1926h9v4h-9zM862 1916h9v7h-9zM891 1923h6v6h-6zM891 1913h8v8h-8zM889 1903h8v5h-8zM879 1931h7v8h-7zM912 1920h7v7h-7zM903 1930h6v5h-6zM927 1923h5v6h-5zM986 1920h4v5h-4zM1007 1918h5v6h-5zM738 1936h8v7h-8zM744 1950h6v6h-6zM787 1938h7v8h-7zM774 1947h6v7h-6zM809 1939h4v4h-4zM836 1939h7v9h-7zM889 1958h6v6h-6zM874 1954h7v5h-7zM869 1942h5v6h-5zM900 1955h6v7h-6zM938 1951h6v7h-6zM942 1956h8v7h-8zM959 1952h5v7h-5zM1170 1936h9v7h-9zM732 1972h7v9h-7zM739 1967h7v9h-7zM741 1977h8v7h-8zM863 1991h8v8h-8zM855 1962h6v8h-6zM835 1985h8v7h-8zM913 1985h5v7h-5zM925 1967h9v6h-9zM931 1974h9v7h-9zM985 1975h4v5h-4zM1143 1975h7v8h-7zM721 1998h5v9h-5zM737 2007h5v9h-5zM729 2001h7v6h-7zM754 2018h8v9h-8zM748 2012h6v8h-6zM783 2000h7v8h-7zM785 2016h6v5h-6zM811 1996h5v9h-5zM835 2014h5v5h-5zM914 1998h6v7h-6zM938 2022h8v7h-8zM1122 2008h7v6h-7zM735 2052h5v5h-5zM759 2024h5v6h-5zM743 2047h4v8h-4zM795 2026h6v6h-6zM784 2053h6v6h-6zM790 2038h5v6h-5zM825 2033h6v7h-6zM842 2051h5v6h-5zM891 2047h6v4h-6zM954 2029h5v9h-5zM957 2039h5v8h-5zM936 2042h7v5h-7zM930 2050h7v5h-7zM1016 2035h7v7h-7zM1026 2041h7v6h-7zM728 2054h4v8h-4zM823 2062h6v6h-6zM807 2054h4v8h-4zM847 2069h5v8h-5zM868 2067h9v5h-9zM882 2063h5v8h-5zM897 2082h5v8h-5zM956 2062h5v7h-5zM930 2079h7v6h-7zM937 2057h6v7h-6zM949 2080h8v9h-8zM983 2059h9v7h-9zM987 2062h8v6h-8zM1073 2059h8v4h-8zM1085 2064h6v6h-6zM1092 2071h9v9h-9zM1195 2059h8v5h-8zM1177 2056h9v7h-9zM730 2083h8v8h-8zM721 2096h5v7h-5zM748 2103h5v5h-5zM774 2097h8v4h-8zM794 2088h6v7h-6zM811 2106h4v4h-4zM845 2113h4v5h-4zM878 2102h7v6h-7zM905 2099h4v6h-4zM918 2100h8v8h-8zM950 2111h5v7h-5zM954 2100h6v9h-6zM985 2107h6v7h-6zM1014 2086h5v7h-5zM1050 2093h5v6h-5zM1132 2088h6v7h-6zM1126 2088h8v6h-8zM1152 2105h5v4h-5zM1184 2089h6v4h-6zM732 2121h7v8h-7zM743 2120h6v5h-6zM770 2118h7v9h-7zM785 2132h8v8h-8zM783 2140h8v4h-8zM831 2125h6v4h-6zM853 2122h4v8h-4zM877 2140h7v8h-7zM878 2125h6v8h-6zM912 2137h6v6h-6zM945 2123h6v9h-6zM943 2119h8v7h-8zM979 2138h9v8h-9zM969 2135h8v6h-8zM1100 2131h6v5h-6zM1138 2130h5v9h-5zM1188 2119h8v8h-8zM733 2161h6v5h-6zM727 2166h7v8h-7zM758 2151h8v9h-8zM789 2166h7v5h-7zM800 2169h5v8h-5zM822 2169h7v8h-7zM878 2167h8v7h-8zM892 2150h5v7h-5zM941 2147h6v7h-6zM1005 2163h7v4h-7zM1060 2163h4v6h-4zM1080 2169h5v5h-5zM1102 2157h5v6h-5zM1125 2170h6v6h-6zM1139 2161h7v6h-7zM734 2201h7v7h-7zM758 2199h7v4h-7zM754 2192h5v6h-5zM748 2193h8v8h-8zM819 2202h7v5h-7zM819 2174h8v8h-8zM846 2201h5v8h-5zM852 2195h8v4h-8zM872 2180h6v8h-6zM879 2180h6v8h-6zM872 2189h5v8h-5zM890 2185h5v7h-5zM896 2182h9v8h-9zM905 2194h8v4h-8zM943 2189h6v5h-6zM947 2183h7v6h-7zM974 2177h9v6h-9zM987 2189h6v7h-6zM980 2204h6v7h-6zM1000 2194h5v4h-5zM1005 2192h6v6h-6zM993 2183h5v7h-5zM1024 2191h7v5h-7zM1052 2193h4v6h-4zM1086 2176h8v7h-8zM1085 2178h9v4h-9zM1136 2175h8v6h-8zM1127 2176h7v9h-7zM1115 2184h6v4h-6zM1177 2177h6v8h-6zM1188 2199h8v7h-8zM738 2214h6v6h-6zM744 2210h5v6h-5zM796 2222h7v5h-7zM794 2226h5v9h-5zM854 2206h5v6h-5zM873 2213h4v6h-4zM882 2208h5v7h-5zM873 2218h5v8h-5zM895 2210h5v5h-5zM894 2231h8v4h-8zM918 2206h8v7h-8zM910 2224h8v8h-8zM955 2220h6v4h-6zM968 2218h4v7h-4zM985 2226h9v5h-9zM993 2214h8v6h-8zM1024 2234h8v6h-8zM1036 2210h8v5h-8zM1065 2215h6v9h-6zM1086 2222h4v8h-4zM1096 2227h6v7h-6zM1102 2229h4v5h-4zM1086 2209h9v6h-9zM1135 2221h6v4h-6zM1165 2216h5v7h-5zM1149 2218h8v7h-8zM1143 2214h5v6h-5zM1146 2231h7v8h-7zM1186 2223h8v5h-8zM730 2250h5v6h-5zM723 2236h5v6h-5zM738 2263h5v4h-5zM741 2255h8v6h-8zM799 2247h8v7h-8zM802 2241h7v6h-7zM844 2266h9v4h-9zM859 2263h5v5h-5zM873 2264h8v6h-8zM894 2242h8v8h-8zM897 2252h6v7h-6zM925 2242h5v9h-5zM954 2235h4v9h-4zM953 2239h7v5h-7zM948 2245h4v4h-4zM965 2260h7v6h-7zM970 2252h7v5h-7zM1013 2238h7v5h-7zM999 2254h9v8h-9zM1029 2235h5v7h-5zM1023 2241h5v7h-5zM1024 2262h8v5h-8zM1074 2235h9v8h-9zM1068 2253h6v8h-6zM1082 2245h8v8h-8zM1111 2250h5v8h-5zM1168 2238h8v5h-8zM1147 2242h6v8h-6zM1149 2249h8v7h-8zM1175 2250h6v6h-6zM1183 2235h8v7h-8z' fill='#484cef'/>
<path d='M1109 1790h5v7h-5zM1177 1812h6v4h-6zM963 1828h6v7h-6zM903 1889h8v9h-8zM835 1930h8v8h-8zM775 1944h7v7h-7zM923 1966h6v7h-6zM834 2035h7v6h-7zM751 2085h4v8h-4zM860 2146h5v4h-5zM945 2162h5v5h-5zM929 2151h6v4h-6zM1138 2156h6v4h-6zM1197 2147h5v9h-5zM719 2179h4v8h-4zM982 2203h5v5h-5zM827 2229h6v8h-6zM927 2230h4v5h-4zM1123 2208h9v5h-9zM1176 2223h5v6h-5zM995 2236h7v7h-7zM1060 2260h8v6h-8zM1186 2240h8v5h-8z' fill='#4755f6'/>
<path d='M767 1785h8v8h-8zM868 1802h5v5h-5zM947 1807h9v4h-9zM781 1811h6v8h-6zM944 1820h5v8h-5zM1112 1828h4v7h-4zM754 1849h5v6h-5zM935 1852h8v6h-8zM959 1846h7v8h-7zM1156 1860h5v5h-5zM1142 1849h9v6h-9zM724 1876h7v8h-7zM906 1880h7v7h-7zM1004 1879h4v6h-4zM996 1902h8v4h-8zM1015 1887h5v9h-5zM1070 1887h8v8h-8zM1157 1885h8v9h-8zM737 1927h5v8h-5zM769 1923h6v5h-6zM750 1918h7v7h-7zM828 1927h4v9h-4zM869 1921h6v5h-6zM915 1926h6v5h-6zM897 1928h8v8h-8zM917 1918h4v7h-4zM1018 1918h8v7h-8zM1202 1911h7v8h-7zM723 1941h6v6h-6zM743 1932h7v6h-7zM821 1941h6v8h-6zM1016 1947h7v9h-7zM1005 1944h6v7h-6zM1137 1949h6v5h-6zM774 1971h7v9h-7zM885 1975h7v7h-7zM945 1978h7v7h-7zM1074 1982h6v8h-6zM1108 1985h5v7h-5zM733 2022h6v6h-6zM873 2006h5v7h-5zM926 2000h7v9h-7zM902 2036h4v5h-4zM990 2036h7v6h-7zM754 2056h7v8h-7zM785 2063h5v8h-5zM910 2061h6v5h-6zM905 2058h6v6h-6zM976 2081h5v7h-5zM794 2113h5v4h-5zM833 2084h8v8h-8zM902 2107h6v8h-6zM1010 2110h8v9h-8zM730 2128h5v4h-5zM728 2121h8v8h-8zM731 2131h5v8h-5zM867 2131h7v5h-7zM904 2133h4v9h-4zM994 2128h4v7h-4zM727 2220h6v9h-6zM747 2216h5v9h-5zM824 2218h7v6h-7zM831 2232h7v7h-7zM1069 2219h7v5h-7zM777 2248h6v6h-6zM828 2252h7v6h-7zM1051 2249h8v4h-8z' fill='#21a3e3'/>
<path d='M714 1798h6v8h-6zM795 1808h7v9h-7zM810 1802h7v8h-7zM834 1794h6v7h-6zM943 1804h6v5h-6zM931 1810h8v6h-8zM951 1807h5v8h-5zM964 1788h7v4h-7zM1001 1802h5v6h-5zM1015 1796h6v8h-6zM1061 1790h6v5h-6zM1074 1795h7v9h-7zM1147 1783h5v7h-5zM724 1841h6v5h-6zM812 1815h5v6h-5zM810 1829h9v5h-9zM836 1838h7v4h-7zM877 1830h5v9h-5zM867 1821h7v4h-7zM879 1819h6v6h-6zM922 1825h5v6h-5zM902 1819h5v7h-5zM944 1819h4v4h-4zM965 1812h6v4h-6zM972 1832h4v8h-4zM1045 1831h9v7h-9zM1073 1838h7v7h-7zM1096 1813h5v8h-5zM1139 1824h5v6h-5zM799 1857h9v8h-9zM862 1865h7v7h-7zM842 1848h7v7h-7zM861 1865h5v7h-5zM841 1852h9v9h-9zM880 1870h4v8h-4zM894 1864h5v7h-5zM895 1848h4v6h-4zM884 1858h8v6h-8zM917 1861h8v6h-8zM910 1868h8v5h-8zM898 1865h4v8h-4zM952 1860h5v7h-5zM968 1862h8v4h-8zM985 1860h5v7h-5zM966 1851h9v6h-9zM1009 1851h4v5h-4zM1008 1854h9v7h-9zM1043 1852h8v6h-8zM1077 1866h9v6h-9zM1185 1852h4v7h-4zM713 1891h7v5h-7zM714 1887h5v9h-5zM770 1887h4v7h-4zM863 1884h6v5h-6zM860 1887h7v6h-7zM906 1895h4v7h-4zM903 1892h5v8h-5zM937 1896h8v7h-8zM1027 1877h5v6h-5zM1123 1894h6v7h-6zM1192 1896h6v6h-6zM740 1923h7v8h-7zM733 1922h8v6h-8zM737 1920h5v9h-5zM787 1914h8v5h-8zM803 1902h7v8h-7zM833 1919h5v8h-5zM810 1905h7v8h-7zM936 1927h4v7h-4zM958 1917h4v8h-4zM962 1910h5v6h-5zM960 1914h6v6h-6zM1095 1915h5v9h-5zM1157 1902h6v7h-6zM1164 1918h6v8h-6zM766 1960h6v4h-6zM760 1941h7v8h-7zM812 1957h8v5h-8zM830 1945h9v6h-9zM809 1951h7v4h-7zM862 1941h7v8h-7zM906 1934h5v4h-5zM930 1960h7v4h-7zM994 1963h8v5h-8zM1010 1961h5v8h-5zM1045 1950h8v7h-8zM1068 1950h8v6h-8zM735 1985h8v5h-8zM743 1984h6v6h-6zM760 1985h5v4h-5zM774 1963h6v5h-6zM814 1988h9v9h-9zM822 1976h4v7h-4zM805 1978h5v6h-5zM854 1976h8v6h-8zM860 1971h8v4h-8zM892 1968h5v6h-5zM897 1970h8v4h-8zM935 1983h7v9h-7zM966 1989h6v6h-6zM1002 1980h8v7h-8zM1071 1971h6v6h-6zM1106 1964h6v8h-6zM1140 1964h8v4h-8zM1145 1967h6v5h-6zM724 2019h9v8h-9zM715 2010h8v5h-8zM738 1994h6v5h-6zM754 2017h6v5h-6zM770 2012h4v9h-4zM800 2004h6v6h-6zM828 2006h7v4h-7zM823 1998h8v7h-8zM846 2021h7v9h-7zM886 1998h5v8h-5zM867 2018h8v8h-8zM888 2023h6v4h-6zM920 2013h6v7h-6zM951 2006h7v7h-7zM930 2014h7v6h-7zM1109 1994h6v8h-6zM1158 1997h4v7h-4zM1203 2022h6v7h-6zM726 2034h9v6h-9zM732 2034h8v6h-8zM782 2038h7v9h-7zM787 2047h6v5h-6zM801 2049h6v4h-6zM815 2045h8v8h-8zM861 2045h7v6h-7zM848 2034h5v5h-5zM917 2042h5v5h-5zM925 2052h7v5h-7zM896 2041h6v9h-6zM919 2024h8v6h-8zM938 2040h4v5h-4zM977 2048h8v5h-8zM987 2049h5v7h-5zM1037 2051h8v7h-8zM732 2066h7v6h-7zM722 2055h4v6h-4zM735 2072h7v4h-7zM746 2069h7v7h-7zM799 2060h6v7h-6zM801 2057h5v8h-5zM788 2077h5v7h-5zM776 2063h5v5h-5zM809 2054h7v7h-7zM818 2066h6v9h-6zM924 2054h7v8h-7zM908 2055h7v7h-7zM953 2065h5v5h-5zM942 2072h8v4h-8zM1030 2062h6v5h-6zM1160 2061h8v8h-8zM728 2111h9v8h-9zM716 2103h8v9h-8zM746 2088h6v8h-6zM752 2097h8v5h-8zM782 2096h4v8h-4zM822 2096h5v7h-5zM825 2101h5v5h-5zM817 2101h5v7h-5zM848 2083h4v9h-4zM877 2107h7v6h-7zM909 2108h9v5h-9zM946 2106h8v5h-8zM933 2112h6v6h-6zM975 2094h9v8h-9zM1034 2099h5v5h-5zM1032 2088h8v5h-8zM1072 2086h5v7h-5zM1203 2109h4v9h-4zM712 2129h7v6h-7zM721 2115h6v7h-6zM756 2138h6v5h-6zM804 2124h5v6h-5zM807 2122h6v6h-6zM908 2114h5v9h-5zM929 2141h7v7h-7zM941 2137h7v7h-7zM959 2129h9v4h-9zM975 2143h5v7h-5zM1002 2118h6v9h-6zM1073 2139h6v5h-6zM1083 2134h6v9h-6zM766 2151h8v7h-8zM783 2171h5v9h-5zM820 2144h5v7h-5zM819 2162h5v5h-5zM864 2156h6v7h-6zM845 2164h8v8h-8zM837 2151h7v6h-7zM892 2155h8v7h-8zM908 2175h7v4h-7zM913 2163h8v8h-8zM1015 2167h5v6h-5zM991 2151h6v7h-6zM1031 2171h6v8h-6zM1023 2170h7v6h-7zM1072 2149h9v7h-9zM1100 2159h6v8h-6zM1123 2163h4v6h-4zM1154 2167h7v9h-7zM1196 2166h9v8h-9zM1195 2165h6v6h-6zM1190 2165h5v7h-5zM732 2185h7v9h-7zM723 2182h6v8h-6zM810 2194h8v8h-8zM844 2178h9v7h-9zM711 2219h5v7h-5zM791 2234h5v7h-5zM829 2234h4v6h-4zM817 2217h5v7h-5zM829 2225h8v8h-8zM818 2225h8v8h-8zM950 2225h7v7h-7zM832 2257h7v6h-7zM872 2251h9v7h-9zM946 2235h8v8h-8zM1126 2242h5v7h-5z' fill='#1caadf'/>
<path d='M739 1784h4v8h-4zM751 1800h8v6h-8zM759 1789h4v8h-4zM771 1807h5v6h-5zM833 1810h7v8h-7zM906 1799h8v7h-8zM920 1807h8v8h-8zM710 1821h6v7h-6zM800 1828h7v9h-7zM805 1827h7v6h-7zM825 1817h5v9h-5zM942 1839h8v8h-8zM1007 1824h8v9h-8zM1037 1837h4v8h-4zM1081 1837h4v8h-4zM1073 1816h8v6h-8zM726 1858h4v6h-4zM746 1864h5v8h-5zM777 1862h7v9h-7zM772 1849h5v7h-5zM795 1871h5v4h-5zM779 1855h5v7h-5zM804 1869h7v6h-7zM836 1841h9v7h-9zM880 1859h5v8h-5zM890 1856h6v5h-6zM865 1856h7v7h-7zM901 1849h6v4h-6zM949 1849h5v7h-5zM942 1855h6v5h-6zM1097 1852h6v8h-6zM762 1891h4v8h-4zM757 1896h8v8h-8zM773 1875h5v7h-5zM834 1889h8v8h-8zM842 1874h5v5h-5zM869 1893h7v4h-7zM893 1889h5v7h-5zM874 1900h8v6h-8zM956 1899h7v4h-7zM954 1896h7v7h-7zM966 1880h8v5h-8zM1005 1902h6v5h-6zM1005 1877h8v4h-8zM1111 1878h9v5h-9zM731 1921h9v5h-9zM753 1910h8v9h-8zM769 1929h7v8h-7zM789 1915h7v8h-7zM783 1919h7v8h-7zM776 1911h6v5h-6zM812 1909h7v6h-7zM921 1927h5v7h-5zM907 1919h5v9h-5zM944 1910h8v7h-8zM995 1910h4v4h-4zM997 1908h7v6h-7zM1007 1927h4v5h-4zM1076 1902h6v6h-6zM1120 1907h9v8h-9zM729 1938h7v9h-7zM760 1957h5v7h-5zM826 1954h6v6h-6zM822 1948h5v9h-5zM843 1954h7v7h-7zM845 1938h5v8h-5zM925 1945h7v5h-7zM906 1947h6v9h-6zM920 1943h6v9h-6zM952 1933h6v4h-6zM954 1953h5v5h-5zM968 1935h6v8h-6zM973 1943h5v8h-5zM1013 1959h5v9h-5zM1085 1941h5v7h-5zM1165 1954h4v6h-4zM767 1972h8v5h-8zM778 1968h9v8h-9zM803 1962h8v8h-8zM804 1988h7v9h-7zM827 1977h6v5h-6zM858 1981h5v4h-5zM885 1981h9v9h-9zM881 1967h7v7h-7zM907 1969h7v9h-7zM905 1963h9v8h-9zM946 1985h5v9h-5zM942 1973h7v7h-7zM975 1990h5v5h-5zM999 1969h9v5h-9zM1033 1971h7v7h-7zM1018 1985h7v7h-7zM758 2019h6v9h-6zM767 2003h6v5h-6zM794 2006h8v9h-8zM828 2015h8v7h-8zM803 2014h8v8h-8zM831 2019h9v4h-9zM891 2013h4v5h-4zM924 2015h7v8h-7zM963 2009h7v7h-7zM997 2001h9v8h-9zM1046 2010h6v4h-6zM1075 1996h6v8h-6zM1067 1997h6v5h-6zM1097 2020h8v5h-8zM1114 2001h9v6h-9zM1166 2021h6v6h-6zM710 2036h7v6h-7zM760 2028h8v8h-8zM783 2031h5v8h-5zM791 2028h6v8h-6zM805 2040h5v5h-5zM827 2024h5v5h-5zM911 2040h8v8h-8zM932 2036h6v4h-6zM1133 2048h7v7h-7zM1169 2038h6v9h-6zM765 2083h9v6h-9zM833 2082h5v8h-5zM810 2066h5v7h-5zM853 2079h5v5h-5zM879 2074h4v8h-4zM914 2074h9v6h-9zM944 2073h9v6h-9zM988 2083h5v7h-5zM1052 2063h4v5h-4zM735 2084h9v6h-9zM730 2109h8v5h-8zM749 2094h7v5h-7zM747 2089h8v8h-8zM795 2091h9v6h-9zM829 2087h5v8h-5zM838 2094h5v6h-5zM856 2104h9v4h-9zM914 2091h5v7h-5zM1010 2104h8v9h-8zM808 2115h6v6h-6zM807 2140h9v4h-9zM852 2129h4v6h-4zM839 2142h9v8h-9zM919 2131h8v8h-8zM1016 2130h7v5h-7zM1022 2127h7v4h-7zM1064 2125h8v7h-8zM1067 2135h5v7h-5zM1166 2135h5v7h-5zM730 2161h6v8h-6zM756 2143h6v8h-6zM757 2173h8v7h-8zM773 2149h5v7h-5zM813 2170h6v5h-6zM835 2150h8v8h-8zM845 2148h8v7h-8zM885 2163h7v7h-7zM894 2147h6v6h-6zM896 2159h5v9h-5zM901 2144h6v8h-6zM985 2174h7v7h-7zM972 2158h8v9h-8zM1041 2151h5v5h-5zM1054 2175h4v4h-4zM1080 2144h8v7h-8zM1146 2157h9v9h-9zM739 2190h8v6h-8zM771 2181h6v9h-6zM776 2191h5v7h-5zM813 2178h7v5h-7zM807 2178h5v5h-5zM904 2192h4v4h-4zM733 2209h6v8h-6zM743 2218h6v7h-6zM744 2232h4v8h-4zM801 2223h6v4h-6zM784 2224h5v8h-5zM1068 2208h8v4h-8zM1061 2204h5v9h-5zM1146 2210h7v8h-7zM733 2248h6v4h-6zM713 2245h6v8h-6zM730 2241h6v6h-6zM746 2250h7v6h-7zM748 2261h8v4h-8zM822 2259h5v5h-5z' fill='#13b0d7'/>
<path d='M731 1806h8v9h-8zM718 1792h9v5h-9zM800 1782h5v8h-5zM832 1808h8v5h-8zM910 1809h8v4h-8zM918 1804h5v8h-5zM731 1813h8v7h-8zM716 1818h8v7h-8zM772 1827h6v5h-6zM800 1841h8v7h-8zM840 1833h6v4h-6zM920 1828h9v7h-9zM924 1822h7v6h-7zM990 1817h6v6h-6zM1137 1822h7v9h-7zM1161 1837h7v5h-7zM1158 1838h7v9h-7zM736 1869h6v7h-6zM723 1860h8v7h-8zM712 1860h5v5h-5zM719 1847h4v6h-4zM721 1850h6v7h-6zM760 1870h7v9h-7zM747 1869h5v8h-5zM746 1865h6v5h-6zM749 1843h7v6h-7zM782 1847h7v8h-7zM806 1845h6v7h-6zM811 1861h8v5h-8zM819 1859h7v6h-7zM831 1846h8v9h-8zM836 1871h4v4h-4zM875 1866h6v7h-6zM903 1857h9v4h-9zM906 1858h5v5h-5zM930 1865h7v5h-7zM934 1862h8v9h-8zM953 1843h5v8h-5zM926 1871h8v7h-8zM1007 1842h6v5h-6zM1081 1856h6v5h-6zM1115 1859h8v5h-8zM760 1880h8v5h-8zM798 1889h5v5h-5zM792 1871h9v7h-9zM780 1888h5v7h-5zM819 1878h9v7h-9zM816 1893h5v9h-5zM859 1880h5v8h-5zM842 1892h4v6h-4zM921 1871h9v9h-9zM968 1890h6v7h-6zM967 1889h6v5h-6zM977 1888h7v9h-7zM727 1903h4v8h-4zM770 1913h8v5h-8zM759 1904h9v8h-9zM799 1927h6v6h-6zM799 1918h7v7h-7zM805 1908h8v5h-8zM878 1905h7v5h-7zM915 1913h6v8h-6zM914 1906h5v4h-5zM954 1915h5v8h-5zM1000 1912h4v7h-4zM1046 1915h9v9h-9zM1095 1917h6v9h-6zM719 1944h9v8h-9zM739 1938h5v4h-5zM771 1945h7v8h-7zM759 1960h5v8h-5zM793 1945h9v5h-9zM772 1959h7v9h-7zM777 1934h5v5h-5zM773 1957h4v5h-4zM827 1943h6v6h-6zM853 1958h6v7h-6zM886 1958h6v6h-6zM898 1957h7v5h-7zM905 1951h6v4h-6zM964 1957h8v6h-8zM983 1960h7v8h-7zM1001 1957h6v5h-6zM1093 1932h4v9h-4zM712 1993h5v5h-5zM769 1981h7v8h-7zM786 1990h7v8h-7zM795 1969h8v9h-8zM878 1976h5v8h-5zM922 1991h6v7h-6zM945 1987h6v6h-6zM926 1975h9v5h-9zM994 1985h6v8h-6zM1188 1973h7v4h-7zM732 2012h5v8h-5zM800 2020h6v7h-6zM802 2018h5v5h-5zM791 2018h7v6h-7zM803 2006h4v8h-4zM806 2016h8v8h-8zM813 2020h6v6h-6zM862 2017h5v8h-5zM862 2000h6v7h-6zM864 2010h7v5h-7zM896 2004h7v5h-7zM902 1996h5v7h-5zM909 2023h5v5h-5zM953 2010h5v7h-5zM927 2020h6v6h-6zM940 2014h8v8h-8zM950 2009h4v7h-4zM947 2020h8v4h-8zM1010 2014h6v5h-6zM1048 2012h7v6h-7zM747 2039h9v6h-9zM781 2045h5v7h-5zM821 2045h7v8h-7zM812 2042h6v7h-6zM831 2046h6v4h-6zM827 2035h8v7h-8zM910 2027h9v8h-9zM1000 2031h7v8h-7zM1083 2052h5v7h-5zM1125 2029h6v8h-6zM733 2081h6v5h-6zM716 2065h7v8h-7zM764 2076h6v7h-6zM776 2063h4v6h-4zM784 2067h6v8h-6zM791 2065h7v4h-7zM832 2059h8v5h-8zM900 2064h5v9h-5zM929 2057h4v5h-4zM992 2069h4v4h-4zM1041 2073h8v8h-8zM1062 2060h8v6h-8zM721 2098h8v7h-8zM746 2111h5v4h-5zM769 2086h6v8h-6zM743 2103h5v4h-5zM798 2092h6v7h-6zM800 2097h6v6h-6zM828 2112h9v6h-9zM829 2087h5v7h-5zM810 2109h7v4h-7zM857 2089h5v8h-5zM872 2097h7v6h-7zM881 2096h4v7h-4zM895 2094h9v5h-9zM905 2091h7v6h-7zM896 2109h8v6h-8zM931 2086h7v5h-7zM949 2113h8v5h-8zM940 2094h5v5h-5zM986 2101h8v7h-8zM961 2096h9v9h-9zM1039 2087h5v5h-5zM1092 2089h7v4h-7zM742 2116h7v5h-7zM751 2142h5v6h-5zM782 2132h8v7h-8zM789 2126h9v8h-9zM789 2114h4v7h-4zM852 2132h5v4h-5zM848 2130h6v6h-6zM899 2128h4v6h-4zM1022 2143h6v7h-6zM1146 2134h8v8h-8zM737 2158h7v4h-7zM723 2158h8v9h-8zM795 2162h8v4h-8zM802 2151h6v5h-6zM820 2151h5v6h-5zM830 2171h8v5h-8zM883 2158h8v5h-8zM919 2163h5v6h-5zM953 2160h7v4h-7zM951 2173h5v4h-5zM931 2174h9v6h-9zM968 2155h5v4h-5zM1013 2172h6v5h-6zM1029 2158h7v4h-7zM781 2201h4v5h-4zM798 2184h4v6h-4zM791 2200h7v5h-7zM828 2204h8v5h-8zM838 2181h8v9h-8zM1067 2181h5v5h-5zM1063 2197h6v6h-6zM1180 2182h4v8h-4zM740 2207h7v5h-7zM735 2209h7v6h-7zM800 2206h6v6h-6zM780 2214h9v5h-9zM806 2221h8v5h-8zM950 2234h5v5h-5zM992 2231h7v8h-7zM1136 2231h6v8h-6zM751 2249h9v4h-9zM801 2264h8v5h-8zM783 2256h5v6h-5zM823 2242h8v7h-8zM814 2255h7v9h-7zM962 2259h5v8h-5zM1015 2260h4v7h-4z' fill='#05b6ce'/>
<polygon points='1095.0,2046.7 1129.1,2042.9 1207.2,2061.6 1207.2,2189.5 1159.4,2182.0 1110.1,2193.3 1053.4,2185.8 1062.8,2121.9 1076.1,2076.7' fill='#347afd' fill-opacity='0.85'/>
<polygon points='894.2,2005.3 973.8,2012.8 1053.4,2042.9 1076.1,2076.7 1062.8,2121.9 1053.4,2178.2 977.6,2182.0 890.5,2182.0' fill='#347afd' fill-opacity='0.85'/>
<polygon points='775.1,1979.3 870.2,1987.3 869.9,2121.9 835.8,2134.7 769.4,2115.9' fill='#2f81fa' fill-opacity='0.85'/>
<polygon points='1042.3,1838.7 1125.2,1829.7 1130.3,1875.9 1118.2,1877.9 1042.3,1861.8' fill='#2f81fa' fill-opacity='0.85'/>
<polygon points='1133.3,1823.7 1207.2,1808.6 1207.2,2061.6 1129.1,2042.9 1133.3,1984.3' fill='#347afd' fill-opacity='0.85'/>
<polygon points='1009.6,1855.1 1116.8,1878.6 1126.3,1885.2 1130.2,1906.0 1126.3,1934.2 1120.7,1949.3 1113.1,1964.2 1103.0,1996.4 1091.8,2024.5 981.6,2002.4 987.7,1971.9' fill='none' stroke='#2d8cf3' stroke-width='20' stroke-linejoin='round'/>
<polygon points='1009.6,1855.1 1116.8,1878.6 1126.3,1885.2 1130.2,1906.0 1126.3,1934.2 1120.7,1949.3 1113.1,1964.2 1103.0,1996.4 1091.8,2024.5 981.6,2002.4 987.7,1971.9' fill='#2a92ee'/>
<polygon points='1016.3,1937.0 1116.8,1954.0 1114.0,1971.9 1103.6,1973.8 1101.7,1996.4 1082.7,2017.1 999.2,2000.2' fill='#9fc942'/>
<polygon points='986.7,1968.0 1016.4,1934.1 999.6,2000.4 986.7,1997.5' fill='#48cb86'/>
<polyline points='713.1,1849.8 829.8,1842.2 959.3,1831.7 1032.1,1826.7 1207.2,1801.6' fill='none' stroke='#22a1e4' stroke-width='16.8'/>
<polyline points='1138.6,1825.6 1136.2,1862.8 1131.1,1912.5 1126.2,1962.2 1108.5,2021.9 1088.5,2051.7 1073.5,2081.5 1063.5,2121.3 1053.4,2161.1 1043.5,2210.8 1030.9,2268.5' fill='none' stroke='#22a1e4' stroke-width='5.9' stroke-linejoin='round'/>
<polyline points='713.1,1943.9 838.1,1975.8 974.5,2009.6 1091.9,2047.3' fill='none' stroke='#22a1e4' stroke-width='5.9' stroke-linejoin='round'/>
<polyline points='868.2,1853.3 880.7,1972.2 875.3,2034.5 868.1,2111.4 858.1,2185.2 848.1,2268.5' fill='none' stroke='#22a1e4' stroke-width='5.9' stroke-linejoin='round'/>
<polyline points='788.7,1981.0 769.9,2119.5' fill='none' stroke='#22a1e4' stroke-width='5.9' stroke-linejoin='round'/>
<polyline points='1002.0,1851.8 982.3,2001.8' fill='none' stroke='#22a1e4' stroke-width='5.9' stroke-linejoin='round'/>
<polyline points='977.8,2010.0 1053.9,2093.8' fill='none' stroke='#22a1e4' stroke-width='5.9' stroke-linejoin='round'/>
<polyline points='1103.0,2042.6 1207.2,2064.7' fill='none' stroke='#22a1e4' stroke-width='3.0' stroke-opacity='0.8'/>
<polyline points='894.9,2130.1 1046.0,2101.1' fill='none' stroke='#22a1e4' stroke-width='3.0' stroke-opacity='0.8'/>
<rect x='714.5' y='1789.7' width='7.5' height='29.7' fill='#eaba31'/>
<rect x='734.3' y='1784.8' width='7.4' height='39.6' fill='#eaba31'/>
<rect x='759.0' y='1864.0' width='24.8' height='19.8' fill='#fec13a'/>
<rect x='729.3' y='1861.5' width='9.9' height='17.3' fill='#eaba31'/>
<rect x='853.0' y='1856.5' width='7.5' height='14.9' fill='#eaba31'/>
<rect x='915.0' y='2007.5' width='12.3' height='19.8' fill='#fec13a'/>
<rect x='801.0' y='1921.0' width='7.5' height='5.0' fill='#eaba31'/>
<rect x='1113.0' y='1928.0' width='5.0' height='8.0' fill='#fec13a'/>
<rect x='793.7' y='1992.7' width='29.7' height='34.6' fill='#15afd9'/>
<rect x='808.5' y='2081.8' width='34.7' height='34.6' fill='#48cb86'/>
<rect x='783.8' y='2057.0' width='19.8' height='19.8' fill='#05b6ce'/>
</g>
<linearGradient id='cb1' x1='0' y1='1' x2='0' y2='0'>
<stop offset='0.000' stop-color='#3e26a8'/>
<stop offset='0.048' stop-color='#4332cb'/>
<stop offset='0.095' stop-color='#4741e5'/>
<stop offset='0.143' stop-color='#4852f4'/>
<stop offset='0.190' stop-color='#4563fd'/>
<stop offset='0.238' stop-color='#3875fe'/>
<stop offset='0.286' stop-color='#2e87f7'/>
<stop offset='0.333' stop-color='#2797eb'/>
<stop offset='0.381' stop-color='#20a5e3'/>
<stop offset='0.429' stop-color='#12b1d6'/>
<stop offset='0.476' stop-color='#02bac3'/>
<stop offset='0.524' stop-color='#24c1ae'/>
<stop offset='0.571' stop-color='#37c897'/>
<stop offset='0.619' stop-color='#57cc7a'/>
<stop offset='0.667' stop-color='#81cc59'/>
<stop offset='0.714' stop-color='#abc739'/>
<stop offset='0.762' stop-color='#d1bf27'/>
<stop offset='0.810' stop-color='#f0ba36'/>
<stop offset='0.857' stop-color='#fec338'/>
<stop offset='0.905' stop-color='#fad62d'/>
<stop offset='0.952' stop-color='#f5e924'/>
<stop offset='1.000' stop-color='#f9fb15'/>
<stop offset='1' stop-color='#f9fb15'/>
</linearGradient>
<rect x='1225.6' y='7.5' width='29.0' height='487.3' fill='url(#cb1)' stroke='#222' stroke-width='1.1'/>
<text x='1262.6' y='502.0' font-size='17.5' font-family="'Liberation Sans', sans-serif">0</text>
<text x='1262.6' y='404.5' font-size='17.5' font-family="'Liberation Sans', sans-serif">0.2</text>
<text x='1262.6' y='307.1' font-size='17.5' font-family="'Liberation Sans', sans-serif">0.4</text>
<text x='1262.6' y='209.6' font-size='17.5' font-family="'Liberation Sans', sans-serif">0.6</text>
<text x='1262.6' y='112.2' font-size='17.5' font-family="'Liberation Sans', sans-serif">0.8</text>
<text x='1262.6' y='14.7' font-size='17.5' font-family="'Liberation Sans', sans-serif">1</text>
<path d='M1254.6,494.8h-4M1254.6,397.3h-4M1254.6,299.9h-4M1254.6,202.4h-4M1254.6,105.0h-4M1254.6,7.5h-4' stroke='#222' stroke-width='1.2'/>
<linearGradient id='cb2' x1='0' y1='1' x2='0' y2='0'>
<stop offset='0.000' stop-color='#3e26a8'/>
<stop offset='0.048' stop-color='#4332cb'/>
<stop offset='0.095' stop-color='#4741e5'/>
<stop offset='0.143' stop-color='#4852f4'/>
<stop offset='0.190' stop-color='#4563fd'/>
<stop offset='0.238' stop-color='#3875fe'/>
<stop offset='0.286' stop-color='#2e87f7'/>
<stop offset='0.333' stop-color='#2797eb'/>
<stop offset='0.381' stop-color='#20a5e3'/>
<stop offset='0.429' stop-color='#12b1d6'/>
<stop offset='0.476' stop-color='#02bac3'/>
<stop offset='0.524' stop-color='#24c1ae'/>
<stop offset='0.571' stop-color='#37c897'/>
<stop offset='0.619' stop-color='#57cc7a'/>
<stop offset='0.667' stop-color='#81cc59'/>
<stop offset='0.714' stop-color='#abc739'/>
<stop offset='0.762' stop-color='#d1bf27'/>
<stop offset='0.810' stop-color='#f0ba36'/>
<stop offset='0.857' stop-color='#fec338'/>
<stop offset='0.905' stop-color='#fad62d'/>
<stop offset='0.952' stop-color='#f5e924'/>
<stop offset='1.000' stop-color='#f9fb15'/>
<stop offset='1' stop-color='#f9fb15'/>
</linearGradient>
<rect x='1224.1' y='599.6' width='29.2' height='482.9' fill='url(#cb2)' stroke='#222' stroke-width='1.1'/>
<text x='1261.3' y='1089.7' font-size='17.5' font-family="'Liberation Sans', sans-serif">0</text>
<text x='1261.3' y='993.1' font-size='17.5' font-family="'Liberation Sans', sans-serif">0.2</text>
<text x='1261.3' y='896.5' font-size='17.5' font-family="'Liberation Sans', sans-serif">0.4</text>
<text x='1261.3' y='800.0' font-size='17.5' font-family="'Liberation Sans', sans-serif">0.6</text>
<text x='1261.3' y='703.4' font-size='17.5' font-family="'Liberation Sans', sans-serif">0.8</text>
<text x='1261.3' y='606.8' font-size='17.5' font-family="'Liberation Sans', sans-serif">1</text>
<path d='M1253.3,1082.5h-4M1253.3,985.9h-4M1253.3,889.3h-4M1253.3,792.8h-4M1253.3,696.2h-4M1253.3,599.6h-4' stroke='#222' stroke-width='1.2'/>
<linearGradient id='cb3' x1='0' y1='1' x2='0' y2='0'>
<stop offset='0.000' stop-color='#3e26a8'/>
<stop offset='0.048' stop-color='#4332cb'/>
<stop offset='0.095' stop-color='#4741e5'/>
<stop offset='0.143' stop-color='#4852f4'/>
<stop offset='0.190' stop-color='#4563fd'/>
<stop offset='0.238' stop-color='#3875fe'/>
<stop offset='0.286' stop-color='#2e87f7'/>
<stop offset='0.333' stop-color='#2797eb'/>
<stop offset='0.381' stop-color='#20a5e3'/>
<stop offset='0.429' stop-color='#12b1d6'/>
<stop offset='0.476' stop-color='#02bac3'/>
<stop offset='0.524' stop-color='#24c1ae'/>
<stop offset='0.571' stop-color='#37c897'/>
<stop offset='0.619' stop-color='#57cc7a'/>
<stop offset='0.667' stop-color='#81cc59'/>
<stop offset='0.714' stop-color='#abc739'/>
<stop offset='0.762' stop-color='#d1bf27'/>
<stop offset='0.810' stop-color='#f0ba36'/>
<stop offset='0.857' stop-color='#fec338'/>
<stop offset='0.905' stop-color='#fad62d'/>
<stop offset='0.952' stop-color='#f5e924'/>
<stop offset='1.000' stop-color='#f9fb15'/>
<stop offset='1' stop-color='#f9fb15'/>
</linearGradient>
<rect x='1242.4' y='1193.1' width='30.6' height='485.2' fill='url(#cb3)' stroke='#222' stroke-width='1.1'/>
<text x='1281.0' y='1685.5' font-size='17.5' font-family="'Liberation Sans', sans-serif">0</text>
<text x='1281.0' y='1588.5' font-size='17.5' font-family="'Liberation Sans', sans-serif">0.2</text>
<text x='1281.0' y='1491.4' font-size='17.5' font-family="'Liberation Sans', sans-serif">0.4</text>
<text x='1281.0' y='1394.4' font-size='17.5' font-family="'Liberation Sans', sans-serif">0.6</text>
<text x='1281.0' y='1297.3' font-size='17.5' font-family="'Liberation Sans', sans-serif">0.8</text>
<text x='1281.0' y='1200.3' font-size='17.5' font-family="'Liberation Sans', sans-serif">1</text>
<path d='M1273.0,1678.3h-4M1273.0,1581.3h-4M1273.0,1484.2h-4M1273.0,1387.2h-4M1273.0,1290.1h-4M1273.0,1193.1h-4' stroke='#222' stroke-width='1.2'/>
<linearGradient id='cb4' x1='0' y1='1' x2='0' y2='0'>
<stop offset='0.000' stop-color='#3e26a8'/>
<stop offset='0.048' stop-color='#4332cb'/>
<stop offset='0.095' stop-color='#4741e5'/>
<stop offset='0.143' stop-color='#4852f4'/>
<stop offset='0.190' stop-color='#4563fd'/>
<stop offset='0.238' stop-color='#3875fe'/>
<stop offset='0.286' stop-color='#2e87f7'/>
<stop offset='0.333' stop-color='#2797eb'/>
<stop offset='0.381' stop-color='#20a5e3'/>
<stop offset='0.429' stop-color='#12b1d6'/>
<stop offset='0.476' stop-color='#02bac3'/>
<stop offset='0.524' stop-color='#24c1ae'/>
<stop offset='0.571' stop-color='#37c897'/>
<stop offset='0.619' stop-color='#57cc7a'/>
<stop offset='0.667' stop-color='#81cc59'/>
<stop offset='0.714' stop-color='#abc739'/>
<stop offset='0.762' stop-color='#d1bf27'/>
<stop offset='0.810' stop-color='#f0ba36'/>
<stop offset='0.857' stop-color='#fec338'/>
<stop offset='0.905' stop-color='#fad62d'/>
<stop offset='0.952' stop-color='#f5e924'/>
<stop offset='1.000' stop-color='#f9fb15'/>
<stop offset='1' stop-color='#f9fb15'/>
</linearGradient>
<rect x='1228.2' y='1783.1' width='29.8' height='484.9' fill='url(#cb4)' stroke='#222' stroke-width='1.1'/>
<text x='1266.0' y='2275.2' font-size='17.5' font-family="'Liberation Sans', sans-serif">0</text>
<text x='1266.0' y='2178.2' font-size='17.5' font-family="'Liberation Sans', sans-serif">0.2</text>
<text x='1266.0' y='2081.2' font-size='17.5' font-family="'Liberation Sans', sans-serif">0.4</text>
<text x='1266.0' y='1984.3' font-size='17.5' font-family="'Liberation Sans', sans-serif">0.6</text>
<text x='1266.0' y='1887.3' font-size='17.5' font-family="'Liberation Sans', sans-serif">0.8</text>
<text x='1266.0' y='1790.3' font-size='17.5' font-family="'Liberation Sans', sans-serif">1</text>
<path d='M1258.0,2268.0h-4M1258.0,2171.0h-4M1258.0,2074.0h-4M1258.0,1977.1h-4M1258.0,1880.1h-4M1258.0,1783.1h-4' stroke='#222' stroke-width='1.2'/>
</svg></body></html>
